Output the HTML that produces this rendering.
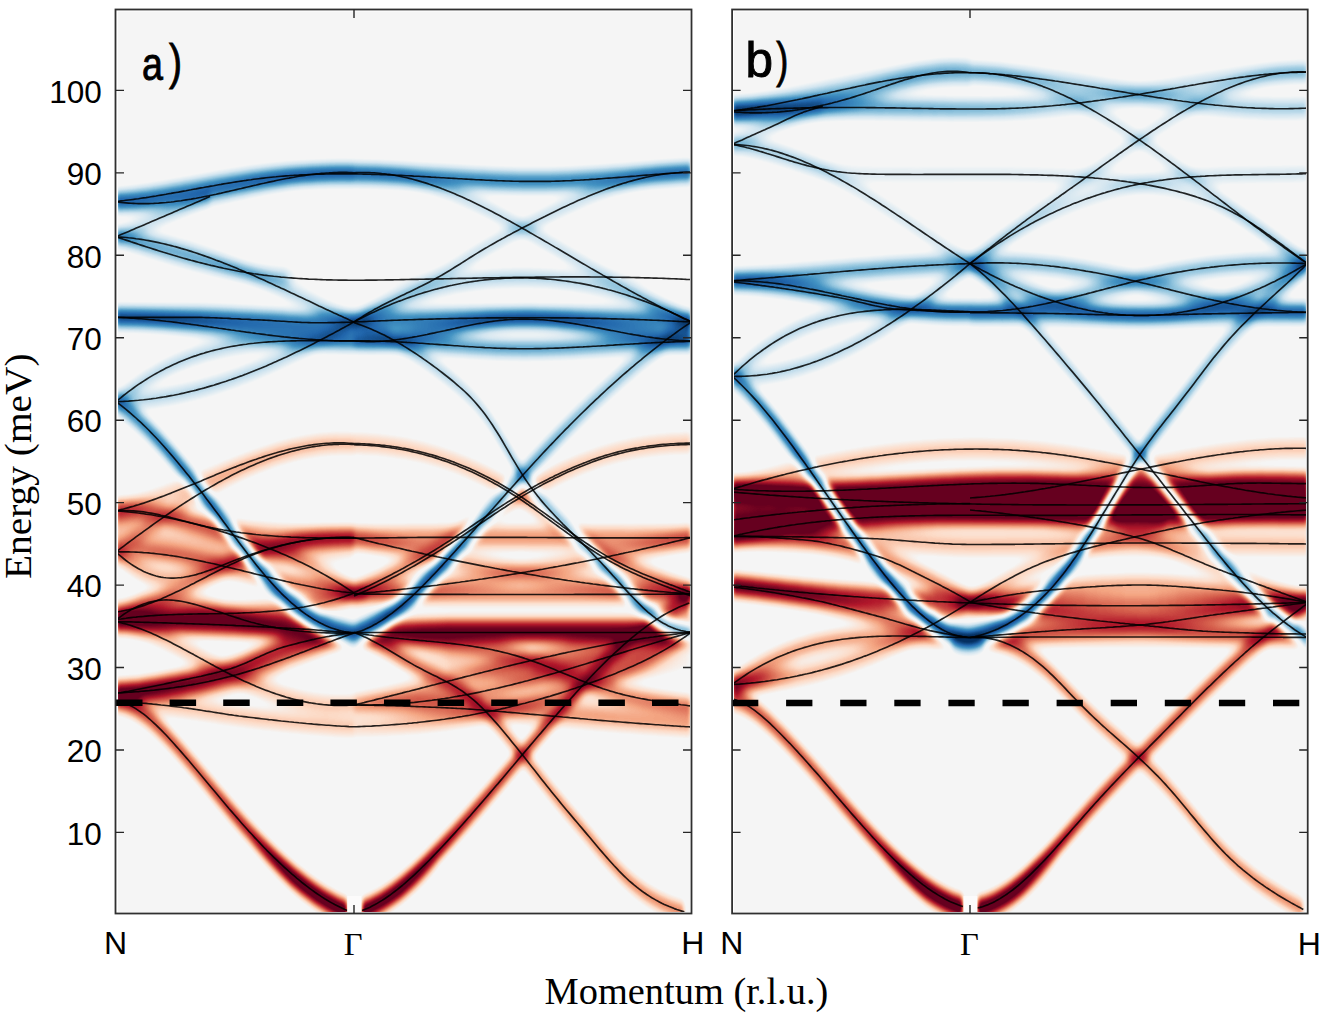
<!DOCTYPE html><html><head><meta charset="utf-8"><style>
html,body{margin:0;padding:0;background:#fff;}
svg{display:block}
</style></head><body>
<svg width="1321" height="1014" viewBox="0 0 1321 1014">
<defs>
<clipPath id="clipa"><rect x="118" y="11.5" width="572" height="900.5"/></clipPath>
<filter id="cma" x="86" y="-20" width="636" height="960" filterUnits="userSpaceOnUse" color-interpolation-filters="sRGB">
<feGaussianBlur stdDeviation="2.2 5.5"/>
<feComponentTransfer><feFuncR type="table" tableValues="0.0196 0.0196 0.1294 0.2627 0.5725 0.8196 0.9608 0.9608 0.9922 0.9569 0.8392 0.6980 0.4039 0.4039"/><feFuncG type="table" tableValues="0.1882 0.1882 0.4000 0.5765 0.7725 0.8980 0.9647 0.9647 0.8588 0.6471 0.3765 0.0941 0.0000 0.0000"/><feFuncB type="table" tableValues="0.3804 0.3804 0.6745 0.7647 0.8706 0.9412 0.9647 0.9647 0.7804 0.5098 0.3020 0.1686 0.1216 0.1216"/></feComponentTransfer>
</filter>
<clipPath id="clipb"><rect x="734" y="11.5" width="572" height="900.5"/></clipPath>
<filter id="cmb" x="702" y="-20" width="636" height="960" filterUnits="userSpaceOnUse" color-interpolation-filters="sRGB">
<feGaussianBlur stdDeviation="2.2 5.5"/>
<feComponentTransfer><feFuncR type="table" tableValues="0.0196 0.0196 0.1294 0.2627 0.5725 0.8196 0.9608 0.9608 0.9922 0.9569 0.8392 0.6980 0.4039 0.4039"/><feFuncG type="table" tableValues="0.1882 0.1882 0.4000 0.5765 0.7725 0.8980 0.9647 0.9647 0.8588 0.6471 0.3765 0.0941 0.0000 0.0000"/><feFuncB type="table" tableValues="0.3804 0.3804 0.6745 0.7647 0.8706 0.9412 0.9647 0.9647 0.7804 0.5098 0.3020 0.1686 0.1216 0.1216"/></feComponentTransfer>
</filter>
<linearGradient id="ga18" gradientUnits="userSpaceOnUse" x1="116.0" y1="0" x2="354.0" y2="0"><stop offset="0.000" stop-color="#fff" stop-opacity="0.3"/><stop offset="0.773" stop-color="#fff" stop-opacity="0.2"/><stop offset="1.000" stop-color="#fff" stop-opacity="0.18"/></linearGradient>
<linearGradient id="ga19" gradientUnits="userSpaceOnUse" x1="116.0" y1="0" x2="354.0" y2="0"><stop offset="0.000" stop-color="#fff" stop-opacity="0.3"/><stop offset="0.773" stop-color="#fff" stop-opacity="0.2"/><stop offset="1.000" stop-color="#fff" stop-opacity="0.18"/></linearGradient>
<linearGradient id="ga20" gradientUnits="userSpaceOnUse" x1="354.0" y1="0" x2="691.0" y2="0"><stop offset="0.000" stop-color="#fff" stop-opacity="0.3"/><stop offset="0.285" stop-color="#fff" stop-opacity="0.28"/><stop offset="1.000" stop-color="#fff" stop-opacity="0.5"/></linearGradient>
<linearGradient id="ga21" gradientUnits="userSpaceOnUse" x1="354.0" y1="0" x2="691.0" y2="0"><stop offset="0.000" stop-color="#fff" stop-opacity="0.5"/><stop offset="0.730" stop-color="#fff" stop-opacity="0.28"/><stop offset="1.000" stop-color="#fff" stop-opacity="0.3"/></linearGradient>
<linearGradient id="ga24" gradientUnits="userSpaceOnUse" x1="116.0" y1="0" x2="691.0" y2="0"><stop offset="0.000" stop-color="#fff" stop-opacity="0.35"/><stop offset="0.285" stop-color="#fff" stop-opacity="0.38"/><stop offset="0.414" stop-color="#fff" stop-opacity="0.42"/><stop offset="1.000" stop-color="#fff" stop-opacity="0.42"/></linearGradient>
<linearGradient id="ga27" gradientUnits="userSpaceOnUse" x1="116.0" y1="0" x2="354.0" y2="0"><stop offset="0.000" stop-color="#fff" stop-opacity="0.4"/><stop offset="0.563" stop-color="#fff" stop-opacity="0.4"/><stop offset="1.000" stop-color="#fff" stop-opacity="0.6"/></linearGradient>
<linearGradient id="ga28" gradientUnits="userSpaceOnUse" x1="116.0" y1="0" x2="354.0" y2="0"><stop offset="0.000" stop-color="#fff" stop-opacity="0.3"/><stop offset="0.773" stop-color="#fff" stop-opacity="0.3"/><stop offset="1.000" stop-color="#fff" stop-opacity="0.1"/></linearGradient>
<linearGradient id="ga35" gradientUnits="userSpaceOnUse" x1="116.0" y1="0" x2="691.0" y2="0"><stop offset="0.000" stop-color="#fff" stop-opacity="0.75"/><stop offset="0.285" stop-color="#fff" stop-opacity="0.7"/><stop offset="0.414" stop-color="#fff" stop-opacity="0.6"/><stop offset="0.529" stop-color="#fff" stop-opacity="0.8"/><stop offset="1.000" stop-color="#fff" stop-opacity="0.8"/></linearGradient>
<linearGradient id="ga36" gradientUnits="userSpaceOnUse" x1="116.0" y1="0" x2="691.0" y2="0"><stop offset="0.000" stop-color="#fff" stop-opacity="0.45"/><stop offset="0.233" stop-color="#fff" stop-opacity="0.4"/><stop offset="0.390" stop-color="#fff" stop-opacity="0.1"/><stop offset="0.442" stop-color="#fff" stop-opacity="0.1"/><stop offset="0.581" stop-color="#fff" stop-opacity="0.45"/><stop offset="1.000" stop-color="#fff" stop-opacity="0.45"/></linearGradient>
<linearGradient id="ga40" gradientUnits="userSpaceOnUse" x1="116.0" y1="0" x2="310.0" y2="0"><stop offset="0.000" stop-color="#fff" stop-opacity="0.65"/><stop offset="0.433" stop-color="#fff" stop-opacity="0.5"/><stop offset="0.897" stop-color="#fff" stop-opacity="0.0"/></linearGradient>
<linearGradient id="ga43" gradientUnits="userSpaceOnUse" x1="354.0" y1="0" x2="691.0" y2="0"><stop offset="0.000" stop-color="#fff" stop-opacity="0.22"/><stop offset="0.226" stop-color="#fff" stop-opacity="0.35"/><stop offset="0.493" stop-color="#fff" stop-opacity="0.45"/><stop offset="1.000" stop-color="#fff" stop-opacity="0.45"/></linearGradient>
<linearGradient id="ga44" gradientUnits="userSpaceOnUse" x1="354.0" y1="0" x2="691.0" y2="0"><stop offset="0.000" stop-color="#fff" stop-opacity="0.2"/><stop offset="0.226" stop-color="#fff" stop-opacity="0.35"/><stop offset="0.493" stop-color="#fff" stop-opacity="0.45"/><stop offset="1.000" stop-color="#fff" stop-opacity="0.45"/></linearGradient>
<linearGradient id="ga45" gradientUnits="userSpaceOnUse" x1="354.0" y1="0" x2="691.0" y2="0"><stop offset="0.000" stop-color="#fff" stop-opacity="0.2"/><stop offset="0.226" stop-color="#fff" stop-opacity="0.35"/><stop offset="0.493" stop-color="#fff" stop-opacity="0.45"/><stop offset="1.000" stop-color="#fff" stop-opacity="0.45"/></linearGradient>
<linearGradient id="ga46" gradientUnits="userSpaceOnUse" x1="354.0" y1="0" x2="691.0" y2="0"><stop offset="0.000" stop-color="#fff" stop-opacity="0.0"/><stop offset="0.196" stop-color="#fff" stop-opacity="0.2"/><stop offset="0.730" stop-color="#fff" stop-opacity="0.25"/><stop offset="1.000" stop-color="#fff" stop-opacity="0.25"/></linearGradient>
<linearGradient id="ga47" gradientUnits="userSpaceOnUse" x1="400.0" y1="0" x2="691.0" y2="0"><stop offset="0.000" stop-color="#fff" stop-opacity="0.0"/><stop offset="0.172" stop-color="#fff" stop-opacity="0.25"/><stop offset="0.825" stop-color="#fff" stop-opacity="0.25"/><stop offset="1.000" stop-color="#fff" stop-opacity="0.1"/></linearGradient>
<linearGradient id="ga48" gradientUnits="userSpaceOnUse" x1="354.0" y1="0" x2="691.0" y2="0"><stop offset="0.000" stop-color="#fff" stop-opacity="0.1"/><stop offset="0.285" stop-color="#fff" stop-opacity="0.25"/><stop offset="1.000" stop-color="#fff" stop-opacity="0.3"/></linearGradient>
<linearGradient id="ga49" gradientUnits="userSpaceOnUse" x1="116.0" y1="0" x2="347.3" y2="0"><stop offset="0.000" stop-color="#fff" stop-opacity="0.6"/><stop offset="0.363" stop-color="#fff" stop-opacity="0.62"/><stop offset="0.623" stop-color="#fff" stop-opacity="0.8"/><stop offset="0.796" stop-color="#fff" stop-opacity="0.95"/><stop offset="0.999" stop-color="#fff" stop-opacity="1.0"/></linearGradient>
<linearGradient id="ga50" gradientUnits="userSpaceOnUse" x1="250.0" y1="0" x2="347.3" y2="0"><stop offset="0.000" stop-color="#fff" stop-opacity="0.0"/><stop offset="0.411" stop-color="#fff" stop-opacity="0.85"/><stop offset="0.997" stop-color="#fff" stop-opacity="0.95"/></linearGradient>
<linearGradient id="ga51" gradientUnits="userSpaceOnUse" x1="362.0" y1="0" x2="689.3" y2="0"><stop offset="0.000" stop-color="#fff" stop-opacity="1.0"/><stop offset="0.177" stop-color="#fff" stop-opacity="0.95"/><stop offset="0.330" stop-color="#fff" stop-opacity="0.75"/><stop offset="0.483" stop-color="#fff" stop-opacity="0.65"/><stop offset="0.727" stop-color="#fff" stop-opacity="0.6"/><stop offset="1.005" stop-color="#fff" stop-opacity="0.7"/></linearGradient>
<linearGradient id="ga52" gradientUnits="userSpaceOnUse" x1="362.0" y1="0" x2="440.0" y2="0"><stop offset="0.000" stop-color="#fff" stop-opacity="0.9"/><stop offset="0.487" stop-color="#fff" stop-opacity="0.8"/><stop offset="1.000" stop-color="#fff" stop-opacity="0.0"/></linearGradient>
<linearGradient id="ga53" gradientUnits="userSpaceOnUse" x1="354.0" y1="0" x2="684.3" y2="0"><stop offset="0.000" stop-color="#fff" stop-opacity="0.6"/><stop offset="0.442" stop-color="#fff" stop-opacity="0.5"/><stop offset="0.745" stop-color="#fff" stop-opacity="0.5"/><stop offset="0.999" stop-color="#fff" stop-opacity="0.5"/></linearGradient>
<linearGradient id="ga3" gradientUnits="userSpaceOnUse" x1="116.0" y1="0" x2="691.3" y2="0"><stop offset="0.000" stop-color="#000" stop-opacity="0.4"/><stop offset="0.292" stop-color="#000" stop-opacity="0.4"/><stop offset="0.313" stop-color="#000" stop-opacity="0.08"/><stop offset="1.001" stop-color="#000" stop-opacity="0.08"/></linearGradient>
<linearGradient id="ga12" gradientUnits="userSpaceOnUse" x1="116.0" y1="0" x2="354.0" y2="0"><stop offset="0.000" stop-color="#000" stop-opacity="0.55"/><stop offset="0.353" stop-color="#000" stop-opacity="0.75"/><stop offset="1.000" stop-color="#000" stop-opacity="0.92"/></linearGradient>
<linearGradient id="ga16" gradientUnits="userSpaceOnUse" x1="354.0" y1="0" x2="691.0" y2="0"><stop offset="0.000" stop-color="#000" stop-opacity="0.4"/><stop offset="0.374" stop-color="#000" stop-opacity="0.35"/><stop offset="0.499" stop-color="#000" stop-opacity="0.5"/><stop offset="0.730" stop-color="#000" stop-opacity="0.8"/><stop offset="1.000" stop-color="#000" stop-opacity="0.85"/></linearGradient>
<linearGradient id="ga17" gradientUnits="userSpaceOnUse" x1="354.0" y1="0" x2="691.3" y2="0"><stop offset="0.000" stop-color="#000" stop-opacity="0.92"/><stop offset="0.285" stop-color="#000" stop-opacity="0.85"/><stop offset="0.498" stop-color="#000" stop-opacity="0.55"/><stop offset="0.729" stop-color="#000" stop-opacity="0.4"/><stop offset="0.999" stop-color="#000" stop-opacity="0.4"/></linearGradient>
<linearGradient id="gb30" gradientUnits="userSpaceOnUse" x1="732.0" y1="0" x2="1308.0" y2="0"><stop offset="0.000" stop-color="#fff" stop-opacity="0.8"/><stop offset="0.257" stop-color="#fff" stop-opacity="0.7"/><stop offset="0.413" stop-color="#fff" stop-opacity="0.6"/><stop offset="0.708" stop-color="#fff" stop-opacity="0.5"/><stop offset="1.000" stop-color="#fff" stop-opacity="0.65"/></linearGradient>
<linearGradient id="gb40" gradientUnits="userSpaceOnUse" x1="732.0" y1="0" x2="963.0" y2="0"><stop offset="0.000" stop-color="#fff" stop-opacity="0.6"/><stop offset="0.381" stop-color="#fff" stop-opacity="0.62"/><stop offset="0.641" stop-color="#fff" stop-opacity="0.8"/><stop offset="0.814" stop-color="#fff" stop-opacity="0.95"/><stop offset="1.000" stop-color="#fff" stop-opacity="1.0"/></linearGradient>
<linearGradient id="gb41" gradientUnits="userSpaceOnUse" x1="880.0" y1="0" x2="963.0" y2="0"><stop offset="0.000" stop-color="#fff" stop-opacity="0.0"/><stop offset="0.422" stop-color="#fff" stop-opacity="0.85"/><stop offset="1.000" stop-color="#fff" stop-opacity="0.95"/></linearGradient>
<linearGradient id="gb42" gradientUnits="userSpaceOnUse" x1="977.5" y1="0" x2="1308.0" y2="0"><stop offset="-0.002" stop-color="#fff" stop-opacity="1.0"/><stop offset="0.159" stop-color="#fff" stop-opacity="0.95"/><stop offset="0.310" stop-color="#fff" stop-opacity="0.75"/><stop offset="0.492" stop-color="#fff" stop-opacity="0.65"/><stop offset="0.825" stop-color="#fff" stop-opacity="0.6"/><stop offset="1.000" stop-color="#fff" stop-opacity="0.7"/></linearGradient>
<linearGradient id="gb43" gradientUnits="userSpaceOnUse" x1="977.5" y1="0" x2="1061.8" y2="0"><stop offset="-0.006" stop-color="#fff" stop-opacity="0.9"/><stop offset="0.504" stop-color="#fff" stop-opacity="0.8"/><stop offset="0.991" stop-color="#fff" stop-opacity="0.0"/></linearGradient>
<linearGradient id="gb44" gradientUnits="userSpaceOnUse" x1="970.0" y1="0" x2="1303.3" y2="0"><stop offset="0.000" stop-color="#fff" stop-opacity="0.6"/><stop offset="0.390" stop-color="#fff" stop-opacity="0.5"/><stop offset="0.990" stop-color="#fff" stop-opacity="0.5"/></linearGradient>
<linearGradient id="gb45" gradientUnits="userSpaceOnUse" x1="732.0" y1="0" x2="840.0" y2="0"><stop offset="0.000" stop-color="#fff" stop-opacity="0.7"/><stop offset="0.630" stop-color="#fff" stop-opacity="0.6"/><stop offset="1.000" stop-color="#fff" stop-opacity="0.0"/></linearGradient>
<linearGradient id="gb46" gradientUnits="userSpaceOnUse" x1="732.0" y1="0" x2="800.0" y2="0"><stop offset="0.000" stop-color="#fff" stop-opacity="0.7"/><stop offset="0.412" stop-color="#fff" stop-opacity="0.5"/><stop offset="1.000" stop-color="#fff" stop-opacity="0.0"/></linearGradient>
<linearGradient id="gb0" gradientUnits="userSpaceOnUse" x1="732.0" y1="0" x2="970.0" y2="0"><stop offset="0.000" stop-color="#000" stop-opacity="0.5"/><stop offset="0.496" stop-color="#000" stop-opacity="0.35"/><stop offset="1.000" stop-color="#000" stop-opacity="0.3"/></linearGradient>
<linearGradient id="gb1" gradientUnits="userSpaceOnUse" x1="732.0" y1="0" x2="970.0" y2="0"><stop offset="0.000" stop-color="#000" stop-opacity="0.5"/><stop offset="0.496" stop-color="#000" stop-opacity="0.3"/><stop offset="1.000" stop-color="#000" stop-opacity="0.25"/></linearGradient>
<linearGradient id="gb3" gradientUnits="userSpaceOnUse" x1="732.0" y1="0" x2="1307.6" y2="0"><stop offset="0.000" stop-color="#000" stop-opacity="0.55"/><stop offset="0.292" stop-color="#000" stop-opacity="0.5"/><stop offset="0.466" stop-color="#000" stop-opacity="0.45"/><stop offset="0.639" stop-color="#000" stop-opacity="0.3"/><stop offset="1.001" stop-color="#000" stop-opacity="0.3"/></linearGradient>
<linearGradient id="gb19" gradientUnits="userSpaceOnUse" x1="732.0" y1="0" x2="970.0" y2="0"><stop offset="0.000" stop-color="#000" stop-opacity="0.55"/><stop offset="0.286" stop-color="#000" stop-opacity="0.8"/><stop offset="1.000" stop-color="#000" stop-opacity="0.95"/></linearGradient>
<linearGradient id="gb20" gradientUnits="userSpaceOnUse" x1="970.0" y1="0" x2="1307.4" y2="0"><stop offset="0.000" stop-color="#000" stop-opacity="0.95"/><stop offset="0.326" stop-color="#000" stop-opacity="0.85"/><stop offset="0.504" stop-color="#000" stop-opacity="0.6"/><stop offset="0.741" stop-color="#000" stop-opacity="0.4"/><stop offset="0.999" stop-color="#000" stop-opacity="0.4"/></linearGradient>
<linearGradient id="gb21" gradientUnits="userSpaceOnUse" x1="970.0" y1="0" x2="1308.0" y2="0"><stop offset="0.000" stop-color="#000" stop-opacity="0.4"/><stop offset="0.385" stop-color="#000" stop-opacity="0.4"/><stop offset="0.503" stop-color="#000" stop-opacity="0.55"/><stop offset="0.740" stop-color="#000" stop-opacity="0.8"/><stop offset="1.000" stop-color="#000" stop-opacity="0.85"/></linearGradient>
</defs>
<rect width="1321" height="1014" fill="#fff"/>
<g clip-path="url(#clipa)"><g filter="url(#cma)">
<rect x="86" y="-20" width="636" height="960" fill="rgb(128,128,128)"/>
<path d="M116,502.3L120,501.3L124.1,500.3L128.1,499.2L132.1,498.1L136.2,496.9L140.2,495.6L144.2,494.3L148.3,493L152.3,491.6L156.3,490.1L160.4,488.7L164.4,487.2L168.4,485.6L172.5,484L176.5,482.4L180.5,480.8L184.6,479.2L188.6,477.5L192.6,475.9L196.7,474.2L200.7,472.5L204.7,470.9L208.8,469.2L212.8,467.5L216.8,465.9L220.9,464.2L224.9,462.6L228.9,460.9L233,459.3L237,457.8L241.1,456.2L245.1,454.7L249.1,453.2L253.2,451.8L257.2,450.4L261.2,449L265.3,447.7L269.3,446.4L273.3,445.1L277.4,444L281.4,442.8L285.4,441.8L289.5,440.8L293.5,439.8L297.5,439L301.6,438.1L305.6,437.4L309.6,436.7L313.7,436.2L317.7,435.6L321.7,435.2L325.8,434.9L329.8,434.6L333.8,434.4L337.9,434.4L341.9,434.4L345.9,434.5L350,434.7L354,435L354,452L350,451.7L345.9,451.5L341.9,451.4L337.9,451.4L333.8,451.4L329.8,451.6L325.8,451.9L321.7,452.2L317.7,452.6L313.7,453.2L309.6,453.7L305.6,454.4L301.6,455.1L297.5,456L293.5,456.8L289.5,457.8L285.4,458.8L281.4,459.8L277.4,461L273.3,462.1L269.3,463.4L265.3,464.7L261.2,466L257.2,467.4L253.2,468.8L249.1,470.2L245.1,471.7L241.1,473.2L237,474.8L233,476.3L228.9,477.9L224.9,479.6L220.9,481.2L216.8,482.9L212.8,484.5L208.8,486.2L204.7,487.9L200.7,489.5L196.7,491.2L192.6,492.9L188.6,494.5L184.6,496.2L180.5,497.8L176.5,499.4L172.5,501L168.4,502.6L164.4,504.2L160.4,505.7L156.3,507.1L152.3,508.6L148.3,510L144.2,511.3L140.2,512.6L136.2,513.9L132.1,515.1L128.1,516.2L124.1,517.3L120,518.3L116,519.3Z" fill="url(#ga18)"/>
<path d="M116,543.5L120,540.4L124.1,537.4L128.1,534.4L132.1,531.3L136.2,528.3L140.2,525.4L144.2,522.4L148.3,519.5L152.3,516.6L156.3,513.7L160.4,510.9L164.4,508.1L168.4,505.3L172.5,502.5L176.5,499.8L180.5,497.1L184.6,494.5L188.6,491.9L192.6,489.3L196.7,486.8L200.7,484.3L204.7,481.9L208.8,479.5L212.8,477.2L216.8,474.9L220.9,472.6L224.9,470.4L228.9,468.3L233,466.2L237,464.2L241.1,462.2L245.1,460.3L249.1,458.5L253.2,456.7L257.2,454.9L261.2,453.3L265.3,451.7L269.3,450.2L273.3,448.7L277.4,447.3L281.4,446L285.4,444.7L289.5,443.6L293.5,442.5L297.5,441.4L301.6,440.5L305.6,439.6L309.6,438.9L313.7,438.2L317.7,437.5L321.7,437L325.8,436.6L329.8,436.2L333.8,436L337.9,435.8L341.9,435.7L345.9,435.7L350,435.8L354,436L354,453L350,452.8L345.9,452.7L341.9,452.7L337.9,452.8L333.8,453L329.8,453.2L325.8,453.6L321.7,454L317.7,454.5L313.7,455.2L309.6,455.9L305.6,456.6L301.6,457.5L297.5,458.4L293.5,459.5L289.5,460.6L285.4,461.7L281.4,463L277.4,464.3L273.3,465.7L269.3,467.2L265.3,468.7L261.2,470.3L257.2,471.9L253.2,473.7L249.1,475.5L245.1,477.3L241.1,479.2L237,481.2L233,483.2L228.9,485.3L224.9,487.4L220.9,489.6L216.8,491.9L212.8,494.2L208.8,496.5L204.7,498.9L200.7,501.3L196.7,503.8L192.6,506.3L188.6,508.9L184.6,511.5L180.5,514.1L176.5,516.8L172.5,519.5L168.4,522.3L164.4,525.1L160.4,527.9L156.3,530.7L152.3,533.6L148.3,536.5L144.2,539.4L140.2,542.4L136.2,545.3L132.1,548.3L128.1,551.4L124.1,554.4L120,557.4L116,560.5Z" fill="url(#ga19)"/>
<path d="M354,435L358,435.1L362,435.2L366,435.4L370,435.7L374.1,436L378.1,436.3L382.1,436.7L386.1,437.2L390.1,437.7L394.1,438.2L398.1,438.9L402.1,439.5L406.2,440.3L410.2,441.1L414.2,441.9L418.2,442.8L422.2,443.8L426.2,444.8L430.2,445.9L434.2,447.1L438.2,448.3L442.3,449.6L446.3,450.9L450.3,452.3L454.3,453.8L458.3,455.3L462.3,456.9L466.3,458.6L470.3,460.4L474.4,462.2L478.4,464L482.4,466L486.4,468L490.4,470.1L494.4,472.2L498.4,474.4L502.4,476.7L506.5,479.1L510.5,481.5L514.5,484.1L518.5,486.6L522.5,489.3L526.5,492L530.5,494.8L534.5,497.6L538.5,500.5L542.6,503.3L546.6,506.3L550.6,509.2L554.6,512.1L558.6,515.1L562.6,518L566.6,520.9L570.6,523.8L574.7,526.7L578.7,529.5L582.7,532.3L586.7,535L590.7,537.7L594.7,540.3L598.7,542.8L602.7,545.3L606.8,547.6L610.8,549.9L614.8,552.1L618.8,554.2L622.8,556.2L626.8,558.1L630.8,560L634.8,561.8L638.8,563.6L642.9,565.3L646.9,567L650.9,568.6L654.9,570.2L658.9,571.8L662.9,573.3L666.9,574.9L670.9,576.4L675,577.9L679,579.4L683,580.9L687,582.5L691,584L691,601L687,599.5L683,597.9L679,596.4L675,594.9L670.9,593.4L666.9,591.9L662.9,590.3L658.9,588.8L654.9,587.2L650.9,585.6L646.9,584L642.9,582.3L638.8,580.6L634.8,578.8L630.8,577L626.8,575.1L622.8,573.2L618.8,571.2L614.8,569.1L610.8,566.9L606.8,564.6L602.7,562.3L598.7,559.8L594.7,557.3L590.7,554.7L586.7,552L582.7,549.3L578.7,546.5L574.7,543.7L570.6,540.8L566.6,537.9L562.6,535L558.6,532.1L554.6,529.1L550.6,526.2L546.6,523.3L542.6,520.3L538.5,517.5L534.5,514.6L530.5,511.8L526.5,509L522.5,506.3L518.5,503.6L514.5,501.1L510.5,498.5L506.5,496.1L502.4,493.7L498.4,491.4L494.4,489.2L490.4,487.1L486.4,485L482.4,483L478.4,481L474.4,479.2L470.3,477.4L466.3,475.6L462.3,473.9L458.3,472.3L454.3,470.8L450.3,469.3L446.3,467.9L442.3,466.6L438.2,465.3L434.2,464.1L430.2,462.9L426.2,461.8L422.2,460.8L418.2,459.8L414.2,458.9L410.2,458.1L406.2,457.3L402.1,456.5L398.1,455.9L394.1,455.2L390.1,454.7L386.1,454.2L382.1,453.7L378.1,453.3L374.1,453L370,452.7L366,452.4L362,452.2L358,452.1L354,452Z" fill="url(#ga20)"/>
<path d="M354,584L358,582.2L362,580.4L366,578.6L370,576.7L374.1,574.8L378.1,572.9L382.1,570.9L386.1,568.8L390.1,566.8L394.1,564.7L398.1,562.6L402.1,560.4L406.2,558.2L410.2,555.9L414.2,553.7L418.2,551.4L422.2,549L426.2,546.7L430.2,544.2L434.2,541.8L438.2,539.3L442.3,536.8L446.3,534.3L450.3,531.7L454.3,529.1L458.3,526.5L462.3,523.8L466.3,521.2L470.3,518.4L474.4,515.7L478.4,513L482.4,510.3L486.4,507.6L490.4,504.9L494.4,502.2L498.4,499.6L502.4,497L506.5,494.4L510.5,491.9L514.5,489.4L518.5,487L522.5,484.6L526.5,482.3L530.5,480L534.5,477.8L538.5,475.6L542.6,473.5L546.6,471.4L550.6,469.4L554.6,467.4L558.6,465.5L562.6,463.6L566.6,461.8L570.6,460L574.7,458.3L578.7,456.6L582.7,455L586.7,453.5L590.7,451.9L594.7,450.5L598.7,449.1L602.7,447.8L606.8,446.6L610.8,445.4L614.8,444.3L618.8,443.3L622.8,442.3L626.8,441.4L630.8,440.5L634.8,439.8L638.8,439.1L642.9,438.4L646.9,437.8L650.9,437.3L654.9,436.8L658.9,436.3L662.9,435.9L666.9,435.6L670.9,435.3L675,435.1L679,434.9L683,434.7L687,434.6L691,434.5L691,451.5L687,451.6L683,451.7L679,451.9L675,452.1L670.9,452.3L666.9,452.6L662.9,452.9L658.9,453.3L654.9,453.8L650.9,454.3L646.9,454.8L642.9,455.4L638.8,456.1L634.8,456.8L630.8,457.5L626.8,458.4L622.8,459.3L618.8,460.3L614.8,461.3L610.8,462.4L606.8,463.6L602.7,464.8L598.7,466.1L594.7,467.5L590.7,468.9L586.7,470.5L582.7,472L578.7,473.6L574.7,475.3L570.6,477L566.6,478.8L562.6,480.6L558.6,482.5L554.6,484.4L550.6,486.4L546.6,488.4L542.6,490.5L538.5,492.6L534.5,494.8L530.5,497L526.5,499.3L522.5,501.6L518.5,504L514.5,506.4L510.5,508.9L506.5,511.4L502.4,514L498.4,516.6L494.4,519.2L490.4,521.9L486.4,524.6L482.4,527.3L478.4,530L474.4,532.7L470.3,535.4L466.3,538.2L462.3,540.8L458.3,543.5L454.3,546.1L450.3,548.7L446.3,551.3L442.3,553.8L438.2,556.3L434.2,558.8L430.2,561.2L426.2,563.7L422.2,566L418.2,568.4L414.2,570.7L410.2,572.9L406.2,575.2L402.1,577.4L398.1,579.6L394.1,581.7L390.1,583.8L386.1,585.8L382.1,587.9L378.1,589.9L374.1,591.8L370,593.7L366,595.6L362,597.4L358,599.2L354,601Z" fill="url(#ga21)"/>
<path d="M116,500.6L120,500.4L124,500.3L128.1,500.4L132.1,500.6L136.1,500.9L140.1,501.3L144.1,501.8L148.2,502.4L152.2,503.1L156.2,503.9L160.2,504.8L164.3,505.7L168.3,506.7L172.3,507.7L176.3,508.8L180.3,509.8L184.4,510.9L188.4,512L192.4,513L196.4,514L200.4,515L204.5,516L208.5,516.8L212.5,517.7L216.5,518.5L220.5,519.2L224.6,520L228.6,520.6L232.6,521.3L236.6,521.9L240.7,522.4L244.7,523L248.7,523.4L252.7,523.9L256.7,524.3L260.8,524.7L264.8,525.1L268.8,525.4L272.8,525.8L276.8,526L280.9,526.3L284.9,526.5L288.9,526.8L292.9,527L296.9,527.1L301,527.3L305,527.4L309,527.6L313,527.7L317,527.7L321.1,527.8L325.1,527.9L329.1,527.9L333.1,527.9L337.2,528L341.2,528L345.2,528L349.2,528L353.2,527.9L357.3,527.9L361.3,527.9L365.3,527.8L369.3,527.8L373.3,527.8L377.4,527.7L381.4,527.7L385.4,527.6L389.4,527.6L393.4,527.5L397.5,527.5L401.5,527.4L405.5,527.4L409.5,527.3L413.6,527.3L417.6,527.3L421.6,527.2L425.6,527.2L429.6,527.2L433.7,527.2L437.7,527.1L441.7,527.1L445.7,527.1L449.7,527.1L453.8,527.1L457.8,527.1L461.8,527.1L465.8,527.1L469.8,527.1L473.9,527.1L477.9,527.1L481.9,527.1L485.9,527.1L490,527.1L494,527.1L498,527.1L502,527.1L506,527.2L510.1,527.2L514.1,527.2L518.1,527.2L522.1,527.2L526.1,527.2L530.2,527.3L534.2,527.3L538.2,527.3L542.2,527.3L546.2,527.3L550.3,527.4L554.3,527.4L558.3,527.4L562.3,527.4L566.3,527.5L570.4,527.5L574.4,527.5L578.4,527.5L582.4,527.5L586.5,527.5L590.5,527.6L594.5,527.6L598.5,527.6L602.5,527.6L606.6,527.6L610.6,527.6L614.6,527.6L618.6,527.6L622.6,527.6L626.7,527.7L630.7,527.7L634.7,527.7L638.7,527.6L642.7,527.6L646.8,527.6L650.8,527.6L654.8,527.6L658.8,527.6L662.9,527.6L666.9,527.6L670.9,527.5L674.9,527.5L678.9,527.5L683,527.5L687,527.4L691,527.4L691,547.8L687,547.8L683,547.9L678.9,547.9L674.9,547.9L670.9,547.9L666.9,548L662.9,548L658.8,548L654.8,548L650.8,548L646.8,548L642.7,548L638.7,548L634.7,548.1L630.7,548.1L626.7,548.1L622.6,548L618.6,548L614.6,548L610.6,548L606.6,548L602.5,548L598.5,548L594.5,548L590.5,548L586.5,547.9L582.4,547.9L578.4,547.9L574.4,547.9L570.4,547.9L566.3,547.9L562.3,547.8L558.3,547.8L554.3,547.8L550.3,547.8L546.2,547.7L542.2,547.7L538.2,547.7L534.2,547.7L530.2,547.7L526.1,547.6L522.1,547.6L518.1,547.6L514.1,547.6L510.1,547.6L506,547.6L502,547.5L498,547.5L494,547.5L490,547.5L485.9,547.5L481.9,547.5L477.9,547.5L473.9,547.5L469.8,547.5L465.8,547.5L461.8,547.5L457.8,547.5L453.8,547.5L449.7,547.5L445.7,547.5L441.7,547.5L437.7,547.5L433.7,547.6L429.6,547.6L425.6,547.6L421.6,547.6L417.6,547.7L413.6,547.7L409.5,547.7L405.5,547.8L401.5,547.8L397.5,547.9L393.4,547.9L389.4,548L385.4,548L381.4,548.1L377.4,548.1L373.3,548.2L369.3,548.2L365.3,548.2L361.3,548.3L357.3,548.3L353.2,548.3L349.2,548.4L345.2,548.4L341.2,548.4L337.2,548.4L333.1,548.3L329.1,548.3L325.1,548.3L321.1,548.2L317,548.1L313,548.1L309,548L305,547.8L301,547.7L296.9,547.5L292.9,547.4L288.9,547.2L284.9,546.9L280.9,546.7L276.8,546.4L272.8,546.2L268.8,545.8L264.8,545.5L260.8,545.1L256.7,544.7L252.7,544.3L248.7,543.8L244.7,543.4L240.7,542.8L236.6,542.3L232.6,541.7L228.6,541L224.6,540.4L220.5,539.6L216.5,538.9L212.5,538.1L208.5,537.2L204.5,536.4L200.4,535.4L196.4,534.4L192.4,533.4L188.4,532.4L184.4,531.3L180.3,530.2L176.3,529.2L172.3,528.1L168.3,527.1L164.3,526.1L160.2,525.2L156.2,524.3L152.2,523.5L148.2,522.8L144.1,522.2L140.1,521.7L136.1,521.3L132.1,521L128.1,520.8L124,520.7L120,520.8L116,521Z" fill="url(#ga24)"/>
<path d="M116,502.3L120,502.6L124.1,502.9L128.1,503.3L132.1,503.8L136.2,504.2L140.2,504.8L144.2,505.3L148.3,505.9L152.3,506.5L156.3,507.2L160.4,507.9L164.4,508.6L168.4,509.4L172.5,510.2L176.5,511.1L180.5,512L184.6,512.9L188.6,513.9L192.6,514.9L196.7,515.9L200.7,517L204.7,518.1L208.8,519.2L212.8,520.3L216.8,521.5L220.9,522.8L224.9,524L228.9,525.3L233,526.6L237,528L241.1,529.3L245.1,530.8L249.1,532.2L253.2,533.7L257.2,535.1L261.2,536.7L265.3,538.2L269.3,539.9L273.3,541.5L277.4,543.2L281.4,544.9L285.4,546.7L289.5,548.5L293.5,550.3L297.5,552.2L301.6,554.2L305.6,556.2L309.6,558.2L313.7,560.3L317.7,562.4L321.7,564.7L325.8,566.9L329.8,569.2L333.8,571.6L337.9,574.1L341.9,576.6L345.9,579.1L350,581.7L354,584.4L354,601.4L350,598.7L345.9,596.1L341.9,593.6L337.9,591.1L333.8,588.6L329.8,586.2L325.8,583.9L321.7,581.7L317.7,579.4L313.7,577.3L309.6,575.2L305.6,573.2L301.6,571.2L297.5,569.2L293.5,567.3L289.5,565.5L285.4,563.7L281.4,561.9L277.4,560.2L273.3,558.5L269.3,556.9L265.3,555.2L261.2,553.7L257.2,552.1L253.2,550.7L249.1,549.2L245.1,547.8L241.1,546.3L237,545L233,543.6L228.9,542.3L224.9,541L220.9,539.8L216.8,538.5L212.8,537.3L208.8,536.2L204.7,535.1L200.7,534L196.7,532.9L192.6,531.9L188.6,530.9L184.6,529.9L180.5,529L176.5,528.1L172.5,527.2L168.4,526.4L164.4,525.6L160.4,524.9L156.3,524.2L152.3,523.5L148.3,522.9L144.2,522.3L140.2,521.8L136.2,521.2L132.1,520.8L128.1,520.3L124.1,519.9L120,519.6L116,519.3Z" fill="#fff" fill-opacity="0.35"/>
<path d="M116,543.5L120,547.1L124.1,550.5L128.1,553.6L132.1,556.4L136.2,558.9L140.2,561.2L144.2,563.2L148.3,564.9L152.3,566.3L156.3,567.5L160.4,568.4L164.4,569.1L168.4,569.5L172.5,569.6L176.5,569.5L180.5,569.2L184.6,568.6L188.6,567.9L192.6,567L196.7,565.9L200.7,564.7L204.7,563.4L208.8,562L212.8,560.5L216.8,559L220.9,557.4L224.9,555.8L228.9,554.2L233,552.6L237,551L241.1,549.5L245.1,548.1L249.1,546.6L253.2,545.2L257.2,543.9L261.2,542.6L265.3,541.4L269.3,540.2L273.3,539L277.4,537.9L281.4,536.9L285.4,535.9L289.5,535L293.5,534.1L297.5,533.3L301.6,532.6L305.6,531.9L309.6,531.3L313.7,530.7L317.7,530.3L321.7,529.8L325.8,529.5L329.8,529.2L333.8,529L337.9,528.9L341.9,528.8L345.9,528.9L350,529L354,529.1L354,546.1L350,546L345.9,545.9L341.9,545.8L337.9,545.9L333.8,546L329.8,546.2L325.8,546.5L321.7,546.8L317.7,547.3L313.7,547.7L309.6,548.3L305.6,548.9L301.6,549.6L297.5,550.3L293.5,551.1L289.5,552L285.4,552.9L281.4,553.9L277.4,554.9L273.3,556L269.3,557.2L265.3,558.4L261.2,559.6L257.2,560.9L253.2,562.2L249.1,563.6L245.1,565.1L241.1,566.5L237,568L233,569.6L228.9,571.2L224.9,572.8L220.9,574.4L216.8,576L212.8,577.5L208.8,579L204.7,580.4L200.7,581.7L196.7,582.9L192.6,584L188.6,584.9L184.6,585.6L180.5,586.2L176.5,586.5L172.5,586.6L168.4,586.5L164.4,586.1L160.4,585.4L156.3,584.5L152.3,583.3L148.3,581.9L144.2,580.2L140.2,578.2L136.2,575.9L132.1,573.4L128.1,570.6L124.1,567.5L120,564.1L116,560.5Z" fill="#fff" fill-opacity="0.35"/>
<path d="M116,543.5L120,543.4L124.1,543.4L128.1,543.4L132.1,543.5L136.2,543.6L140.2,543.8L144.2,544.1L148.3,544.4L152.3,544.8L156.3,545.2L160.4,545.7L164.4,546.2L168.4,546.7L172.5,547.3L176.5,548L180.5,548.6L184.6,549.4L188.6,550.1L192.6,550.9L196.7,551.7L200.7,552.5L204.7,553.4L208.8,554.2L212.8,555.1L216.8,556.1L220.9,557L224.9,558L228.9,558.9L233,559.9L237,560.9L241.1,561.9L245.1,562.9L249.1,563.9L253.2,564.9L257.2,565.9L261.2,566.9L265.3,567.9L269.3,568.9L273.3,569.9L277.4,570.8L281.4,571.8L285.4,572.7L289.5,573.7L293.5,574.6L297.5,575.5L301.6,576.3L305.6,577.1L309.6,578L313.7,578.7L317.7,579.5L321.7,580.2L325.8,580.9L329.8,581.5L333.8,582.1L337.9,582.7L341.9,583.2L345.9,583.7L350,584.1L354,584.5L354,601.5L350,601.1L345.9,600.7L341.9,600.2L337.9,599.7L333.8,599.1L329.8,598.5L325.8,597.9L321.7,597.2L317.7,596.5L313.7,595.7L309.6,595L305.6,594.1L301.6,593.3L297.5,592.5L293.5,591.6L289.5,590.7L285.4,589.7L281.4,588.8L277.4,587.8L273.3,586.9L269.3,585.9L265.3,584.9L261.2,583.9L257.2,582.9L253.2,581.9L249.1,580.9L245.1,579.9L241.1,578.9L237,577.9L233,576.9L228.9,575.9L224.9,575L220.9,574L216.8,573.1L212.8,572.1L208.8,571.2L204.7,570.4L200.7,569.5L196.7,568.7L192.6,567.9L188.6,567.1L184.6,566.4L180.5,565.6L176.5,565L172.5,564.3L168.4,563.7L164.4,563.2L160.4,562.7L156.3,562.2L152.3,561.8L148.3,561.4L144.2,561.1L140.2,560.8L136.2,560.6L132.1,560.5L128.1,560.4L124.1,560.4L120,560.4L116,560.5Z" fill="url(#ga27)"/>
<path d="M116,516.4L120,517.8L124.1,519.2L128.1,520.6L132.1,521.9L136.2,523.1L140.2,524.4L144.2,525.5L148.3,526.6L152.3,527.7L156.3,528.7L160.4,529.6L164.4,530.4L168.4,531.1L172.5,531.8L176.5,532.5L180.5,533.2L184.6,533.8L188.6,534.5L192.6,535.1L196.7,535.7L200.7,536.2L204.7,536.7L208.8,537.2L212.8,537.6L216.8,537.9L220.9,538.2L224.9,538.3L228.9,538.4L233,538.4L237,538.4L241.1,538.3L245.1,538.3L249.1,538.2L253.2,538.1L257.2,538L261.2,537.9L265.3,537.8L269.3,537.6L273.3,537.5L277.4,537.3L281.4,537.2L285.4,537L289.5,536.8L293.5,536.7L297.5,536.5L301.6,536.3L305.6,536.1L309.6,535.9L313.7,535.7L317.7,535.4L321.7,535.1L325.8,534.8L329.8,534.5L333.8,534.2L337.9,533.9L341.9,533.5L345.9,533.1L350,532.8L354,532.4L354,559.6L350,560L345.9,560.3L341.9,560.7L337.9,561.1L333.8,561.4L329.8,561.7L325.8,562L321.7,562.3L317.7,562.6L313.7,562.9L309.6,563.1L305.6,563.3L301.6,563.5L297.5,563.7L293.5,563.9L289.5,564L285.4,564.2L281.4,564.4L277.4,564.5L273.3,564.7L269.3,564.8L265.3,565L261.2,565.1L257.2,565.2L253.2,565.3L249.1,565.4L245.1,565.5L241.1,565.5L237,565.6L233,565.6L228.9,565.6L224.9,565.5L220.9,565.4L216.8,565.1L212.8,564.8L208.8,564.4L204.7,563.9L200.7,563.4L196.7,562.9L192.6,562.3L188.6,561.7L184.6,561L180.5,560.4L176.5,559.7L172.5,559L168.4,558.3L164.4,557.6L160.4,556.8L156.3,555.9L152.3,554.9L148.3,553.8L144.2,552.7L140.2,551.6L136.2,550.3L132.1,549.1L128.1,547.8L124.1,546.4L120,545L116,543.6Z" fill="url(#ga28)"/>
<path d="M116,603.5L120,603L124.1,602.2L128.1,601.4L132.1,600.4L136.2,599.3L140.2,598.1L144.2,596.8L148.3,595.4L152.3,593.9L156.3,592.4L160.4,590.7L164.4,589L168.4,587.2L172.5,585.3L176.5,583.4L180.5,581.4L184.6,579.5L188.6,577.4L192.6,575.4L196.7,573.3L200.7,571.2L204.7,569.2L208.8,567.1L212.8,565L216.8,563L220.9,560.9L224.9,558.9L228.9,556.9L233,555L237,553.1L241.1,551.3L245.1,549.5L249.1,547.8L253.2,546.2L257.2,544.7L261.2,543.2L265.3,541.9L269.3,540.5L273.3,539.3L277.4,538.2L281.4,537.1L285.4,536.1L289.5,535.2L293.5,534.3L297.5,533.5L301.6,532.8L305.6,532.1L309.6,531.5L313.7,531L317.7,530.6L321.7,530.2L325.8,529.8L329.8,529.6L333.8,529.3L337.9,529.2L341.9,529.1L345.9,529.1L350,529.1L354,529.1L354,546.1L350,546.1L345.9,546.1L341.9,546.1L337.9,546.2L333.8,546.3L329.8,546.6L325.8,546.8L321.7,547.2L317.7,547.6L313.7,548L309.6,548.5L305.6,549.1L301.6,549.8L297.5,550.5L293.5,551.3L289.5,552.2L285.4,553.1L281.4,554.1L277.4,555.2L273.3,556.3L269.3,557.5L265.3,558.9L261.2,560.2L257.2,561.7L253.2,563.2L249.1,564.8L245.1,566.5L241.1,568.3L237,570.1L233,572L228.9,573.9L224.9,575.9L220.9,577.9L216.8,580L212.8,582L208.8,584.1L204.7,586.2L200.7,588.2L196.7,590.3L192.6,592.4L188.6,594.4L184.6,596.5L180.5,598.4L176.5,600.4L172.5,602.3L168.4,604.2L164.4,606L160.4,607.7L156.3,609.4L152.3,610.9L148.3,612.4L144.2,613.8L140.2,615.1L136.2,616.3L132.1,617.4L128.1,618.4L124.1,619.2L120,620L116,620.5Z" fill="#fff" fill-opacity="0.35"/>
<path d="M354,529.1L358,530.1L362,531L366,532L370,533L374.1,533.9L378.1,534.9L382.1,535.8L386.1,536.8L390.1,537.7L394.1,538.7L398.1,539.6L402.1,540.5L406.2,541.4L410.2,542.3L414.2,543.2L418.2,544.1L422.2,545L426.2,545.9L430.2,546.7L434.2,547.6L438.2,548.5L442.3,549.3L446.3,550.1L450.3,551L454.3,551.8L458.3,552.6L462.3,553.4L466.3,554.2L470.3,555L474.4,555.8L478.4,556.6L482.4,557.4L486.4,558.2L490.4,558.9L494.4,559.7L498.4,560.4L502.4,561.2L506.5,561.9L510.5,562.6L514.5,563.3L518.5,564L522.5,564.7L526.5,565.4L530.5,566.1L534.5,566.7L538.5,567.4L542.6,568.1L546.6,568.7L550.6,569.3L554.6,570L558.6,570.6L562.6,571.2L566.6,571.8L570.6,572.4L574.7,573L578.7,573.5L582.7,574.1L586.7,574.6L590.7,575.2L594.7,575.7L598.7,576.2L602.7,576.8L606.8,577.3L610.8,577.8L614.8,578.2L618.8,578.7L622.8,579.2L626.8,579.6L630.8,580.1L634.8,580.5L638.8,580.9L642.9,581.4L646.9,581.8L650.9,582.1L654.9,582.5L658.9,582.9L662.9,583.3L666.9,583.6L670.9,584L675,584.3L679,584.6L683,584.9L687,585.2L691,585.5L691,602.5L687,602.2L683,601.9L679,601.6L675,601.3L670.9,601L666.9,600.6L662.9,600.3L658.9,599.9L654.9,599.5L650.9,599.1L646.9,598.8L642.9,598.4L638.8,597.9L634.8,597.5L630.8,597.1L626.8,596.6L622.8,596.2L618.8,595.7L614.8,595.2L610.8,594.8L606.8,594.3L602.7,593.8L598.7,593.2L594.7,592.7L590.7,592.2L586.7,591.6L582.7,591.1L578.7,590.5L574.7,590L570.6,589.4L566.6,588.8L562.6,588.2L558.6,587.6L554.6,587L550.6,586.3L546.6,585.7L542.6,585.1L538.5,584.4L534.5,583.7L530.5,583.1L526.5,582.4L522.5,581.7L518.5,581L514.5,580.3L510.5,579.6L506.5,578.9L502.4,578.2L498.4,577.4L494.4,576.7L490.4,575.9L486.4,575.2L482.4,574.4L478.4,573.6L474.4,572.8L470.3,572L466.3,571.2L462.3,570.4L458.3,569.6L454.3,568.8L450.3,568L446.3,567.1L442.3,566.3L438.2,565.5L434.2,564.6L430.2,563.7L426.2,562.9L422.2,562L418.2,561.1L414.2,560.2L410.2,559.3L406.2,558.4L402.1,557.5L398.1,556.6L394.1,555.7L390.1,554.7L386.1,553.8L382.1,552.8L378.1,551.9L374.1,550.9L370,550L366,549L362,548L358,547.1L354,546.1Z" fill="#fff" fill-opacity="0.35"/>
<path d="M354,585.5L358,585.2L362,584.8L366,584.4L370,584.1L374.1,583.7L378.1,583.3L382.1,582.9L386.1,582.5L390.1,582.1L394.1,581.6L398.1,581.2L402.1,580.8L406.2,580.3L410.2,579.9L414.2,579.4L418.2,578.9L422.2,578.5L426.2,578L430.2,577.5L434.2,577L438.2,576.5L442.3,576L446.3,575.5L450.3,574.9L454.3,574.4L458.3,573.9L462.3,573.3L466.3,572.8L470.3,572.2L474.4,571.6L478.4,571L482.4,570.4L486.4,569.8L490.4,569.2L494.4,568.6L498.4,568L502.4,567.4L506.5,566.8L510.5,566.1L514.5,565.5L518.5,564.8L522.5,564.1L526.5,563.5L530.5,562.8L534.5,562.1L538.5,561.4L542.6,560.7L546.6,560L550.6,559.3L554.6,558.5L558.6,557.8L562.6,557L566.6,556.3L570.6,555.5L574.7,554.8L578.7,554L582.7,553.2L586.7,552.4L590.7,551.6L594.7,550.8L598.7,550L602.7,549.2L606.8,548.3L610.8,547.5L614.8,546.7L618.8,545.8L622.8,544.9L626.8,544.1L630.8,543.2L634.8,542.3L638.8,541.4L642.9,540.5L646.9,539.6L650.9,538.7L654.9,537.8L658.9,536.8L662.9,535.9L666.9,534.9L670.9,534L675,533L679,532.1L683,531.1L687,530.1L691,529.1L691,546.1L687,547.1L683,548.1L679,549.1L675,550L670.9,551L666.9,551.9L662.9,552.9L658.9,553.8L654.9,554.8L650.9,555.7L646.9,556.6L642.9,557.5L638.8,558.4L634.8,559.3L630.8,560.2L626.8,561.1L622.8,561.9L618.8,562.8L614.8,563.7L610.8,564.5L606.8,565.3L602.7,566.2L598.7,567L594.7,567.8L590.7,568.6L586.7,569.4L582.7,570.2L578.7,571L574.7,571.8L570.6,572.5L566.6,573.3L562.6,574L558.6,574.8L554.6,575.5L550.6,576.3L546.6,577L542.6,577.7L538.5,578.4L534.5,579.1L530.5,579.8L526.5,580.5L522.5,581.1L518.5,581.8L514.5,582.5L510.5,583.1L506.5,583.8L502.4,584.4L498.4,585L494.4,585.6L490.4,586.2L486.4,586.8L482.4,587.4L478.4,588L474.4,588.6L470.3,589.2L466.3,589.8L462.3,590.3L458.3,590.9L454.3,591.4L450.3,591.9L446.3,592.5L442.3,593L438.2,593.5L434.2,594L430.2,594.5L426.2,595L422.2,595.5L418.2,595.9L414.2,596.4L410.2,596.9L406.2,597.3L402.1,597.8L398.1,598.2L394.1,598.6L390.1,599.1L386.1,599.5L382.1,599.9L378.1,600.3L374.1,600.7L370,601.1L366,601.4L362,601.8L358,602.2L354,602.5Z" fill="#fff" fill-opacity="0.35"/>
<path d="M354,585.5L358,585.5L362,585.5L366,585.6L370,585.6L374.1,585.6L378.1,585.6L382.1,585.7L386.1,585.7L390.1,585.7L394.1,585.7L398.1,585.7L402.1,585.7L406.2,585.8L410.2,585.8L414.2,585.8L418.2,585.8L422.2,585.8L426.2,585.8L430.2,585.9L434.2,585.9L438.2,585.9L442.3,585.9L446.3,585.9L450.3,585.9L454.3,585.9L458.3,585.9L462.3,585.9L466.3,585.9L470.3,586L474.4,586L478.4,586L482.4,586L486.4,586L490.4,586L494.4,586L498.4,586L502.4,586L506.5,586L510.5,586L514.5,586L518.5,586L522.5,586L526.5,586L530.5,586L534.5,586L538.5,586L542.6,586L546.6,586L550.6,586L554.6,586L558.6,586L562.6,586L566.6,586L570.6,586L574.7,585.9L578.7,585.9L582.7,585.9L586.7,585.9L590.7,585.9L594.7,585.9L598.7,585.9L602.7,585.9L606.8,585.9L610.8,585.9L614.8,585.8L618.8,585.8L622.8,585.8L626.8,585.8L630.8,585.8L634.8,585.8L638.8,585.8L642.9,585.7L646.9,585.7L650.9,585.7L654.9,585.7L658.9,585.7L662.9,585.7L666.9,585.6L670.9,585.6L675,585.6L679,585.6L683,585.5L687,585.5L691,585.5L691,602.5L687,602.5L683,602.5L679,602.6L675,602.6L670.9,602.6L666.9,602.6L662.9,602.7L658.9,602.7L654.9,602.7L650.9,602.7L646.9,602.7L642.9,602.7L638.8,602.8L634.8,602.8L630.8,602.8L626.8,602.8L622.8,602.8L618.8,602.8L614.8,602.8L610.8,602.9L606.8,602.9L602.7,602.9L598.7,602.9L594.7,602.9L590.7,602.9L586.7,602.9L582.7,602.9L578.7,602.9L574.7,602.9L570.6,603L566.6,603L562.6,603L558.6,603L554.6,603L550.6,603L546.6,603L542.6,603L538.5,603L534.5,603L530.5,603L526.5,603L522.5,603L518.5,603L514.5,603L510.5,603L506.5,603L502.4,603L498.4,603L494.4,603L490.4,603L486.4,603L482.4,603L478.4,603L474.4,603L470.3,603L466.3,602.9L462.3,602.9L458.3,602.9L454.3,602.9L450.3,602.9L446.3,602.9L442.3,602.9L438.2,602.9L434.2,602.9L430.2,602.9L426.2,602.8L422.2,602.8L418.2,602.8L414.2,602.8L410.2,602.8L406.2,602.8L402.1,602.7L398.1,602.7L394.1,602.7L390.1,602.7L386.1,602.7L382.1,602.7L378.1,602.6L374.1,602.6L370,602.6L366,602.6L362,602.5L358,602.5L354,602.5Z" fill="#fff" fill-opacity="0.45"/>
<path d="M116,611.5L120,608.5L124.1,605.6L128.1,603.1L132.1,600.7L136.2,598.7L140.2,596.8L144.2,595.3L148.3,594L152.3,593L156.3,592.2L160.4,591.7L164.4,591.5L168.4,591.5L172.5,591.7L176.5,592.1L180.5,592.7L184.6,593.5L188.6,594.4L192.6,595.4L196.7,596.5L200.7,597.6L204.7,598.8L208.8,600.1L212.8,601.4L216.8,602.7L220.9,604L224.9,605.4L228.9,606.7L233,608.1L237,609.4L241.1,610.6L245.1,611.9L249.1,613L253.2,614.2L257.2,615.2L261.2,616.2L265.3,617.1L269.3,618L273.3,618.7L277.4,619.5L281.4,620.2L285.4,620.8L289.5,621.4L293.5,621.9L297.5,622.3L301.6,622.8L305.6,623.1L309.6,623.4L313.7,623.7L317.7,624L321.7,624.2L325.8,624.3L329.8,624.5L333.8,624.5L337.9,624.6L341.9,624.6L345.9,624.6L350,624.6L354,624.5L354,641.5L350,641.6L345.9,641.6L341.9,641.6L337.9,641.6L333.8,641.5L329.8,641.5L325.8,641.3L321.7,641.2L317.7,641L313.7,640.7L309.6,640.4L305.6,640.1L301.6,639.8L297.5,639.3L293.5,638.9L289.5,638.4L285.4,637.8L281.4,637.2L277.4,636.5L273.3,635.7L269.3,635L265.3,634.1L261.2,633.2L257.2,632.2L253.2,631.2L249.1,630L245.1,628.9L241.1,627.6L237,626.4L233,625.1L228.9,623.7L224.9,622.4L220.9,621L216.8,619.7L212.8,618.4L208.8,617.1L204.7,615.8L200.7,614.6L196.7,613.5L192.6,612.4L188.6,611.4L184.6,610.5L180.5,609.7L176.5,609.1L172.5,608.7L168.4,608.5L164.4,608.5L160.4,608.7L156.3,609.2L152.3,610L148.3,611L144.2,612.3L140.2,613.8L136.2,615.7L132.1,617.7L128.1,620.1L124.1,622.6L120,625.5L116,628.5Z" fill="#fff" fill-opacity="0.4"/>
<path d="M116,611.2L120,610.6L124.1,610L128.1,609.5L132.1,609L136.2,608.6L140.2,608.2L144.2,607.8L148.3,607.5L152.3,607.2L156.3,606.9L160.4,606.7L164.4,606.5L168.4,606.3L172.5,606.1L176.5,606L180.5,605.8L184.6,605.7L188.6,605.6L192.6,605.6L196.7,605.5L200.7,605.4L204.7,605.3L208.8,605.3L212.8,605.2L216.8,605.1L220.9,605.1L224.9,605L228.9,604.9L233,604.8L237,604.7L241.1,604.5L245.1,604.4L249.1,604.2L253.2,604L257.2,603.8L261.2,603.5L265.3,603.2L269.3,602.9L273.3,602.6L277.4,602.2L281.4,601.7L285.4,601.3L289.5,600.7L293.5,600.2L297.5,599.6L301.6,598.9L305.6,598.2L309.6,597.4L313.7,596.6L317.7,595.7L321.7,594.7L325.8,593.7L329.8,592.6L333.8,591.4L337.9,590.2L341.9,588.9L345.9,587.5L350,586.1L354,584.5L354,601.5L350,603.1L345.9,604.5L341.9,605.9L337.9,607.2L333.8,608.4L329.8,609.6L325.8,610.7L321.7,611.7L317.7,612.7L313.7,613.6L309.6,614.4L305.6,615.2L301.6,615.9L297.5,616.6L293.5,617.2L289.5,617.7L285.4,618.3L281.4,618.7L277.4,619.2L273.3,619.6L269.3,619.9L265.3,620.2L261.2,620.5L257.2,620.8L253.2,621L249.1,621.2L245.1,621.4L241.1,621.5L237,621.7L233,621.8L228.9,621.9L224.9,622L220.9,622.1L216.8,622.1L212.8,622.2L208.8,622.3L204.7,622.3L200.7,622.4L196.7,622.5L192.6,622.6L188.6,622.6L184.6,622.7L180.5,622.8L176.5,623L172.5,623.1L168.4,623.3L164.4,623.5L160.4,623.7L156.3,623.9L152.3,624.2L148.3,624.5L144.2,624.8L140.2,625.2L136.2,625.6L132.1,626L128.1,626.5L124.1,627L120,627.6L116,628.2Z" fill="#fff" fill-opacity="0.45"/>
<path d="M116,611.4L120,611.5L124,611.6L128.1,611.7L132.1,611.8L136.1,611.9L140.1,612L144.1,612.1L148.2,612.2L152.2,612.3L156.2,612.4L160.2,612.6L164.3,612.7L168.3,612.8L172.3,612.9L176.3,613.1L180.3,613.2L184.4,613.3L188.4,613.5L192.4,613.6L196.4,613.8L200.4,613.9L204.5,614.1L208.5,614.2L212.5,614.4L216.5,614.5L220.5,614.7L224.6,614.9L228.6,615L232.6,615.2L236.6,615.4L240.7,615.6L244.7,615.8L248.7,616L252.7,616.1L256.7,616.3L260.8,616.6L264.8,616.8L268.8,617L272.8,617.2L276.8,617.4L280.9,617.6L284.9,617.8L288.9,618.1L292.9,618.3L296.9,618.5L301,618.7L305,619L309,619.2L313,619.5L317,619.9L321.1,620.2L325.1,620.6L329.1,621L333.1,621.3L337.2,621.6L341.2,621.9L345.2,622.1L349.2,622.2L353.2,622.3L357.3,622.3L361.3,622.3L365.3,622.3L369.3,622.3L373.3,622.3L377.4,622.3L381.4,622.3L385.4,622.3L389.4,622.3L393.4,622.3L397.5,622.3L401.5,622.3L405.5,622.3L409.5,622.3L413.6,622.3L417.6,622.3L421.6,622.3L425.6,622.3L429.6,622.3L433.7,622.3L437.7,622.3L441.7,622.3L445.7,622.3L449.7,622.3L453.8,622.3L457.8,622.3L461.8,622.3L465.8,622.3L469.8,622.3L473.9,622.3L477.9,622.3L481.9,622.3L485.9,622.3L490,622.3L494,622.3L498,622.3L502,622.3L506,622.3L510.1,622.3L514.1,622.3L518.1,622.3L522.1,622.3L526.1,622.3L530.2,622.3L534.2,622.3L538.2,622.3L542.2,622.3L546.2,622.3L550.3,622.3L554.3,622.3L558.3,622.3L562.3,622.3L566.3,622.3L570.4,622.3L574.4,622.3L578.4,622.3L582.4,622.3L586.5,622.3L590.5,622.3L594.5,622.3L598.5,622.3L602.5,622.3L606.6,622.3L610.6,622.3L614.6,622.3L618.6,622.3L622.6,622.3L626.7,622.3L630.7,622.3L634.7,622.3L638.7,622.3L642.7,622.3L646.8,622.3L650.8,622.3L654.8,622.3L658.8,622.3L662.9,622.3L666.9,622.3L670.9,622.3L674.9,622.3L678.9,622.3L683,622.3L687,622.3L691,622.3L691,642.7L687,642.7L683,642.7L678.9,642.7L674.9,642.7L670.9,642.7L666.9,642.7L662.9,642.7L658.8,642.7L654.8,642.7L650.8,642.7L646.8,642.7L642.7,642.7L638.7,642.7L634.7,642.7L630.7,642.7L626.7,642.7L622.6,642.7L618.6,642.7L614.6,642.7L610.6,642.7L606.6,642.7L602.5,642.7L598.5,642.7L594.5,642.7L590.5,642.7L586.5,642.7L582.4,642.7L578.4,642.7L574.4,642.7L570.4,642.7L566.3,642.7L562.3,642.7L558.3,642.7L554.3,642.7L550.3,642.7L546.2,642.7L542.2,642.7L538.2,642.7L534.2,642.7L530.2,642.7L526.1,642.7L522.1,642.7L518.1,642.7L514.1,642.7L510.1,642.7L506,642.7L502,642.7L498,642.7L494,642.7L490,642.7L485.9,642.7L481.9,642.7L477.9,642.7L473.9,642.7L469.8,642.7L465.8,642.7L461.8,642.7L457.8,642.7L453.8,642.7L449.7,642.7L445.7,642.7L441.7,642.7L437.7,642.7L433.7,642.7L429.6,642.7L425.6,642.7L421.6,642.7L417.6,642.7L413.6,642.7L409.5,642.7L405.5,642.7L401.5,642.7L397.5,642.7L393.4,642.7L389.4,642.7L385.4,642.7L381.4,642.7L377.4,642.7L373.3,642.7L369.3,642.7L365.3,642.7L361.3,642.7L357.3,642.7L353.2,642.7L349.2,642.6L345.2,642.5L341.2,642.3L337.2,642L333.1,641.7L329.1,641.4L325.1,641L321.1,640.6L317,640.3L313,639.9L309,639.6L305,639.4L301,639.1L296.9,638.9L292.9,638.7L288.9,638.5L284.9,638.2L280.9,638L276.8,637.8L272.8,637.6L268.8,637.4L264.8,637.2L260.8,637L256.7,636.7L252.7,636.5L248.7,636.4L244.7,636.2L240.7,636L236.6,635.8L232.6,635.6L228.6,635.4L224.6,635.3L220.5,635.1L216.5,634.9L212.5,634.8L208.5,634.6L204.5,634.5L200.4,634.3L196.4,634.2L192.4,634L188.4,633.9L184.4,633.7L180.3,633.6L176.3,633.5L172.3,633.3L168.3,633.2L164.3,633.1L160.2,633L156.2,632.8L152.2,632.7L148.2,632.6L144.1,632.5L140.1,632.4L136.1,632.3L132.1,632.2L128.1,632.1L124,632L120,631.9L116,631.8Z" fill="url(#ga35)"/>
<path d="M116,605.8L120,606L124,606.1L128.1,606.3L132.1,606.4L136.1,606.6L140.1,606.7L144.1,606.9L148.2,607.1L152.2,607.2L156.2,607.4L160.2,607.6L164.3,607.8L168.3,607.9L172.3,608.1L176.3,608.3L180.3,608.5L184.4,608.6L188.4,608.8L192.4,609L196.4,609.2L200.4,609.4L204.5,609.6L208.5,609.8L212.5,610L216.5,610.1L220.5,610.3L224.6,610.5L228.6,610.7L232.6,610.9L236.6,611.1L240.7,611.3L244.7,611.5L248.7,611.7L252.7,611.9L256.7,612.2L260.8,612.4L264.8,612.7L268.8,613L272.8,613.2L276.8,613.5L280.9,613.8L284.9,614.2L288.9,614.5L292.9,614.8L296.9,615.1L301,615.4L305,615.7L309,616L313,616.2L317,616.5L321.1,616.7L325.1,617L329.1,617.2L333.1,617.3L337.2,617.5L341.2,617.6L345.2,617.7L349.2,617.8L353.2,617.8L357.3,617.8L361.3,617.8L365.3,617.8L369.3,617.8L373.3,617.8L377.4,617.8L381.4,617.8L385.4,617.8L389.4,617.8L393.4,617.8L397.5,617.8L401.5,617.8L405.5,617.8L409.5,617.8L413.6,617.8L417.6,617.8L421.6,617.8L425.6,617.8L429.6,617.8L433.7,617.8L437.7,617.8L441.7,617.8L445.7,617.8L449.7,617.8L453.8,617.8L457.8,617.8L461.8,617.8L465.8,617.8L469.8,617.8L473.9,617.8L477.9,617.8L481.9,617.8L485.9,617.8L490,617.8L494,617.8L498,617.8L502,617.8L506,617.8L510.1,617.8L514.1,617.8L518.1,617.8L522.1,617.8L526.1,617.8L530.2,617.8L534.2,617.8L538.2,617.8L542.2,617.8L546.2,617.8L550.3,617.8L554.3,617.8L558.3,617.8L562.3,617.8L566.3,617.8L570.4,617.8L574.4,617.8L578.4,617.8L582.4,617.8L586.5,617.8L590.5,617.8L594.5,617.8L598.5,617.8L602.5,617.8L606.6,617.8L610.6,617.8L614.6,617.8L618.6,617.8L622.6,617.8L626.7,617.8L630.7,617.8L634.7,617.8L638.7,617.8L642.7,617.8L646.8,617.8L650.8,617.8L654.8,617.8L658.8,617.8L662.9,617.8L666.9,617.8L670.9,617.8L674.9,617.8L678.9,617.8L683,617.8L687,617.8L691,617.8L691,638.2L687,638.2L683,638.2L678.9,638.2L674.9,638.2L670.9,638.2L666.9,638.2L662.9,638.2L658.8,638.2L654.8,638.2L650.8,638.2L646.8,638.2L642.7,638.2L638.7,638.2L634.7,638.2L630.7,638.2L626.7,638.2L622.6,638.2L618.6,638.2L614.6,638.2L610.6,638.2L606.6,638.2L602.5,638.2L598.5,638.2L594.5,638.2L590.5,638.2L586.5,638.2L582.4,638.2L578.4,638.2L574.4,638.2L570.4,638.2L566.3,638.2L562.3,638.2L558.3,638.2L554.3,638.2L550.3,638.2L546.2,638.2L542.2,638.2L538.2,638.2L534.2,638.2L530.2,638.2L526.1,638.2L522.1,638.2L518.1,638.2L514.1,638.2L510.1,638.2L506,638.2L502,638.2L498,638.2L494,638.2L490,638.2L485.9,638.2L481.9,638.2L477.9,638.2L473.9,638.2L469.8,638.2L465.8,638.2L461.8,638.2L457.8,638.2L453.8,638.2L449.7,638.2L445.7,638.2L441.7,638.2L437.7,638.2L433.7,638.2L429.6,638.2L425.6,638.2L421.6,638.2L417.6,638.2L413.6,638.2L409.5,638.2L405.5,638.2L401.5,638.2L397.5,638.2L393.4,638.2L389.4,638.2L385.4,638.2L381.4,638.2L377.4,638.2L373.3,638.2L369.3,638.2L365.3,638.2L361.3,638.2L357.3,638.2L353.2,638.2L349.2,638.2L345.2,638.1L341.2,638L337.2,637.9L333.1,637.7L329.1,637.6L325.1,637.4L321.1,637.1L317,636.9L313,636.6L309,636.4L305,636.1L301,635.8L296.9,635.5L292.9,635.2L288.9,634.9L284.9,634.6L280.9,634.2L276.8,633.9L272.8,633.6L268.8,633.4L264.8,633.1L260.8,632.8L256.7,632.6L252.7,632.3L248.7,632.1L244.7,631.9L240.7,631.7L236.6,631.5L232.6,631.3L228.6,631.1L224.6,630.9L220.5,630.7L216.5,630.5L212.5,630.4L208.5,630.2L204.5,630L200.4,629.8L196.4,629.6L192.4,629.4L188.4,629.2L184.4,629L180.3,628.9L176.3,628.7L172.3,628.5L168.3,628.3L164.3,628.2L160.2,628L156.2,627.8L152.2,627.6L148.2,627.5L144.1,627.3L140.1,627.1L136.1,627L132.1,626.8L128.1,626.7L124,626.5L120,626.4L116,626.2Z" fill="url(#ga36)"/>
<path d="M116,613.1L120,614L124.1,615L128.1,616.1L132.1,617.4L136.2,618.8L140.2,620.2L144.2,621.8L148.3,623.4L152.3,625.1L156.3,627L160.4,628.8L164.4,630.8L168.4,632.8L172.5,634.8L176.5,636.9L180.5,639L184.6,641.2L188.6,643.4L192.6,645.6L196.7,647.8L200.7,650L204.7,652.2L208.8,654.4L212.8,656.6L216.8,658.8L220.9,661L224.9,663.1L228.9,665.1L233,667.2L237,669.2L241.1,671.1L245.1,673L249.1,674.8L253.2,676.5L257.2,678.3L261.2,679.9L265.3,681.5L269.3,683L273.3,684.5L277.4,685.8L281.4,687.2L285.4,688.4L289.5,689.6L293.5,690.6L297.5,691.7L301.6,692.6L305.6,693.4L309.6,694.2L313.7,694.9L317.7,695.5L321.7,696L325.8,696.4L329.8,696.7L333.8,696.9L337.9,697L341.9,697L345.9,696.9L350,696.8L354,696.5L354,713.5L350,713.8L345.9,713.9L341.9,714L337.9,714L333.8,713.9L329.8,713.7L325.8,713.4L321.7,713L317.7,712.5L313.7,711.9L309.6,711.2L305.6,710.4L301.6,709.6L297.5,708.7L293.5,707.6L289.5,706.6L285.4,705.4L281.4,704.2L277.4,702.8L273.3,701.5L269.3,700L265.3,698.5L261.2,696.9L257.2,695.3L253.2,693.5L249.1,691.8L245.1,690L241.1,688.1L237,686.2L233,684.2L228.9,682.1L224.9,680.1L220.9,678L216.8,675.8L212.8,673.6L208.8,671.4L204.7,669.2L200.7,667L196.7,664.8L192.6,662.6L188.6,660.4L184.6,658.2L180.5,656L176.5,653.9L172.5,651.8L168.4,649.8L164.4,647.8L160.4,645.8L156.3,644L152.3,642.1L148.3,640.4L144.2,638.8L140.2,637.2L136.2,635.8L132.1,634.4L128.1,633.1L124.1,632L120,631L116,630.1Z" fill="#fff" fill-opacity="0.3"/>
<path d="M116,685L120,684.3L124.1,683.5L128.1,682.8L132.1,682L136.2,681.2L140.2,680.4L144.2,679.6L148.3,678.8L152.3,678L156.3,677.2L160.4,676.3L164.4,675.5L168.4,674.6L172.5,673.8L176.5,672.9L180.5,672.1L184.6,671.2L188.6,670.4L192.6,669.5L196.7,668.6L200.7,667.8L204.7,666.9L208.8,665.9L212.8,665L216.8,664L220.9,662.9L224.9,661.8L228.9,660.7L233,659.4L237,658L241.1,656.4L245.1,654.7L249.1,652.9L253.2,651.1L257.2,649.2L261.2,647.4L265.3,645.5L269.3,643.8L273.3,642.1L277.4,640.6L281.4,639.2L285.4,637.9L289.5,636.9L293.5,635.8L297.5,634.8L301.6,633.8L305.6,632.8L309.6,631.9L313.7,630.9L317.7,630.1L321.7,629.2L325.8,628.4L329.8,627.7L333.8,627L337.9,626.4L341.9,625.8L345.9,625.3L350,624.9L354,624.5L354,641.5L350,641.9L345.9,642.3L341.9,642.8L337.9,643.4L333.8,644L329.8,644.7L325.8,645.4L321.7,646.2L317.7,647.1L313.7,647.9L309.6,648.9L305.6,649.8L301.6,650.8L297.5,651.8L293.5,652.8L289.5,653.9L285.4,654.9L281.4,656.2L277.4,657.6L273.3,659.1L269.3,660.8L265.3,662.5L261.2,664.4L257.2,666.2L253.2,668.1L249.1,669.9L245.1,671.7L241.1,673.4L237,675L233,676.4L228.9,677.7L224.9,678.8L220.9,679.9L216.8,681L212.8,682L208.8,682.9L204.7,683.9L200.7,684.8L196.7,685.6L192.6,686.5L188.6,687.4L184.6,688.2L180.5,689.1L176.5,689.9L172.5,690.8L168.4,691.6L164.4,692.5L160.4,693.3L156.3,694.2L152.3,695L148.3,695.8L144.2,696.6L140.2,697.4L136.2,698.2L132.1,699L128.1,699.8L124.1,700.5L120,701.3L116,702Z" fill="#fff" fill-opacity="0.65"/>
<path d="M116,684.5L120,684.3L124.1,684.1L128.1,683.8L132.1,683.5L136.2,683.2L140.2,682.9L144.2,682.6L148.3,682.2L152.3,681.8L156.3,681.4L160.4,680.9L164.4,680.4L168.4,679.9L172.5,679.3L176.5,678.8L180.5,678.2L184.6,677.5L188.6,676.8L192.6,676.1L196.7,675.4L200.7,674.6L204.7,673.8L208.8,673L212.8,672.1L216.8,671.2L220.9,670.2L224.9,669.2L228.9,668.2L233,667.2L237,666.1L241.1,664.9L245.1,663.7L249.1,662.5L253.2,661.3L257.2,660L261.2,658.7L265.3,657.3L269.3,655.9L273.3,654.5L277.4,653.1L281.4,651.6L285.4,650.1L289.5,648.6L293.5,647.1L297.5,645.6L301.6,644.1L305.6,642.5L309.6,641L313.7,639.4L317.7,637.9L321.7,636.4L325.8,634.8L329.8,633.3L333.8,631.8L337.9,630.3L341.9,628.8L345.9,627.3L350,625.9L354,624.5L354,641.5L350,642.9L345.9,644.3L341.9,645.8L337.9,647.3L333.8,648.8L329.8,650.3L325.8,651.8L321.7,653.4L317.7,654.9L313.7,656.4L309.6,658L305.6,659.5L301.6,661.1L297.5,662.6L293.5,664.1L289.5,665.6L285.4,667.1L281.4,668.6L277.4,670.1L273.3,671.5L269.3,672.9L265.3,674.3L261.2,675.7L257.2,677L253.2,678.3L249.1,679.5L245.1,680.7L241.1,681.9L237,683.1L233,684.2L228.9,685.2L224.9,686.2L220.9,687.2L216.8,688.2L212.8,689.1L208.8,690L204.7,690.8L200.7,691.6L196.7,692.4L192.6,693.1L188.6,693.8L184.6,694.5L180.5,695.2L176.5,695.8L172.5,696.3L168.4,696.9L164.4,697.4L160.4,697.9L156.3,698.4L152.3,698.8L148.3,699.2L144.2,699.6L140.2,699.9L136.2,700.2L132.1,700.5L128.1,700.8L124.1,701.1L120,701.3L116,701.5Z" fill="#fff" fill-opacity="0.45"/>
<path d="M116,681.8L120,681.6L124.1,681.5L128.1,681.3L132.2,681.1L136.2,681L140.2,680.8L144.3,680.6L148.3,680.3L152.4,680.1L156.4,679.9L160.5,679.6L164.5,679.3L168.5,679L172.6,678.7L176.6,678.4L180.7,678L184.7,677.6L188.8,677.2L192.8,676.8L196.8,676.3L200.9,675.8L204.9,675.3L209,674.7L213,674.1L217,673.4L221.1,672.7L225.1,672L229.2,671.3L233.2,670.4L237.2,669.6L241.3,668.7L245.3,667.7L249.4,666.7L253.4,665.7L257.5,664.6L261.5,663.4L265.5,662.2L269.6,660.9L273.6,659.6L277.7,658.2L281.7,656.8L285.8,655.3L289.8,653.7L293.8,652.1L297.9,650.3L301.9,648.6L306,646.7L310,644.8L310,665.2L306,667.1L301.9,669L297.9,670.7L293.8,672.5L289.8,674.1L285.8,675.7L281.7,677.2L277.7,678.6L273.6,680L269.6,681.3L265.5,682.6L261.5,683.8L257.5,685L253.4,686.1L249.4,687.1L245.3,688.1L241.3,689.1L237.2,690L233.2,690.8L229.2,691.7L225.1,692.4L221.1,693.1L217,693.8L213,694.5L209,695.1L204.9,695.7L200.9,696.2L196.8,696.7L192.8,697.2L188.8,697.6L184.7,698L180.7,698.4L176.6,698.8L172.6,699.1L168.5,699.4L164.5,699.7L160.5,700L156.4,700.3L152.4,700.5L148.3,700.7L144.3,701L140.2,701.2L136.2,701.4L132.2,701.5L128.1,701.7L124.1,701.9L120,702L116,702.2Z" fill="url(#ga40)"/>
<path d="M116,692.4L120,692.7L124.1,693L128.1,693.3L132.1,693.7L136.2,694L140.2,694.4L144.2,694.8L148.3,695.2L152.3,695.6L156.3,696L160.4,696.4L164.4,696.8L168.4,697.3L172.5,697.7L176.5,698.2L180.5,698.7L184.6,699.3L188.6,699.9L192.6,700.5L196.7,701.1L200.7,701.7L204.7,702.3L208.8,703L212.8,703.6L216.8,704.2L220.9,704.9L224.9,705.5L228.9,706.1L233,706.7L237,707.2L241.1,707.8L245.1,708.3L249.1,708.8L253.2,709.2L257.2,709.7L261.2,710.2L265.3,710.7L269.3,711.1L273.3,711.6L277.4,712L281.4,712.5L285.4,712.9L289.5,713.3L293.5,713.7L297.5,714.1L301.6,714.5L305.6,714.9L309.6,715.3L313.7,715.6L317.7,716L321.7,716.3L325.8,716.6L329.8,716.9L333.8,717.2L337.9,717.4L341.9,717.7L345.9,717.9L350,718.1L354,718.3L354,735.3L350,735.1L345.9,734.9L341.9,734.7L337.9,734.4L333.8,734.2L329.8,733.9L325.8,733.6L321.7,733.3L317.7,733L313.7,732.6L309.6,732.3L305.6,731.9L301.6,731.5L297.5,731.1L293.5,730.7L289.5,730.3L285.4,729.9L281.4,729.5L277.4,729L273.3,728.6L269.3,728.1L265.3,727.7L261.2,727.2L257.2,726.7L253.2,726.2L249.1,725.8L245.1,725.3L241.1,724.8L237,724.2L233,723.7L228.9,723.1L224.9,722.5L220.9,721.9L216.8,721.2L212.8,720.6L208.8,720L204.7,719.3L200.7,718.7L196.7,718.1L192.6,717.5L188.6,716.9L184.6,716.3L180.5,715.7L176.5,715.2L172.5,714.7L168.4,714.3L164.4,713.8L160.4,713.4L156.3,713L152.3,712.6L148.3,712.2L144.2,711.8L140.2,711.4L136.2,711L132.1,710.7L128.1,710.3L124.1,710L120,709.7L116,709.4Z" fill="#fff" fill-opacity="0.3"/>
<path d="M354,624.1L358,624.8L362,625.4L366,626L370,626.6L374.1,627.2L378.1,627.7L382.1,628.2L386.1,628.6L390.1,629.1L394.1,629.5L398.1,629.9L402.1,630.3L406.2,630.7L410.2,631L414.2,631.4L418.2,631.8L422.2,632.1L426.2,632.5L430.2,632.9L434.2,633.2L438.2,633.6L442.3,634L446.3,634.5L450.3,634.9L454.3,635.4L458.3,635.9L462.3,636.4L466.3,636.9L470.3,637.5L474.4,638.1L478.4,638.8L482.4,639.4L486.4,640.2L490.4,640.9L494.4,641.8L498.4,642.7L502.4,643.6L506.5,644.6L510.5,645.6L514.5,646.7L518.5,647.9L522.5,649.1L526.5,650.5L530.5,651.8L534.5,653.3L538.5,654.8L542.6,656.3L546.6,657.9L550.6,659.5L554.6,661.1L558.6,662.7L562.6,664.4L566.6,666.1L570.6,667.7L574.7,669.4L578.7,671L582.7,672.6L586.7,674.2L590.7,675.7L594.7,677.2L598.7,678.7L602.7,680.1L606.8,681.4L610.8,682.7L614.8,683.8L618.8,685L622.8,686L626.8,687L630.8,687.9L634.8,688.8L638.8,689.6L642.9,690.4L646.9,691.1L650.9,691.8L654.9,692.5L658.9,693.1L662.9,693.7L666.9,694.3L670.9,694.8L675,695.4L679,695.9L683,696.4L687,697L691,697.5L691,714.5L687,714L683,713.4L679,712.9L675,712.4L670.9,711.8L666.9,711.3L662.9,710.7L658.9,710.1L654.9,709.5L650.9,708.8L646.9,708.1L642.9,707.4L638.8,706.6L634.8,705.8L630.8,704.9L626.8,704L622.8,703L618.8,702L614.8,700.8L610.8,699.7L606.8,698.4L602.7,697.1L598.7,695.7L594.7,694.2L590.7,692.7L586.7,691.2L582.7,689.6L578.7,688L574.7,686.4L570.6,684.7L566.6,683.1L562.6,681.4L558.6,679.7L554.6,678.1L550.6,676.5L546.6,674.9L542.6,673.3L538.5,671.8L534.5,670.3L530.5,668.8L526.5,667.5L522.5,666.1L518.5,664.9L514.5,663.7L510.5,662.6L506.5,661.6L502.4,660.6L498.4,659.7L494.4,658.8L490.4,657.9L486.4,657.2L482.4,656.4L478.4,655.8L474.4,655.1L470.3,654.5L466.3,653.9L462.3,653.4L458.3,652.9L454.3,652.4L450.3,651.9L446.3,651.5L442.3,651L438.2,650.6L434.2,650.2L430.2,649.9L426.2,649.5L422.2,649.1L418.2,648.8L414.2,648.4L410.2,648L406.2,647.7L402.1,647.3L398.1,646.9L394.1,646.5L390.1,646.1L386.1,645.6L382.1,645.2L378.1,644.7L374.1,644.2L370,643.6L366,643L362,642.4L358,641.8L354,641.1Z" fill="#fff" fill-opacity="0.45"/>
<path d="M354,718.3L358,718.2L362,718L366,717.8L370,717.7L374.1,717.4L378.1,717.2L382.1,717L386.1,716.7L390.1,716.4L394.1,716.1L398.1,715.8L402.1,715.5L406.2,715.1L410.2,714.7L414.2,714.3L418.2,713.9L422.2,713.5L426.2,713L430.2,712.5L434.2,712L438.2,711.5L442.3,711L446.3,710.4L450.3,709.8L454.3,709.2L458.3,708.6L462.3,707.9L466.3,707.2L470.3,706.5L474.4,705.8L478.4,705.1L482.4,704.3L486.4,703.5L490.4,702.7L494.4,701.9L498.4,701L502.4,700.1L506.5,699.2L510.5,698.3L514.5,697.3L518.5,696.3L522.5,695.3L526.5,694.3L530.5,693.2L534.5,692.1L538.5,691L542.6,689.9L546.6,688.7L550.6,687.5L554.6,686.3L558.6,685.1L562.6,683.8L566.6,682.5L570.6,681.2L574.7,679.9L578.7,678.5L582.7,677.1L586.7,675.7L590.7,674.3L594.7,672.8L598.7,671.4L602.7,669.9L606.8,668.3L610.8,666.8L614.8,665.2L618.8,663.6L622.8,661.9L626.8,660.2L630.8,658.4L634.8,656.6L638.8,654.8L642.9,652.9L646.9,650.9L650.9,648.9L654.9,646.7L658.9,644.6L662.9,642.3L666.9,640L670.9,637.5L675,635L679,632.4L683,629.7L687,626.9L691,624L691,641L687,643.9L683,646.7L679,649.4L675,652L670.9,654.5L666.9,657L662.9,659.3L658.9,661.6L654.9,663.7L650.9,665.9L646.9,667.9L642.9,669.9L638.8,671.8L634.8,673.6L630.8,675.4L626.8,677.2L622.8,678.9L618.8,680.6L614.8,682.2L610.8,683.8L606.8,685.3L602.7,686.9L598.7,688.4L594.7,689.8L590.7,691.3L586.7,692.7L582.7,694.1L578.7,695.5L574.7,696.9L570.6,698.2L566.6,699.5L562.6,700.8L558.6,702.1L554.6,703.3L550.6,704.5L546.6,705.7L542.6,706.9L538.5,708L534.5,709.1L530.5,710.2L526.5,711.3L522.5,712.3L518.5,713.3L514.5,714.3L510.5,715.3L506.5,716.2L502.4,717.1L498.4,718L494.4,718.9L490.4,719.7L486.4,720.5L482.4,721.3L478.4,722.1L474.4,722.8L470.3,723.5L466.3,724.2L462.3,724.9L458.3,725.6L454.3,726.2L450.3,726.8L446.3,727.4L442.3,728L438.2,728.5L434.2,729L430.2,729.5L426.2,730L422.2,730.5L418.2,730.9L414.2,731.3L410.2,731.7L406.2,732.1L402.1,732.5L398.1,732.8L394.1,733.1L390.1,733.4L386.1,733.7L382.1,734L378.1,734.2L374.1,734.4L370,734.7L366,734.8L362,735L358,735.2L354,735.3Z" fill="url(#ga43)"/>
<path d="M354,696.4L358,696.5L362,696.5L366,696.5L370,696.5L374.1,696.4L378.1,696.3L382.1,696.2L386.1,696L390.1,695.8L394.1,695.5L398.1,695.3L402.1,695L406.2,694.6L410.2,694.3L414.2,693.9L418.2,693.4L422.2,693L426.2,692.5L430.2,692L434.2,691.5L438.2,690.9L442.3,690.3L446.3,689.7L450.3,689L454.3,688.4L458.3,687.7L462.3,687L466.3,686.2L470.3,685.4L474.4,684.7L478.4,683.8L482.4,683L486.4,682.1L490.4,681.3L494.4,680.4L498.4,679.4L502.4,678.5L506.5,677.5L510.5,676.6L514.5,675.6L518.5,674.5L522.5,673.5L526.5,672.4L530.5,671.4L534.5,670.3L538.5,669.2L542.6,668.1L546.6,666.9L550.6,665.8L554.6,664.6L558.6,663.5L562.6,662.3L566.6,661.1L570.6,659.9L574.7,658.7L578.7,657.5L582.7,656.3L586.7,655.1L590.7,653.8L594.7,652.6L598.7,651.4L602.7,650.1L606.8,648.9L610.8,647.7L614.8,646.4L618.8,645.2L622.8,644L626.8,642.7L630.8,641.5L634.8,640.3L638.8,639L642.9,637.8L646.9,636.6L650.9,635.4L654.9,634.2L658.9,633L662.9,631.9L666.9,630.7L670.9,629.5L675,628.4L679,627.3L683,626.1L687,625L691,624L691,641L687,642L683,643.1L679,644.3L675,645.4L670.9,646.5L666.9,647.7L662.9,648.9L658.9,650L654.9,651.2L650.9,652.4L646.9,653.6L642.9,654.8L638.8,656L634.8,657.3L630.8,658.5L626.8,659.7L622.8,661L618.8,662.2L614.8,663.4L610.8,664.7L606.8,665.9L602.7,667.1L598.7,668.4L594.7,669.6L590.7,670.8L586.7,672.1L582.7,673.3L578.7,674.5L574.7,675.7L570.6,676.9L566.6,678.1L562.6,679.3L558.6,680.5L554.6,681.6L550.6,682.8L546.6,683.9L542.6,685.1L538.5,686.2L534.5,687.3L530.5,688.4L526.5,689.4L522.5,690.5L518.5,691.5L514.5,692.6L510.5,693.6L506.5,694.5L502.4,695.5L498.4,696.4L494.4,697.4L490.4,698.3L486.4,699.1L482.4,700L478.4,700.8L474.4,701.7L470.3,702.4L466.3,703.2L462.3,704L458.3,704.7L454.3,705.4L450.3,706L446.3,706.7L442.3,707.3L438.2,707.9L434.2,708.5L430.2,709L426.2,709.5L422.2,710L418.2,710.4L414.2,710.9L410.2,711.3L406.2,711.6L402.1,712L398.1,712.3L394.1,712.5L390.1,712.8L386.1,713L382.1,713.2L378.1,713.3L374.1,713.4L370,713.5L366,713.5L362,713.5L358,713.5L354,713.4Z" fill="url(#ga44)"/>
<path d="M354,696.5L358,695.5L362,694.6L366,693.6L370,692.6L374.1,691.6L378.1,690.6L382.1,689.6L386.1,688.6L390.1,687.6L394.1,686.5L398.1,685.5L402.1,684.5L406.2,683.5L410.2,682.4L414.2,681.4L418.2,680.4L422.2,679.4L426.2,678.3L430.2,677.3L434.2,676.3L438.2,675.2L442.3,674.2L446.3,673.2L450.3,672.1L454.3,671.1L458.3,670.1L462.3,669L466.3,668L470.3,667L474.4,666L478.4,665L482.4,663.9L486.4,662.9L490.4,661.9L494.4,660.9L498.4,659.9L502.4,658.9L506.5,658L510.5,657L514.5,656L518.5,655L522.5,654.1L526.5,653.1L530.5,652.2L534.5,651.2L538.5,650.3L542.6,649.4L546.6,648.5L550.6,647.6L554.6,646.7L558.6,645.8L562.6,644.9L566.6,644.1L570.6,643.2L574.7,642.4L578.7,641.5L582.7,640.7L586.7,639.9L590.7,639.1L594.7,638.3L598.7,637.5L602.7,636.8L606.8,636L610.8,635.3L614.8,634.6L618.8,633.9L622.8,633.2L626.8,632.5L630.8,631.8L634.8,631.2L638.8,630.6L642.9,630L646.9,629.4L650.9,628.8L654.9,628.2L658.9,627.7L662.9,627.2L666.9,626.6L670.9,626.2L675,625.7L679,625.2L683,624.8L687,624.4L691,624L691,641L687,641.4L683,641.8L679,642.2L675,642.7L670.9,643.2L666.9,643.6L662.9,644.2L658.9,644.7L654.9,645.2L650.9,645.8L646.9,646.4L642.9,647L638.8,647.6L634.8,648.2L630.8,648.8L626.8,649.5L622.8,650.2L618.8,650.9L614.8,651.6L610.8,652.3L606.8,653L602.7,653.8L598.7,654.5L594.7,655.3L590.7,656.1L586.7,656.9L582.7,657.7L578.7,658.5L574.7,659.4L570.6,660.2L566.6,661.1L562.6,661.9L558.6,662.8L554.6,663.7L550.6,664.6L546.6,665.5L542.6,666.4L538.5,667.3L534.5,668.2L530.5,669.2L526.5,670.1L522.5,671.1L518.5,672L514.5,673L510.5,674L506.5,675L502.4,675.9L498.4,676.9L494.4,677.9L490.4,678.9L486.4,679.9L482.4,680.9L478.4,682L474.4,683L470.3,684L466.3,685L462.3,686L458.3,687.1L454.3,688.1L450.3,689.1L446.3,690.2L442.3,691.2L438.2,692.2L434.2,693.3L430.2,694.3L426.2,695.3L422.2,696.4L418.2,697.4L414.2,698.4L410.2,699.4L406.2,700.5L402.1,701.5L398.1,702.5L394.1,703.5L390.1,704.6L386.1,705.6L382.1,706.6L378.1,707.6L374.1,708.6L370,709.6L366,710.6L362,711.6L358,712.5L354,713.5Z" fill="url(#ga45)"/>
<path d="M354,689.8L358,690L362,690.1L366,690.3L370,690.4L374.1,690.6L378.1,690.7L382.1,690.9L386.1,691.1L390.1,691.2L394.1,691.4L398.1,691.5L402.1,691.7L406.2,691.8L410.2,692L414.2,692.1L418.2,692.3L422.2,692.5L426.2,692.6L430.2,692.8L434.2,692.9L438.2,693.1L442.3,693.2L446.3,693.4L450.3,693.6L454.3,693.7L458.3,693.9L462.3,694L466.3,694.2L470.3,694.4L474.4,694.5L478.4,694.7L482.4,694.9L486.4,695L490.4,695.2L494.4,695.4L498.4,695.5L502.4,695.7L506.5,695.9L510.5,696.1L514.5,696.2L518.5,696.4L522.5,696.6L526.5,696.8L530.5,696.9L534.5,697.1L538.5,697.3L542.6,697.5L546.6,697.7L550.6,697.9L554.6,698.1L558.6,698.2L562.6,698.4L566.6,698.6L570.6,698.8L574.7,699L578.7,699.2L582.7,699.4L586.7,699.6L590.7,699.8L594.7,700.1L598.7,700.3L602.7,700.5L606.8,700.7L610.8,700.9L614.8,701.1L618.8,701.4L622.8,701.6L626.8,701.8L630.8,702L634.8,702.3L638.8,702.5L642.9,702.7L646.9,703L650.9,703.2L654.9,703.5L658.9,703.7L662.9,704L666.9,704.2L670.9,704.5L675,704.7L679,705L683,705.3L687,705.5L691,705.8L691,726.2L687,725.9L683,725.7L679,725.4L675,725.1L670.9,724.9L666.9,724.6L662.9,724.4L658.9,724.1L654.9,723.9L650.9,723.6L646.9,723.4L642.9,723.1L638.8,722.9L634.8,722.7L630.8,722.4L626.8,722.2L622.8,722L618.8,721.8L614.8,721.5L610.8,721.3L606.8,721.1L602.7,720.9L598.7,720.7L594.7,720.5L590.7,720.2L586.7,720L582.7,719.8L578.7,719.6L574.7,719.4L570.6,719.2L566.6,719L562.6,718.8L558.6,718.6L554.6,718.5L550.6,718.3L546.6,718.1L542.6,717.9L538.5,717.7L534.5,717.5L530.5,717.3L526.5,717.2L522.5,717L518.5,716.8L514.5,716.6L510.5,716.5L506.5,716.3L502.4,716.1L498.4,715.9L494.4,715.8L490.4,715.6L486.4,715.4L482.4,715.3L478.4,715.1L474.4,714.9L470.3,714.8L466.3,714.6L462.3,714.4L458.3,714.3L454.3,714.1L450.3,714L446.3,713.8L442.3,713.6L438.2,713.5L434.2,713.3L430.2,713.2L426.2,713L422.2,712.9L418.2,712.7L414.2,712.5L410.2,712.4L406.2,712.2L402.1,712.1L398.1,711.9L394.1,711.8L390.1,711.6L386.1,711.5L382.1,711.3L378.1,711.1L374.1,711L370,710.8L366,710.7L362,710.5L358,710.4L354,710.2Z" fill="url(#ga46)"/>
<path d="M400,636.4L404,636.9L408.1,637.5L412.1,638L416.2,638.5L420.2,639.1L424.2,639.6L428.3,640.2L432.3,640.8L436.4,641.4L440.4,641.9L444.5,642.5L448.5,643.1L452.5,643.7L456.6,644.3L460.6,645L464.7,645.6L468.7,646.2L472.8,646.8L476.8,647.6L480.8,648.4L484.9,649.2L488.9,650.1L493,651L497,652L501,652.9L505.1,653.8L509.1,654.6L513.2,655.5L517.2,656.2L521.2,656.9L525.3,657.4L529.3,657.9L533.4,658.2L537.4,658.4L541.5,658.4L545.5,658.4L549.5,658.3L553.6,658.2L557.6,658L561.7,657.9L565.7,657.7L569.8,657.5L573.8,657.2L577.8,656.9L581.9,656.7L585.9,656.4L590,656L594,655.7L598,655.4L602.1,655.1L606.1,654.7L610.2,654.4L614.2,654L618.2,653.6L622.3,653.2L626.3,652.7L630.4,652.2L634.4,651.7L638.5,651.1L642.5,650.5L646.5,649.9L650.6,649.2L654.6,648.5L658.7,647.8L662.7,647.1L666.8,646.3L670.8,645.6L674.8,644.8L678.9,644L682.9,643.1L687,642.3L691,641.4L691,668.6L687,669.5L682.9,670.3L678.9,671.2L674.8,672L670.8,672.8L666.8,673.5L662.7,674.3L658.7,675L654.6,675.7L650.6,676.4L646.5,677.1L642.5,677.7L638.5,678.3L634.4,678.9L630.4,679.4L626.3,679.9L622.3,680.4L618.2,680.8L614.2,681.2L610.2,681.6L606.1,681.9L602.1,682.3L598,682.6L594,682.9L590,683.2L585.9,683.6L581.9,683.9L577.8,684.1L573.8,684.4L569.8,684.7L565.7,684.9L561.7,685.1L557.6,685.2L553.6,685.4L549.5,685.5L545.5,685.6L541.5,685.6L537.4,685.6L533.4,685.4L529.3,685.1L525.3,684.6L521.2,684.1L517.2,683.4L513.2,682.7L509.1,681.8L505.1,681L501,680.1L497,679.2L493,678.2L488.9,677.3L484.9,676.4L480.8,675.6L476.8,674.8L472.8,674L468.7,673.4L464.7,672.8L460.6,672.2L456.6,671.5L452.5,670.9L448.5,670.3L444.5,669.7L440.4,669.1L436.4,668.6L432.3,668L428.3,667.4L424.2,666.8L420.2,666.3L416.2,665.7L412.1,665.2L408.1,664.7L404,664.1L400,663.6Z" fill="url(#ga47)"/>
<path d="M354,696.5L358,696.5L362,696.6L366,696.6L370,696.7L374.1,696.8L378.1,696.9L382.1,697L386.1,697.1L390.1,697.2L394.1,697.3L398.1,697.4L402.1,697.6L406.2,697.7L410.2,697.8L414.2,698L418.2,698.1L422.2,698.3L426.2,698.5L430.2,698.6L434.2,698.8L438.2,699L442.3,699.2L446.3,699.3L450.3,699.5L454.3,699.7L458.3,699.9L462.3,700.1L466.3,700.4L470.3,700.7L474.4,700.9L478.4,701.2L482.4,701.5L486.4,701.9L490.4,702.2L494.4,702.5L498.4,702.9L502.4,703.2L506.5,703.6L510.5,703.9L514.5,704.3L518.5,704.6L522.5,705L526.5,705.3L530.5,705.7L534.5,706L538.5,706.4L542.6,706.7L546.6,707.1L550.6,707.4L554.6,707.7L558.6,708.1L562.6,708.5L566.6,708.8L570.6,709.2L574.7,709.6L578.7,709.9L582.7,710.3L586.7,710.7L590.7,711L594.7,711.4L598.7,711.7L602.7,712.1L606.8,712.4L610.8,712.8L614.8,713.1L618.8,713.4L622.8,713.7L626.8,714L630.8,714.3L634.8,714.6L638.8,714.9L642.9,715.2L646.9,715.5L650.9,715.8L654.9,716.1L658.9,716.4L662.9,716.7L666.9,716.9L670.9,717.2L675,717.5L679,717.7L683,718L687,718.2L691,718.5L691,735.5L687,735.2L683,735L679,734.7L675,734.5L670.9,734.2L666.9,733.9L662.9,733.7L658.9,733.4L654.9,733.1L650.9,732.8L646.9,732.5L642.9,732.2L638.8,731.9L634.8,731.6L630.8,731.3L626.8,731L622.8,730.7L618.8,730.4L614.8,730.1L610.8,729.8L606.8,729.4L602.7,729.1L598.7,728.7L594.7,728.4L590.7,728L586.7,727.7L582.7,727.3L578.7,726.9L574.7,726.6L570.6,726.2L566.6,725.8L562.6,725.5L558.6,725.1L554.6,724.7L550.6,724.4L546.6,724.1L542.6,723.7L538.5,723.4L534.5,723L530.5,722.7L526.5,722.3L522.5,722L518.5,721.6L514.5,721.3L510.5,720.9L506.5,720.6L502.4,720.2L498.4,719.9L494.4,719.5L490.4,719.2L486.4,718.9L482.4,718.5L478.4,718.2L474.4,717.9L470.3,717.7L466.3,717.4L462.3,717.1L458.3,716.9L454.3,716.7L450.3,716.5L446.3,716.3L442.3,716.2L438.2,716L434.2,715.8L430.2,715.6L426.2,715.5L422.2,715.3L418.2,715.1L414.2,715L410.2,714.8L406.2,714.7L402.1,714.6L398.1,714.4L394.1,714.3L390.1,714.2L386.1,714.1L382.1,714L378.1,713.9L374.1,713.8L370,713.7L366,713.6L362,713.6L358,713.5L354,713.5Z" fill="url(#ga48)"/>
<path d="M116,691.9L120.1,692.7L124.1,694L128.2,695.6L132.2,697.7L136.3,700.1L140.3,702.8L144.4,705.9L148.5,709.2L152.5,712.8L156.6,716.6L160.6,720.6L164.7,724.7L168.8,729.1L172.8,733.5L176.9,738L180.9,742.6L185,747.3L189,752L193.1,756.8L197.2,761.6L201.2,766.4L205.3,771.3L209.3,776.2L213.4,781L217.4,785.9L221.5,790.7L225.6,795.5L229.6,800.3L233.7,805L237.7,809.7L241.8,814.3L245.9,818.9L249.9,823.4L254,827.8L258,832.2L262.1,836.4L266.1,840.6L270.2,844.7L274.3,848.7L278.3,852.7L282.4,856.5L286.4,860.2L290.5,863.8L294.5,867.4L298.6,870.8L302.7,874.1L306.7,877.2L310.8,880.3L314.8,883.2L318.9,886L323,888.7L327,891.2L331.1,893.6L335.1,895.8L339.2,897.9L343.2,899.8L347.3,901.6L347.3,919.5L343.2,917.7L339.2,915.7L335.1,913.6L331.1,911.4L327,909L323,906.5L318.9,903.8L314.8,901L310.8,898.1L306.7,895.1L302.7,891.9L298.6,888.6L294.5,885.2L290.5,881.7L286.4,878.1L282.4,874.3L278.3,870.5L274.3,866.6L270.2,862.6L266.1,858.5L262.1,854.3L258,850L254,845.7L249.9,841.2L245.9,836.8L241.8,832.2L237.7,827.6L233.7,822.9L229.6,818.2L225.6,813.4L221.5,808.6L217.4,803.7L213.4,798.9L209.3,794L205.3,789.1L201.2,784.3L197.2,779.5L193.1,774.6L189,769.9L185,765.2L180.9,760.5L176.9,755.9L172.8,751.3L168.8,746.9L164.7,742.6L160.6,738.4L156.6,734.4L152.5,730.6L148.5,727L144.4,723.7L140.3,720.7L136.3,717.9L132.2,715.5L128.2,713.5L124.1,711.8L120.1,710.6L116,709.8Z" fill="url(#ga49)"/>
<path d="M250,827.5L254.1,831.9L258.1,836.3L262.2,840.6L266.2,844.8L270.3,848.9L274.3,853L278.4,857L282.4,860.8L286.5,864.6L290.5,868.3L294.6,871.8L298.6,875.2L302.7,878.5L306.8,881.6L310.8,884.6L314.9,887.4L318.9,890.1L323,892.6L327,894.9L331.1,897L335.1,898.9L339.2,900.7L343.2,902.2L347.3,903.5L347.3,920.5L343.2,919.2L339.2,917.7L335.1,915.9L331.1,914L327,911.9L323,909.6L318.9,907.1L314.9,904.4L310.8,901.6L306.8,898.6L302.7,895.5L298.6,892.2L294.6,888.8L290.5,885.3L286.5,881.6L282.4,877.8L278.4,874L274.3,870L270.3,865.9L266.2,861.8L262.2,857.6L258.1,853.3L254.1,848.9L250,844.5Z" fill="url(#ga50)"/>
<path d="M362,901.6L366,900L370.1,898.2L374.1,896.1L378.2,893.9L382.2,891.4L386.2,888.8L390.3,885.9L394.3,882.9L398.4,879.8L402.4,876.4L406.4,873L410.5,869.4L414.5,865.7L418.6,861.9L422.6,857.9L426.7,853.9L430.7,849.8L434.7,845.6L438.8,841.4L442.8,837.1L446.9,832.8L450.9,828.4L454.9,823.9L459,819.5L463,814.9L467.1,810.4L471.1,805.8L475.1,801.2L479.2,796.5L483.2,791.9L487.3,787.2L491.3,782.5L495.3,777.7L499.4,773L503.4,768.2L507.5,763.5L511.5,758.7L515.5,753.9L519.6,749.1L523.6,744.3L527.7,739.6L531.7,734.8L535.8,730L539.8,725.3L543.8,720.6L547.9,715.9L551.9,711.2L556,706.5L560,701.9L564,697.3L568.1,692.7L572.1,688.2L576.2,683.7L580.2,679.3L584.2,674.9L588.3,670.6L592.3,666.3L596.4,662.2L600.4,658L604.4,654L608.5,650.1L612.5,646.2L616.6,642.4L620.6,638.7L624.6,635.1L628.7,631.6L632.7,628.2L636.8,624.9L640.8,621.8L644.9,618.7L648.9,615.8L652.9,613L657,610.3L661,607.8L665.1,605.4L669.1,603.1L673.1,601L677.2,599L681.2,597.2L685.3,595.6L689.3,594.1L689.3,611.9L685.3,613.4L681.2,615.1L677.2,616.9L673.1,618.8L669.1,620.9L665.1,623.2L661,625.6L657,628.1L652.9,630.8L648.9,633.6L644.9,636.6L640.8,639.6L636.8,642.8L632.7,646.1L628.7,649.5L624.6,653L620.6,656.5L616.6,660.2L612.5,664L608.5,667.9L604.4,671.9L600.4,675.9L596.4,680L592.3,684.2L588.3,688.4L584.2,692.8L580.2,697.1L576.2,701.6L572.1,706L568.1,710.6L564,715.1L560,719.7L556,724.4L551.9,729L547.9,733.7L543.8,738.4L539.8,743.1L535.8,747.9L531.7,752.6L527.7,757.4L523.6,762.2L519.6,767L515.5,771.7L511.5,776.5L507.5,781.3L503.4,786.1L499.4,790.8L495.3,795.6L491.3,800.3L487.3,805L483.2,809.7L479.2,814.4L475.1,819L471.1,823.7L467.1,828.2L463,832.8L459,837.3L454.9,841.8L450.9,846.2L446.9,850.6L442.8,855L438.8,859.3L434.7,863.5L430.7,867.7L426.7,871.8L422.6,875.8L418.6,879.7L414.5,883.5L410.5,887.2L406.4,890.8L402.4,894.3L398.4,897.6L394.3,900.8L390.3,903.8L386.2,906.6L382.2,909.3L378.2,911.7L374.1,914L370.1,916L366,917.9L362,919.5Z" fill="url(#ga51)"/>
<path d="M362,903.5L366.1,902L370.2,900.2L374.3,898.3L378.4,896.3L382.5,894.1L386.6,891.7L390.7,889.1L394.8,886.3L398.9,883.5L403.1,880.5L407.2,877.3L411.3,874.1L415.4,870.7L419.5,867.3L423.6,863.8L427.7,860.3L431.8,856.8L435.9,853.2L440,849.5L440,866.5L435.9,870.2L431.8,873.8L427.7,877.3L423.6,880.8L419.5,884.3L415.4,887.7L411.3,891.1L407.2,894.3L403.1,897.5L398.9,900.5L394.8,903.3L390.7,906.1L386.6,908.7L382.5,911.1L378.4,913.3L374.3,915.3L370.2,917.2L366.1,919L362,920.5Z" fill="url(#ga52)"/>
<path d="M354,624.9L358,626.4L362.1,628.1L366.1,630L370.1,632L374.1,634.1L378.2,636.3L382.2,638.6L386.2,640.9L390.3,643.3L394.3,645.7L398.3,648.1L402.3,650.6L406.4,653L410.4,655.3L414.4,657.6L418.4,659.8L422.5,662L426.5,664L430.5,666L434.6,668L438.6,670L442.6,672L446.6,674.1L450.7,676.3L454.7,678.7L458.7,681.2L462.8,683.9L466.8,686.8L470.8,690L474.8,693.4L478.9,697.1L482.9,701L486.9,705.1L491,709.4L495,713.9L499,718.5L503,723.3L507.1,728.1L511.1,733.1L515.1,738.1L519.1,743.1L523.2,748.2L527.2,753.3L531.2,758.5L535.3,763.6L539.3,768.7L543.3,773.8L547.3,778.9L551.4,783.9L555.4,788.9L559.4,793.8L563.5,798.6L567.5,803.5L571.5,808.3L575.5,813L579.6,817.8L583.6,822.5L587.6,827.3L591.7,832.1L595.7,836.9L599.7,841.6L603.7,846.3L607.8,850.9L611.8,855.4L615.8,859.8L619.9,864.1L623.9,868.1L627.9,871.9L631.9,875.5L636,878.9L640,882L644,885L648,887.7L652.1,890.2L656.1,892.5L660.1,894.7L664.2,896.6L668.2,898.5L672.2,900.1L676.2,901.6L680.3,903L684.3,904.2L684.3,919.5L680.3,918.3L676.2,916.9L672.2,915.4L668.2,913.8L664.2,911.9L660.1,910L656.1,907.8L652.1,905.5L648,903L644,900.3L640,897.3L636,894.2L631.9,890.8L627.9,887.2L623.9,883.4L619.9,879.4L615.8,875.1L611.8,870.7L607.8,866.2L603.7,861.6L599.7,856.9L595.7,852.2L591.7,847.4L587.6,842.6L583.6,837.8L579.6,833.1L575.5,828.3L571.5,823.6L567.5,818.8L563.5,813.9L559.4,809.1L555.4,804.2L551.4,799.2L547.3,794.2L543.3,789.1L539.3,784L535.3,778.9L531.2,773.8L527.2,768.6L523.2,763.5L519.1,758.4L515.1,753.4L511.1,748.4L507.1,743.4L503,738.6L499,733.8L495,729.2L491,724.7L486.9,720.4L482.9,716.3L478.9,712.4L474.8,708.7L470.8,705.3L466.8,702.1L462.8,699.2L458.7,696.5L454.7,694L450.7,691.6L446.6,689.4L442.6,687.3L438.6,685.3L434.6,683.3L430.5,681.3L426.5,679.3L422.5,677.3L418.4,675.1L414.4,672.9L410.4,670.6L406.4,668.3L402.3,665.9L398.3,663.4L394.3,661L390.3,658.6L386.2,656.2L382.2,653.9L378.2,651.6L374.1,649.4L370.1,647.3L366.1,645.3L362.1,643.4L358,641.7L354,640.2Z" fill="url(#ga53)"/>
<path d="M116,192.1L120,191.7L124,191.2L128.1,190.7L132.1,190.2L136.1,189.7L140.1,189.1L144.2,188.5L148.2,187.9L152.2,187.2L156.2,186.6L160.3,185.9L164.3,185.2L168.3,184.5L172.3,183.8L176.3,183.1L180.4,182.4L184.4,181.6L188.4,180.9L192.4,180.2L196.5,179.4L200.5,178.7L204.5,178L208.5,177.2L212.6,176.5L216.6,175.8L220.6,175.1L224.6,174.4L228.6,173.7L232.7,173.1L236.7,172.4L240.7,171.8L244.7,171.2L248.8,170.6L252.8,170.1L256.8,169.5L260.8,169L264.9,168.6L268.9,168.1L272.9,167.7L276.9,167.3L280.9,167L285,166.6L289,166.3L293,166.1L297,165.8L301.1,165.6L305.1,165.4L309.1,165.2L313.1,165L317.2,164.9L321.2,164.8L325.2,164.7L329.2,164.6L333.2,164.6L337.3,164.5L341.3,164.5L345.3,164.5L349.3,164.5L353.4,164.6L357.4,164.6L361.4,164.7L365.4,164.8L369.5,164.9L373.5,165L377.5,165.1L381.5,165.2L385.5,165.4L389.6,165.5L393.6,165.7L397.6,165.9L401.6,166.1L405.7,166.3L409.7,166.5L413.7,166.7L417.7,166.9L421.8,167.2L425.8,167.4L429.8,167.6L433.8,167.9L437.8,168.1L441.9,168.3L445.9,168.6L449.9,168.8L453.9,169.1L458,169.3L462,169.5L466,169.8L470,170L474.1,170.2L478.1,170.4L482.1,170.6L486.1,170.8L490.1,171L494.2,171.2L498.2,171.3L502.2,171.5L506.2,171.6L510.3,171.7L514.3,171.8L518.3,171.9L522.3,172L526.4,172L530.4,172.1L534.4,172.1L538.4,172.1L542.4,172.1L546.5,172L550.5,171.9L554.5,171.8L558.5,171.7L562.6,171.6L566.6,171.4L570.6,171.2L574.6,171L578.7,170.8L582.7,170.6L586.7,170.3L590.7,170.1L594.7,169.8L598.8,169.5L602.8,169.2L606.8,168.9L610.8,168.6L614.9,168.3L618.9,168L622.9,167.7L626.9,167.4L631,167L635,166.7L639,166.4L643,166.1L647,165.7L651.1,165.4L655.1,165.1L659.1,164.8L663.1,164.5L667.2,164.2L671.2,164L675.2,163.7L679.2,163.4L683.3,163.2L687.3,163L691.3,162.8L691.3,181.5L687.3,181.7L683.3,181.9L679.2,182.1L675.2,182.4L671.2,182.7L667.2,182.9L663.1,183.2L659.1,183.5L655.1,183.8L651.1,184.1L647,184.4L643,184.8L639,185.1L635,185.4L631,185.7L626.9,186.1L622.9,186.4L618.9,186.7L614.9,187L610.8,187.3L606.8,187.6L602.8,187.9L598.8,188.2L594.7,188.5L590.7,188.8L586.7,189L582.7,189.3L578.7,189.5L574.6,189.7L570.6,189.9L566.6,190.1L562.6,190.3L558.5,190.4L554.5,190.5L550.5,190.6L546.5,190.7L542.4,190.8L538.4,190.8L534.4,190.8L530.4,190.8L526.4,190.7L522.3,190.7L518.3,190.6L514.3,190.5L510.3,190.4L506.2,190.3L502.2,190.2L498.2,190L494.2,189.9L490.1,189.7L486.1,189.5L482.1,189.3L478.1,189.1L474.1,188.9L470,188.7L466,188.5L462,188.2L458,188L453.9,187.8L449.9,187.5L445.9,187.3L441.9,187L437.8,186.8L433.8,186.6L429.8,186.3L425.8,186.1L421.8,185.9L417.7,185.6L413.7,185.4L409.7,185.2L405.7,185L401.6,184.8L397.6,184.6L393.6,184.4L389.6,184.2L385.5,184.1L381.5,183.9L377.5,183.8L373.5,183.7L369.5,183.6L365.4,183.5L361.4,183.4L357.4,183.3L353.4,183.3L349.3,183.2L345.3,183.2L341.3,183.2L337.3,183.2L333.2,183.3L329.2,183.3L325.2,183.4L321.2,183.5L317.2,183.6L313.1,183.7L309.1,183.9L305.1,184.1L301.1,184.3L297,184.5L293,184.8L289,185L285,185.3L280.9,185.7L276.9,186L272.9,186.4L268.9,186.8L264.9,187.3L260.8,187.7L256.8,188.2L252.8,188.8L248.8,189.3L244.7,189.9L240.7,190.5L236.7,191.1L232.7,191.8L228.6,192.4L224.6,193.1L220.6,193.8L216.6,194.5L212.6,195.2L208.5,195.9L204.5,196.7L200.5,197.4L196.5,198.1L192.4,198.9L188.4,199.6L184.4,200.3L180.4,201.1L176.3,201.8L172.3,202.5L168.3,203.2L164.3,203.9L160.3,204.6L156.2,205.3L152.2,205.9L148.2,206.6L144.2,207.2L140.1,207.8L136.1,208.4L132.1,208.9L128.1,209.4L124,209.9L120,210.4L116,210.8Z" fill="#000" fill-opacity="0.6"/>
<path d="M116,194.1L120,194.6L124.1,195.1L128.1,195.4L132.1,195.7L136.2,195.9L140.2,196L144.2,196L148.3,195.9L152.3,195.8L156.3,195.6L160.4,195.3L164.4,195L168.4,194.6L172.5,194.1L176.5,193.6L180.5,193.1L184.6,192.5L188.6,191.9L192.6,191.2L196.7,190.5L200.7,189.7L204.7,188.9L208.8,188.1L212.8,187.2L216.8,186.4L220.9,185.5L224.9,184.6L228.9,183.7L233,182.7L237,181.8L241.1,180.9L245.1,179.9L249.1,179L253.2,178L257.2,177.1L261.2,176.2L265.3,175.3L269.3,174.4L273.3,173.5L277.4,172.7L281.4,171.9L285.4,171.1L289.5,170.3L293.5,169.6L297.5,168.9L301.6,168.3L305.6,167.7L309.6,167.1L313.7,166.6L317.7,166.2L321.7,165.8L325.8,165.4L329.8,165.2L333.8,165L337.9,164.8L341.9,164.8L345.9,164.8L350,164.9L354,165L354,180.3L350,180.2L345.9,180.1L341.9,180.1L337.9,180.1L333.8,180.3L329.8,180.5L325.8,180.7L321.7,181.1L317.7,181.5L313.7,181.9L309.6,182.4L305.6,183L301.6,183.6L297.5,184.2L293.5,184.9L289.5,185.6L285.4,186.4L281.4,187.2L277.4,188L273.3,188.8L269.3,189.7L265.3,190.6L261.2,191.5L257.2,192.4L253.2,193.3L249.1,194.3L245.1,195.2L241.1,196.2L237,197.1L233,198L228.9,199L224.9,199.9L220.9,200.8L216.8,201.7L212.8,202.5L208.8,203.4L204.7,204.2L200.7,205L196.7,205.8L192.6,206.5L188.6,207.2L184.6,207.8L180.5,208.4L176.5,208.9L172.5,209.4L168.4,209.9L164.4,210.3L160.4,210.6L156.3,210.9L152.3,211.1L148.3,211.2L144.2,211.3L140.2,211.3L136.2,211.2L132.1,211L128.1,210.7L124.1,210.4L120,209.9L116,209.4Z" fill="#000" fill-opacity="0.4"/>
<path d="M116,230L120.1,228.3L124.2,226.5L128.3,224.8L132.3,223L136.4,221.3L140.5,219.5L144.6,217.8L148.7,216L152.8,214.3L156.9,212.5L161,210.8L165,209L169.1,207.3L173.2,205.5L177.3,203.8L181.4,202L185.5,200.3L189.6,198.5L193.7,196.7L197.7,195L201.8,193.2L205.9,191.5L210,189.7L210,203.3L205.9,205.1L201.8,206.8L197.7,208.6L193.7,210.3L189.6,212.1L185.5,213.9L181.4,215.6L177.3,217.4L173.2,219.1L169.1,220.9L165,222.6L161,224.4L156.9,226.1L152.8,227.9L148.7,229.6L144.6,231.4L140.5,233.1L136.4,234.9L132.3,236.6L128.3,238.4L124.2,240.1L120.1,241.9L116,243.6Z" fill="#000" fill-opacity="0.3"/>
<path d="M116,229.9L120,231.3L124,232.6L128.1,234L132.1,235.3L136.1,236.7L140.1,238L144.2,239.3L148.2,240.6L152.2,241.9L156.2,243.2L160.3,244.5L164.3,245.7L168.3,246.9L172.3,248.1L176.3,249.3L180.4,250.5L184.4,251.6L188.4,252.7L192.4,253.8L196.5,254.9L200.5,256L204.5,257L208.5,258L212.6,258.9L216.6,259.8L220.6,260.7L224.6,261.6L228.6,262.4L232.7,263.2L236.7,264L240.7,264.7L244.7,265.4L248.8,266.1L252.8,266.8L256.8,267.4L260.8,267.9L264.9,268.4L268.9,268.9L272.9,269.4L276.9,269.8L280.9,270.2L285,270.6L289,271L293,271.3L297,271.6L301.1,271.8L305.1,272.1L309.1,272.3L313.1,272.5L317.2,272.7L321.2,272.8L325.2,272.9L329.2,273.1L333.2,273.2L337.3,273.2L341.3,273.3L345.3,273.3L349.3,273.4L353.4,273.4L357.4,273.4L361.4,273.4L365.4,273.4L369.5,273.3L373.5,273.3L377.5,273.2L381.5,273.2L385.5,273.1L389.6,273.1L393.6,273L397.6,272.9L401.6,272.8L405.7,272.8L409.7,272.7L413.7,272.6L417.7,272.5L421.8,272.4L425.8,272.3L429.8,272.3L433.8,272.2L437.8,272.1L441.9,272L445.9,271.9L449.9,271.8L453.9,271.7L458,271.7L462,271.6L466,271.5L470,271.4L474.1,271.3L478.1,271.2L482.1,271.2L486.1,271.1L490.1,271L494.2,270.9L498.2,270.9L502.2,270.8L506.2,270.7L510.3,270.7L514.3,270.6L518.3,270.6L522.3,270.5L526.4,270.4L530.4,270.4L534.4,270.3L538.4,270.3L542.4,270.3L546.5,270.2L550.5,270.2L554.5,270.2L558.5,270.2L562.6,270.1L566.6,270.1L570.6,270.1L574.6,270.1L578.7,270.1L582.7,270.1L586.7,270.1L590.7,270.1L594.7,270.2L598.8,270.2L602.8,270.2L606.8,270.3L610.8,270.3L614.9,270.4L618.9,270.4L622.9,270.5L626.9,270.6L631,270.7L635,270.7L639,270.8L643,270.9L647,271.1L651.1,271.2L655.1,271.3L659.1,271.4L663.1,271.6L667.2,271.7L671.2,271.9L675.2,272.1L679.2,272.2L683.3,272.4L687.3,272.6L691.3,272.8L691.3,286.4L687.3,286.2L683.3,286L679.2,285.8L675.2,285.7L671.2,285.5L667.2,285.3L663.1,285.2L659.1,285L655.1,284.9L651.1,284.8L647,284.7L643,284.5L639,284.4L635,284.3L631,284.3L626.9,284.2L622.9,284.1L618.9,284L614.9,284L610.8,283.9L606.8,283.9L602.8,283.8L598.8,283.8L594.7,283.8L590.7,283.7L586.7,283.7L582.7,283.7L578.7,283.7L574.6,283.7L570.6,283.7L566.6,283.7L562.6,283.7L558.5,283.8L554.5,283.8L550.5,283.8L546.5,283.8L542.4,283.9L538.4,283.9L534.4,283.9L530.4,284L526.4,284L522.3,284.1L518.3,284.2L514.3,284.2L510.3,284.3L506.2,284.3L502.2,284.4L498.2,284.5L494.2,284.5L490.1,284.6L486.1,284.7L482.1,284.8L478.1,284.8L474.1,284.9L470,285L466,285.1L462,285.2L458,285.3L453.9,285.3L449.9,285.4L445.9,285.5L441.9,285.6L437.8,285.7L433.8,285.8L429.8,285.9L425.8,285.9L421.8,286L417.7,286.1L413.7,286.2L409.7,286.3L405.7,286.4L401.6,286.4L397.6,286.5L393.6,286.6L389.6,286.7L385.5,286.7L381.5,286.8L377.5,286.8L373.5,286.9L369.5,286.9L365.4,287L361.4,287L357.4,287L353.4,287L349.3,287L345.3,286.9L341.3,286.9L337.3,286.8L333.2,286.8L329.2,286.7L325.2,286.5L321.2,286.4L317.2,286.3L313.1,286.1L309.1,285.9L305.1,285.7L301.1,285.4L297,285.2L293,284.9L289,284.6L285,284.2L280.9,283.8L276.9,283.4L272.9,283L268.9,282.5L264.9,282L260.8,281.5L256.8,281L252.8,280.4L248.8,279.7L244.7,279L240.7,278.3L236.7,277.6L232.7,276.8L228.6,276L224.6,275.2L220.6,274.3L216.6,273.4L212.6,272.5L208.5,271.6L204.5,270.6L200.5,269.6L196.5,268.5L192.4,267.4L188.4,266.3L184.4,265.2L180.4,264.1L176.3,262.9L172.3,261.7L168.3,260.5L164.3,259.3L160.3,258.1L156.2,256.8L152.2,255.5L148.2,254.2L144.2,252.9L140.1,251.6L136.1,250.3L132.1,248.9L128.1,247.6L124,246.2L120,244.9L116,243.5Z" fill="url(#ga3)"/>
<path d="M116,230L120,230.3L124.1,230.6L128.1,230.9L132.1,231.4L136.2,231.9L140.2,232.4L144.2,233.1L148.3,233.8L152.3,234.5L156.3,235.3L160.4,236.2L164.4,237.1L168.4,238.1L172.5,239.2L176.5,240.3L180.5,241.4L184.6,242.6L188.6,243.8L192.6,245.1L196.7,246.4L200.7,247.8L204.7,249.2L208.8,250.6L212.8,252.1L216.8,253.6L220.9,255.1L224.9,256.7L228.9,258.3L233,260L237,261.6L241.1,263.3L245.1,265.1L249.1,266.8L253.2,268.6L257.2,270.4L261.2,272.2L265.3,274L269.3,275.8L273.3,277.7L277.4,279.5L281.4,281.4L285.4,283.3L289.5,285.2L293.5,287.1L297.5,289L301.6,290.9L305.6,292.8L309.6,294.7L313.7,296.6L317.7,298.5L321.7,300.4L325.8,302.3L329.8,304.2L333.8,306L337.9,307.9L341.9,309.7L345.9,311.6L350,313.4L354,315.2L354,328.8L350,327L345.9,325.2L341.9,323.3L337.9,321.5L333.8,319.6L329.8,317.8L325.8,315.9L321.7,314L317.7,312.1L313.7,310.2L309.6,308.3L305.6,306.4L301.6,304.5L297.5,302.6L293.5,300.7L289.5,298.8L285.4,296.9L281.4,295L277.4,293.1L273.3,291.3L269.3,289.4L265.3,287.6L261.2,285.8L257.2,284L253.2,282.2L249.1,280.4L245.1,278.7L241.1,276.9L237,275.2L233,273.6L228.9,271.9L224.9,270.3L220.9,268.7L216.8,267.2L212.8,265.7L208.8,264.2L204.7,262.8L200.7,261.4L196.7,260L192.6,258.7L188.6,257.4L184.6,256.2L180.5,255L176.5,253.9L172.5,252.8L168.4,251.7L164.4,250.7L160.4,249.8L156.3,248.9L152.3,248.1L148.3,247.4L144.2,246.7L140.2,246L136.2,245.5L132.1,245L128.1,244.5L124.1,244.2L120,243.9L116,243.6Z" fill="#000" fill-opacity="0.35"/>
<path d="M354,165.9L358,165.7L362,165.7L366,165.7L370.1,165.8L374.1,166L378.1,166.3L382.1,166.7L386.1,167.2L390.1,167.8L394.2,168.4L398.2,169.1L402.2,170L406.2,170.9L410.2,171.8L414.2,172.9L418.2,174L422.3,175.2L426.3,176.4L430.3,177.7L434.3,179.1L438.3,180.6L442.3,182.1L446.4,183.6L450.4,185.2L454.4,186.9L458.4,188.6L462.4,190.4L466.4,192.2L470.4,194.1L474.5,196L478.5,198L482.5,200L486.5,202L490.5,204L494.5,206.1L498.6,208.3L502.6,210.4L506.6,212.6L510.6,214.8L514.6,217L518.6,219.3L522.6,221.6L526.7,223.9L530.7,226.2L534.7,228.5L538.7,230.8L542.7,233.2L546.7,235.5L550.8,237.9L554.8,240.2L558.8,242.6L562.8,244.9L566.8,247.3L570.8,249.7L574.9,252L578.9,254.4L582.9,256.7L586.9,259.1L590.9,261.5L594.9,263.8L598.9,266.1L603,268.5L607,270.8L611,273.1L615,275.4L619,277.7L623,279.9L627.1,282.2L631.1,284.4L635.1,286.6L639.1,288.8L643.1,291L647.1,293.1L651.1,295.3L655.2,297.4L659.2,299.5L663.2,301.5L667.2,303.6L671.2,305.6L675.2,307.5L679.3,309.5L683.3,311.4L687.3,313.3L691.3,315.1L691.3,328.7L687.3,326.9L683.3,325L679.3,323.1L675.2,321.1L671.2,319.2L667.2,317.2L663.2,315.1L659.2,313.1L655.2,311L651.1,308.9L647.1,306.7L643.1,304.6L639.1,302.4L635.1,300.2L631.1,298L627.1,295.8L623,293.5L619,291.3L615,289L611,286.7L607,284.4L603,282.1L598.9,279.7L594.9,277.4L590.9,275.1L586.9,272.7L582.9,270.3L578.9,268L574.9,265.6L570.8,263.3L566.8,260.9L562.8,258.5L558.8,256.2L554.8,253.8L550.8,251.5L546.7,249.1L542.7,246.8L538.7,244.4L534.7,242.1L530.7,239.8L526.7,237.5L522.6,235.2L518.6,232.9L514.6,230.6L510.6,228.4L506.6,226.2L502.6,224L498.6,221.9L494.5,219.7L490.5,217.6L486.5,215.6L482.5,213.6L478.5,211.6L474.5,209.6L470.4,207.7L466.4,205.8L462.4,204L458.4,202.2L454.4,200.5L450.4,198.8L446.4,197.2L442.3,195.7L438.3,194.2L434.3,192.7L430.3,191.3L426.3,190L422.3,188.8L418.2,187.6L414.2,186.5L410.2,185.4L406.2,184.5L402.2,183.6L398.2,182.7L394.2,182L390.1,181.4L386.1,180.8L382.1,180.3L378.1,179.9L374.1,179.6L370.1,179.4L366,179.3L362,179.3L358,179.3L354,179.5Z" fill="#000" fill-opacity="0.3"/>
<path d="M354,315.2L358,312.5L362,310L366,307.5L370.1,305.1L374.1,302.9L378.1,300.7L382.1,298.6L386.1,296.5L390.1,294.5L394.2,292.5L398.2,290.5L402.2,288.6L406.2,286.7L410.2,284.7L414.2,282.8L418.2,280.8L422.3,278.8L426.3,276.8L430.3,274.7L434.3,272.5L438.3,270.3L442.3,268L446.4,265.7L450.4,263.2L454.4,260.7L458.4,258.2L462.4,255.6L466.4,253.1L470.4,250.6L474.5,248L478.5,245.6L482.5,243.2L486.5,240.8L490.5,238.5L494.5,236.2L498.6,233.9L502.6,231.7L506.6,229.5L510.6,227.4L514.6,225.2L518.6,223.1L522.6,221L526.7,218.9L530.7,216.8L534.7,214.8L538.7,212.7L542.7,210.7L546.7,208.7L550.8,206.7L554.8,204.7L558.8,202.7L562.8,200.8L566.8,198.9L570.8,197.1L574.9,195.3L578.9,193.5L582.9,191.7L586.9,190L590.9,188.3L594.9,186.7L598.9,185.1L603,183.6L607,182.1L611,180.6L615,179.2L619,177.9L623,176.6L627.1,175.4L631.1,174.2L635.1,173.1L639.1,172.1L643.1,171.1L647.1,170.2L651.1,169.4L655.2,168.7L659.2,168L663.2,167.4L667.2,166.8L671.2,166.4L675.2,166L679.3,165.7L683.3,165.5L687.3,165.4L691.3,165.4L691.3,179L687.3,179L683.3,179.1L679.3,179.3L675.2,179.6L671.2,180L667.2,180.4L663.2,181L659.2,181.6L655.2,182.3L651.1,183L647.1,183.8L643.1,184.7L639.1,185.7L635.1,186.7L631.1,187.8L627.1,189L623,190.2L619,191.5L615,192.8L611,194.2L607,195.7L603,197.2L598.9,198.7L594.9,200.3L590.9,201.9L586.9,203.6L582.9,205.3L578.9,207.1L574.9,208.9L570.8,210.7L566.8,212.5L562.8,214.4L558.8,216.3L554.8,218.3L550.8,220.3L546.7,222.3L542.7,224.3L538.7,226.3L534.7,228.4L530.7,230.4L526.7,232.5L522.6,234.6L518.6,236.7L514.6,238.8L510.6,241L506.6,243.1L502.6,245.3L498.6,247.5L494.5,249.8L490.5,252.1L486.5,254.4L482.5,256.8L478.5,259.2L474.5,261.6L470.4,264.2L466.4,266.7L462.4,269.2L458.4,271.8L454.4,274.3L450.4,276.8L446.4,279.3L442.3,281.6L438.3,283.9L434.3,286.1L430.3,288.3L426.3,290.4L422.3,292.4L418.2,294.4L414.2,296.4L410.2,298.3L406.2,300.3L402.2,302.2L398.2,304.1L394.2,306.1L390.1,308.1L386.1,310.1L382.1,312.2L378.1,314.3L374.1,316.5L370.1,318.7L366,321.1L362,323.6L358,326.1L354,328.8Z" fill="#000" fill-opacity="0.3"/>
<path d="M354,315.2L358,313L362,311L366,309L370.1,307L374.1,305.1L378.1,303.2L382.1,301.4L386.1,299.7L390.1,298L394.2,296.4L398.2,294.8L402.2,293.2L406.2,291.7L410.2,290.3L414.2,288.9L418.2,287.6L422.3,286.3L426.3,285.1L430.3,283.9L434.3,282.8L438.3,281.7L442.3,280.7L446.4,279.8L450.4,278.9L454.4,278L458.4,277.2L462.4,276.4L466.4,275.7L470.4,275.1L474.5,274.5L478.5,273.9L482.5,273.4L486.5,272.9L490.5,272.5L494.5,272.2L498.6,271.9L502.6,271.6L506.6,271.4L510.6,271.3L514.6,271.2L518.6,271.1L522.6,271.1L526.7,271.2L530.7,271.3L534.7,271.4L538.7,271.6L542.7,271.9L546.7,272.2L550.8,272.5L554.8,272.9L558.8,273.4L562.8,273.9L566.8,274.4L570.8,275L574.9,275.7L578.9,276.3L582.9,277.1L586.9,277.9L590.9,278.7L594.9,279.6L598.9,280.5L603,281.5L607,282.5L611,283.6L615,284.7L619,285.9L623,287.1L627.1,288.4L631.1,289.7L635.1,291.1L639.1,292.5L643.1,294L647.1,295.5L651.1,297L655.2,298.6L659.2,300.3L663.2,301.9L667.2,303.7L671.2,305.5L675.2,307.3L679.3,309.2L683.3,311.1L687.3,313.1L691.3,315.1L691.3,328.7L687.3,326.7L683.3,324.7L679.3,322.8L675.2,320.9L671.2,319.1L667.2,317.3L663.2,315.5L659.2,313.9L655.2,312.2L651.1,310.6L647.1,309.1L643.1,307.6L639.1,306.1L635.1,304.7L631.1,303.3L627.1,302L623,300.7L619,299.5L615,298.3L611,297.2L607,296.1L603,295.1L598.9,294.1L594.9,293.2L590.9,292.3L586.9,291.5L582.9,290.7L578.9,289.9L574.9,289.3L570.8,288.6L566.8,288L562.8,287.5L558.8,287L554.8,286.5L550.8,286.1L546.7,285.8L542.7,285.5L538.7,285.2L534.7,285L530.7,284.9L526.7,284.8L522.6,284.7L518.6,284.7L514.6,284.8L510.6,284.9L506.6,285L502.6,285.2L498.6,285.5L494.5,285.8L490.5,286.1L486.5,286.5L482.5,287L478.5,287.5L474.5,288.1L470.4,288.7L466.4,289.3L462.4,290L458.4,290.8L454.4,291.6L450.4,292.5L446.4,293.4L442.3,294.3L438.3,295.3L434.3,296.4L430.3,297.5L426.3,298.7L422.3,299.9L418.2,301.2L414.2,302.5L410.2,303.9L406.2,305.3L402.2,306.8L398.2,308.4L394.2,310L390.1,311.6L386.1,313.3L382.1,315L378.1,316.8L374.1,318.7L370.1,320.6L366,322.6L362,324.6L358,326.6L354,328.8Z" fill="#000" fill-opacity="0.3"/>
<path d="M116,307.9L120,307.9L124.1,307.9L128.1,307.9L132.1,307.9L136.2,307.9L140.2,307.9L144.2,307.9L148.3,307.9L152.3,307.9L156.3,307.9L160.4,307.9L164.4,307.9L168.4,307.9L172.5,307.9L176.5,307.9L180.5,307.9L184.6,307.9L188.6,307.9L192.6,308L196.7,308L200.7,308.1L204.7,308.2L208.8,308.3L212.8,308.4L216.8,308.6L220.9,308.7L224.9,308.9L228.9,309.1L233,309.3L237,309.5L241.1,309.7L245.1,309.9L249.1,310.1L253.2,310.3L257.2,310.5L261.2,310.7L265.3,310.9L269.3,311.1L273.3,311.3L277.4,311.6L281.4,311.8L285.4,312.1L289.5,312.4L293.5,312.6L297.5,312.8L301.6,313L305.6,313.2L309.6,313.3L313.7,313.3L317.7,313.3L321.7,313.3L325.8,313.3L329.8,313.3L333.8,313.2L337.9,313.2L341.9,313.1L345.9,313L350,312.8L354,312.6L354,331.4L350,331.5L345.9,331.7L341.9,331.8L337.9,331.9L333.8,331.9L329.8,332L325.8,332L321.7,332L317.7,332L313.7,332L309.6,332L305.6,331.9L301.6,331.7L297.5,331.5L293.5,331.3L289.5,331.1L285.4,330.8L281.4,330.5L277.4,330.3L273.3,330L269.3,329.8L265.3,329.6L261.2,329.4L257.2,329.2L253.2,329L249.1,328.8L245.1,328.6L241.1,328.4L237,328.2L233,328L228.9,327.8L224.9,327.6L220.9,327.4L216.8,327.3L212.8,327.1L208.8,327L204.7,326.9L200.7,326.8L196.7,326.7L192.6,326.7L188.6,326.7L184.6,326.7L180.5,326.7L176.5,326.7L172.5,326.7L168.4,326.7L164.4,326.7L160.4,326.7L156.3,326.7L152.3,326.7L148.3,326.7L144.2,326.7L140.2,326.7L136.2,326.7L132.1,326.7L128.1,326.7L124.1,326.7L120,326.7L116,326.7Z" fill="#000" fill-opacity="0.65"/>
<path d="M116,308.8L120,309L124.1,309.2L128.1,309.4L132.1,309.7L136.2,309.9L140.2,310.2L144.2,310.6L148.3,310.9L152.3,311.3L156.3,311.7L160.4,312.1L164.4,312.6L168.4,313L172.5,313.5L176.5,314L180.5,314.5L184.6,315L188.6,315.5L192.6,316.1L196.7,316.6L200.7,317.2L204.7,317.7L208.8,318.3L212.8,318.8L216.8,319.4L220.9,320L224.9,320.6L228.9,321.2L233,321.7L237,322.3L241.1,322.9L245.1,323.4L249.1,324L253.2,324.5L257.2,325.1L261.2,325.6L265.3,326.1L269.3,326.6L273.3,327.1L277.4,327.6L281.4,328.1L285.4,328.5L289.5,329L293.5,329.4L297.5,329.8L301.6,330.1L305.6,330.5L309.6,330.8L313.7,331.1L317.7,331.4L321.7,331.6L325.8,331.8L329.8,332L333.8,332.1L337.9,332.3L341.9,332.4L345.9,332.4L350,332.4L354,332.4L354,349.4L350,349.4L345.9,349.4L341.9,349.4L337.9,349.3L333.8,349.1L329.8,349L325.8,348.8L321.7,348.6L317.7,348.4L313.7,348.1L309.6,347.8L305.6,347.5L301.6,347.1L297.5,346.8L293.5,346.4L289.5,346L285.4,345.5L281.4,345.1L277.4,344.6L273.3,344.1L269.3,343.6L265.3,343.1L261.2,342.6L257.2,342.1L253.2,341.5L249.1,341L245.1,340.4L241.1,339.9L237,339.3L233,338.7L228.9,338.2L224.9,337.6L220.9,337L216.8,336.4L212.8,335.8L208.8,335.3L204.7,334.7L200.7,334.2L196.7,333.6L192.6,333.1L188.6,332.5L184.6,332L180.5,331.5L176.5,331L172.5,330.5L168.4,330L164.4,329.6L160.4,329.1L156.3,328.7L152.3,328.3L148.3,327.9L144.2,327.6L140.2,327.2L136.2,326.9L132.1,326.7L128.1,326.4L124.1,326.2L120,326L116,325.8Z" fill="#000" fill-opacity="0.5"/>
<path d="M116,394.9L120,391.6L124.1,388.3L128.1,385.2L132.1,382.2L136.2,379.3L140.2,376.5L144.2,373.8L148.3,371.3L152.3,368.9L156.3,366.5L160.4,364.3L164.4,362.2L168.4,360.2L172.5,358.2L176.5,356.4L180.5,354.7L184.6,353L188.6,351.5L192.6,350L196.7,348.6L200.7,347.3L204.7,346.1L208.8,344.9L212.8,343.8L216.8,342.8L220.9,341.9L224.9,341L228.9,340.2L233,339.4L237,338.7L241.1,338.1L245.1,337.5L249.1,337L253.2,336.5L257.2,336.1L261.2,335.7L265.3,335.4L269.3,335.1L273.3,334.8L277.4,334.6L281.4,334.4L285.4,334.3L289.5,334.1L293.5,334L297.5,334L301.6,333.9L305.6,333.9L309.6,333.9L313.7,333.8L317.7,333.9L321.7,333.9L325.8,333.9L329.8,333.9L333.8,334L337.9,334L341.9,334L345.9,334.1L350,334.1L354,334.1L354,347.7L350,347.7L345.9,347.7L341.9,347.6L337.9,347.6L333.8,347.6L329.8,347.5L325.8,347.5L321.7,347.5L317.7,347.5L313.7,347.4L309.6,347.5L305.6,347.5L301.6,347.5L297.5,347.6L293.5,347.6L289.5,347.7L285.4,347.9L281.4,348L277.4,348.2L273.3,348.4L269.3,348.7L265.3,349L261.2,349.3L257.2,349.7L253.2,350.1L249.1,350.6L245.1,351.1L241.1,351.7L237,352.3L233,353L228.9,353.8L224.9,354.6L220.9,355.5L216.8,356.4L212.8,357.4L208.8,358.5L204.7,359.7L200.7,360.9L196.7,362.2L192.6,363.6L188.6,365.1L184.6,366.6L180.5,368.3L176.5,370L172.5,371.8L168.4,373.8L164.4,375.8L160.4,377.9L156.3,380.1L152.3,382.5L148.3,384.9L144.2,387.4L140.2,390.1L136.2,392.9L132.1,395.8L128.1,398.8L124.1,401.9L120,405.2L116,408.5Z" fill="#000" fill-opacity="0.35"/>
<path d="M116,394.9L120,394.7L124.1,394.5L128.1,394.3L132.1,394L136.2,393.7L140.2,393.3L144.2,392.9L148.3,392.4L152.3,391.9L156.3,391.3L160.4,390.7L164.4,390L168.4,389.3L172.5,388.6L176.5,387.8L180.5,386.9L184.6,386.1L188.6,385.1L192.6,384.2L196.7,383.1L200.7,382.1L204.7,381L208.8,379.8L212.8,378.6L216.8,377.4L220.9,376.1L224.9,374.8L228.9,373.5L233,372.1L237,370.6L241.1,369.2L245.1,367.6L249.1,366.1L253.2,364.5L257.2,362.9L261.2,361.2L265.3,359.5L269.3,357.8L273.3,356L277.4,354.2L281.4,352.4L285.4,350.5L289.5,348.6L293.5,346.7L297.5,344.8L301.6,342.8L305.6,340.8L309.6,338.8L313.7,336.7L317.7,334.7L321.7,332.6L325.8,330.4L329.8,328.3L333.8,326.2L337.9,324L341.9,321.8L345.9,319.6L350,317.4L354,315.1L354,328.7L350,331L345.9,333.2L341.9,335.4L337.9,337.6L333.8,339.8L329.8,341.9L325.8,344L321.7,346.2L317.7,348.3L313.7,350.3L309.6,352.4L305.6,354.4L301.6,356.4L297.5,358.4L293.5,360.3L289.5,362.2L285.4,364.1L281.4,366L277.4,367.8L273.3,369.6L269.3,371.4L265.3,373.1L261.2,374.8L257.2,376.5L253.2,378.1L249.1,379.7L245.1,381.2L241.1,382.8L237,384.2L233,385.7L228.9,387.1L224.9,388.4L220.9,389.7L216.8,391L212.8,392.2L208.8,393.4L204.7,394.6L200.7,395.7L196.7,396.7L192.6,397.8L188.6,398.7L184.6,399.7L180.5,400.5L176.5,401.4L172.5,402.2L168.4,402.9L164.4,403.6L160.4,404.3L156.3,404.9L152.3,405.5L148.3,406L144.2,406.5L140.2,406.9L136.2,407.3L132.1,407.6L128.1,407.9L124.1,408.1L120,408.3L116,408.5Z" fill="#000" fill-opacity="0.35"/>
<path d="M116,392.4L120,395.3L124.1,398.5L128.1,401.8L132.1,405.2L136.2,408.8L140.2,412.5L144.2,416.4L148.3,420.4L152.3,424.5L156.3,428.8L160.4,433.1L164.4,437.6L168.4,442.2L172.5,446.8L176.5,451.6L180.5,456.5L184.6,461.4L188.6,466.4L192.6,471.5L196.7,476.7L200.7,481.9L204.7,487.2L208.8,492.5L212.8,497.8L216.8,503.3L220.9,508.7L224.9,514.2L228.9,519.6L233,525.1L237,530.5L241.1,535.9L245.1,541.2L249.1,546.4L253.2,551.6L257.2,556.6L261.2,561.6L265.3,566.4L269.3,571L273.3,575.5L277.4,579.8L281.4,584L285.4,587.9L289.5,591.7L293.5,595.3L297.5,598.6L301.6,601.8L305.6,604.7L309.6,607.4L313.7,610L317.7,612.3L321.7,614.4L325.8,616.3L329.8,618L333.8,619.5L337.9,620.7L341.9,621.8L345.9,622.6L350,623.2L354,623.6L354,642.3L350,641.9L345.9,641.3L341.9,640.5L337.9,639.4L333.8,638.2L329.8,636.7L325.8,635L321.7,633.1L317.7,631L313.7,628.7L309.6,626.1L305.6,623.4L301.6,620.5L297.5,617.3L293.5,614L289.5,610.4L285.4,606.6L281.4,602.7L277.4,598.5L273.3,594.2L269.3,589.7L265.3,585.1L261.2,580.3L257.2,575.3L253.2,570.3L249.1,565.1L245.1,559.9L241.1,554.6L237,549.2L233,543.8L228.9,538.3L224.9,532.9L220.9,527.4L216.8,522L212.8,516.5L208.8,511.2L204.7,505.9L200.7,500.6L196.7,495.4L192.6,490.2L188.6,485.1L184.6,480.1L180.5,475.2L176.5,470.3L172.5,465.5L168.4,460.9L164.4,456.3L160.4,451.8L156.3,447.5L152.3,443.2L148.3,439.1L144.2,435.1L140.2,431.2L136.2,427.5L132.1,423.9L128.1,420.5L124.1,417.2L120,414L116,411.1Z" fill="url(#ga12)"/>
<path d="M354,312.7L358,312.5L362,312.3L366,312.1L370.1,311.9L374.1,311.8L378.1,311.6L382.1,311.4L386.1,311.3L390.1,311.1L394.2,311L398.2,310.8L402.2,310.7L406.2,310.5L410.2,310.4L414.2,310.3L418.2,310.1L422.3,310L426.3,309.9L430.3,309.8L434.3,309.7L438.3,309.5L442.3,309.4L446.4,309.3L450.4,309.3L454.4,309.2L458.4,309.1L462.4,309L466.4,308.9L470.4,308.8L474.5,308.8L478.5,308.7L482.5,308.7L486.5,308.6L490.5,308.6L494.5,308.5L498.6,308.5L502.6,308.4L506.6,308.4L510.6,308.4L514.6,308.4L518.6,308.4L522.6,308.3L526.7,308.3L530.7,308.3L534.7,308.3L538.7,308.4L542.7,308.4L546.7,308.4L550.8,308.4L554.8,308.4L558.8,308.5L562.8,308.5L566.8,308.6L570.8,308.6L574.9,308.7L578.9,308.7L582.9,308.8L586.9,308.9L590.9,308.9L594.9,309L598.9,309.1L603,309.2L607,309.3L611,309.4L615,309.5L619,309.6L623,309.8L627.1,309.9L631.1,310L635.1,310.2L639.1,310.3L643.1,310.4L647.1,310.6L651.1,310.8L655.2,310.9L659.2,311.1L663.2,311.3L667.2,311.5L671.2,311.6L675.2,311.8L679.3,312L683.3,312.2L687.3,312.5L691.3,312.7L691.3,331.4L687.3,331.2L683.3,330.9L679.3,330.7L675.2,330.5L671.2,330.3L667.2,330.2L663.2,330L659.2,329.8L655.2,329.6L651.1,329.5L647.1,329.3L643.1,329.1L639.1,329L635.1,328.9L631.1,328.7L627.1,328.6L623,328.5L619,328.3L615,328.2L611,328.1L607,328L603,327.9L598.9,327.8L594.9,327.7L590.9,327.6L586.9,327.6L582.9,327.5L578.9,327.4L574.9,327.4L570.8,327.3L566.8,327.3L562.8,327.2L558.8,327.2L554.8,327.1L550.8,327.1L546.7,327.1L542.7,327.1L538.7,327.1L534.7,327L530.7,327L526.7,327L522.6,327L518.6,327.1L514.6,327.1L510.6,327.1L506.6,327.1L502.6,327.1L498.6,327.2L494.5,327.2L490.5,327.3L486.5,327.3L482.5,327.4L478.5,327.4L474.5,327.5L470.4,327.5L466.4,327.6L462.4,327.7L458.4,327.8L454.4,327.9L450.4,328L446.4,328L442.3,328.1L438.3,328.2L434.3,328.4L430.3,328.5L426.3,328.6L422.3,328.7L418.2,328.8L414.2,329L410.2,329.1L406.2,329.2L402.2,329.4L398.2,329.5L394.2,329.7L390.1,329.8L386.1,330L382.1,330.1L378.1,330.3L374.1,330.5L370.1,330.6L366,330.8L362,331L358,331.2L354,331.4Z" fill="#000" fill-opacity="0.62"/>
<path d="M354,333.2L358,333.6L362,333.8L366,333.9L370.1,334L374.1,333.9L378.1,333.8L382.1,333.5L386.1,333.2L390.1,332.8L394.2,332.4L398.2,331.9L402.2,331.3L406.2,330.7L410.2,330L414.2,329.3L418.2,328.6L422.3,327.8L426.3,327L430.3,326.1L434.3,325.3L438.3,324.4L442.3,323.5L446.4,322.6L450.4,321.8L454.4,320.9L458.4,320L462.4,319.2L466.4,318.3L470.4,317.5L474.5,316.7L478.5,316L482.5,315.3L486.5,314.6L490.5,314L494.5,313.5L498.6,313L502.6,312.5L506.6,312.1L510.6,311.9L514.6,311.6L518.6,311.5L522.6,311.4L526.7,311.5L530.7,311.5L534.7,311.7L538.7,311.9L542.7,312.2L546.7,312.5L550.8,312.9L554.8,313.3L558.8,313.8L562.8,314.4L566.8,314.9L570.8,315.5L574.9,316.2L578.9,316.8L582.9,317.5L586.9,318.2L590.9,318.9L594.9,319.7L598.9,320.4L603,321.2L607,322L611,322.8L615,323.5L619,324.3L623,325L627.1,325.8L631.1,326.5L635.1,327.2L639.1,327.9L643.1,328.6L647.1,329.2L651.1,329.8L655.2,330.3L659.2,330.9L663.2,331.3L667.2,331.8L671.2,332.1L675.2,332.5L679.3,332.7L683.3,332.9L687.3,333.1L691.3,333.2L691.3,348.5L687.3,348.4L683.3,348.2L679.3,348L675.2,347.8L671.2,347.4L667.2,347.1L663.2,346.6L659.2,346.2L655.2,345.6L651.1,345.1L647.1,344.5L643.1,343.9L639.1,343.2L635.1,342.5L631.1,341.8L627.1,341.1L623,340.3L619,339.6L615,338.8L611,338.1L607,337.3L603,336.5L598.9,335.7L594.9,335L590.9,334.2L586.9,333.5L582.9,332.8L578.9,332.1L574.9,331.5L570.8,330.8L566.8,330.2L562.8,329.7L558.8,329.1L554.8,328.6L550.8,328.2L546.7,327.8L542.7,327.5L538.7,327.2L534.7,327L530.7,326.8L526.7,326.8L522.6,326.7L518.6,326.8L514.6,326.9L510.6,327.2L506.6,327.4L502.6,327.8L498.6,328.3L494.5,328.8L490.5,329.3L486.5,329.9L482.5,330.6L478.5,331.3L474.5,332L470.4,332.8L466.4,333.6L462.4,334.5L458.4,335.3L454.4,336.2L450.4,337.1L446.4,337.9L442.3,338.8L438.3,339.7L434.3,340.6L430.3,341.4L426.3,342.3L422.3,343.1L418.2,343.9L414.2,344.6L410.2,345.3L406.2,346L402.2,346.6L398.2,347.2L394.2,347.7L390.1,348.1L386.1,348.5L382.1,348.8L378.1,349.1L374.1,349.2L370.1,349.3L366,349.2L362,349.1L358,348.9L354,348.5Z" fill="#000" fill-opacity="0.55"/>
<path d="M354,333.3L358,333.3L362,333.2L366,333.3L370.1,333.3L374.1,333.4L378.1,333.5L382.1,333.6L386.1,333.7L390.1,333.9L394.2,334.1L398.2,334.2L402.2,334.5L406.2,334.7L410.2,334.9L414.2,335.2L418.2,335.4L422.3,335.7L426.3,336L430.3,336.3L434.3,336.5L438.3,336.8L442.3,337.1L446.4,337.4L450.4,337.7L454.4,338L458.4,338.3L462.4,338.5L466.4,338.8L470.4,339.1L474.5,339.3L478.5,339.6L482.5,339.8L486.5,340L490.5,340.2L494.5,340.4L498.6,340.6L502.6,340.7L506.6,340.8L510.6,340.9L514.6,341L518.6,341L522.6,341.1L526.7,341.1L530.7,341L534.7,341L538.7,340.9L542.7,340.9L546.7,340.8L550.8,340.7L554.8,340.5L558.8,340.4L562.8,340.2L566.8,340L570.8,339.9L574.9,339.7L578.9,339.5L582.9,339.2L586.9,339L590.9,338.8L594.9,338.6L598.9,338.3L603,338.1L607,337.8L611,337.6L615,337.3L619,337.1L623,336.8L627.1,336.6L631.1,336.3L635.1,336.1L639.1,335.9L643.1,335.6L647.1,335.4L651.1,335.2L655.2,335L659.2,334.8L663.2,334.6L667.2,334.5L671.2,334.3L675.2,334.2L679.3,334.1L683.3,334L687.3,333.9L691.3,333.8L691.3,349.1L687.3,349.2L683.3,349.3L679.3,349.4L675.2,349.5L671.2,349.6L667.2,349.8L663.2,349.9L659.2,350.1L655.2,350.3L651.1,350.5L647.1,350.7L643.1,350.9L639.1,351.2L635.1,351.4L631.1,351.6L627.1,351.9L623,352.1L619,352.4L615,352.6L611,352.9L607,353.1L603,353.4L598.9,353.6L594.9,353.9L590.9,354.1L586.9,354.3L582.9,354.5L578.9,354.8L574.9,355L570.8,355.2L566.8,355.3L562.8,355.5L558.8,355.7L554.8,355.8L550.8,356L546.7,356.1L542.7,356.2L538.7,356.2L534.7,356.3L530.7,356.3L526.7,356.4L522.6,356.4L518.6,356.3L514.6,356.3L510.6,356.2L506.6,356.1L502.6,356L498.6,355.9L494.5,355.7L490.5,355.5L486.5,355.3L482.5,355.1L478.5,354.9L474.5,354.6L470.4,354.4L466.4,354.1L462.4,353.8L458.4,353.6L454.4,353.3L450.4,353L446.4,352.7L442.3,352.4L438.3,352.1L434.3,351.8L430.3,351.6L426.3,351.3L422.3,351L418.2,350.7L414.2,350.5L410.2,350.2L406.2,350L402.2,349.8L398.2,349.5L394.2,349.4L390.1,349.2L386.1,349L382.1,348.9L378.1,348.8L374.1,348.7L370.1,348.6L366,348.6L362,348.5L358,348.6L354,348.6Z" fill="#000" fill-opacity="0.55"/>
<path d="M354,315.9L358,317.2L362,318.7L366,320.2L370,321.8L374.1,323.6L378.1,325.4L382.1,327.3L386.1,329.3L390.1,331.4L394.1,333.6L398.1,335.9L402.1,338.3L406.2,340.7L410.2,343.2L414.2,345.8L418.2,348.5L422.2,351.2L426.2,354L430.2,356.9L434.2,359.9L438.2,362.9L442.3,365.9L446.3,369.1L450.3,372.3L454.3,375.6L458.3,379L462.3,382.6L466.3,386.3L470.3,390.3L474.4,394.5L478.4,399.1L482.4,404.1L486.4,409.4L490.4,415.1L494.4,421.2L498.4,427.6L502.4,434.4L506.5,441.2L510.5,448.1L514.5,455L518.5,461.7L522.5,468.1L526.5,474.2L530.5,479.9L534.5,485.2L538.5,490.3L542.6,495.2L546.6,499.8L550.6,504.3L554.6,508.6L558.6,512.7L562.6,516.8L566.6,520.9L570.6,524.9L574.7,528.9L578.7,532.9L582.7,536.9L586.7,541L590.7,545.1L594.7,549.2L598.7,553.4L602.7,557.6L606.8,562L610.8,566.4L614.8,570.8L618.8,575.3L622.8,579.7L626.8,584.1L630.8,588.5L634.8,592.7L638.8,596.8L642.9,600.6L646.9,604.3L650.9,607.7L654.9,610.9L658.9,613.7L662.9,616.2L666.9,618.4L670.9,620.3L675,621.9L679,623.2L683,624.1L687,624.8L691,625.2L691,638.8L687,638.4L683,637.7L679,636.8L675,635.5L670.9,633.9L666.9,632L662.9,629.8L658.9,627.3L654.9,624.5L650.9,621.3L646.9,617.9L642.9,614.2L638.8,610.4L634.8,606.3L630.8,602.1L626.8,597.7L622.8,593.3L618.8,588.9L614.8,584.4L610.8,580L606.8,575.6L602.7,571.2L598.7,567L594.7,562.8L590.7,558.7L586.7,554.6L582.7,550.5L578.7,546.5L574.7,542.5L570.6,538.5L566.6,534.5L562.6,530.4L558.6,526.3L554.6,522.2L550.6,517.9L546.6,513.4L542.6,508.8L538.5,503.9L534.5,498.8L530.5,493.5L526.5,487.8L522.5,481.7L518.5,475.3L514.5,468.6L510.5,461.7L506.5,454.8L502.4,448L498.4,441.2L494.4,434.8L490.4,428.7L486.4,423L482.4,417.7L478.4,412.7L474.4,408.1L470.3,403.9L466.3,399.9L462.3,396.2L458.3,392.6L454.3,389.2L450.3,385.9L446.3,382.7L442.3,379.5L438.2,376.5L434.2,373.5L430.2,370.5L426.2,367.6L422.2,364.8L418.2,362.1L414.2,359.4L410.2,356.8L406.2,354.3L402.1,351.9L398.1,349.5L394.1,347.2L390.1,345L386.1,342.9L382.1,340.9L378.1,339L374.1,337.2L370,335.4L366,333.8L362,332.3L358,330.8L354,329.5Z" fill="url(#ga16)"/>
<path d="M354,623.7L358,622.5L362,621.1L366,619.5L370.1,617.6L374.1,615.5L378.1,613.2L382.1,610.7L386.1,608.1L390.1,605.2L394.2,602.2L398.2,599L402.2,595.6L406.2,592.2L410.2,588.5L414.2,584.8L418.2,580.9L422.3,577L426.3,572.9L430.3,568.8L434.3,564.6L438.3,560.3L442.3,556L446.4,551.6L450.4,547.1L454.4,542.7L458.4,538.2L462.4,533.7L466.4,529.2L470.4,524.7L474.5,520.2L478.5,515.6L482.5,511.1L486.5,506.5L490.5,502L494.5,497.4L498.6,492.9L502.6,488.4L506.6,483.9L510.6,479.4L514.6,474.9L518.6,470.4L522.6,465.9L526.7,461.5L530.7,457.1L534.7,452.7L538.7,448.4L542.7,444.1L546.7,439.8L550.8,435.5L554.8,431.3L558.8,427.1L562.8,423L566.8,418.9L570.8,414.8L574.9,410.8L578.9,406.8L582.9,402.9L586.9,399L590.9,395.1L594.9,391.3L598.9,387.5L603,383.7L607,380L611,376.4L615,372.7L619,369.2L623,365.6L627.1,362.1L631.1,358.7L635.1,355.3L639.1,351.9L643.1,348.6L647.1,345.4L651.1,342.2L655.2,339L659.2,335.9L663.2,332.8L667.2,329.8L671.2,326.8L675.2,323.8L679.3,321L683.3,318.1L687.3,315.3L691.3,312.6L691.3,331.3L687.3,334L683.3,336.8L679.3,339.7L675.2,342.5L671.2,345.5L667.2,348.5L663.2,351.5L659.2,354.6L655.2,357.7L651.1,360.9L647.1,364.1L643.1,367.3L639.1,370.6L635.1,374L631.1,377.4L627.1,380.8L623,384.3L619,387.9L615,391.4L611,395.1L607,398.7L603,402.4L598.9,406.2L594.9,410L590.9,413.8L586.9,417.7L582.9,421.6L578.9,425.5L574.9,429.5L570.8,433.5L566.8,437.6L562.8,441.7L558.8,445.8L554.8,450L550.8,454.2L546.7,458.5L542.7,462.8L538.7,467.1L534.7,471.4L530.7,475.8L526.7,480.2L522.6,484.6L518.6,489.1L514.6,493.6L510.6,498.1L506.6,502.6L502.6,507.1L498.6,511.6L494.5,516.1L490.5,520.7L486.5,525.2L482.5,529.8L478.5,534.3L474.5,538.9L470.4,543.4L466.4,547.9L462.4,552.4L458.4,556.9L454.4,561.4L450.4,565.8L446.4,570.3L442.3,574.7L438.3,579L434.3,583.3L430.3,587.5L426.3,591.6L422.3,595.7L418.2,599.6L414.2,603.5L410.2,607.2L406.2,610.9L402.2,614.3L398.2,617.7L394.2,620.9L390.1,623.9L386.1,626.8L382.1,629.4L378.1,631.9L374.1,634.2L370.1,636.3L366,638.2L362,639.8L358,641.2L354,642.4Z" fill="url(#ga17)"/>
<ellipse cx="354" cy="594" rx="14" ry="7" fill="#fff" fill-opacity="0.6"/>
<ellipse cx="691" cy="594" rx="14" ry="7" fill="#fff" fill-opacity="0.6"/>
</g>
<g fill="none" stroke="#000" stroke-opacity="0.85" stroke-width="1.65" stroke-linejoin="round">
<path d="M116,201.5L118.5,201.2L121,200.9L123.5,200.7L126,200.3L128.5,200L131,199.7L133.5,199.4L136,199L138.5,198.7L141,198.3L143.5,197.9L146,197.6L148.5,197.2L151,196.8L153.5,196.4L156,196L158.5,195.5L161,195.1L163.5,194.7L166,194.3L168.5,193.8L171,193.4L173.5,192.9L176,192.5L178.5,192.1L181,191.6L183.5,191.1L186,190.7L188.5,190.2L191,189.8L193.5,189.3L196,188.9L198.5,188.4L201,187.9L203.5,187.5L206,187L208.5,186.6L211,186.1L213.6,185.7L216.1,185.2L218.6,184.8L221.1,184.4L223.6,183.9L226.1,183.5L228.6,183.1L231.1,182.7L233.6,182.3L236.1,181.9L238.6,181.5L241.1,181.1L243.6,180.7L246.1,180.4L248.6,180L251.1,179.7L253.6,179.3L256.1,179L258.6,178.7L261.1,178.4L263.6,178.1L266.1,177.8L268.6,177.5L271.1,177.2L273.6,177L276.1,176.8L278.6,176.5L281.1,176.3L283.6,176.1L286.1,175.9L288.6,175.7L291.1,175.5L293.6,175.4L296.1,175.2L298.6,175.1L301.1,174.9L303.6,174.8L306.1,174.7L308.6,174.6L311.1,174.5L313.6,174.4L316.1,174.3L318.6,174.2L321.1,174.1L323.6,174.1L326.1,174L328.6,174L331.1,173.9L333.6,173.9L336.1,173.9L338.6,173.9L341.1,173.9L343.6,173.9L346.1,173.9L348.6,173.9L351.1,173.9L353.6,173.9L356.1,173.9L358.6,174L361.1,174L363.6,174.1L366.1,174.1L368.6,174.2L371.1,174.3L373.6,174.3L376.1,174.4L378.6,174.5L381.1,174.6L383.6,174.7L386.1,174.8L388.6,174.9L391.1,175L393.6,175.1L396.1,175.2L398.6,175.3L401.1,175.4L403.6,175.5L406.2,175.7L408.7,175.8L411.2,175.9L413.7,176.1L416.2,176.2L418.7,176.3L421.2,176.5L423.7,176.6L426.2,176.8L428.7,176.9L431.2,177.1L433.7,177.2L436.2,177.4L438.7,177.5L441.2,177.7L443.7,177.8L446.2,178L448.7,178.1L451.2,178.3L453.7,178.4L456.2,178.5L458.7,178.7L461.2,178.8L463.7,179L466.2,179.1L468.7,179.3L471.2,179.4L473.7,179.5L476.2,179.7L478.7,179.8L481.2,179.9L483.7,180L486.2,180.2L488.7,180.3L491.2,180.4L493.7,180.5L496.2,180.6L498.7,180.7L501.2,180.8L503.7,180.9L506.2,181L508.7,181L511.2,181.1L513.7,181.2L516.2,181.2L518.7,181.3L521.2,181.3L523.7,181.4L526.2,181.4L528.7,181.4L531.2,181.4L533.7,181.4L536.2,181.4L538.7,181.4L541.2,181.4L543.7,181.4L546.2,181.4L548.7,181.3L551.2,181.3L553.7,181.2L556.2,181.1L558.7,181.1L561.2,181L563.7,180.9L566.2,180.8L568.7,180.7L571.2,180.6L573.7,180.4L576.2,180.3L578.7,180.2L581.2,180L583.7,179.9L586.2,179.7L588.7,179.6L591.2,179.4L593.7,179.2L596.3,179.1L598.8,178.9L601.3,178.7L603.8,178.5L606.3,178.3L608.8,178.1L611.3,178L613.8,177.8L616.3,177.6L618.8,177.4L621.3,177.2L623.8,177L626.3,176.8L628.8,176.6L631.3,176.4L633.8,176.2L636.3,176L638.8,175.7L641.3,175.5L643.8,175.3L646.3,175.1L648.8,175L651.3,174.8L653.8,174.6L656.3,174.4L658.8,174.2L661.3,174L663.8,173.8L666.3,173.6L668.8,173.5L671.3,173.3L673.8,173.1L676.3,173L678.8,172.8L681.3,172.7L683.8,172.5L686.3,172.4L688.8,172.3L691.3,172.1"/>
<path d="M116,201.8L118.5,202.1L121,202.4L123.5,202.7L126,202.9L128.5,203.1L131,203.3L133.5,203.4L136,203.5L138.5,203.6L141.1,203.6L143.6,203.6L146.1,203.6L148.6,203.6L151.1,203.5L153.6,203.4L156.1,203.2L158.6,203.1L161.1,202.9L163.6,202.7L166.1,202.5L168.6,202.2L171.1,202L173.6,201.7L176.1,201.3L178.6,201L181.1,200.7L183.6,200.3L186.1,199.9L188.7,199.5L191.2,199.1L193.7,198.6L196.2,198.2L198.7,197.7L201.2,197.3L203.7,196.8L206.2,196.3L208.7,195.8L211.2,195.2L213.7,194.7L216.2,194.2L218.7,193.6L221.2,193.1L223.7,192.5L226.2,191.9L228.7,191.4L231.2,190.8L233.7,190.2L236.3,189.6L238.8,189L241.3,188.5L243.8,187.9L246.3,187.3L248.8,186.7L251.3,186.1L253.8,185.5L256.3,185L258.8,184.4L261.3,183.8L263.8,183.3L266.3,182.7L268.8,182.1L271.3,181.6L273.8,181.1L276.3,180.5L278.8,180L281.3,179.5L283.9,179L286.4,178.5L288.9,178.1L291.4,177.6L293.9,177.2L296.4,176.7L298.9,176.3L301.4,175.9L303.9,175.6L306.4,175.2L308.9,174.8L311.4,174.5L313.9,174.2L316.4,173.9L318.9,173.7L321.4,173.4L323.9,173.2L326.4,173L328.9,172.9L331.5,172.7L334,172.6L336.5,172.5L339,172.4L341.5,172.4L344,172.4L346.5,172.4L349,172.5L351.5,172.6L354,172.7"/>
<path d="M116,236.8L118.5,235.7L121.1,234.6L123.6,233.6L126.2,232.5L128.7,231.4L131.2,230.3L133.8,229.2L136.3,228.1L138.9,227L141.4,226L143.9,224.9L146.5,223.8L149,222.7L151.6,221.6L154.1,220.5L156.6,219.4L159.2,218.3L161.7,217.3L164.3,216.2L166.8,215.1L169.4,214L171.9,212.9L174.4,211.8L177,210.7L179.5,209.6L182.1,208.5L184.6,207.4L187.1,206.3L189.7,205.3L192.2,204.2L194.8,203.1L197.3,202L199.8,200.9L202.4,199.8L204.9,198.7L207.5,197.6L210,196.5"/>
<path d="M116,236.7L118.5,237.6L121,238.4L123.5,239.3L126,240.1L128.5,240.9L131,241.8L133.5,242.6L136,243.4L138.5,244.3L141,245.1L143.5,245.9L146,246.7L148.5,247.5L151,248.3L153.5,249.1L156,249.9L158.5,250.7L161,251.5L163.5,252.3L166,253L168.5,253.8L171,254.5L173.5,255.3L176,256L178.5,256.8L181,257.5L183.5,258.2L186,258.9L188.5,259.6L191,260.3L193.5,260.9L196,261.6L198.5,262.3L201,262.9L203.5,263.5L206,264.1L208.5,264.8L211,265.4L213.6,265.9L216.1,266.5L218.6,267.1L221.1,267.6L223.6,268.2L226.1,268.7L228.6,269.2L231.1,269.7L233.6,270.2L236.1,270.7L238.6,271.2L241.1,271.6L243.6,272L246.1,272.5L248.6,272.9L251.1,273.3L253.6,273.7L256.1,274L258.6,274.4L261.1,274.7L263.6,275.1L266.1,275.4L268.6,275.7L271.1,276L273.6,276.3L276.1,276.5L278.6,276.8L281.1,277.1L283.6,277.3L286.1,277.5L288.6,277.7L291.1,277.9L293.6,278.1L296.1,278.3L298.6,278.5L301.1,278.6L303.6,278.8L306.1,278.9L308.6,279.1L311.1,279.2L313.6,279.3L316.1,279.4L318.6,279.5L321.1,279.6L323.6,279.7L326.1,279.8L328.6,279.8L331.1,279.9L333.6,280L336.1,280L338.6,280.1L341.1,280.1L343.6,280.1L346.1,280.1L348.6,280.2L351.1,280.2L353.6,280.2L356.1,280.2L358.6,280.2L361.1,280.2L363.6,280.2L366.1,280.1L368.6,280.1L371.1,280.1L373.6,280.1L376.1,280.1L378.6,280L381.1,280L383.6,280L386.1,279.9L388.6,279.9L391.1,279.8L393.6,279.8L396.1,279.7L398.6,279.7L401.1,279.6L403.6,279.6L406.2,279.5L408.7,279.5L411.2,279.4L413.7,279.4L416.2,279.3L418.7,279.3L421.2,279.2L423.7,279.2L426.2,279.1L428.7,279.1L431.2,279L433.7,279L436.2,278.9L438.7,278.9L441.2,278.8L443.7,278.8L446.2,278.7L448.7,278.7L451.2,278.6L453.7,278.5L456.2,278.5L458.7,278.4L461.2,278.4L463.7,278.3L466.2,278.3L468.7,278.2L471.2,278.2L473.7,278.1L476.2,278.1L478.7,278L481.2,278L483.7,277.9L486.2,277.9L488.7,277.8L491.2,277.8L493.7,277.8L496.2,277.7L498.7,277.7L501.2,277.6L503.7,277.6L506.2,277.5L508.7,277.5L511.2,277.5L513.7,277.4L516.2,277.4L518.7,277.3L521.2,277.3L523.7,277.3L526.2,277.2L528.7,277.2L531.2,277.2L533.7,277.2L536.2,277.1L538.7,277.1L541.2,277.1L543.7,277.1L546.2,277L548.7,277L551.2,277L553.7,277L556.2,277L558.7,277L561.2,276.9L563.7,276.9L566.2,276.9L568.7,276.9L571.2,276.9L573.7,276.9L576.2,276.9L578.7,276.9L581.2,276.9L583.7,276.9L586.2,276.9L588.7,276.9L591.2,277L593.7,277L596.3,277L598.8,277L601.3,277L603.8,277L606.3,277.1L608.8,277.1L611.3,277.1L613.8,277.2L616.3,277.2L618.8,277.2L621.3,277.3L623.8,277.3L626.3,277.4L628.8,277.4L631.3,277.5L633.8,277.5L636.3,277.6L638.8,277.6L641.3,277.7L643.8,277.8L646.3,277.8L648.8,277.9L651.3,278L653.8,278.1L656.3,278.1L658.8,278.2L661.3,278.3L663.8,278.4L666.3,278.5L668.8,278.6L671.3,278.7L673.8,278.8L676.3,278.9L678.8,279L681.3,279.1L683.8,279.2L686.3,279.4L688.8,279.5L691.3,279.6"/>
<path d="M116,236.8L118.5,237L121,237.1L123.5,237.3L126,237.5L128.5,237.8L131,238L133.5,238.3L136,238.7L138.5,239L141.1,239.4L143.6,239.8L146.1,240.2L148.6,240.6L151.1,241.1L153.6,241.6L156.1,242.1L158.6,242.6L161.1,243.2L163.6,243.8L166.1,244.4L168.6,245L171.1,245.6L173.6,246.3L176.1,246.9L178.6,247.6L181.1,248.4L183.6,249.1L186.1,249.8L188.7,250.6L191.2,251.4L193.7,252.2L196.2,253L198.7,253.9L201.2,254.7L203.7,255.6L206.2,256.5L208.7,257.4L211.2,258.3L213.7,259.2L216.2,260.2L218.7,261.1L221.2,262.1L223.7,263.1L226.2,264L228.7,265L231.2,266.1L233.7,267.1L236.3,268.1L238.8,269.2L241.3,270.2L243.8,271.3L246.3,272.4L248.8,273.5L251.3,274.5L253.8,275.6L256.3,276.8L258.8,277.9L261.3,279L263.8,280.1L266.3,281.3L268.8,282.4L271.3,283.5L273.8,284.7L276.3,285.9L278.8,287L281.3,288.2L283.9,289.3L286.4,290.5L288.9,291.7L291.4,292.9L293.9,294L296.4,295.2L298.9,296.4L301.4,297.6L303.9,298.8L306.4,300L308.9,301.1L311.4,302.3L313.9,303.5L316.4,304.7L318.9,305.9L321.4,307L323.9,308.2L326.4,309.4L328.9,310.6L331.5,311.7L334,312.9L336.5,314L339,315.2L341.5,316.3L344,317.5L346.5,318.6L349,319.8L351.5,320.9L354,322"/>
<path d="M354,172.7L356.5,172.6L359,172.5L361.6,172.5L364.1,172.5L366.6,172.5L369.1,172.6L371.6,172.7L374.1,172.8L376.7,173L379.2,173.2L381.7,173.5L384.2,173.7L386.7,174.1L389.2,174.4L391.8,174.8L394.3,175.2L396.8,175.7L399.3,176.2L401.8,176.7L404.3,177.2L406.9,177.8L409.4,178.4L411.9,179L414.4,179.7L416.9,180.4L419.4,181.1L422,181.9L424.5,182.6L427,183.4L429.5,184.3L432,185.1L434.5,186L437.1,186.9L439.6,187.8L442.1,188.8L444.6,189.7L447.1,190.7L449.7,191.8L452.2,192.8L454.7,193.8L457.2,194.9L459.7,196L462.2,197.1L464.8,198.3L467.3,199.4L469.8,200.6L472.3,201.8L474.8,203L477.3,204.2L479.9,205.4L482.4,206.7L484.9,208L487.4,209.2L489.9,210.5L492.4,211.8L495,213.2L497.5,214.5L500,215.8L502.5,217.2L505,218.6L507.5,219.9L510.1,221.3L512.6,222.7L515.1,224.1L517.6,225.5L520.1,226.9L522.6,228.4L525.2,229.8L527.7,231.2L530.2,232.7L532.7,234.1L535.2,235.6L537.8,237.1L540.3,238.5L542.8,240L545.3,241.5L547.8,242.9L550.3,244.4L552.9,245.9L555.4,247.4L557.9,248.8L560.4,250.3L562.9,251.8L565.4,253.3L568,254.8L570.5,256.2L573,257.7L575.5,259.2L578,260.7L580.5,262.2L583.1,263.7L585.6,265.1L588.1,266.6L590.6,268.1L593.1,269.5L595.6,271L598.2,272.5L600.7,273.9L603.2,275.4L605.7,276.8L608.2,278.3L610.8,279.7L613.3,281.2L615.8,282.6L618.3,284L620.8,285.5L623.3,286.9L625.9,288.3L628.4,289.7L630.9,291.1L633.4,292.5L635.9,293.9L638.4,295.3L641,296.6L643.5,298L646,299.3L648.5,300.7L651,302L653.5,303.3L656.1,304.7L658.6,306L661.1,307.3L663.6,308.5L666.1,309.8L668.6,311.1L671.2,312.3L673.7,313.6L676.2,314.8L678.7,316L681.2,317.2L683.7,318.4L686.3,319.6L688.8,320.8L691.3,321.9"/>
<path d="M354,322L356.5,320.3L359,318.7L361.6,317.1L364.1,315.5L366.6,314L369.1,312.5L371.6,311.1L374.1,309.6L376.7,308.3L379.2,306.9L381.7,305.6L384.2,304.3L386.7,303L389.2,301.7L391.8,300.5L394.3,299.2L396.8,298L399.3,296.8L401.8,295.6L404.3,294.4L406.9,293.1L409.4,291.9L411.9,290.7L414.4,289.5L416.9,288.3L419.4,287L422,285.8L424.5,284.5L427,283.2L429.5,281.9L432,280.6L434.5,279.2L437.1,277.8L439.6,276.4L442.1,275L444.6,273.5L447.1,272L449.7,270.5L452.2,268.9L454.7,267.3L457.2,265.7L459.7,264.2L462.2,262.6L464.8,261L467.3,259.4L469.8,257.8L472.3,256.2L474.8,254.6L477.3,253.1L479.9,251.5L482.4,250L484.9,248.5L487.4,247.1L489.9,245.6L492.4,244.2L495,242.7L497.5,241.3L500,239.9L502.5,238.6L505,237.2L507.5,235.8L510.1,234.5L512.6,233.1L515.1,231.8L517.6,230.5L520.1,229.1L522.6,227.8L525.2,226.5L527.7,225.2L530.2,223.9L532.7,222.6L535.2,221.3L537.8,220L540.3,218.7L542.8,217.4L545.3,216.2L547.8,214.9L550.3,213.7L552.9,212.4L555.4,211.2L557.9,210L560.4,208.8L562.9,207.6L565.4,206.4L568,205.2L570.5,204L573,202.9L575.5,201.8L578,200.6L580.5,199.5L583.1,198.4L585.6,197.4L588.1,196.3L590.6,195.2L593.1,194.2L595.6,193.2L598.2,192.2L600.7,191.2L603.2,190.3L605.7,189.3L608.2,188.4L610.8,187.5L613.3,186.6L615.8,185.8L618.3,184.9L620.8,184.1L623.3,183.3L625.9,182.6L628.4,181.8L630.9,181.1L633.4,180.4L635.9,179.7L638.4,179.1L641,178.5L643.5,177.9L646,177.3L648.5,176.8L651,176.2L653.5,175.8L656.1,175.3L658.6,174.9L661.1,174.5L663.6,174.1L666.1,173.8L668.6,173.5L671.2,173.2L673.7,173L676.2,172.7L678.7,172.6L681.2,172.4L683.7,172.3L686.3,172.2L688.8,172.2L691.3,172.2"/>
<path d="M354,322L356.5,320.6L359,319.3L361.6,318L364.1,316.7L366.6,315.5L369.1,314.3L371.6,313.1L374.1,311.9L376.7,310.7L379.2,309.5L381.7,308.4L384.2,307.3L386.7,306.2L389.2,305.2L391.8,304.1L394.3,303.1L396.8,302.1L399.3,301.1L401.8,300.2L404.3,299.2L406.9,298.3L409.4,297.4L411.9,296.5L414.4,295.7L416.9,294.8L419.4,294L422,293.2L424.5,292.4L427,291.7L429.5,291L432,290.2L434.5,289.5L437.1,288.9L439.6,288.2L442.1,287.6L444.6,287L447.1,286.4L449.7,285.8L452.2,285.3L454.7,284.7L457.2,284.2L459.7,283.7L462.2,283.3L464.8,282.8L467.3,282.4L469.8,282L472.3,281.6L474.8,281.2L477.3,280.9L479.9,280.5L482.4,280.2L484.9,279.9L487.4,279.7L489.9,279.4L492.4,279.2L495,279L497.5,278.8L500,278.6L502.5,278.4L505,278.3L507.5,278.2L510.1,278.1L512.6,278L515.1,278L517.6,278L520.1,277.9L522.6,277.9L525.2,278L527.7,278L530.2,278.1L532.7,278.2L535.2,278.3L537.8,278.4L540.3,278.5L542.8,278.7L545.3,278.9L547.8,279.1L550.3,279.3L552.9,279.5L555.4,279.8L557.9,280.1L560.4,280.4L562.9,280.7L565.4,281L568,281.4L570.5,281.8L573,282.2L575.5,282.6L578,283L580.5,283.4L583.1,283.9L585.6,284.4L588.1,284.9L590.6,285.4L593.1,286L595.6,286.6L598.2,287.1L600.7,287.7L603.2,288.4L605.7,289L608.2,289.7L610.8,290.3L613.3,291L615.8,291.8L618.3,292.5L620.8,293.3L623.3,294L625.9,294.8L628.4,295.6L630.9,296.5L633.4,297.3L635.9,298.2L638.4,299.1L641,300L643.5,300.9L646,301.8L648.5,302.8L651,303.8L653.5,304.8L656.1,305.8L658.6,306.8L661.1,307.9L663.6,308.9L666.1,310L668.6,311.1L671.2,312.3L673.7,313.4L676.2,314.6L678.7,315.7L681.2,316.9L683.7,318.2L686.3,319.4L688.8,320.6L691.3,321.9"/>
<path d="M116,317.3L118.5,317.3L121,317.3L123.5,317.3L126,317.3L128.5,317.3L131,317.3L133.5,317.3L136,317.3L138.5,317.3L141.1,317.3L143.6,317.3L146.1,317.3L148.6,317.3L151.1,317.3L153.6,317.3L156.1,317.3L158.6,317.3L161.1,317.3L163.6,317.3L166.1,317.3L168.6,317.3L171.1,317.3L173.6,317.3L176.1,317.3L178.6,317.3L181.1,317.3L183.6,317.3L186.1,317.3L188.7,317.3L191.2,317.3L193.7,317.3L196.2,317.3L198.7,317.4L201.2,317.4L203.7,317.5L206.2,317.6L208.7,317.6L211.2,317.7L213.7,317.8L216.2,317.9L218.7,318L221.2,318.1L223.7,318.2L226.2,318.3L228.7,318.4L231.2,318.6L233.7,318.7L236.3,318.8L238.8,318.9L241.3,319.1L243.8,319.2L246.3,319.3L248.8,319.4L251.3,319.6L253.8,319.7L256.3,319.8L258.8,319.9L261.3,320L263.8,320.1L266.3,320.3L268.8,320.4L271.3,320.5L273.8,320.7L276.3,320.9L278.8,321L281.3,321.2L283.9,321.3L286.4,321.5L288.9,321.7L291.4,321.8L293.9,322L296.4,322.1L298.9,322.2L301.4,322.4L303.9,322.5L306.4,322.5L308.9,322.6L311.4,322.7L313.9,322.7L316.4,322.7L318.9,322.7L321.4,322.7L323.9,322.7L326.4,322.7L328.9,322.6L331.5,322.6L334,322.6L336.5,322.5L339,322.5L341.5,322.4L344,322.4L346.5,322.3L349,322.2L351.5,322.1L354,322"/>
<path d="M116,317.3L118.5,317.4L121,317.5L123.5,317.6L126,317.8L128.5,317.9L131,318.1L133.5,318.3L136,318.4L138.5,318.6L141.1,318.8L143.6,319L146.1,319.2L148.6,319.5L151.1,319.7L153.6,319.9L156.1,320.2L158.6,320.4L161.1,320.7L163.6,321L166.1,321.3L168.6,321.5L171.1,321.8L173.6,322.1L176.1,322.4L178.6,322.7L181.1,323.1L183.6,323.4L186.1,323.7L188.7,324L191.2,324.4L193.7,324.7L196.2,325L198.7,325.4L201.2,325.7L203.7,326.1L206.2,326.4L208.7,326.8L211.2,327.1L213.7,327.5L216.2,327.8L218.7,328.2L221.2,328.5L223.7,328.9L226.2,329.3L228.7,329.6L231.2,330L233.7,330.3L236.3,330.7L238.8,331L241.3,331.4L243.8,331.7L246.3,332.1L248.8,332.4L251.3,332.8L253.8,333.1L256.3,333.5L258.8,333.8L261.3,334.1L263.8,334.4L266.3,334.8L268.8,335.1L271.3,335.4L273.8,335.7L276.3,336L278.8,336.3L281.3,336.6L283.9,336.9L286.4,337.1L288.9,337.4L291.4,337.7L293.9,337.9L296.4,338.1L298.9,338.4L301.4,338.6L303.9,338.8L306.4,339L308.9,339.2L311.4,339.4L313.9,339.6L316.4,339.8L318.9,339.9L321.4,340.1L323.9,340.2L326.4,340.3L328.9,340.5L331.5,340.6L334,340.7L336.5,340.7L339,340.8L341.5,340.8L344,340.9L346.5,340.9L349,340.9L351.5,340.9L354,340.9"/>
<path d="M116,401.7L118.5,399.6L121,397.6L123.5,395.5L126,393.6L128.5,391.7L131,389.8L133.5,388L136,386.2L138.5,384.4L141.1,382.7L143.6,381.1L146.1,379.5L148.6,377.9L151.1,376.4L153.6,374.9L156.1,373.5L158.6,372.1L161.1,370.7L163.6,369.4L166.1,368.1L168.6,366.9L171.1,365.7L173.6,364.5L176.1,363.4L178.6,362.3L181.1,361.2L183.6,360.2L186.1,359.2L188.7,358.2L191.2,357.3L193.7,356.4L196.2,355.6L198.7,354.7L201.2,353.9L203.7,353.2L206.2,352.4L208.7,351.7L211.2,351L213.7,350.4L216.2,349.8L218.7,349.2L221.2,348.6L223.7,348L226.2,347.5L228.7,347L231.2,346.5L233.7,346.1L236.3,345.7L238.8,345.3L241.3,344.9L243.8,344.5L246.3,344.2L248.8,343.8L251.3,343.5L253.8,343.3L256.3,343L258.8,342.7L261.3,342.5L263.8,342.3L266.3,342.1L268.8,341.9L271.3,341.8L273.8,341.6L276.3,341.5L278.8,341.3L281.3,341.2L283.9,341.1L286.4,341L288.9,341L291.4,340.9L293.9,340.8L296.4,340.8L298.9,340.7L301.4,340.7L303.9,340.7L306.4,340.7L308.9,340.7L311.4,340.6L313.9,340.6L316.4,340.7L318.9,340.7L321.4,340.7L323.9,340.7L326.4,340.7L328.9,340.7L331.5,340.7L334,340.8L336.5,340.8L339,340.8L341.5,340.8L344,340.9L346.5,340.9L349,340.9L351.5,340.9L354,340.9"/>
<path d="M116,401.7L118.5,401.6L121,401.5L123.5,401.4L126,401.2L128.5,401.1L131,400.9L133.5,400.7L136,400.5L138.5,400.3L141.1,400L143.6,399.8L146.1,399.5L148.6,399.2L151.1,398.9L153.6,398.5L156.1,398.2L158.6,397.8L161.1,397.4L163.6,397L166.1,396.6L168.6,396.1L171.1,395.6L173.6,395.2L176.1,394.7L178.6,394.2L181.1,393.6L183.6,393.1L186.1,392.5L188.7,391.9L191.2,391.3L193.7,390.7L196.2,390.1L198.7,389.4L201.2,388.7L203.7,388.1L206.2,387.4L208.7,386.6L211.2,385.9L213.7,385.2L216.2,384.4L218.7,383.6L221.2,382.8L223.7,382L226.2,381.2L228.7,380.3L231.2,379.5L233.7,378.6L236.3,377.7L238.8,376.8L241.3,375.9L243.8,374.9L246.3,374L248.8,373L251.3,372L253.8,371L256.3,370L258.8,369L261.3,368L263.8,366.9L266.3,365.9L268.8,364.8L271.3,363.7L273.8,362.6L276.3,361.5L278.8,360.3L281.3,359.2L283.9,358L286.4,356.9L288.9,355.7L291.4,354.5L293.9,353.3L296.4,352.1L298.9,350.9L301.4,349.7L303.9,348.4L306.4,347.2L308.9,345.9L311.4,344.7L313.9,343.4L316.4,342.1L318.9,340.8L321.4,339.5L323.9,338.2L326.4,336.9L328.9,335.6L331.5,334.2L334,332.9L336.5,331.5L339,330.2L341.5,328.8L344,327.5L346.5,326.1L349,324.7L351.5,323.3L354,321.9"/>
<path d="M116,401.7L118.5,403.5L121,405.4L123.5,407.4L126,409.4L128.5,411.5L131,413.6L133.5,415.8L136,418L138.5,420.3L141.1,422.7L143.6,425.1L146.1,427.5L148.6,430L151.1,432.6L153.6,435.2L156.1,437.8L158.6,440.5L161.1,443.3L163.6,446L166.1,448.9L168.6,451.7L171.1,454.6L173.6,457.5L176.1,460.5L178.6,463.5L181.1,466.5L183.6,469.6L186.1,472.7L188.7,475.8L191.2,479L193.7,482.2L196.2,485.4L198.7,488.6L201.2,491.8L203.7,495.1L206.2,498.4L208.7,501.7L211.2,505L213.7,508.4L216.2,511.8L218.7,515.1L221.2,518.5L223.7,521.9L226.2,525.3L228.7,528.7L231.2,532.1L233.7,535.5L236.3,538.8L238.8,542.2L241.3,545.5L243.8,548.8L246.3,552.1L248.8,555.4L251.3,558.6L253.8,561.7L256.3,564.9L258.8,568L261.3,571L263.8,574L266.3,577L268.8,579.8L271.3,582.6L273.8,585.4L276.3,588.1L278.8,590.7L281.3,593.3L283.9,595.8L286.4,598.2L288.9,600.5L291.4,602.8L293.9,604.9L296.4,607L298.9,609L301.4,611L303.9,612.8L306.4,614.6L308.9,616.3L311.4,617.9L313.9,619.5L316.4,620.9L318.9,622.3L321.4,623.6L323.9,624.8L326.4,625.9L328.9,627L331.5,628L334,628.8L336.5,629.6L339,630.4L341.5,631L344,631.6L346.5,632L349,632.4L351.5,632.7L354,633"/>
<path d="M354,322L356.5,321.9L359,321.8L361.6,321.7L364.1,321.6L366.6,321.5L369.1,321.3L371.6,321.2L374.1,321.1L376.7,321L379.2,320.9L381.7,320.8L384.2,320.7L386.7,320.6L389.2,320.5L391.8,320.4L394.3,320.3L396.8,320.2L399.3,320.1L401.8,320L404.3,319.9L406.9,319.9L409.4,319.8L411.9,319.7L414.4,319.6L416.9,319.5L419.4,319.4L422,319.4L424.5,319.3L427,319.2L429.5,319.1L432,319.1L434.5,319L437.1,318.9L439.6,318.9L442.1,318.8L444.6,318.7L447.1,318.7L449.7,318.6L452.2,318.6L454.7,318.5L457.2,318.5L459.7,318.4L462.2,318.4L464.8,318.3L467.3,318.3L469.8,318.2L472.3,318.2L474.8,318.1L477.3,318.1L479.9,318L482.4,318L484.9,318L487.4,317.9L489.9,317.9L492.4,317.9L495,317.9L497.5,317.8L500,317.8L502.5,317.8L505,317.8L507.5,317.8L510.1,317.7L512.6,317.7L515.1,317.7L517.6,317.7L520.1,317.7L522.6,317.7L525.2,317.7L527.7,317.7L530.2,317.7L532.7,317.7L535.2,317.7L537.8,317.7L540.3,317.7L542.8,317.7L545.3,317.7L547.8,317.7L550.3,317.8L552.9,317.8L555.4,317.8L557.9,317.8L560.4,317.8L562.9,317.9L565.4,317.9L568,317.9L570.5,318L573,318L575.5,318L578,318.1L580.5,318.1L583.1,318.1L585.6,318.2L588.1,318.2L590.6,318.3L593.1,318.3L595.6,318.4L598.2,318.4L600.7,318.5L603.2,318.6L605.7,318.6L608.2,318.7L610.8,318.8L613.3,318.8L615.8,318.9L618.3,319L620.8,319L623.3,319.1L625.9,319.2L628.4,319.3L630.9,319.4L633.4,319.4L635.9,319.5L638.4,319.6L641,319.7L643.5,319.8L646,319.9L648.5,320L651,320.1L653.5,320.2L656.1,320.3L658.6,320.4L661.1,320.5L663.6,320.6L666.1,320.8L668.6,320.9L671.2,321L673.7,321.1L676.2,321.2L678.7,321.4L681.2,321.5L683.7,321.6L686.3,321.8L688.8,321.9L691.3,322"/>
<path d="M354,340.9L356.5,341.1L359,341.3L361.6,341.4L364.1,341.5L366.6,341.6L369.1,341.6L371.6,341.6L374.1,341.6L376.7,341.5L379.2,341.4L381.7,341.2L384.2,341L386.7,340.8L389.2,340.6L391.8,340.3L394.3,340L396.8,339.7L399.3,339.4L401.8,339L404.3,338.6L406.9,338.2L409.4,337.8L411.9,337.4L414.4,336.9L416.9,336.5L419.4,336L422,335.5L424.5,335L427,334.5L429.5,333.9L432,333.4L434.5,332.9L437.1,332.3L439.6,331.8L442.1,331.2L444.6,330.7L447.1,330.1L449.7,329.6L452.2,329L454.7,328.5L457.2,327.9L459.7,327.4L462.2,326.8L464.8,326.3L467.3,325.8L469.8,325.3L472.3,324.8L474.8,324.3L477.3,323.8L479.9,323.4L482.4,323L484.9,322.5L487.4,322.1L489.9,321.7L492.4,321.4L495,321L497.5,320.7L500,320.4L502.5,320.2L505,319.9L507.5,319.7L510.1,319.5L512.6,319.4L515.1,319.3L517.6,319.2L520.1,319.1L522.6,319.1L525.2,319.1L527.7,319.1L530.2,319.2L532.7,319.3L535.2,319.4L537.8,319.5L540.3,319.7L542.8,319.8L545.3,320L547.8,320.3L550.3,320.5L552.9,320.8L555.4,321.1L557.9,321.4L560.4,321.7L562.9,322L565.4,322.4L568,322.7L570.5,323.1L573,323.5L575.5,323.9L578,324.3L580.5,324.8L583.1,325.2L585.6,325.6L588.1,326.1L590.6,326.5L593.1,327L595.6,327.5L598.2,327.9L600.7,328.4L603.2,328.9L605.7,329.4L608.2,329.9L610.8,330.4L613.3,330.8L615.8,331.3L618.3,331.8L620.8,332.3L623.3,332.7L625.9,333.2L628.4,333.7L630.9,334.1L633.4,334.6L635.9,335L638.4,335.4L641,335.9L643.5,336.3L646,336.7L648.5,337L651,337.4L653.5,337.8L656.1,338.1L658.6,338.4L661.1,338.7L663.6,339L666.1,339.3L668.6,339.6L671.2,339.8L673.7,340L676.2,340.2L678.7,340.4L681.2,340.5L683.7,340.6L686.3,340.7L688.8,340.8L691.3,340.8"/>
<path d="M354,340.9L356.5,340.9L359,340.9L361.6,340.9L364.1,340.9L366.6,340.9L369.1,340.9L371.6,341L374.1,341L376.7,341.1L379.2,341.1L381.7,341.2L384.2,341.3L386.7,341.4L389.2,341.5L391.8,341.6L394.3,341.7L396.8,341.8L399.3,342L401.8,342.1L404.3,342.2L406.9,342.4L409.4,342.5L411.9,342.7L414.4,342.8L416.9,343L419.4,343.2L422,343.3L424.5,343.5L427,343.7L429.5,343.9L432,344L434.5,344.2L437.1,344.4L439.6,344.6L442.1,344.8L444.6,344.9L447.1,345.1L449.7,345.3L452.2,345.5L454.7,345.7L457.2,345.8L459.7,346L462.2,346.2L464.8,346.4L467.3,346.5L469.8,346.7L472.3,346.8L474.8,347L477.3,347.2L479.9,347.3L482.4,347.4L484.9,347.6L487.4,347.7L489.9,347.8L492.4,348L495,348.1L497.5,348.2L500,348.3L502.5,348.3L505,348.4L507.5,348.5L510.1,348.6L512.6,348.6L515.1,348.6L517.6,348.7L520.1,348.7L522.6,348.7L525.2,348.7L527.7,348.7L530.2,348.7L532.7,348.7L535.2,348.6L537.8,348.6L540.3,348.6L542.8,348.5L545.3,348.5L547.8,348.4L550.3,348.3L552.9,348.2L555.4,348.1L557.9,348.1L560.4,348L562.9,347.9L565.4,347.8L568,347.6L570.5,347.5L573,347.4L575.5,347.3L578,347.1L580.5,347L583.1,346.9L585.6,346.7L588.1,346.6L590.6,346.5L593.1,346.3L595.6,346.2L598.2,346L600.7,345.9L603.2,345.7L605.7,345.6L608.2,345.4L610.8,345.2L613.3,345.1L615.8,344.9L618.3,344.8L620.8,344.6L623.3,344.5L625.9,344.3L628.4,344.2L630.9,344L633.4,343.9L635.9,343.7L638.4,343.6L641,343.4L643.5,343.3L646,343.1L648.5,343L651,342.9L653.5,342.7L656.1,342.6L658.6,342.5L661.1,342.4L663.6,342.3L666.1,342.2L668.6,342.1L671.2,342L673.7,341.9L676.2,341.8L678.7,341.7L681.2,341.7L683.7,341.6L686.3,341.5L688.8,341.5L691.3,341.4"/>
<path d="M354,322.7L356.5,323.5L359,324.4L361.5,325.3L364.1,326.2L366.6,327.2L369.1,328.2L371.6,329.3L374.1,330.4L376.6,331.5L379.1,332.7L381.7,333.9L384.2,335.1L386.7,336.4L389.2,337.7L391.7,339.1L394.2,340.5L396.8,341.9L399.3,343.4L401.8,344.8L404.3,346.4L406.8,347.9L409.3,349.5L411.8,351.1L414.4,352.7L416.9,354.4L419.4,356.1L421.9,357.8L424.4,359.6L426.9,361.3L429.4,363.1L432,365L434.5,366.8L437,368.7L439.5,370.6L442,372.5L444.5,374.5L447.1,376.5L449.6,378.5L452.1,380.5L454.6,382.6L457.1,384.8L459.6,387L462.1,389.2L464.7,391.5L467.2,393.9L469.7,396.4L472.2,399L474.7,401.7L477.2,404.6L479.7,407.6L482.3,410.7L484.8,414L487.3,417.5L489.8,421.1L492.3,424.8L494.8,428.7L497.4,432.7L499.9,436.8L502.4,441L504.9,445.3L507.4,449.7L509.9,454L512.4,458.3L515,462.6L517.5,466.8L520,470.9L522.5,474.9L525,478.7L527.5,482.4L530,486L532.6,489.4L535.1,492.7L537.6,495.9L540.1,499.1L542.6,502.1L545.1,505L547.6,507.8L550.2,510.6L552.7,513.3L555.2,516L557.7,518.6L560.2,521.2L562.7,523.8L565.3,526.3L567.8,528.8L570.3,531.3L572.8,533.8L575.3,536.3L577.8,538.8L580.3,541.4L582.9,543.9L585.4,546.4L587.9,549L590.4,551.5L592.9,554.1L595.4,556.7L597.9,559.4L600.5,562L603,564.7L605.5,567.4L608,570.1L610.5,572.9L613,575.7L615.6,578.5L618.1,581.3L620.6,584.1L623.1,586.9L625.6,589.6L628.1,592.4L630.6,595.1L633.2,597.8L635.7,600.4L638.2,602.9L640.7,605.4L643.2,607.8L645.7,610.1L648.2,612.3L650.8,614.4L653.3,616.4L655.8,618.3L658.3,620.1L660.8,621.7L663.3,623.2L665.9,624.6L668.4,625.9L670.9,627.1L673.4,628.1L675.9,629L678.4,629.8L680.9,630.5L683.5,631L686,631.5L688.5,631.8L691,632"/>
<path d="M354,633L356.5,632.3L359,631.5L361.6,630.7L364.1,629.7L366.6,628.6L369.1,627.4L371.6,626.2L374.1,624.8L376.7,623.4L379.2,621.9L381.7,620.4L384.2,618.7L386.7,617L389.2,615.2L391.8,613.4L394.3,611.4L396.8,609.4L399.3,607.4L401.8,605.3L404.3,603.1L406.9,600.9L409.4,598.7L411.9,596.3L414.4,594L416.9,591.6L419.4,589.1L422,586.6L424.5,584.1L427,581.5L429.5,579L432,576.3L434.5,573.7L437.1,571L439.6,568.3L442.1,565.6L444.6,562.8L447.1,560.1L449.7,557.3L452.2,554.5L454.7,551.7L457.2,548.9L459.7,546.1L462.2,543.3L464.8,540.4L467.3,537.6L469.8,534.8L472.3,531.9L474.8,529.1L477.3,526.3L479.9,523.4L482.4,520.6L484.9,517.7L487.4,514.9L489.9,512L492.4,509.2L495,506.3L497.5,503.5L500,500.6L502.5,497.8L505,495L507.5,492.1L510.1,489.3L512.6,486.5L515.1,483.7L517.6,480.9L520.1,478.1L522.6,475.3L525.2,472.5L527.7,469.7L530.2,467L532.7,464.2L535.2,461.5L537.8,458.8L540.3,456L542.8,453.3L545.3,450.6L547.8,448L550.3,445.3L552.9,442.7L555.4,440L557.9,437.4L560.4,434.8L562.9,432.2L565.4,429.6L568,427.1L570.5,424.5L573,422L575.5,419.5L578,417L580.5,414.5L583.1,412L585.6,409.6L588.1,407.1L590.6,404.7L593.1,402.3L595.6,399.9L598.2,397.6L600.7,395.2L603.2,392.9L605.7,390.5L608.2,388.2L610.8,385.9L613.3,383.7L615.8,381.4L618.3,379.2L620.8,376.9L623.3,374.7L625.9,372.5L628.4,370.4L630.9,368.2L633.4,366.1L635.9,363.9L638.4,361.8L641,359.8L643.5,357.7L646,355.6L648.5,353.6L651,351.6L653.5,349.6L656.1,347.6L658.6,345.7L661.1,343.7L663.6,341.8L666.1,339.9L668.6,338L671.2,336.2L673.7,334.3L676.2,332.5L678.7,330.7L681.2,328.9L683.7,327.1L686.3,325.4L688.8,323.7L691.3,322"/>
<path d="M116,510.8L118.5,510.2L121,509.6L123.5,509L126,508.3L128.5,507.6L131,506.9L133.5,506.2L136,505.4L138.5,504.7L141.1,503.9L143.6,503.1L146.1,502.2L148.6,501.4L151.1,500.5L153.6,499.6L156.1,498.7L158.6,497.8L161.1,496.9L163.6,496L166.1,495L168.6,494L171.1,493.1L173.6,492.1L176.1,491.1L178.6,490.1L181.1,489.1L183.6,488.1L186.1,487.1L188.7,486L191.2,485L193.7,484L196.2,482.9L198.7,481.9L201.2,480.9L203.7,479.8L206.2,478.8L208.7,477.7L211.2,476.7L213.7,475.7L216.2,474.6L218.7,473.6L221.2,472.6L223.7,471.5L226.2,470.5L228.7,469.5L231.2,468.5L233.7,467.5L236.3,466.6L238.8,465.6L241.3,464.6L243.8,463.7L246.3,462.8L248.8,461.8L251.3,460.9L253.8,460L256.3,459.2L258.8,458.3L261.3,457.5L263.8,456.6L266.3,455.8L268.8,455L271.3,454.2L273.8,453.5L276.3,452.8L278.8,452L281.3,451.4L283.9,450.7L286.4,450L288.9,449.4L291.4,448.8L293.9,448.2L296.4,447.7L298.9,447.2L301.4,446.7L303.9,446.2L306.4,445.8L308.9,445.4L311.4,445L313.9,444.6L316.4,444.3L318.9,444L321.4,443.7L323.9,443.5L326.4,443.3L328.9,443.2L331.5,443L334,442.9L336.5,442.9L339,442.9L341.5,442.9L344,442.9L346.5,443L349,443.2L351.5,443.3L354,443.5"/>
<path d="M116,552L118.5,550.1L121,548.2L123.5,546.3L126,544.4L128.5,542.5L131,540.7L133.5,538.8L136,536.9L138.5,535.1L141.1,533.3L143.6,531.4L146.1,529.6L148.6,527.8L151.1,526L153.6,524.2L156.1,522.4L158.6,520.6L161.1,518.9L163.6,517.1L166.1,515.4L168.6,513.7L171.1,512L173.6,510.3L176.1,508.6L178.6,506.9L181.1,505.3L183.6,503.6L186.1,502L188.7,500.4L191.2,498.8L193.7,497.2L196.2,495.6L198.7,494.1L201.2,492.6L203.7,491L206.2,489.5L208.7,488.1L211.2,486.6L213.7,485.2L216.2,483.7L218.7,482.3L221.2,481L223.7,479.6L226.2,478.2L228.7,476.9L231.2,475.6L233.7,474.3L236.3,473.1L238.8,471.8L241.3,470.6L243.8,469.4L246.3,468.3L248.8,467.1L251.3,466L253.8,464.9L256.3,463.8L258.8,462.8L261.3,461.7L263.8,460.7L266.3,459.8L268.8,458.8L271.3,457.9L273.8,457L276.3,456.1L278.8,455.3L281.3,454.5L283.9,453.7L286.4,453L288.9,452.2L291.4,451.5L293.9,450.9L296.4,450.2L298.9,449.6L301.4,449L303.9,448.5L306.4,448L308.9,447.5L311.4,447L313.9,446.6L316.4,446.2L318.9,445.9L321.4,445.5L323.9,445.3L326.4,445L328.9,444.8L331.5,444.6L334,444.4L336.5,444.3L339,444.3L341.5,444.2L344,444.2L346.5,444.2L349,444.3L351.5,444.4L354,444.5"/>
<path d="M354,443.5L356.5,443.6L359,443.6L361.5,443.7L364.1,443.8L366.6,444L369.1,444.1L371.6,444.3L374.1,444.5L376.6,444.7L379.1,444.9L381.7,445.2L384.2,445.4L386.7,445.7L389.2,446L391.7,446.4L394.2,446.7L396.8,447.1L399.3,447.5L401.8,448L404.3,448.4L406.8,448.9L409.3,449.4L411.8,449.9L414.4,450.5L416.9,451L419.4,451.6L421.9,452.2L424.4,452.9L426.9,453.5L429.4,454.2L432,454.9L434.5,455.6L437,456.4L439.5,457.2L442,458L444.5,458.8L447.1,459.7L449.6,460.6L452.1,461.5L454.6,462.4L457.1,463.4L459.6,464.4L462.1,465.4L464.7,466.4L467.2,467.5L469.7,468.6L472.2,469.7L474.7,470.8L477.2,472L479.7,473.2L482.3,474.4L484.8,475.7L487.3,476.9L489.8,478.2L492.3,479.6L494.8,480.9L497.4,482.3L499.9,483.8L502.4,485.2L504.9,486.7L507.4,488.2L509.9,489.7L512.4,491.3L515,492.9L517.5,494.5L520,496.1L522.5,497.8L525,499.5L527.5,501.2L530,503L532.6,504.7L535.1,506.5L537.6,508.3L540.1,510.1L542.6,511.9L545.1,513.7L547.6,515.5L550.2,517.4L552.7,519.2L555.2,521.1L557.7,522.9L560.2,524.7L562.7,526.6L565.3,528.4L567.8,530.2L570.3,532L572.8,533.8L575.3,535.6L577.8,537.4L580.3,539.2L582.9,540.9L585.4,542.6L587.9,544.3L590.4,546L592.9,547.6L595.4,549.2L597.9,550.8L600.5,552.4L603,553.9L605.5,555.4L608,556.9L610.5,558.3L613,559.6L615.6,561L618.1,562.3L620.6,563.6L623.1,564.8L625.6,566.1L628.1,567.3L630.6,568.4L633.2,569.6L635.7,570.7L638.2,571.8L640.7,572.9L643.2,574L645.7,575L648.2,576L650.8,577.1L653.3,578.1L655.8,579.1L658.3,580.1L660.8,581L663.3,582L665.9,583L668.4,583.9L670.9,584.9L673.4,585.8L675.9,586.8L678.4,587.7L680.9,588.7L683.5,589.6L686,590.6L688.5,591.5L691,592.5"/>
<path d="M354,592.5L356.5,591.4L359,590.3L361.5,589.1L364.1,588L366.6,586.8L369.1,585.7L371.6,584.5L374.1,583.3L376.6,582.1L379.1,580.8L381.7,579.6L384.2,578.3L386.7,577L389.2,575.7L391.7,574.4L394.2,573.1L396.8,571.8L399.3,570.4L401.8,569.1L404.3,567.7L406.8,566.3L409.3,564.9L411.8,563.5L414.4,562.1L416.9,560.6L419.4,559.2L421.9,557.7L424.4,556.2L426.9,554.7L429.4,553.2L432,551.7L434.5,550.2L437,548.6L439.5,547.1L442,545.5L444.5,543.9L447.1,542.3L449.6,540.7L452.1,539.1L454.6,537.4L457.1,535.8L459.6,534.1L462.1,532.5L464.7,530.8L467.2,529.1L469.7,527.4L472.2,525.7L474.7,524L477.2,522.3L479.7,520.6L482.3,518.9L484.8,517.2L487.3,515.5L489.8,513.8L492.3,512.1L494.8,510.4L497.4,508.8L499.9,507.1L502.4,505.5L504.9,503.9L507.4,502.3L509.9,500.7L512.4,499.2L515,497.6L517.5,496.1L520,494.6L522.5,493.1L525,491.7L527.5,490.2L530,488.8L532.6,487.4L535.1,486L537.6,484.6L540.1,483.3L542.6,482L545.1,480.7L547.6,479.4L550.2,478.1L552.7,476.9L555.2,475.6L557.7,474.4L560.2,473.2L562.7,472.1L565.3,470.9L567.8,469.8L570.3,468.7L572.8,467.6L575.3,466.5L577.8,465.5L580.3,464.5L582.9,463.4L585.4,462.5L587.9,461.5L590.4,460.6L592.9,459.6L595.4,458.7L597.9,457.9L600.5,457L603,456.2L605.5,455.4L608,454.7L610.5,454L613,453.3L615.6,452.6L618.1,451.9L620.6,451.3L623.1,450.7L625.6,450.1L628.1,449.6L630.6,449.1L633.2,448.6L635.7,448.1L638.2,447.7L640.7,447.2L643.2,446.8L645.7,446.5L648.2,446.1L650.8,445.8L653.3,445.5L655.8,445.2L658.3,444.9L660.8,444.6L663.3,444.4L665.9,444.2L668.4,444L670.9,443.8L673.4,443.7L675.9,443.5L678.4,443.4L680.9,443.3L683.5,443.2L686,443.1L688.5,443.1L691,443"/>
<path d="M354,444.8L356.5,444.9L359,444.9L361.5,445L364.1,445.1L366.6,445.3L369.1,445.4L371.6,445.6L374.1,445.8L376.6,446L379.1,446.3L381.7,446.6L384.2,446.9L386.7,447.2L389.2,447.5L391.7,447.9L394.2,448.2L396.8,448.7L399.3,449.1L401.8,449.5L404.3,450L406.8,450.5L409.3,451L411.8,451.6L414.4,452.2L416.9,452.8L419.4,453.4L421.9,454L424.4,454.7L426.9,455.4L429.4,456.1L432,456.8L434.5,457.6L437,458.4L439.5,459.2L442,460.1L444.5,460.9L447.1,461.8L449.6,462.7L452.1,463.7L454.6,464.6L457.1,465.6L459.6,466.7L462.1,467.7L464.7,468.8L467.2,469.9L469.7,471L472.2,472.1L474.7,473.3L477.2,474.5L479.7,475.7L482.3,477L484.8,478.3L487.3,479.6L489.8,480.9L492.3,482.3L494.8,483.7L497.4,485.1L499.9,486.5L502.4,488L504.9,489.5L507.4,491L509.9,492.6L512.4,494.2L515,495.8L517.5,497.4L520,499.1L522.5,500.8L525,502.5L527.5,504.2L530,506L532.6,507.7L535.1,509.5L537.6,511.3L540.1,513.1L542.6,515L545.1,516.8L547.6,518.6L550.2,520.5L552.7,522.3L555.2,524.2L557.7,526L560.2,527.9L562.7,529.7L565.3,531.5L567.8,533.4L570.3,535.2L572.8,537L575.3,538.8L577.8,540.6L580.3,542.3L582.9,544.1L585.4,545.8L587.9,547.5L590.4,549.2L592.9,550.8L595.4,552.4L597.9,554L600.5,555.6L603,557.1L605.5,558.6L608,560.1L610.5,561.5L613,562.9L615.6,564.3L618.1,565.6L620.6,566.9L623.1,568.2L625.6,569.4L628.1,570.6L630.6,571.8L633.2,573L635.7,574.1L638.2,575.2L640.7,576.3L643.2,577.4L645.7,578.4L648.2,579.5L650.8,580.5L653.3,581.5L655.8,582.5L658.3,583.5L660.8,584.5L663.3,585.5L665.9,586.5L668.4,587.4L670.9,588.4L673.4,589.3L675.9,590.3L678.4,591.2L680.9,592.2L683.5,593.1L686,594.1L688.5,595L691,596"/>
<path d="M354,596L356.5,594.9L359,593.8L361.5,592.7L364.1,591.6L366.6,590.4L369.1,589.3L371.6,588.1L374.1,586.9L376.6,585.7L379.1,584.5L381.7,583.2L384.2,582L386.7,580.7L389.2,579.4L391.7,578.1L394.2,576.8L396.8,575.4L399.3,574.1L401.8,572.7L404.3,571.3L406.8,569.9L409.3,568.5L411.8,567.1L414.4,565.7L416.9,564.2L419.4,562.8L421.9,561.3L424.4,559.8L426.9,558.3L429.4,556.8L432,555.2L434.5,553.7L437,552.1L439.5,550.6L442,549L444.5,547.4L447.1,545.8L449.6,544.2L452.1,542.5L454.6,540.9L457.1,539.2L459.6,537.6L462.1,535.9L464.7,534.2L467.2,532.5L469.7,530.8L472.2,529.1L474.7,527.4L477.2,525.7L479.7,524L482.3,522.3L484.8,520.6L487.3,518.9L489.8,517.2L492.3,515.5L494.8,513.8L497.4,512.1L499.9,510.4L502.4,508.8L504.9,507.2L507.4,505.5L509.9,503.9L512.4,502.3L515,500.8L517.5,499.2L520,497.7L522.5,496.1L525,494.6L527.5,493.1L530,491.7L532.6,490.2L535.1,488.8L537.6,487.4L540.1,486L542.6,484.6L545.1,483.3L547.6,482L550.2,480.7L552.7,479.4L555.2,478.1L557.7,476.9L560.2,475.7L562.7,474.5L565.3,473.3L567.8,472.1L570.3,471L572.8,469.9L575.3,468.8L577.8,467.7L580.3,466.7L582.9,465.7L585.4,464.7L587.9,463.7L590.4,462.7L592.9,461.8L595.4,460.9L597.9,460L600.5,459.1L603,458.3L605.5,457.5L608,456.7L610.5,456L613,455.3L615.6,454.6L618.1,453.9L620.6,453.3L623.1,452.6L625.6,452L628.1,451.5L630.6,450.9L633.2,450.4L635.7,449.9L638.2,449.4L640.7,449L643.2,448.6L645.7,448.2L648.2,447.8L650.8,447.4L653.3,447.1L655.8,446.8L658.3,446.5L660.8,446.2L663.3,446L665.9,445.7L668.4,445.5L670.9,445.3L673.4,445.2L675.9,445L678.4,444.9L680.9,444.8L683.5,444.7L686,444.6L688.5,444.5L691,444.5"/>
<path d="M116,510.8L118.5,510.7L121,510.6L123.5,510.5L126,510.5L128.5,510.6L131,510.7L133.5,510.9L136,511.1L138.5,511.3L141,511.6L143.5,511.9L146,512.3L148.5,512.7L151,513.1L153.5,513.6L156,514.1L158.5,514.6L161,515.2L163.5,515.7L166,516.3L168.5,516.9L171,517.6L173.5,518.2L176,518.9L178.5,519.5L181,520.2L183.5,520.9L186,521.5L188.5,522.2L191,522.9L193.5,523.5L196,524.1L198.5,524.8L201,525.4L203.5,525.9L206,526.5L208.5,527L211,527.6L213.5,528.1L216,528.6L218.5,529.1L221,529.5L223.5,530L226,530.4L228.5,530.8L231,531.2L233.5,531.6L236,532L238.5,532.3L241,532.7L243.5,533L246,533.3L248.5,533.6L251,533.9L253.5,534.2L256,534.5L258.5,534.7L261,535L263.5,535.2L266,535.4L268.5,535.6L271,535.8L273.5,536L276,536.2L278.5,536.4L281,536.5L283.5,536.7L286,536.8L288.5,536.9L291,537.1L293.5,537.2L296,537.3L298.5,537.4L301,537.5L303.5,537.6L306,537.7L308.5,537.7L311,537.8L313.5,537.9L316,537.9L318.5,538L321,538L323.5,538.1L326,538.1L328.5,538.1L331,538.1L333.5,538.1L336,538.2L338.5,538.2L341,538.2L343.5,538.2L346,538.2L348.5,538.2L351,538.2L353.5,538.1L356,538.1L358.5,538.1L361,538.1L363.5,538.1L366,538L368.5,538L371,538L373.5,538L376,537.9L378.5,537.9L381,537.9L383.5,537.8L386,537.8L388.5,537.8L391,537.7L393.5,537.7L396,537.7L398.5,537.6L401,537.6L403.5,537.6L406,537.6L408.5,537.5L411,537.5L413.5,537.5L416,537.5L418.5,537.4L421,537.4L423.5,537.4L426,537.4L428.5,537.4L431,537.4L433.5,537.4L436,537.3L438.5,537.3L441,537.3L443.5,537.3L446,537.3L448.5,537.3L451,537.3L453.5,537.3L456,537.3L458.5,537.3L461,537.3L463.5,537.3L466,537.3L468.5,537.3L471,537.3L473.5,537.3L476,537.3L478.5,537.3L481,537.3L483.5,537.3L486,537.3L488.5,537.3L491,537.3L493.5,537.3L496,537.3L498.5,537.3L501,537.3L503.5,537.4L506,537.4L508.5,537.4L511,537.4L513.5,537.4L516,537.4L518.5,537.4L521,537.4L523.5,537.4L526,537.4L528.5,537.5L531,537.5L533.5,537.5L536,537.5L538.5,537.5L541,537.5L543.5,537.5L546,537.5L548.5,537.6L551,537.6L553.5,537.6L556,537.6L558.5,537.6L561,537.6L563.5,537.6L566,537.7L568.5,537.7L571,537.7L573.5,537.7L576,537.7L578.5,537.7L581,537.7L583.5,537.7L586,537.7L588.5,537.8L591,537.8L593.5,537.8L596,537.8L598.5,537.8L601,537.8L603.5,537.8L606,537.8L608.5,537.8L611,537.8L613.5,537.8L616,537.8L618.5,537.8L621,537.8L623.5,537.8L626,537.8L628.5,537.9L631,537.9L633.5,537.9L636,537.9L638.5,537.8L641,537.8L643.5,537.8L646,537.8L648.5,537.8L651,537.8L653.5,537.8L656,537.8L658.5,537.8L661,537.8L663.5,537.8L666,537.8L668.5,537.8L671,537.7L673.5,537.7L676,537.7L678.5,537.7L681,537.7L683.5,537.7L686,537.6L688.5,537.6L691,537.6"/>
<path d="M116,510.8L118.5,511L121,511.2L123.5,511.4L126,511.6L128.5,511.9L131,512.1L133.5,512.4L136,512.7L138.5,513L141.1,513.4L143.6,513.7L146.1,514.1L148.6,514.4L151.1,514.8L153.6,515.2L156.1,515.7L158.6,516.1L161.1,516.5L163.6,517L166.1,517.5L168.6,518L171.1,518.5L173.6,519L176.1,519.5L178.6,520.1L181.1,520.6L183.6,521.2L186.1,521.8L188.7,522.4L191.2,523L193.7,523.6L196.2,524.3L198.7,524.9L201.2,525.6L203.7,526.3L206.2,527L208.7,527.7L211.2,528.4L213.7,529.1L216.2,529.8L218.7,530.6L221.2,531.4L223.7,532.1L226.2,532.9L228.7,533.7L231.2,534.6L233.7,535.4L236.3,536.2L238.8,537.1L241.3,537.9L243.8,538.8L246.3,539.7L248.8,540.6L251.3,541.5L253.8,542.4L256.3,543.3L258.8,544.3L261.3,545.2L263.8,546.2L266.3,547.2L268.8,548.2L271.3,549.2L273.8,550.2L276.3,551.2L278.8,552.3L281.3,553.4L283.9,554.5L286.4,555.6L288.9,556.7L291.4,557.8L293.9,559L296.4,560.2L298.9,561.4L301.4,562.6L303.9,563.8L306.4,565.1L308.9,566.3L311.4,567.6L313.9,568.9L316.4,570.3L318.9,571.6L321.4,573L323.9,574.4L326.4,575.8L328.9,577.2L331.5,578.7L334,580.2L336.5,581.7L339,583.2L341.5,584.8L344,586.4L346.5,588L349,589.6L351.5,591.3L354,592.9"/>
<path d="M116,552L118.5,554.3L121,556.4L123.5,558.5L126,560.5L128.5,562.4L131,564.1L133.5,565.8L136,567.3L138.5,568.8L141.1,570.1L143.6,571.4L146.1,572.5L148.6,573.5L151.1,574.4L153.6,575.2L156.1,576L158.6,576.6L161.1,577.1L163.6,577.5L166.1,577.8L168.6,578L171.1,578.1L173.6,578.1L176.1,578L178.6,577.8L181.1,577.6L183.6,577.3L186.1,576.8L188.7,576.4L191.2,575.8L193.7,575.2L196.2,574.6L198.7,573.8L201.2,573.1L203.7,572.3L206.2,571.4L208.7,570.5L211.2,569.6L213.7,568.7L216.2,567.7L218.7,566.8L221.2,565.8L223.7,564.8L226.2,563.8L228.7,562.8L231.2,561.8L233.7,560.8L236.3,559.8L238.8,558.9L241.3,558L243.8,557L246.3,556.1L248.8,555.2L251.3,554.4L253.8,553.5L256.3,552.7L258.8,551.9L261.3,551.1L263.8,550.3L266.3,549.5L268.8,548.8L271.3,548.1L273.8,547.4L276.3,546.7L278.8,546.1L281.3,545.4L283.9,544.8L286.4,544.2L288.9,543.6L291.4,543.1L293.9,542.6L296.4,542.1L298.9,541.6L301.4,541.1L303.9,540.7L306.4,540.3L308.9,539.9L311.4,539.5L313.9,539.2L316.4,538.9L318.9,538.6L321.4,538.4L323.9,538.2L326.4,538L328.9,537.8L331.5,537.6L334,537.5L336.5,537.4L339,537.4L341.5,537.3L344,537.3L346.5,537.4L349,537.4L351.5,537.5L354,537.6"/>
<path d="M116,552L118.5,551.9L121,551.9L123.5,551.9L126,551.9L128.5,551.9L131,552L133.5,552L136,552.1L138.5,552.3L141.1,552.4L143.6,552.6L146.1,552.7L148.6,552.9L151.1,553.2L153.6,553.4L156.1,553.7L158.6,554L161.1,554.3L163.6,554.6L166.1,554.9L168.6,555.3L171.1,555.6L173.6,556L176.1,556.4L178.6,556.8L181.1,557.2L183.6,557.7L186.1,558.1L188.7,558.6L191.2,559.1L193.7,559.6L196.2,560.1L198.7,560.6L201.2,561.1L203.7,561.6L206.2,562.2L208.7,562.7L211.2,563.3L213.7,563.8L216.2,564.4L218.7,565L221.2,565.6L223.7,566.2L226.2,566.8L228.7,567.4L231.2,568L233.7,568.6L236.3,569.2L238.8,569.8L241.3,570.4L243.8,571.1L246.3,571.7L248.8,572.3L251.3,572.9L253.8,573.6L256.3,574.2L258.8,574.8L261.3,575.4L263.8,576L266.3,576.7L268.8,577.3L271.3,577.9L273.8,578.5L276.3,579.1L278.8,579.7L281.3,580.3L283.9,580.9L286.4,581.5L288.9,582L291.4,582.6L293.9,583.2L296.4,583.7L298.9,584.2L301.4,584.8L303.9,585.3L306.4,585.8L308.9,586.3L311.4,586.8L313.9,587.3L316.4,587.8L318.9,588.2L321.4,588.7L323.9,589.1L326.4,589.5L328.9,589.9L331.5,590.3L334,590.7L336.5,591L339,591.3L341.5,591.7L344,592L346.5,592.3L349,592.5L351.5,592.8L354,593"/>
<path d="M116,612L118.5,611.7L121,611.3L123.5,610.8L126,610.3L128.5,609.8L131,609.2L133.5,608.6L136,607.9L138.5,607.1L141.1,606.4L143.6,605.6L146.1,604.7L148.6,603.8L151.1,602.9L153.6,601.9L156.1,601L158.6,599.9L161.1,598.9L163.6,597.8L166.1,596.7L168.6,595.6L171.1,594.4L173.6,593.3L176.1,592.1L178.6,590.9L181.1,589.7L183.6,588.4L186.1,587.2L188.7,585.9L191.2,584.6L193.7,583.4L196.2,582.1L198.7,580.8L201.2,579.5L203.7,578.2L206.2,576.9L208.7,575.6L211.2,574.3L213.7,573.1L216.2,571.8L218.7,570.5L221.2,569.2L223.7,568L226.2,566.8L228.7,565.5L231.2,564.3L233.7,563.2L236.3,562L238.8,560.8L241.3,559.7L243.8,558.6L246.3,557.5L248.8,556.5L251.3,555.5L253.8,554.5L256.3,553.5L258.8,552.6L261.3,551.7L263.8,550.8L266.3,550L268.8,549.2L271.3,548.4L273.8,547.7L276.3,547L278.8,546.3L281.3,545.6L283.9,545L286.4,544.4L288.9,543.8L291.4,543.2L293.9,542.7L296.4,542.2L298.9,541.8L301.4,541.3L303.9,540.9L306.4,540.5L308.9,540.1L311.4,539.8L313.9,539.5L316.4,539.2L318.9,538.9L321.4,538.7L323.9,538.5L326.4,538.3L328.9,538.1L331.5,538L334,537.8L336.5,537.7L339,537.7L341.5,537.6L344,537.6L346.5,537.6L349,537.6L351.5,537.6L354,537.6"/>
<path d="M354,537.6L356.5,538.2L359,538.8L361.5,539.4L364.1,540L366.6,540.6L369.1,541.3L371.6,541.9L374.1,542.5L376.6,543.1L379.1,543.7L381.7,544.2L384.2,544.8L386.7,545.4L389.2,546L391.7,546.6L394.2,547.2L396.8,547.8L399.3,548.3L401.8,548.9L404.3,549.5L406.8,550.1L409.3,550.6L411.8,551.2L414.4,551.7L416.9,552.3L419.4,552.9L421.9,553.4L424.4,554L426.9,554.5L429.4,555.1L432,555.6L434.5,556.1L437,556.7L439.5,557.2L442,557.8L444.5,558.3L447.1,558.8L449.6,559.3L452.1,559.9L454.6,560.4L457.1,560.9L459.6,561.4L462.1,561.9L464.7,562.4L467.2,562.9L469.7,563.4L472.2,563.9L474.7,564.4L477.2,564.9L479.7,565.4L482.3,565.9L484.8,566.4L487.3,566.8L489.8,567.3L492.3,567.8L494.8,568.3L497.4,568.7L499.9,569.2L502.4,569.6L504.9,570.1L507.4,570.6L509.9,571L512.4,571.5L515,571.9L517.5,572.3L520,572.8L522.5,573.2L525,573.6L527.5,574.1L530,574.5L532.6,574.9L535.1,575.3L537.6,575.7L540.1,576.2L542.6,576.6L545.1,577L547.6,577.4L550.2,577.8L552.7,578.2L555.2,578.6L557.7,578.9L560.2,579.3L562.7,579.7L565.3,580.1L567.8,580.5L570.3,580.8L572.8,581.2L575.3,581.5L577.8,581.9L580.3,582.3L582.9,582.6L585.4,583L587.9,583.3L590.4,583.6L592.9,584L595.4,584.3L597.9,584.6L600.5,585L603,585.3L605.5,585.6L608,585.9L610.5,586.2L613,586.5L615.6,586.8L618.1,587.1L620.6,587.4L623.1,587.7L625.6,588L628.1,588.3L630.6,588.6L633.2,588.8L635.7,589.1L638.2,589.4L640.7,589.6L643.2,589.9L645.7,590.1L648.2,590.4L650.8,590.6L653.3,590.9L655.8,591.1L658.3,591.4L660.8,591.6L663.3,591.8L665.9,592L668.4,592.2L670.9,592.5L673.4,592.7L675.9,592.9L678.4,593.1L680.9,593.3L683.5,593.5L686,593.6L688.5,593.8L691,594"/>
<path d="M354,594L356.5,593.8L359,593.6L361.5,593.3L364.1,593.1L366.6,592.9L369.1,592.6L371.6,592.4L374.1,592.2L376.6,591.9L379.1,591.7L381.7,591.4L384.2,591.2L386.7,590.9L389.2,590.7L391.7,590.4L394.2,590.1L396.8,589.9L399.3,589.6L401.8,589.3L404.3,589L406.8,588.8L409.3,588.5L411.8,588.2L414.4,587.9L416.9,587.6L419.4,587.3L421.9,587L424.4,586.7L426.9,586.4L429.4,586.1L432,585.8L434.5,585.5L437,585.2L439.5,584.8L442,584.5L444.5,584.2L447.1,583.9L449.6,583.5L452.1,583.2L454.6,582.9L457.1,582.5L459.6,582.2L462.1,581.8L464.7,581.5L467.2,581.1L469.7,580.8L472.2,580.4L474.7,580.1L477.2,579.7L479.7,579.3L482.3,579L484.8,578.6L487.3,578.2L489.8,577.8L492.3,577.5L494.8,577.1L497.4,576.7L499.9,576.3L502.4,575.9L504.9,575.5L507.4,575.1L509.9,574.7L512.4,574.3L515,573.9L517.5,573.5L520,573.1L522.5,572.6L525,572.2L527.5,571.8L530,571.4L532.6,570.9L535.1,570.5L537.6,570.1L540.1,569.6L542.6,569.2L545.1,568.7L547.6,568.3L550.2,567.8L552.7,567.4L555.2,566.9L557.7,566.5L560.2,566L562.7,565.5L565.3,565.1L567.8,564.6L570.3,564.1L572.8,563.6L575.3,563.1L577.8,562.7L580.3,562.2L582.9,561.7L585.4,561.2L587.9,560.7L590.4,560.2L592.9,559.7L595.4,559.2L597.9,558.7L600.5,558.1L603,557.6L605.5,557.1L608,556.6L610.5,556.1L613,555.5L615.6,555L618.1,554.5L620.6,553.9L623.1,553.4L625.6,552.8L628.1,552.3L630.6,551.7L633.2,551.2L635.7,550.6L638.2,550.1L640.7,549.5L643.2,548.9L645.7,548.4L648.2,547.8L650.8,547.2L653.3,546.6L655.8,546.1L658.3,545.5L660.8,544.9L663.3,544.3L665.9,543.7L668.4,543.1L670.9,542.5L673.4,541.9L675.9,541.3L678.4,540.7L680.9,540.1L683.5,539.5L686,538.8L688.5,538.2L691,537.6"/>
<path d="M354,594L356.5,594L359,594L361.5,594L364.1,594.1L366.6,594.1L369.1,594.1L371.6,594.1L374.1,594.1L376.6,594.1L379.1,594.1L381.7,594.2L384.2,594.2L386.7,594.2L389.2,594.2L391.7,594.2L394.2,594.2L396.8,594.2L399.3,594.2L401.8,594.2L404.3,594.3L406.8,594.3L409.3,594.3L411.8,594.3L414.4,594.3L416.9,594.3L419.4,594.3L421.9,594.3L424.4,594.3L426.9,594.3L429.4,594.3L432,594.4L434.5,594.4L437,594.4L439.5,594.4L442,594.4L444.5,594.4L447.1,594.4L449.6,594.4L452.1,594.4L454.6,594.4L457.1,594.4L459.6,594.4L462.1,594.4L464.7,594.4L467.2,594.4L469.7,594.5L472.2,594.5L474.7,594.5L477.2,594.5L479.7,594.5L482.3,594.5L484.8,594.5L487.3,594.5L489.8,594.5L492.3,594.5L494.8,594.5L497.4,594.5L499.9,594.5L502.4,594.5L504.9,594.5L507.4,594.5L509.9,594.5L512.4,594.5L515,594.5L517.5,594.5L520,594.5L522.5,594.5L525,594.5L527.5,594.5L530,594.5L532.6,594.5L535.1,594.5L537.6,594.5L540.1,594.5L542.6,594.5L545.1,594.5L547.6,594.5L550.2,594.5L552.7,594.5L555.2,594.5L557.7,594.5L560.2,594.5L562.7,594.5L565.3,594.5L567.8,594.5L570.3,594.5L572.8,594.5L575.3,594.4L577.8,594.4L580.3,594.4L582.9,594.4L585.4,594.4L587.9,594.4L590.4,594.4L592.9,594.4L595.4,594.4L597.9,594.4L600.5,594.4L603,594.4L605.5,594.4L608,594.4L610.5,594.4L613,594.4L615.6,594.3L618.1,594.3L620.6,594.3L623.1,594.3L625.6,594.3L628.1,594.3L630.6,594.3L633.2,594.3L635.7,594.3L638.2,594.3L640.7,594.3L643.2,594.2L645.7,594.2L648.2,594.2L650.8,594.2L653.3,594.2L655.8,594.2L658.3,594.2L660.8,594.2L663.3,594.2L665.9,594.1L668.4,594.1L670.9,594.1L673.4,594.1L675.9,594.1L678.4,594.1L680.9,594.1L683.5,594L686,594L688.5,594L691,594"/>
<path d="M116,620L118.5,618.1L121,616.3L123.5,614.5L126,612.9L128.5,611.3L131,609.8L133.5,608.5L136,607.2L138.5,606.1L141.1,605L143.6,604L146.1,603.2L148.6,602.4L151.1,601.8L153.6,601.2L156.1,600.8L158.6,600.4L161.1,600.1L163.6,600L166.1,599.9L168.6,600L171.1,600.1L173.6,600.3L176.1,600.6L178.6,600.9L181.1,601.3L183.6,601.8L186.1,602.3L188.7,602.9L191.2,603.5L193.7,604.1L196.2,604.8L198.7,605.5L201.2,606.2L203.7,607L206.2,607.8L208.7,608.5L211.2,609.3L213.7,610.1L216.2,611L218.7,611.8L221.2,612.6L223.7,613.5L226.2,614.3L228.7,615.2L231.2,616L233.7,616.8L236.3,617.6L238.8,618.4L241.3,619.2L243.8,620L246.3,620.7L248.8,621.5L251.3,622.2L253.8,622.8L256.3,623.5L258.8,624.1L261.3,624.7L263.8,625.3L266.3,625.8L268.8,626.4L271.3,626.9L273.8,627.3L276.3,627.8L278.8,628.2L281.3,628.7L283.9,629L286.4,629.4L288.9,629.8L291.4,630.1L293.9,630.4L296.4,630.7L298.9,631L301.4,631.2L303.9,631.5L306.4,631.7L308.9,631.9L311.4,632.1L313.9,632.2L316.4,632.4L318.9,632.5L321.4,632.7L323.9,632.8L326.4,632.9L328.9,632.9L331.5,633L334,633L336.5,633.1L339,633.1L341.5,633.1L344,633.1L346.5,633.1L349,633.1L351.5,633L354,633"/>
<path d="M116,619.7L118.5,619.3L121,619L123.5,618.6L126,618.3L128.5,617.9L131,617.6L133.5,617.3L136,617.1L138.5,616.8L141.1,616.6L143.6,616.4L146.1,616.1L148.6,615.9L151.1,615.8L153.6,615.6L156.1,615.4L158.6,615.3L161.1,615.1L163.6,615L166.1,614.9L168.6,614.8L171.1,614.7L173.6,614.6L176.1,614.5L178.6,614.4L181.1,614.3L183.6,614.3L186.1,614.2L188.7,614.1L191.2,614.1L193.7,614L196.2,614L198.7,613.9L201.2,613.9L203.7,613.9L206.2,613.8L208.7,613.8L211.2,613.7L213.7,613.7L216.2,613.7L218.7,613.6L221.2,613.6L223.7,613.5L226.2,613.5L228.7,613.4L231.2,613.3L233.7,613.3L236.3,613.2L238.8,613.1L241.3,613L243.8,612.9L246.3,612.8L248.8,612.7L251.3,612.6L253.8,612.5L256.3,612.3L258.8,612.2L261.3,612L263.8,611.8L266.3,611.6L268.8,611.4L271.3,611.2L273.8,611L276.3,610.8L278.8,610.5L281.3,610.2L283.9,609.9L286.4,609.6L288.9,609.3L291.4,609L293.9,608.6L296.4,608.2L298.9,607.8L301.4,607.4L303.9,607L306.4,606.5L308.9,606L311.4,605.5L313.9,605L316.4,604.5L318.9,603.9L321.4,603.3L323.9,602.7L326.4,602L328.9,601.3L331.5,600.6L334,599.9L336.5,599.1L339,598.4L341.5,597.5L344,596.7L346.5,595.8L349,594.9L351.5,594L354,593"/>
<path d="M116,621.6L118.5,621.7L121,621.7L123.5,621.8L126,621.8L128.5,621.9L131,621.9L133.5,622L136,622.1L138.5,622.1L141,622.2L143.5,622.3L146,622.3L148.5,622.4L151,622.5L153.5,622.6L156,622.6L158.5,622.7L161,622.8L163.5,622.9L166,622.9L168.5,623L171,623.1L173.5,623.2L176,623.3L178.5,623.3L181,623.4L183.5,623.5L186,623.6L188.5,623.7L191,623.8L193.5,623.9L196,624L198.5,624L201,624.1L203.5,624.2L206,624.3L208.5,624.4L211,624.5L213.5,624.6L216,624.7L218.5,624.8L221,624.9L223.5,625L226,625.1L228.5,625.2L231,625.3L233.5,625.4L236,625.6L238.5,625.7L241,625.8L243.5,625.9L246,626L248.5,626.1L251,626.3L253.5,626.4L256,626.5L258.5,626.6L261,626.8L263.5,626.9L266,627L268.5,627.2L271,627.3L273.5,627.4L276,627.6L278.5,627.7L281,627.8L283.5,628L286,628.1L288.5,628.2L291,628.4L293.5,628.5L296,628.7L298.5,628.8L301,629L303.5,629.1L306,629.2L308.5,629.4L311,629.6L313.5,629.8L316,630L318.5,630.2L321,630.4L323.5,630.7L326,630.9L328.5,631.1L331,631.3L333.5,631.5L336,631.7L338.5,631.9L341,632.1L343.5,632.2L346,632.3L348.5,632.4L351,632.5L353.5,632.5L356,632.5L358.5,632.5L361,632.5L363.5,632.5L366,632.5L368.5,632.5L371,632.5L373.5,632.5L376,632.5L378.5,632.5L381,632.5L383.5,632.5L386,632.5L388.5,632.5L391,632.5L393.5,632.5L396,632.5L398.5,632.5L401,632.5L403.5,632.5L406,632.5L408.5,632.5L411,632.5L413.5,632.5L416,632.5L418.5,632.5L421,632.5L423.5,632.5L426,632.5L428.5,632.5L431,632.5L433.5,632.5L436,632.5L438.5,632.5L441,632.5L443.5,632.5L446,632.5L448.5,632.5L451,632.5L453.5,632.5L456,632.5L458.5,632.5L461,632.5L463.5,632.5L466,632.5L468.5,632.5L471,632.5L473.5,632.5L476,632.5L478.5,632.5L481,632.5L483.5,632.5L486,632.5L488.5,632.5L491,632.5L493.5,632.5L496,632.5L498.5,632.5L501,632.5L503.5,632.5L506,632.5L508.5,632.5L511,632.5L513.5,632.5L516,632.5L518.5,632.5L521,632.5L523.5,632.5L526,632.5L528.5,632.5L531,632.5L533.5,632.5L536,632.5L538.5,632.5L541,632.5L543.5,632.5L546,632.5L548.5,632.5L551,632.5L553.5,632.5L556,632.5L558.5,632.5L561,632.5L563.5,632.5L566,632.5L568.5,632.5L571,632.5L573.5,632.5L576,632.5L578.5,632.5L581,632.5L583.5,632.5L586,632.5L588.5,632.5L591,632.5L593.5,632.5L596,632.5L598.5,632.5L601,632.5L603.5,632.5L606,632.5L608.5,632.5L611,632.5L613.5,632.5L616,632.5L618.5,632.5L621,632.5L623.5,632.5L626,632.5L628.5,632.5L631,632.5L633.5,632.5L636,632.5L638.5,632.5L641,632.5L643.5,632.5L646,632.5L648.5,632.5L651,632.5L653.5,632.5L656,632.5L658.5,632.5L661,632.5L663.5,632.5L666,632.5L668.5,632.5L671,632.5L673.5,632.5L676,632.5L678.5,632.5L681,632.5L683.5,632.5L686,632.5L688.5,632.5L691,632.5"/>
<path d="M116,621.6L118.5,622.1L121,622.7L123.5,623.4L126,624L128.5,624.8L131,625.5L133.5,626.4L136,627.2L138.5,628.1L141.1,629L143.6,630L146.1,631L148.6,632L151.1,633.1L153.6,634.2L156.1,635.3L158.6,636.5L161.1,637.7L163.6,638.9L166.1,640.1L168.6,641.3L171.1,642.6L173.6,643.9L176.1,645.2L178.6,646.5L181.1,647.8L183.6,649.2L186.1,650.5L188.7,651.9L191.2,653.3L193.7,654.6L196.2,656L198.7,657.4L201.2,658.8L203.7,660.1L206.2,661.5L208.7,662.9L211.2,664.3L213.7,665.6L216.2,667L218.7,668.3L221.2,669.6L223.7,670.9L226.2,672.2L228.7,673.5L231.2,674.8L233.7,676.1L236.3,677.3L238.8,678.5L241.3,679.7L243.8,680.9L246.3,682L248.8,683.1L251.3,684.2L253.8,685.3L256.3,686.4L258.8,687.4L261.3,688.4L263.8,689.4L266.3,690.4L268.8,691.3L271.3,692.2L273.8,693.1L276.3,694L278.8,694.8L281.3,695.6L283.9,696.4L286.4,697.2L288.9,697.9L291.4,698.6L293.9,699.2L296.4,699.9L298.9,700.5L301.4,701.1L303.9,701.6L306.4,702.1L308.9,702.6L311.4,703L313.9,703.4L316.4,703.8L318.9,704.1L321.4,704.4L323.9,704.7L326.4,704.9L328.9,705.1L331.5,705.3L334,705.4L336.5,705.5L339,705.5L341.5,705.5L344,705.5L346.5,705.4L349,705.3L351.5,705.2L354,705"/>
<path d="M116,693.5L118.5,693L121,692.6L123.5,692.1L126,691.6L128.5,691.2L131,690.7L133.5,690.2L136,689.7L138.5,689.2L141.1,688.7L143.6,688.2L146.1,687.7L148.6,687.2L151.1,686.7L153.6,686.2L156.1,685.7L158.6,685.2L161.1,684.7L163.6,684.2L166.1,683.6L168.6,683.1L171.1,682.6L173.6,682L176.1,681.5L178.6,681L181.1,680.4L183.6,679.9L186.1,679.4L188.7,678.9L191.2,678.3L193.7,677.8L196.2,677.3L198.7,676.7L201.2,676.2L203.7,675.6L206.2,675L208.7,674.4L211.2,673.9L213.7,673.2L216.2,672.6L218.7,672L221.2,671.3L223.7,670.6L226.2,669.9L228.7,669.2L231.2,668.5L233.7,667.6L236.3,666.8L238.8,665.8L241.3,664.8L243.8,663.8L246.3,662.7L248.8,661.6L251.3,660.4L253.8,659.3L256.3,658.1L258.8,657L261.3,655.8L263.8,654.7L266.3,653.6L268.8,652.5L271.3,651.4L273.8,650.4L276.3,649.4L278.8,648.5L281.3,647.7L283.9,646.9L286.4,646.2L288.9,645.5L291.4,644.9L293.9,644.2L296.4,643.6L298.9,642.9L301.4,642.3L303.9,641.7L306.4,641.1L308.9,640.5L311.4,639.9L313.9,639.4L316.4,638.8L318.9,638.3L321.4,637.8L323.9,637.3L326.4,636.8L328.9,636.4L331.5,635.9L334,635.5L336.5,635.1L339,634.7L341.5,634.4L344,634L346.5,633.7L349,633.5L351.5,633.2L354,633"/>
<path d="M116,693L118.5,692.8L121,692.7L123.5,692.6L126,692.4L128.5,692.3L131,692.1L133.5,691.9L136,691.8L138.5,691.6L141.1,691.3L143.6,691.1L146.1,690.9L148.6,690.7L151.1,690.4L153.6,690.2L156.1,689.9L158.6,689.6L161.1,689.3L163.6,689L166.1,688.7L168.6,688.4L171.1,688L173.6,687.7L176.1,687.3L178.6,686.9L181.1,686.6L183.6,686.2L186.1,685.8L188.7,685.3L191.2,684.9L193.7,684.4L196.2,684L198.7,683.5L201.2,683L203.7,682.5L206.2,682L208.7,681.5L211.2,680.9L213.7,680.4L216.2,679.8L218.7,679.2L221.2,678.6L223.7,678L226.2,677.4L228.7,676.8L231.2,676.1L233.7,675.4L236.3,674.8L238.8,674.1L241.3,673.4L243.8,672.6L246.3,671.9L248.8,671.1L251.3,670.4L253.8,669.6L256.3,668.8L258.8,668L261.3,667.1L263.8,666.3L266.3,665.4L268.8,664.6L271.3,663.7L273.8,662.8L276.3,661.9L278.8,661L281.3,660.1L283.9,659.2L286.4,658.3L288.9,657.4L291.4,656.4L293.9,655.5L296.4,654.5L298.9,653.6L301.4,652.6L303.9,651.7L306.4,650.7L308.9,649.8L311.4,648.8L313.9,647.8L316.4,646.9L318.9,645.9L321.4,645L323.9,644L326.4,643.1L328.9,642.1L331.5,641.2L334,640.2L336.5,639.3L339,638.4L341.5,637.5L344,636.5L346.5,635.6L349,634.7L351.5,633.9L354,633"/>
<path d="M116,700.9L118.5,701.1L121,701.3L123.5,701.5L126,701.7L128.5,701.9L131,702.1L133.5,702.3L136,702.5L138.5,702.7L141.1,703L143.6,703.2L146.1,703.4L148.6,703.7L151.1,703.9L153.6,704.2L156.1,704.4L158.6,704.7L161.1,705L163.6,705.2L166.1,705.5L168.6,705.8L171.1,706.1L173.6,706.4L176.1,706.7L178.6,707L181.1,707.3L183.6,707.7L186.1,708L188.7,708.4L191.2,708.7L193.7,709.1L196.2,709.5L198.7,709.9L201.2,710.3L203.7,710.7L206.2,711.1L208.7,711.4L211.2,711.8L213.7,712.2L216.2,712.6L218.7,713L221.2,713.4L223.7,713.8L226.2,714.2L228.7,714.6L231.2,714.9L233.7,715.3L236.3,715.6L238.8,716L241.3,716.3L243.8,716.6L246.3,716.9L248.8,717.2L251.3,717.5L253.8,717.8L256.3,718.1L258.8,718.4L261.3,718.7L263.8,719L266.3,719.3L268.8,719.6L271.3,719.8L273.8,720.1L276.3,720.4L278.8,720.7L281.3,721L283.9,721.2L286.4,721.5L288.9,721.8L291.4,722L293.9,722.3L296.4,722.5L298.9,722.8L301.4,723L303.9,723.2L306.4,723.5L308.9,723.7L311.4,723.9L313.9,724.2L316.4,724.4L318.9,724.6L321.4,724.8L323.9,725L326.4,725.2L328.9,725.3L331.5,725.5L334,725.7L336.5,725.9L339,726L341.5,726.2L344,726.3L346.5,726.4L349,726.6L351.5,726.7L354,726.8"/>
<path d="M354,632.6L356.5,633L359,633.4L361.5,633.8L364.1,634.2L366.6,634.6L369.1,635L371.6,635.3L374.1,635.7L376.6,636L379.1,636.3L381.7,636.6L384.2,636.9L386.7,637.2L389.2,637.5L391.7,637.7L394.2,638L396.8,638.2L399.3,638.5L401.8,638.7L404.3,639L406.8,639.2L409.3,639.5L411.8,639.7L414.4,639.9L416.9,640.1L419.4,640.4L421.9,640.6L424.4,640.8L426.9,641.1L429.4,641.3L432,641.5L434.5,641.8L437,642L439.5,642.3L442,642.5L444.5,642.8L447.1,643.1L449.6,643.3L452.1,643.6L454.6,643.9L457.1,644.2L459.6,644.5L462.1,644.8L464.7,645.2L467.2,645.5L469.7,645.9L472.2,646.3L474.7,646.7L477.2,647.1L479.7,647.5L482.3,647.9L484.8,648.4L487.3,648.8L489.8,649.3L492.3,649.8L494.8,650.4L497.4,650.9L499.9,651.5L502.4,652.1L504.9,652.7L507.4,653.3L509.9,654L512.4,654.7L515,655.4L517.5,656.1L520,656.9L522.5,657.6L525,658.5L527.5,659.3L530,660.2L532.6,661.1L535.1,662L537.6,662.9L540.1,663.8L542.6,664.8L545.1,665.8L547.6,666.8L550.2,667.8L552.7,668.8L555.2,669.8L557.7,670.9L560.2,671.9L562.7,672.9L565.3,674L567.8,675L570.3,676.1L572.8,677.1L575.3,678.1L577.8,679.2L580.3,680.2L582.9,681.2L585.4,682.2L587.9,683.2L590.4,684.1L592.9,685.1L595.4,686L597.9,686.9L600.5,687.8L603,688.7L605.5,689.5L608,690.3L610.5,691.1L613,691.8L615.6,692.6L618.1,693.3L620.6,693.9L623.1,694.6L625.6,695.2L628.1,695.8L630.6,696.4L633.2,696.9L635.7,697.5L638.2,698L640.7,698.5L643.2,698.9L645.7,699.4L648.2,699.9L650.8,700.3L653.3,700.7L655.8,701.1L658.3,701.5L660.8,701.9L663.3,702.3L665.9,702.6L668.4,703L670.9,703.3L673.4,703.7L675.9,704L678.4,704.3L680.9,704.7L683.5,705L686,705.3L688.5,705.7L691,706"/>
<path d="M354,726.8L356.5,726.7L359,726.6L361.5,726.5L364.1,726.4L366.6,726.3L369.1,726.2L371.6,726.1L374.1,725.9L376.6,725.8L379.1,725.7L381.7,725.5L384.2,725.3L386.7,725.2L389.2,725L391.7,724.8L394.2,724.6L396.8,724.4L399.3,724.2L401.8,724L404.3,723.8L406.8,723.6L409.3,723.3L411.8,723.1L414.4,722.8L416.9,722.6L419.4,722.3L421.9,722L424.4,721.7L426.9,721.4L429.4,721.1L432,720.8L434.5,720.5L437,720.2L439.5,719.9L442,719.5L444.5,719.2L447.1,718.8L449.6,718.4L452.1,718.1L454.6,717.7L457.1,717.3L459.6,716.9L462.1,716.5L464.7,716L467.2,715.6L469.7,715.2L472.2,714.7L474.7,714.3L477.2,713.8L479.7,713.3L482.3,712.8L484.8,712.3L487.3,711.8L489.8,711.3L492.3,710.8L494.8,710.3L497.4,709.7L499.9,709.2L502.4,708.6L504.9,708.1L507.4,707.5L509.9,706.9L512.4,706.3L515,705.7L517.5,705.1L520,704.4L522.5,703.8L525,703.2L527.5,702.5L530,701.8L532.6,701.2L535.1,700.5L537.6,699.8L540.1,699.1L542.6,698.4L545.1,697.6L547.6,696.9L550.2,696.2L552.7,695.4L555.2,694.6L557.7,693.9L560.2,693.1L562.7,692.3L565.3,691.5L567.8,690.7L570.3,689.8L572.8,689L575.3,688.2L577.8,687.3L580.3,686.5L582.9,685.6L585.4,684.7L587.9,683.8L590.4,682.9L592.9,682L595.4,681.1L597.9,680.2L600.5,679.2L603,678.3L605.5,677.3L608,676.3L610.5,675.4L613,674.4L615.6,673.4L618.1,672.3L620.6,671.3L623.1,670.3L625.6,669.2L628.1,668.1L630.6,667L633.2,665.9L635.7,664.8L638.2,663.6L640.7,662.4L643.2,661.2L645.7,660L648.2,658.7L650.8,657.4L653.3,656.1L655.8,654.8L658.3,653.4L660.8,652L663.3,650.6L665.9,649.1L668.4,647.6L670.9,646.1L673.4,644.5L675.9,642.9L678.4,641.3L680.9,639.6L683.5,637.9L686,636.2L688.5,634.4L691,632.5"/>
<path d="M354,704.9L356.5,705L359,705L361.5,705L364.1,705L366.6,705L369.1,705L371.6,705L374.1,704.9L376.6,704.8L379.1,704.8L381.7,704.7L384.2,704.6L386.7,704.5L389.2,704.3L391.7,704.2L394.2,704L396.8,703.9L399.3,703.7L401.8,703.5L404.3,703.3L406.8,703.1L409.3,702.8L411.8,702.6L414.4,702.4L416.9,702.1L419.4,701.8L421.9,701.5L424.4,701.2L426.9,700.9L429.4,700.6L432,700.3L434.5,699.9L437,699.6L439.5,699.2L442,698.8L444.5,698.5L447.1,698.1L449.6,697.7L452.1,697.2L454.6,696.8L457.1,696.4L459.6,695.9L462.1,695.5L464.7,695L467.2,694.6L469.7,694.1L472.2,693.6L474.7,693.1L477.2,692.6L479.7,692.1L482.3,691.5L484.8,691L487.3,690.4L489.8,689.9L492.3,689.3L494.8,688.8L497.4,688.2L499.9,687.6L502.4,687L504.9,686.4L507.4,685.8L509.9,685.2L512.4,684.6L515,683.9L517.5,683.3L520,682.6L522.5,682L525,681.3L527.5,680.7L530,680L532.6,679.3L535.1,678.6L537.6,677.9L540.1,677.2L542.6,676.5L545.1,675.8L547.6,675.1L550.2,674.4L552.7,673.7L555.2,673L557.7,672.2L560.2,671.5L562.7,670.8L565.3,670L567.8,669.3L570.3,668.5L572.8,667.8L575.3,667L577.8,666.3L580.3,665.5L582.9,664.7L585.4,664L587.9,663.2L590.4,662.4L592.9,661.7L595.4,660.9L597.9,660.1L600.5,659.3L603,658.6L605.5,657.8L608,657L610.5,656.2L613,655.5L615.6,654.7L618.1,653.9L620.6,653.1L623.1,652.4L625.6,651.6L628.1,650.8L630.6,650L633.2,649.3L635.7,648.5L638.2,647.7L640.7,647L643.2,646.2L645.7,645.5L648.2,644.7L650.8,644L653.3,643.2L655.8,642.5L658.3,641.7L660.8,641L663.3,640.2L665.9,639.5L668.4,638.8L670.9,638.1L673.4,637.3L675.9,636.6L678.4,635.9L680.9,635.2L683.5,634.5L686,633.8L688.5,633.1L691,632.5"/>
<path d="M354,705L356.5,704.4L359,703.8L361.5,703.2L364.1,702.6L366.6,701.9L369.1,701.3L371.6,700.7L374.1,700.1L376.6,699.4L379.1,698.8L381.7,698.2L384.2,697.5L386.7,696.9L389.2,696.3L391.7,695.6L394.2,695L396.8,694.4L399.3,693.7L401.8,693.1L404.3,692.4L406.8,691.8L409.3,691.2L411.8,690.5L414.4,689.9L416.9,689.2L419.4,688.6L421.9,687.9L424.4,687.3L426.9,686.6L429.4,686L432,685.3L434.5,684.7L437,684L439.5,683.4L442,682.8L444.5,682.1L447.1,681.5L449.6,680.8L452.1,680.2L454.6,679.5L457.1,678.9L459.6,678.2L462.1,677.6L464.7,676.9L467.2,676.3L469.7,675.7L472.2,675L474.7,674.4L477.2,673.7L479.7,673.1L482.3,672.5L484.8,671.8L487.3,671.2L489.8,670.6L492.3,670L494.8,669.3L497.4,668.7L499.9,668.1L502.4,667.5L504.9,666.8L507.4,666.2L509.9,665.6L512.4,665L515,664.4L517.5,663.8L520,663.2L522.5,662.6L525,662L527.5,661.4L530,660.8L532.6,660.2L535.1,659.6L537.6,659L540.1,658.5L542.6,657.9L545.1,657.3L547.6,656.7L550.2,656.2L552.7,655.6L555.2,655.1L557.7,654.5L560.2,653.9L562.7,653.4L565.3,652.9L567.8,652.3L570.3,651.8L572.8,651.2L575.3,650.7L577.8,650.2L580.3,649.7L582.9,649.2L585.4,648.7L587.9,648.2L590.4,647.7L592.9,647.2L595.4,646.7L597.9,646.2L600.5,645.7L603,645.2L605.5,644.8L608,644.3L610.5,643.8L613,643.4L615.6,642.9L618.1,642.5L620.6,642.1L623.1,641.6L625.6,641.2L628.1,640.8L630.6,640.4L633.2,640L635.7,639.6L638.2,639.2L640.7,638.8L643.2,638.4L645.7,638L648.2,637.7L650.8,637.3L653.3,637L655.8,636.6L658.3,636.3L660.8,635.9L663.3,635.6L665.9,635.3L668.4,635L670.9,634.7L673.4,634.4L675.9,634.1L678.4,633.8L680.9,633.5L683.5,633.3L686,633L688.5,632.7L691,632.5"/>
<path d="M354,705L356.5,705L359,705L361.5,705.1L364.1,705.1L366.6,705.1L369.1,705.2L371.6,705.2L374.1,705.3L376.6,705.3L379.1,705.4L381.7,705.5L384.2,705.5L386.7,705.6L389.2,705.7L391.7,705.7L394.2,705.8L396.8,705.9L399.3,706L401.8,706L404.3,706.1L406.8,706.2L409.3,706.3L411.8,706.4L414.4,706.5L416.9,706.6L419.4,706.7L421.9,706.8L424.4,706.9L426.9,707L429.4,707.1L432,707.2L434.5,707.3L437,707.4L439.5,707.5L442,707.6L444.5,707.8L447.1,707.9L449.6,708L452.1,708.1L454.6,708.2L457.1,708.4L459.6,708.5L462.1,708.6L464.7,708.8L467.2,709L469.7,709.1L472.2,709.3L474.7,709.5L477.2,709.7L479.7,709.8L482.3,710L484.8,710.2L487.3,710.4L489.8,710.6L492.3,710.9L494.8,711.1L497.4,711.3L499.9,711.5L502.4,711.7L504.9,711.9L507.4,712.2L509.9,712.4L512.4,712.6L515,712.8L517.5,713L520,713.3L522.5,713.5L525,713.7L527.5,713.9L530,714.2L532.6,714.4L535.1,714.6L537.6,714.8L540.1,715L542.6,715.2L545.1,715.4L547.6,715.6L550.2,715.9L552.7,716.1L555.2,716.3L557.7,716.5L560.2,716.7L562.7,717L565.3,717.2L567.8,717.4L570.3,717.7L572.8,717.9L575.3,718.1L577.8,718.3L580.3,718.6L582.9,718.8L585.4,719L587.9,719.3L590.4,719.5L592.9,719.7L595.4,719.9L597.9,720.2L600.5,720.4L603,720.6L605.5,720.8L608,721L610.5,721.2L613,721.4L615.6,721.6L618.1,721.8L620.6,722L623.1,722.2L625.6,722.4L628.1,722.6L630.6,722.8L633.2,723L635.7,723.2L638.2,723.4L640.7,723.6L643.2,723.8L645.7,723.9L648.2,724.1L650.8,724.3L653.3,724.5L655.8,724.7L658.3,724.8L660.8,725L663.3,725.2L665.9,725.4L668.4,725.5L670.9,725.7L673.4,725.9L675.9,726L678.4,726.2L680.9,726.4L683.5,726.5L686,726.7L688.5,726.8L691,727"/>
<path d="M116,700.9L118.5,701.3L121,701.9L123.5,702.7L126.1,703.7L128.6,704.8L131.1,706L133.6,707.4L136.1,708.9L138.6,710.6L141.1,712.3L143.7,714.2L146.2,716.2L148.7,718.3L151.2,720.5L153.7,722.8L156.2,725.2L158.7,727.6L161.3,730.1L163.8,732.7L166.3,735.3L168.8,738L171.3,740.8L173.8,743.5L176.3,746.4L178.9,749.2L181.4,752.1L183.9,755L186.4,757.9L188.9,760.8L191.4,763.7L193.9,766.7L196.5,769.7L199,772.7L201.5,775.7L204,778.7L206.5,781.7L209,784.7L211.5,787.7L214.1,790.7L216.6,793.8L219.1,796.8L221.6,799.8L224.1,802.7L226.6,805.7L229.1,808.7L231.7,811.6L234.2,814.5L236.7,817.4L239.2,820.3L241.7,823.2L244.2,826L246.7,828.8L249.2,831.6L251.8,834.3L254.3,837.1L256.8,839.8L259.3,842.4L261.8,845.1L264.3,847.7L266.8,850.3L269.4,852.8L271.9,855.3L274.4,857.8L276.9,860.2L279.4,862.6L281.9,865L284.4,867.3L287,869.6L289.5,871.9L292,874.1L294.5,876.2L297,878.4L299.5,880.4L302,882.5L304.6,884.5L307.1,886.4L309.6,888.3L312.1,890.2L314.6,892L317.1,893.7L319.6,895.4L322.2,897.1L324.7,898.7L327.2,900.2L329.7,901.7L332.2,903.1L334.7,904.5L337.2,905.8L339.8,907.1L342.3,908.3L344.8,909.5L347.3,910.5"/>
<path d="M362,910.5L364.5,909.6L367,908.5L369.6,907.4L372.1,906.1L374.6,904.8L377.1,903.4L379.6,901.9L382.1,900.4L384.7,898.7L387.2,897L389.7,895.3L392.2,893.4L394.7,891.5L397.2,889.6L399.8,887.5L402.3,885.5L404.8,883.3L407.3,881.1L409.8,878.9L412.4,876.6L414.9,874.3L417.4,871.9L419.9,869.5L422.4,867L424.9,864.6L427.5,862L430,859.5L432.5,856.9L435,854.3L437.5,851.6L440,849L442.6,846.3L445.1,843.6L447.6,840.9L450.1,838.1L452.6,835.4L455.2,832.6L457.7,829.8L460.2,827L462.7,824.2L465.2,821.4L467.7,818.5L470.3,815.7L472.8,812.8L475.3,809.9L477.8,807L480.3,804.1L482.8,801.2L485.4,798.3L487.9,795.4L490.4,792.4L492.9,789.5L495.4,786.5L498,783.6L500.5,780.6L503,777.7L505.5,774.7L508,771.7L510.5,768.7L513.1,765.8L515.6,762.8L518.1,759.8L520.6,756.8L523.1,753.9L525.6,750.9L528.2,747.9L530.7,744.9L533.2,742L535.7,739L538.2,736L540.8,733.1L543.3,730.1L545.8,727.2L548.3,724.3L550.8,721.4L553.3,718.4L555.9,715.5L558.4,712.6L560.9,709.8L563.4,706.9L565.9,704L568.5,701.2L571,698.4L573.5,695.6L576,692.8L578.5,690L581,687.3L583.6,684.6L586.1,681.9L588.6,679.2L591.1,676.5L593.6,673.9L596.1,671.3L598.7,668.7L601.2,666.2L603.7,663.7L606.2,661.2L608.7,658.7L611.3,656.3L613.8,653.9L616.3,651.6L618.8,649.3L621.3,647L623.8,644.7L626.4,642.5L628.9,640.4L631.4,638.2L633.9,636.2L636.4,634.1L638.9,632.1L641.5,630.2L644,628.3L646.5,626.4L649,624.6L651.5,622.9L654.1,621.1L656.6,619.5L659.1,617.9L661.6,616.3L664.1,614.8L666.6,613.4L669.2,612L671.7,610.7L674.2,609.4L676.7,608.2L679.2,607L681.7,605.9L684.3,604.9L686.8,603.9L689.3,603"/>
<path d="M354,632.5L356.5,633.4L359,634.5L361.5,635.5L364,636.7L366.5,637.8L369,639.1L371.5,640.4L374,641.7L376.5,643L379,644.4L381.5,645.8L384,647.3L386.5,648.7L389,650.2L391.5,651.7L394,653.2L396.5,654.7L399,656.2L401.5,657.7L404,659.2L406.5,660.7L409.1,662.2L411.6,663.6L414.1,665.1L416.6,666.5L419.1,667.8L421.6,669.1L424.1,670.4L426.6,671.7L429.1,672.9L431.6,674.2L434.1,675.4L436.6,676.6L439.1,677.9L441.6,679.2L444.1,680.4L446.6,681.8L449.1,683.1L451.6,684.5L454.1,686L456.6,687.5L459.1,689.1L461.6,690.7L464.1,692.5L466.6,694.3L469.1,696.3L471.6,698.3L474.1,700.4L476.6,702.7L479.1,705L481.6,707.4L484.1,709.9L486.6,712.5L489.1,715.1L491.6,717.8L494.1,720.6L496.6,723.4L499.1,726.3L501.6,729.2L504.1,732.2L506.6,735.2L509.1,738.3L511.6,741.4L514.1,744.5L516.6,747.6L519.1,750.8L521.7,754L524.2,757.1L526.7,760.3L529.2,763.5L531.7,766.7L534.2,769.8L536.7,773L539.2,776.2L541.7,779.4L544.2,782.5L546.7,785.7L549.2,788.8L551.7,791.9L554.2,795L556.7,798.1L559.2,801.1L561.7,804.2L564.2,807.2L566.7,810.2L569.2,813.1L571.7,816.1L574.2,819.1L576.7,822L579.2,825L581.7,827.9L584.2,830.9L586.7,833.9L589.2,836.8L591.7,839.8L594.2,842.8L596.7,845.7L599.2,848.7L601.7,851.6L604.2,854.5L606.7,857.4L609.2,860.2L611.7,863L614.2,865.8L616.7,868.4L619.2,871.1L621.7,873.6L624.2,876.1L626.7,878.5L629.2,880.8L631.8,883L634.3,885.2L636.8,887.2L639.3,889.1L641.8,891L644.3,892.8L646.8,894.5L649.3,896.1L651.8,897.7L654.3,899.1L656.8,900.6L659.3,901.9L661.8,903.2L664.3,904.4L666.8,905.5L669.3,906.6L671.8,907.6L674.3,908.6L676.8,909.5L679.3,910.3L681.8,911.1L684.3,911.9"/>
</g></g>
<g clip-path="url(#clipb)"><g filter="url(#cmb)">
<rect x="702" y="-20" width="636" height="960" fill="rgb(128,128,128)"/>
<path d="M732,480.7L736,479.5L740,478.3L744,477.1L748,475.9L752,474.7L756,473.6L760,472.5L764,471.4L768,470.3L772,469.2L776,468.2L780,467.1L784,466.1L788,465.1L792,464.1L796,463.2L800,462.2L804,461.3L808,460.4L812,459.5L816,458.6L820,457.8L824,456.9L828,456.1L832,455.3L836,454.5L840,453.8L844,453L848,452.3L852,451.6L856,450.9L860,450.3L864,449.6L868,449L872,448.4L876,447.8L880,447.3L884,446.7L888,446.2L892,445.7L896,445.3L900,444.8L904,444.4L908,444L912,443.6L916,443.2L920,442.9L924,442.6L928,442.3L932,442L936,441.7L940,441.5L944,441.3L948,441.1L952,441L956,440.8L960,440.7L964,440.7L968,440.6L972,440.6L976,440.5L980,440.6L984,440.6L988,440.7L992,440.7L996,440.9L1000,441L1004,441.2L1008,441.3L1012,441.6L1016,441.8L1020,442.1L1024,442.4L1028,442.7L1032,443L1036,443.4L1040,443.8L1044,444.2L1048,444.7L1052,445.2L1056,445.7L1060,446.2L1064,446.7L1068,447.3L1072,447.9L1076,448.5L1080,449.2L1084,449.8L1088,450.5L1092,451.2L1096,451.9L1100,452.6L1104,453.3L1108,454.1L1112,454.9L1116,455.6L1120,456.4L1124,457.2L1128,458L1132,458.8L1136,459.7L1140,460.5L1144,461.3L1148,462.2L1152,463L1156,463.8L1160,464.7L1164,465.5L1168,466.4L1172,467.2L1176,468.1L1180,468.9L1184,469.8L1188,470.6L1192,471.4L1196,472.3L1200,473.1L1204,473.9L1208,474.7L1212,475.5L1216,476.3L1220,477.1L1224,477.8L1228,478.6L1232,479.3L1236,480L1240,480.7L1244,481.4L1248,482.1L1252,482.7L1256,483.4L1260,484L1264,484.6L1268,485.2L1272,485.7L1276,486.2L1280,486.7L1284,487.2L1288,487.7L1292,488.1L1296,488.5L1300,488.9L1304,489.2L1308,489.5L1308,506.5L1304,506.2L1300,505.9L1296,505.5L1292,505.1L1288,504.7L1284,504.2L1280,503.7L1276,503.2L1272,502.7L1268,502.2L1264,501.6L1260,501L1256,500.4L1252,499.7L1248,499.1L1244,498.4L1240,497.7L1236,497L1232,496.3L1228,495.6L1224,494.8L1220,494.1L1216,493.3L1212,492.5L1208,491.7L1204,490.9L1200,490.1L1196,489.3L1192,488.4L1188,487.6L1184,486.8L1180,485.9L1176,485.1L1172,484.2L1168,483.4L1164,482.5L1160,481.7L1156,480.8L1152,480L1148,479.2L1144,478.3L1140,477.5L1136,476.7L1132,475.8L1128,475L1124,474.2L1120,473.4L1116,472.6L1112,471.9L1108,471.1L1104,470.3L1100,469.6L1096,468.9L1092,468.2L1088,467.5L1084,466.8L1080,466.2L1076,465.5L1072,464.9L1068,464.3L1064,463.7L1060,463.2L1056,462.7L1052,462.2L1048,461.7L1044,461.2L1040,460.8L1036,460.4L1032,460L1028,459.7L1024,459.4L1020,459.1L1016,458.8L1012,458.6L1008,458.3L1004,458.2L1000,458L996,457.9L992,457.7L988,457.7L984,457.6L980,457.6L976,457.5L972,457.6L968,457.6L964,457.7L960,457.7L956,457.8L952,458L948,458.1L944,458.3L940,458.5L936,458.7L932,459L928,459.3L924,459.6L920,459.9L916,460.2L912,460.6L908,461L904,461.4L900,461.8L896,462.3L892,462.7L888,463.2L884,463.7L880,464.3L876,464.8L872,465.4L868,466L864,466.6L860,467.3L856,467.9L852,468.6L848,469.3L844,470L840,470.8L836,471.5L832,472.3L828,473.1L824,473.9L820,474.8L816,475.6L812,476.5L808,477.4L804,478.3L800,479.2L796,480.2L792,481.1L788,482.1L784,483.1L780,484.1L776,485.2L772,486.2L768,487.3L764,488.4L760,489.5L756,490.6L752,491.7L748,492.9L744,494.1L740,495.3L736,496.5L732,497.7Z" fill="#fff" fill-opacity="0.3"/>
<path d="M970,489.5L974,489.2L978,488.9L982.1,488.5L986.1,488.2L990.1,487.8L994.1,487.3L998.2,486.9L1002.2,486.4L1006.2,485.9L1010.2,485.4L1014.3,484.8L1018.3,484.3L1022.3,483.7L1026.3,483.1L1030.4,482.4L1034.4,481.8L1038.4,481.1L1042.4,480.4L1046.5,479.7L1050.5,479L1054.5,478.3L1058.5,477.5L1062.5,476.8L1066.6,476L1070.6,475.2L1074.6,474.4L1078.6,473.6L1082.7,472.8L1086.7,472L1090.7,471.1L1094.7,470.3L1098.8,469.5L1102.8,468.6L1106.8,467.8L1110.8,466.9L1114.9,466.1L1118.9,465.2L1122.9,464.4L1126.9,463.5L1131,462.7L1135,461.8L1139,461L1143,460.1L1147,459.3L1151.1,458.5L1155.1,457.7L1159.1,456.8L1163.1,456L1167.2,455.2L1171.2,454.4L1175.2,453.7L1179.2,452.9L1183.3,452.1L1187.3,451.4L1191.3,450.7L1195.3,450L1199.4,449.3L1203.4,448.6L1207.4,447.9L1211.4,447.3L1215.5,446.7L1219.5,446.1L1223.5,445.5L1227.5,445L1231.5,444.4L1235.6,443.9L1239.6,443.4L1243.6,443L1247.6,442.5L1251.7,442.1L1255.7,441.8L1259.7,441.4L1263.7,441.1L1267.8,440.8L1271.8,440.5L1275.8,440.3L1279.8,440.1L1283.9,440L1287.9,439.9L1291.9,439.8L1295.9,439.7L1300,439.7L1304,439.7L1308,439.8L1308,456.8L1304,456.7L1300,456.7L1295.9,456.7L1291.9,456.8L1287.9,456.9L1283.9,457L1279.8,457.1L1275.8,457.3L1271.8,457.5L1267.8,457.8L1263.7,458.1L1259.7,458.4L1255.7,458.8L1251.7,459.1L1247.6,459.5L1243.6,460L1239.6,460.4L1235.6,460.9L1231.5,461.4L1227.5,462L1223.5,462.5L1219.5,463.1L1215.5,463.7L1211.4,464.3L1207.4,464.9L1203.4,465.6L1199.4,466.3L1195.3,467L1191.3,467.7L1187.3,468.4L1183.3,469.1L1179.2,469.9L1175.2,470.7L1171.2,471.4L1167.2,472.2L1163.1,473L1159.1,473.8L1155.1,474.7L1151.1,475.5L1147,476.3L1143,477.1L1139,478L1135,478.8L1131,479.7L1126.9,480.5L1122.9,481.4L1118.9,482.2L1114.9,483.1L1110.8,483.9L1106.8,484.8L1102.8,485.6L1098.8,486.5L1094.7,487.3L1090.7,488.1L1086.7,489L1082.7,489.8L1078.6,490.6L1074.6,491.4L1070.6,492.2L1066.6,493L1062.5,493.8L1058.5,494.5L1054.5,495.3L1050.5,496L1046.5,496.7L1042.4,497.4L1038.4,498.1L1034.4,498.8L1030.4,499.4L1026.3,500.1L1022.3,500.7L1018.3,501.3L1014.3,501.8L1010.2,502.4L1006.2,502.9L1002.2,503.4L998.2,503.9L994.1,504.3L990.1,504.8L986.1,505.2L982.1,505.5L978,505.9L974,506.2L970,506.5Z" fill="#fff" fill-opacity="0.3"/>
<path d="M732,478.9L736,479.2L740,479.5L744,479.7L748,480L752,480.1L756,480.3L760,480.5L764,480.6L768,480.7L772,480.8L776,480.9L780,481L784,481L788,481L792,481L796,481L800,481L804,481L808,480.9L812,480.8L816,480.8L820,480.7L824,480.6L828,480.5L832,480.3L836,480.2L840,480.1L844,479.9L848,479.7L852,479.6L856,479.4L860,479.2L864,479L868,478.8L872,478.6L876,478.4L880,478.2L884,478L888,477.8L892,477.6L896,477.4L900,477.1L904,476.9L908,476.7L912,476.5L916,476.3L920,476.1L924,475.9L928,475.6L932,475.4L936,475.2L940,475L944,474.8L948,474.7L952,474.5L956,474.3L960,474.1L964,474L968,473.8L972,473.7L976,473.6L980,473.5L984,473.3L988,473.3L992,473.2L996,473.1L1000,473L1004,473L1008,473L1012,472.9L1016,472.9L1020,473L1024,473L1028,473L1032,473.1L1036,473.2L1040,473.3L1044,473.4L1048,473.5L1052,473.7L1056,473.8L1060,474L1064,474.2L1068,474.3L1072,474.5L1076,474.7L1080,474.9L1084,475.1L1088,475.3L1092,475.5L1096,475.7L1100,475.8L1104,476L1108,476.2L1112,476.4L1116,476.5L1120,476.7L1124,476.8L1128,476.9L1132,477L1136,477.1L1140,477.2L1144,477.3L1148,477.3L1152,477.3L1156,477.3L1160,477.3L1164,477.3L1168,477.2L1172,477.1L1176,476.9L1180,476.8L1184,476.6L1188,476.4L1192,476.1L1196,475.9L1200,475.6L1204,475.3L1208,475L1212,474.8L1216,474.5L1220,474.2L1224,474L1228,473.7L1232,473.5L1236,473.3L1240,473.2L1244,473L1248,472.9L1252,472.9L1256,472.9L1260,472.8L1264,472.9L1268,472.9L1272,472.9L1276,473L1280,473.1L1284,473.1L1288,473.2L1292,473.3L1296,473.3L1300,473.4L1304,473.4L1308,473.4L1308,493.8L1304,493.8L1300,493.8L1296,493.7L1292,493.7L1288,493.6L1284,493.5L1280,493.5L1276,493.4L1272,493.3L1268,493.3L1264,493.3L1260,493.2L1256,493.3L1252,493.3L1248,493.3L1244,493.4L1240,493.6L1236,493.7L1232,493.9L1228,494.1L1224,494.4L1220,494.6L1216,494.9L1212,495.2L1208,495.4L1204,495.7L1200,496L1196,496.3L1192,496.5L1188,496.8L1184,497L1180,497.2L1176,497.3L1172,497.5L1168,497.6L1164,497.7L1160,497.7L1156,497.7L1152,497.7L1148,497.7L1144,497.7L1140,497.6L1136,497.5L1132,497.4L1128,497.3L1124,497.2L1120,497.1L1116,496.9L1112,496.8L1108,496.6L1104,496.4L1100,496.2L1096,496.1L1092,495.9L1088,495.7L1084,495.5L1080,495.3L1076,495.1L1072,494.9L1068,494.7L1064,494.6L1060,494.4L1056,494.2L1052,494.1L1048,493.9L1044,493.8L1040,493.7L1036,493.6L1032,493.5L1028,493.4L1024,493.4L1020,493.4L1016,493.3L1012,493.3L1008,493.4L1004,493.4L1000,493.4L996,493.5L992,493.6L988,493.7L984,493.7L980,493.9L976,494L972,494.1L968,494.2L964,494.4L960,494.5L956,494.7L952,494.9L948,495.1L944,495.2L940,495.4L936,495.6L932,495.8L928,496L924,496.3L920,496.5L916,496.7L912,496.9L908,497.1L904,497.3L900,497.5L896,497.8L892,498L888,498.2L884,498.4L880,498.6L876,498.8L872,499L868,499.2L864,499.4L860,499.6L856,499.8L852,500L848,500.1L844,500.3L840,500.5L836,500.6L832,500.7L828,500.9L824,501L820,501.1L816,501.2L812,501.2L808,501.3L804,501.4L800,501.4L796,501.4L792,501.4L788,501.4L784,501.4L780,501.4L776,501.3L772,501.2L768,501.1L764,501L760,500.9L756,500.7L752,500.5L748,500.4L744,500.1L740,499.9L736,499.6L732,499.3Z" fill="#fff" fill-opacity="0.85"/>
<path d="M732,481.8L736,482.2L740,482.5L744,482.8L748,483.2L752,483.5L756,483.8L760,484.1L764,484.4L768,484.7L772,485L776,485.3L780,485.6L784,485.9L788,486.2L792,486.4L796,486.7L800,487L804,487.2L808,487.5L812,487.7L816,487.9L820,488.2L824,488.4L828,488.6L832,488.8L836,489.1L840,489.3L844,489.5L848,489.7L852,489.9L856,490.1L860,490.2L864,490.4L868,490.6L872,490.8L876,490.9L880,491.1L884,491.3L888,491.4L892,491.6L896,491.7L900,491.9L904,492L908,492.1L912,492.3L916,492.4L920,492.5L924,492.6L928,492.7L932,492.9L936,493L940,493.1L944,493.2L948,493.3L952,493.4L956,493.4L960,493.5L964,493.6L968,493.7L972,493.8L976,493.8L980,493.9L984,494L988,494L992,494.1L996,494.2L1000,494.2L1004,494.3L1008,494.3L1012,494.4L1016,494.4L1020,494.5L1024,494.5L1028,494.5L1032,494.6L1036,494.6L1040,494.6L1044,494.6L1048,494.7L1052,494.7L1056,494.7L1060,494.7L1064,494.7L1068,494.8L1072,494.8L1076,494.8L1080,494.8L1084,494.8L1088,494.8L1092,494.8L1096,494.8L1100,494.8L1104,494.8L1108,494.8L1112,494.8L1116,494.8L1120,494.7L1124,494.7L1128,494.7L1132,494.7L1136,494.7L1140,494.7L1144,494.7L1148,494.6L1152,494.6L1156,494.6L1160,494.6L1164,494.5L1168,494.5L1172,494.5L1176,494.5L1180,494.4L1184,494.4L1188,494.4L1192,494.3L1196,494.3L1200,494.3L1204,494.3L1208,494.2L1212,494.2L1216,494.2L1220,494.1L1224,494.1L1228,494.1L1232,494L1236,494L1240,494L1244,493.9L1248,493.9L1252,493.9L1256,493.8L1260,493.8L1264,493.7L1268,493.7L1272,493.7L1276,493.6L1280,493.6L1284,493.6L1288,493.6L1292,493.5L1296,493.5L1300,493.5L1304,493.4L1308,493.4L1308,513.8L1304,513.8L1300,513.9L1296,513.9L1292,513.9L1288,514L1284,514L1280,514L1276,514L1272,514.1L1268,514.1L1264,514.1L1260,514.2L1256,514.2L1252,514.3L1248,514.3L1244,514.3L1240,514.4L1236,514.4L1232,514.4L1228,514.5L1224,514.5L1220,514.5L1216,514.6L1212,514.6L1208,514.6L1204,514.7L1200,514.7L1196,514.7L1192,514.7L1188,514.8L1184,514.8L1180,514.8L1176,514.9L1172,514.9L1168,514.9L1164,514.9L1160,515L1156,515L1152,515L1148,515L1144,515.1L1140,515.1L1136,515.1L1132,515.1L1128,515.1L1124,515.1L1120,515.1L1116,515.2L1112,515.2L1108,515.2L1104,515.2L1100,515.2L1096,515.2L1092,515.2L1088,515.2L1084,515.2L1080,515.2L1076,515.2L1072,515.2L1068,515.2L1064,515.1L1060,515.1L1056,515.1L1052,515.1L1048,515.1L1044,515L1040,515L1036,515L1032,515L1028,514.9L1024,514.9L1020,514.9L1016,514.8L1012,514.8L1008,514.7L1004,514.7L1000,514.6L996,514.6L992,514.5L988,514.4L984,514.4L980,514.3L976,514.2L972,514.2L968,514.1L964,514L960,513.9L956,513.8L952,513.8L948,513.7L944,513.6L940,513.5L936,513.4L932,513.3L928,513.1L924,513L920,512.9L916,512.8L912,512.7L908,512.5L904,512.4L900,512.3L896,512.1L892,512L888,511.8L884,511.7L880,511.5L876,511.3L872,511.2L868,511L864,510.8L860,510.6L856,510.5L852,510.3L848,510.1L844,509.9L840,509.7L836,509.5L832,509.2L828,509L824,508.8L820,508.6L816,508.3L812,508.1L808,507.9L804,507.6L800,507.4L796,507.1L792,506.8L788,506.6L784,506.3L780,506L776,505.7L772,505.4L768,505.1L764,504.8L760,504.5L756,504.2L752,503.9L748,503.6L744,503.2L740,502.9L736,502.6L732,502.2Z" fill="#fff" fill-opacity="0.9"/>
<path d="M732,526.2L736,525.2L740,524.3L744,523.4L748,522.6L752,521.8L756,521L760,520.2L764,519.4L768,518.7L772,518L776,517.3L780,516.7L784,516.1L788,515.4L792,514.9L796,514.3L800,513.8L804,513.2L808,512.7L812,512.3L816,511.8L820,511.4L824,510.9L828,510.5L832,510.1L836,509.8L840,509.4L844,509.1L848,508.8L852,508.5L856,508.2L860,507.9L864,507.7L868,507.4L872,507.2L876,507L880,506.8L884,506.6L888,506.4L892,506.3L896,506.1L900,506L904,505.9L908,505.8L912,505.7L916,505.6L920,505.5L924,505.4L928,505.3L932,505.3L936,505.2L940,505.2L944,505.1L948,505.1L952,505.1L956,505L960,505L964,505L968,505L972,505L976,505L980,505L984,505L988,505L992,505L996,505L1000,505L1004,505.1L1008,505.1L1012,505.1L1016,505.1L1020,505.1L1024,505.1L1028,505.1L1032,505.1L1036,505.1L1040,505.1L1044,505.1L1048,505.1L1052,505.1L1056,505.1L1060,505.1L1064,505.1L1068,505.1L1072,505.1L1076,505.1L1080,505L1084,505L1088,505L1092,505L1096,505L1100,504.9L1104,504.9L1108,504.9L1112,504.9L1116,504.9L1120,504.8L1124,504.8L1128,504.8L1132,504.8L1136,504.7L1140,504.7L1144,504.7L1148,504.7L1152,504.6L1156,504.6L1160,504.6L1164,504.6L1168,504.5L1172,504.5L1176,504.5L1180,504.5L1184,504.4L1188,504.4L1192,504.4L1196,504.4L1200,504.4L1204,504.4L1208,504.3L1212,504.3L1216,504.3L1220,504.3L1224,504.3L1228,504.3L1232,504.3L1236,504.3L1240,504.3L1244,504.3L1248,504.3L1252,504.3L1256,504.3L1260,504.4L1264,504.4L1268,504.4L1272,504.4L1276,504.4L1280,504.5L1284,504.5L1288,504.5L1292,504.6L1296,504.6L1300,504.7L1304,504.7L1308,504.8L1308,525.2L1304,525.1L1300,525.1L1296,525L1292,525L1288,524.9L1284,524.9L1280,524.9L1276,524.8L1272,524.8L1268,524.8L1264,524.8L1260,524.8L1256,524.7L1252,524.7L1248,524.7L1244,524.7L1240,524.7L1236,524.7L1232,524.7L1228,524.7L1224,524.7L1220,524.7L1216,524.7L1212,524.7L1208,524.7L1204,524.8L1200,524.8L1196,524.8L1192,524.8L1188,524.8L1184,524.8L1180,524.9L1176,524.9L1172,524.9L1168,524.9L1164,525L1160,525L1156,525L1152,525L1148,525.1L1144,525.1L1140,525.1L1136,525.1L1132,525.2L1128,525.2L1124,525.2L1120,525.2L1116,525.3L1112,525.3L1108,525.3L1104,525.3L1100,525.3L1096,525.4L1092,525.4L1088,525.4L1084,525.4L1080,525.4L1076,525.5L1072,525.5L1068,525.5L1064,525.5L1060,525.5L1056,525.5L1052,525.5L1048,525.5L1044,525.5L1040,525.5L1036,525.5L1032,525.5L1028,525.5L1024,525.5L1020,525.5L1016,525.5L1012,525.5L1008,525.5L1004,525.5L1000,525.4L996,525.4L992,525.4L988,525.4L984,525.4L980,525.4L976,525.4L972,525.4L968,525.4L964,525.4L960,525.4L956,525.4L952,525.5L948,525.5L944,525.5L940,525.6L936,525.6L932,525.7L928,525.7L924,525.8L920,525.9L916,526L912,526.1L908,526.2L904,526.3L900,526.4L896,526.5L892,526.7L888,526.8L884,527L880,527.2L876,527.4L872,527.6L868,527.8L864,528.1L860,528.3L856,528.6L852,528.9L848,529.2L844,529.5L840,529.8L836,530.2L832,530.5L828,530.9L824,531.3L820,531.8L816,532.2L812,532.7L808,533.1L804,533.6L800,534.2L796,534.7L792,535.3L788,535.8L784,536.5L780,537.1L776,537.7L772,538.4L768,539.1L764,539.8L760,540.6L756,541.4L752,542.2L748,543L744,543.8L740,544.7L736,545.6L732,546.6Z" fill="#fff" fill-opacity="0.85"/>
<path d="M732,511.5L736,510.9L740.1,510.4L744.1,509.9L748.1,509.3L752.2,508.8L756.2,508.3L760.2,507.8L764.3,507.3L768.3,506.8L772.3,506.4L776.4,505.9L780.4,505.5L784.4,505L788.5,504.6L792.5,504.2L796.5,503.8L800.6,503.4L804.6,503.1L808.6,502.7L812.7,502.3L816.7,502L820.7,501.6L824.8,501.3L828.8,500.9L832.8,500.6L836.9,500.2L840.9,499.9L844.9,499.6L849,499.3L853,499L857.1,498.7L861.1,498.5L865.1,498.2L869.2,498L873.2,497.8L877.2,497.6L881.3,497.5L885.3,497.3L889.3,497.1L893.4,497L897.4,496.8L901.4,496.7L905.5,496.5L909.5,496.4L913.5,496.2L917.6,496.1L921.6,496L925.6,495.8L929.7,495.7L933.7,495.6L937.7,495.5L941.8,495.4L945.8,495.4L949.8,495.3L953.9,495.2L957.9,495.2L961.9,495.1L966,495.1L970,495.1L970,512.1L966,512.1L961.9,512.1L957.9,512.2L953.9,512.2L949.8,512.3L945.8,512.4L941.8,512.4L937.7,512.5L933.7,512.6L929.7,512.7L925.6,512.8L921.6,513L917.6,513.1L913.5,513.2L909.5,513.4L905.5,513.5L901.4,513.7L897.4,513.8L893.4,514L889.3,514.1L885.3,514.3L881.3,514.5L877.2,514.6L873.2,514.8L869.2,515L865.1,515.2L861.1,515.5L857.1,515.7L853,516L849,516.3L844.9,516.6L840.9,516.9L836.9,517.2L832.8,517.6L828.8,517.9L824.8,518.3L820.7,518.6L816.7,519L812.7,519.3L808.6,519.7L804.6,520.1L800.6,520.4L796.5,520.8L792.5,521.2L788.5,521.6L784.4,522L780.4,522.5L776.4,522.9L772.3,523.4L768.3,523.8L764.3,524.3L760.2,524.8L756.2,525.3L752.2,525.8L748.1,526.3L744.1,526.9L740.1,527.4L736,527.9L732,528.5Z" fill="#fff" fill-opacity="0.6"/>
<path d="M732,526.1L736,526.1L740,526.1L744,526.1L748,526.1L752,526.2L756,526.2L760,526.2L764,526.2L768,526.3L772,526.3L776,526.4L780,526.4L784,526.5L788,526.5L792,526.6L796,526.6L800,526.7L804,526.8L808,526.8L812,526.9L816,527L820,527.1L824,527.1L828,527.2L832,527.3L836,527.4L840,527.5L844,527.6L848,527.6L852,527.7L856,527.8L860,527.9L864,528L868,528.2L872,528.4L876,528.6L880,528.8L884,529L888,529.3L892,529.6L896,529.9L900,530.2L904,530.5L908,530.8L912,531.1L916,531.5L920,531.8L924,532.1L928,532.4L932,532.7L936,532.9L940,533.2L944,533.4L948,533.6L952,533.8L956,534L960,534.1L964,534.2L968,534.3L972,534.3L976,534.3L980,534.3L984,534.3L988,534.3L992,534.2L996,534.2L1000,534.2L1004,534.2L1008,534.1L1012,534.1L1016,534L1020,534L1024,534L1028,533.9L1032,533.9L1036,533.8L1040,533.8L1044,533.7L1048,533.7L1052,533.6L1056,533.5L1060,533.5L1064,533.4L1068,533.4L1072,533.3L1076,533.3L1080,533.2L1084,533.2L1088,533.1L1092,533.1L1096,533.1L1100,533L1104,533L1108,532.9L1112,532.9L1116,532.9L1120,532.9L1124,532.8L1128,532.8L1132,532.8L1136,532.8L1140,532.8L1144,532.8L1148,532.8L1152,532.8L1156,532.8L1160,532.8L1164,532.8L1168,532.8L1172,532.8L1176,532.8L1180,532.8L1184,532.9L1188,532.9L1192,532.9L1196,532.9L1200,532.9L1204,532.9L1208,532.9L1212,533L1216,533L1220,533L1224,533L1228,533L1232,533.1L1236,533.1L1240,533.1L1244,533.1L1248,533.2L1252,533.2L1256,533.2L1260,533.3L1264,533.3L1268,533.3L1272,533.4L1276,533.4L1280,533.5L1284,533.5L1288,533.6L1292,533.6L1296,533.6L1300,533.7L1304,533.7L1308,533.8L1308,554.2L1304,554.1L1300,554.1L1296,554L1292,554L1288,554L1284,553.9L1280,553.9L1276,553.8L1272,553.8L1268,553.7L1264,553.7L1260,553.7L1256,553.6L1252,553.6L1248,553.6L1244,553.5L1240,553.5L1236,553.5L1232,553.5L1228,553.4L1224,553.4L1220,553.4L1216,553.4L1212,553.4L1208,553.3L1204,553.3L1200,553.3L1196,553.3L1192,553.3L1188,553.3L1184,553.3L1180,553.2L1176,553.2L1172,553.2L1168,553.2L1164,553.2L1160,553.2L1156,553.2L1152,553.2L1148,553.2L1144,553.2L1140,553.2L1136,553.2L1132,553.2L1128,553.2L1124,553.2L1120,553.3L1116,553.3L1112,553.3L1108,553.3L1104,553.4L1100,553.4L1096,553.5L1092,553.5L1088,553.5L1084,553.6L1080,553.6L1076,553.7L1072,553.7L1068,553.8L1064,553.8L1060,553.9L1056,553.9L1052,554L1048,554.1L1044,554.1L1040,554.2L1036,554.2L1032,554.3L1028,554.3L1024,554.4L1020,554.4L1016,554.4L1012,554.5L1008,554.5L1004,554.6L1000,554.6L996,554.6L992,554.6L988,554.7L984,554.7L980,554.7L976,554.7L972,554.7L968,554.7L964,554.6L960,554.5L956,554.4L952,554.2L948,554L944,553.8L940,553.6L936,553.3L932,553.1L928,552.8L924,552.5L920,552.2L916,551.9L912,551.5L908,551.2L904,550.9L900,550.6L896,550.3L892,550L888,549.7L884,549.4L880,549.2L876,549L872,548.8L868,548.6L864,548.4L860,548.3L856,548.2L852,548.1L848,548L844,548L840,547.9L836,547.8L832,547.7L828,547.6L824,547.5L820,547.5L816,547.4L812,547.3L808,547.2L804,547.2L800,547.1L796,547L792,547L788,546.9L784,546.9L780,546.8L776,546.8L772,546.7L768,546.7L764,546.6L760,546.6L756,546.6L752,546.6L748,546.5L744,546.5L740,546.5L736,546.5L732,546.5Z" fill="#fff" fill-opacity="0.3"/>
<path d="M732,527.8L736,527.8L740.1,527.9L744.1,527.9L748.1,528L752.2,528.2L756.2,528.3L760.2,528.5L764.3,528.7L768.3,528.9L772.3,529.1L776.4,529.4L780.4,529.6L784.4,529.9L788.5,530.2L792.5,530.5L796.5,530.8L800.6,531.2L804.6,531.5L808.6,531.9L812.7,532.3L816.7,532.9L820.7,533.5L824.8,534.2L828.8,535L832.8,535.8L836.9,536.7L840.9,537.6L844.9,538.6L849,539.6L853,540.7L857.1,541.8L861.1,543L865.1,544.1L869.2,545.3L873.2,546.6L877.2,547.8L881.3,549.1L885.3,550.5L889.3,552.1L893.4,553.7L897.4,555.5L901.4,557.4L905.5,559.3L909.5,561.2L913.5,563.2L917.6,565.3L921.6,567.3L925.6,569.3L929.7,571.3L933.7,573.3L937.7,575.4L941.8,577.5L945.8,579.6L949.8,581.8L953.9,584L957.9,586.3L961.9,588.6L966,590.9L970,593.2L970,610.2L966,607.9L961.9,605.6L957.9,603.3L953.9,601L949.8,598.8L945.8,596.6L941.8,594.5L937.7,592.4L933.7,590.3L929.7,588.3L925.6,586.3L921.6,584.3L917.6,582.3L913.5,580.2L909.5,578.2L905.5,576.3L901.4,574.4L897.4,572.5L893.4,570.7L889.3,569.1L885.3,567.5L881.3,566.1L877.2,564.8L873.2,563.6L869.2,562.3L865.1,561.1L861.1,560L857.1,558.8L853,557.7L849,556.6L844.9,555.6L840.9,554.6L836.9,553.7L832.8,552.8L828.8,552L824.8,551.2L820.7,550.5L816.7,549.9L812.7,549.3L808.6,548.9L804.6,548.5L800.6,548.2L796.5,547.8L792.5,547.5L788.5,547.2L784.4,546.9L780.4,546.6L776.4,546.4L772.3,546.1L768.3,545.9L764.3,545.7L760.2,545.5L756.2,545.3L752.2,545.2L748.1,545L744.1,544.9L740.1,544.9L736,544.8L732,544.8Z" fill="#fff" fill-opacity="0.45"/>
<path d="M732,575L736,575.5L740,575.9L744,576.4L748,576.8L752,577.2L756,577.7L760,578.1L764,578.5L768,578.9L772,579.3L776,579.7L780,580.1L784,580.5L788,580.9L792,581.3L796,581.6L800,582L804,582.4L808,582.7L812,583.1L816,583.4L820,583.7L824,584.1L828,584.4L832,584.7L836,585L840,585.4L844,585.7L848,586L852,586.3L856,586.5L860,586.8L864,587.1L868,587.4L872,587.7L876,587.9L880,588.2L884,588.4L888,588.7L892,588.9L896,589.2L900,589.4L904,589.6L908,589.9L912,590.1L916,590.3L920,590.5L924,590.7L928,590.9L932,591.1L936,591.3L940,591.5L944,591.7L948,591.9L952,592L956,592.2L960,592.4L964,592.5L968,592.7L972,592.8L976,593L980,593.1L984,593.2L988,593.4L992,593.5L996,593.6L1000,593.8L1004,593.9L1008,594L1012,594.1L1016,594.2L1020,594.3L1024,594.4L1028,594.5L1032,594.6L1036,594.6L1040,594.7L1044,594.8L1048,594.9L1052,594.9L1056,595L1060,595.1L1064,595.1L1068,595.2L1072,595.2L1076,595.3L1080,595.3L1084,595.3L1088,595.4L1092,595.4L1096,595.4L1100,595.4L1104,595.5L1108,595.5L1112,595.5L1116,595.5L1120,595.5L1124,595.5L1128,595.5L1132,595.5L1136,595.5L1140,595.5L1144,595.4L1148,595.4L1152,595.4L1156,595.4L1160,595.3L1164,595.3L1168,595.3L1172,595.2L1176,595.2L1180,595.1L1184,595.1L1188,595L1192,595L1196,594.9L1200,594.9L1204,594.8L1208,594.7L1212,594.7L1216,594.6L1220,594.5L1224,594.4L1228,594.3L1232,594.3L1236,594.2L1240,594.1L1244,594L1248,593.9L1252,593.8L1256,593.7L1260,593.6L1264,593.5L1268,593.4L1272,593.3L1276,593.1L1280,593L1284,592.9L1288,592.8L1292,592.7L1296,592.5L1300,592.4L1304,592.3L1308,592.1L1308,612.5L1304,612.7L1300,612.8L1296,612.9L1292,613.1L1288,613.2L1284,613.3L1280,613.4L1276,613.5L1272,613.7L1268,613.8L1264,613.9L1260,614L1256,614.1L1252,614.2L1248,614.3L1244,614.4L1240,614.5L1236,614.6L1232,614.7L1228,614.7L1224,614.8L1220,614.9L1216,615L1212,615.1L1208,615.1L1204,615.2L1200,615.3L1196,615.3L1192,615.4L1188,615.4L1184,615.5L1180,615.5L1176,615.6L1172,615.6L1168,615.7L1164,615.7L1160,615.7L1156,615.8L1152,615.8L1148,615.8L1144,615.8L1140,615.9L1136,615.9L1132,615.9L1128,615.9L1124,615.9L1120,615.9L1116,615.9L1112,615.9L1108,615.9L1104,615.9L1100,615.8L1096,615.8L1092,615.8L1088,615.8L1084,615.7L1080,615.7L1076,615.7L1072,615.6L1068,615.6L1064,615.5L1060,615.5L1056,615.4L1052,615.3L1048,615.3L1044,615.2L1040,615.1L1036,615L1032,615L1028,614.9L1024,614.8L1020,614.7L1016,614.6L1012,614.5L1008,614.4L1004,614.3L1000,614.2L996,614L992,613.9L988,613.8L984,613.6L980,613.5L976,613.4L972,613.2L968,613.1L964,612.9L960,612.8L956,612.6L952,612.4L948,612.3L944,612.1L940,611.9L936,611.7L932,611.5L928,611.3L924,611.1L920,610.9L916,610.7L912,610.5L908,610.3L904,610L900,609.8L896,609.6L892,609.3L888,609.1L884,608.8L880,608.6L876,608.3L872,608.1L868,607.8L864,607.5L860,607.2L856,606.9L852,606.7L848,606.4L844,606.1L840,605.8L836,605.4L832,605.1L828,604.8L824,604.5L820,604.1L816,603.8L812,603.5L808,603.1L804,602.8L800,602.4L796,602L792,601.7L788,601.3L784,600.9L780,600.5L776,600.1L772,599.7L768,599.3L764,598.9L760,598.5L756,598.1L752,597.6L748,597.2L744,596.8L740,596.3L736,595.9L732,595.4Z" fill="url(#gb30)"/>
<path d="M732,578.5L736,578.9L740.1,579.4L744.1,579.9L748.1,580.4L752.2,580.9L756.2,581.5L760.2,582.1L764.3,582.7L768.3,583.3L772.3,583.9L776.4,584.6L780.4,585.3L784.4,586L788.5,586.7L792.5,587.4L796.5,588.1L800.6,588.9L804.6,589.6L808.6,590.4L812.7,591.2L816.7,592.1L820.7,593L824.8,594L828.8,594.9L832.8,595.9L836.9,596.9L840.9,598L844.9,599L849,600.1L853,601.1L857.1,602.2L861.1,603.3L865.1,604.4L869.2,605.4L873.2,606.5L877.2,607.6L881.3,608.6L885.3,609.8L889.3,610.9L893.4,612.1L897.4,613.3L901.4,614.5L905.5,615.7L909.5,616.8L913.5,618L917.6,619.1L921.6,620.1L925.6,621.1L929.7,622L933.7,622.9L937.7,623.7L941.8,624.5L945.8,625.2L949.8,625.9L953.9,626.6L957.9,627.3L961.9,627.9L966,628.5L970,629L970,646L966,645.5L961.9,644.9L957.9,644.3L953.9,643.6L949.8,642.9L945.8,642.2L941.8,641.5L937.7,640.7L933.7,639.9L929.7,639L925.6,638.1L921.6,637.1L917.6,636.1L913.5,635L909.5,633.8L905.5,632.7L901.4,631.5L897.4,630.3L893.4,629.1L889.3,627.9L885.3,626.8L881.3,625.6L877.2,624.6L873.2,623.5L869.2,622.4L865.1,621.4L861.1,620.3L857.1,619.2L853,618.1L849,617.1L844.9,616L840.9,615L836.9,613.9L832.8,612.9L828.8,611.9L824.8,611L820.7,610L816.7,609.1L812.7,608.2L808.6,607.4L804.6,606.6L800.6,605.9L796.5,605.1L792.5,604.4L788.5,603.7L784.4,603L780.4,602.3L776.4,601.6L772.3,600.9L768.3,600.3L764.3,599.7L760.2,599.1L756.2,598.5L752.2,597.9L748.1,597.4L744.1,596.9L740.1,596.4L736,595.9L732,595.5Z" fill="#fff" fill-opacity="0.5"/>
<path d="M970,593.9L974,594.6L978,595.3L982.1,596L986.1,596.7L990.1,597.4L994.1,598.1L998.2,598.8L1002.2,599.4L1006.2,600.1L1010.2,600.7L1014.3,601.4L1018.3,602L1022.3,602.6L1026.3,603.2L1030.4,603.8L1034.4,604.4L1038.4,604.9L1042.4,605.5L1046.5,606L1050.5,606.6L1054.5,607.1L1058.5,607.6L1062.5,608.1L1066.6,608.6L1070.6,609.1L1074.6,609.6L1078.6,610L1082.7,610.5L1086.7,611L1090.7,611.4L1094.7,611.9L1098.8,612.3L1102.8,612.7L1106.8,613.2L1110.8,613.6L1114.9,614L1118.9,614.4L1122.9,614.8L1126.9,615.2L1131,615.6L1135,616L1139,616.4L1143,616.8L1147,617.2L1151.1,617.6L1155.1,618.1L1159.1,618.5L1163.1,618.9L1167.2,619.3L1171.2,619.7L1175.2,620.2L1179.2,620.6L1183.3,620.9L1187.3,621.3L1191.3,621.7L1195.3,622L1199.4,622.3L1203.4,622.6L1207.4,622.9L1211.4,623.1L1215.5,623.3L1219.5,623.5L1223.5,623.6L1227.5,623.8L1231.5,623.9L1235.6,624L1239.6,624.2L1243.6,624.3L1247.6,624.4L1251.7,624.6L1255.7,624.7L1259.7,624.8L1263.7,624.9L1267.8,625L1271.8,625.1L1275.8,625.2L1279.8,625.2L1283.9,625.3L1287.9,625.4L1291.9,625.4L1295.9,625.4L1300,625.5L1304,625.5L1308,625.5L1308,642.5L1304,642.5L1300,642.5L1295.9,642.4L1291.9,642.4L1287.9,642.4L1283.9,642.3L1279.8,642.2L1275.8,642.2L1271.8,642.1L1267.8,642L1263.7,641.9L1259.7,641.8L1255.7,641.7L1251.7,641.6L1247.6,641.4L1243.6,641.3L1239.6,641.2L1235.6,641L1231.5,640.9L1227.5,640.8L1223.5,640.6L1219.5,640.5L1215.5,640.3L1211.4,640.1L1207.4,639.9L1203.4,639.6L1199.4,639.3L1195.3,639L1191.3,638.7L1187.3,638.3L1183.3,637.9L1179.2,637.6L1175.2,637.2L1171.2,636.7L1167.2,636.3L1163.1,635.9L1159.1,635.5L1155.1,635.1L1151.1,634.6L1147,634.2L1143,633.8L1139,633.4L1135,633L1131,632.6L1126.9,632.2L1122.9,631.8L1118.9,631.4L1114.9,631L1110.8,630.6L1106.8,630.2L1102.8,629.7L1098.8,629.3L1094.7,628.9L1090.7,628.4L1086.7,628L1082.7,627.5L1078.6,627L1074.6,626.6L1070.6,626.1L1066.6,625.6L1062.5,625.1L1058.5,624.6L1054.5,624.1L1050.5,623.6L1046.5,623L1042.4,622.5L1038.4,621.9L1034.4,621.4L1030.4,620.8L1026.3,620.2L1022.3,619.6L1018.3,619L1014.3,618.4L1010.2,617.7L1006.2,617.1L1002.2,616.4L998.2,615.8L994.1,615.1L990.1,614.4L986.1,613.7L982.1,613L978,612.3L974,611.6L970,610.9Z" fill="#fff" fill-opacity="0.48"/>
<path d="M970,629L974,628.6L978,628.3L982.1,627.9L986.1,627.6L990.1,627.3L994.1,626.9L998.2,626.6L1002.2,626.2L1006.2,625.9L1010.2,625.6L1014.3,625.3L1018.3,624.9L1022.3,624.6L1026.3,624.3L1030.4,624L1034.4,623.7L1038.4,623.4L1042.4,623.1L1046.5,622.8L1050.5,622.5L1054.5,622.2L1058.5,621.9L1062.5,621.6L1066.6,621.4L1070.6,621.1L1074.6,620.9L1078.6,620.6L1082.7,620.4L1086.7,620.2L1090.7,619.9L1094.7,619.7L1098.8,619.5L1102.8,619.2L1106.8,619L1110.8,618.7L1114.9,618.4L1118.9,618.2L1122.9,617.9L1126.9,617.6L1131,617.2L1135,616.9L1139,616.6L1143,616.2L1147,615.8L1151.1,615.3L1155.1,614.9L1159.1,614.3L1163.1,613.8L1167.2,613.3L1171.2,612.7L1175.2,612.1L1179.2,611.5L1183.3,610.9L1187.3,610.3L1191.3,609.7L1195.3,609.1L1199.4,608.5L1203.4,607.9L1207.4,607.3L1211.4,606.7L1215.5,606.1L1219.5,605.6L1223.5,605L1227.5,604.5L1231.5,604L1235.6,603.4L1239.6,602.9L1243.6,602.3L1247.6,601.8L1251.7,601.3L1255.7,600.7L1259.7,600.2L1263.7,599.7L1267.8,599.1L1271.8,598.6L1275.8,598.1L1279.8,597.6L1283.9,597L1287.9,596.5L1291.9,596L1295.9,595.5L1300,594.9L1304,594.4L1308,593.9L1308,610.9L1304,611.4L1300,611.9L1295.9,612.5L1291.9,613L1287.9,613.5L1283.9,614L1279.8,614.6L1275.8,615.1L1271.8,615.6L1267.8,616.1L1263.7,616.7L1259.7,617.2L1255.7,617.7L1251.7,618.3L1247.6,618.8L1243.6,619.3L1239.6,619.9L1235.6,620.4L1231.5,621L1227.5,621.5L1223.5,622L1219.5,622.6L1215.5,623.1L1211.4,623.7L1207.4,624.3L1203.4,624.9L1199.4,625.5L1195.3,626.1L1191.3,626.7L1187.3,627.3L1183.3,627.9L1179.2,628.5L1175.2,629.1L1171.2,629.7L1167.2,630.3L1163.1,630.8L1159.1,631.3L1155.1,631.9L1151.1,632.3L1147,632.8L1143,633.2L1139,633.6L1135,633.9L1131,634.2L1126.9,634.6L1122.9,634.9L1118.9,635.2L1114.9,635.4L1110.8,635.7L1106.8,636L1102.8,636.2L1098.8,636.5L1094.7,636.7L1090.7,636.9L1086.7,637.2L1082.7,637.4L1078.6,637.6L1074.6,637.9L1070.6,638.1L1066.6,638.4L1062.5,638.6L1058.5,638.9L1054.5,639.2L1050.5,639.5L1046.5,639.8L1042.4,640.1L1038.4,640.4L1034.4,640.7L1030.4,641L1026.3,641.3L1022.3,641.6L1018.3,641.9L1014.3,642.3L1010.2,642.6L1006.2,642.9L1002.2,643.2L998.2,643.6L994.1,643.9L990.1,644.3L986.1,644.6L982.1,644.9L978,645.3L974,645.6L970,646Z" fill="#fff" fill-opacity="0.48"/>
<path d="M970,593.9L974,593.1L978,592.3L982.1,591.5L986.1,590.7L990.1,590L994.1,589.2L998.2,588.5L1002.2,587.8L1006.2,587.1L1010.2,586.5L1014.3,585.8L1018.3,585.2L1022.3,584.6L1026.3,584.1L1030.4,583.6L1034.4,583.1L1038.4,582.6L1042.4,582.2L1046.5,581.8L1050.5,581.5L1054.5,581.1L1058.5,580.8L1062.5,580.5L1066.6,580.1L1070.6,579.8L1074.6,579.5L1078.6,579.2L1082.7,578.9L1086.7,578.6L1090.7,578.3L1094.7,578.1L1098.8,577.8L1102.8,577.6L1106.8,577.4L1110.8,577.2L1114.9,577L1118.9,576.9L1122.9,576.7L1126.9,576.6L1131,576.6L1135,576.5L1139,576.5L1143,576.5L1147,576.6L1151.1,576.7L1155.1,576.8L1159.1,576.9L1163.1,577.1L1167.2,577.3L1171.2,577.6L1175.2,577.8L1179.2,578.1L1183.3,578.4L1187.3,578.7L1191.3,579L1195.3,579.4L1199.4,579.7L1203.4,580L1207.4,580.4L1211.4,580.8L1215.5,581.1L1219.5,581.5L1223.5,581.8L1227.5,582.2L1231.5,582.6L1235.6,583L1239.6,583.5L1243.6,583.9L1247.6,584.4L1251.7,584.9L1255.7,585.5L1259.7,586L1263.7,586.6L1267.8,587.2L1271.8,587.8L1275.8,588.4L1279.8,589.1L1283.9,589.7L1287.9,590.4L1291.9,591.1L1295.9,591.8L1300,592.5L1304,593.2L1308,593.9L1308,610.9L1304,610.2L1300,609.5L1295.9,608.8L1291.9,608.1L1287.9,607.4L1283.9,606.7L1279.8,606.1L1275.8,605.4L1271.8,604.8L1267.8,604.2L1263.7,603.6L1259.7,603L1255.7,602.5L1251.7,601.9L1247.6,601.4L1243.6,600.9L1239.6,600.5L1235.6,600L1231.5,599.6L1227.5,599.2L1223.5,598.8L1219.5,598.5L1215.5,598.1L1211.4,597.8L1207.4,597.4L1203.4,597L1199.4,596.7L1195.3,596.4L1191.3,596L1187.3,595.7L1183.3,595.4L1179.2,595.1L1175.2,594.8L1171.2,594.6L1167.2,594.3L1163.1,594.1L1159.1,593.9L1155.1,593.8L1151.1,593.7L1147,593.6L1143,593.5L1139,593.5L1135,593.5L1131,593.6L1126.9,593.6L1122.9,593.7L1118.9,593.9L1114.9,594L1110.8,594.2L1106.8,594.4L1102.8,594.6L1098.8,594.8L1094.7,595.1L1090.7,595.3L1086.7,595.6L1082.7,595.9L1078.6,596.2L1074.6,596.5L1070.6,596.8L1066.6,597.1L1062.5,597.5L1058.5,597.8L1054.5,598.1L1050.5,598.5L1046.5,598.8L1042.4,599.2L1038.4,599.6L1034.4,600.1L1030.4,600.6L1026.3,601.1L1022.3,601.6L1018.3,602.2L1014.3,602.8L1010.2,603.5L1006.2,604.1L1002.2,604.8L998.2,605.5L994.1,606.2L990.1,607L986.1,607.7L982.1,608.5L978,609.3L974,610.1L970,610.9Z" fill="#fff" fill-opacity="0.38"/>
<path d="M970,595.6L974,593L978,590.4L982.1,587.8L986.1,585.3L990.1,582.9L994.1,580.5L998.2,578.1L1002.2,575.8L1006.2,573.5L1010.2,571.3L1014.3,569.2L1018.3,567.1L1022.3,565.1L1026.3,563.1L1030.4,561.3L1034.4,559.4L1038.4,557.7L1042.4,556.1L1046.5,554.5L1050.5,553L1054.5,551.6L1058.5,550.2L1062.5,548.9L1066.6,547.6L1070.6,546.4L1074.6,545.2L1078.6,544.1L1082.7,542.9L1086.7,541.8L1090.7,540.8L1094.7,539.7L1098.8,538.7L1102.8,537.7L1106.8,536.7L1110.8,535.8L1114.9,534.8L1118.9,533.9L1122.9,532.9L1126.9,532L1131,531.1L1135,530.2L1139,529.2L1143,528.3L1147,527.4L1151.1,526.5L1155.1,525.6L1159.1,524.7L1163.1,523.8L1167.2,522.9L1171.2,522.1L1175.2,521.2L1179.2,520.4L1183.3,519.6L1187.3,518.8L1191.3,518L1195.3,517.3L1199.4,516.6L1203.4,515.8L1207.4,515.2L1211.4,514.5L1215.5,513.9L1219.5,513.3L1223.5,512.7L1227.5,512.1L1231.5,511.6L1235.6,511L1239.6,510.5L1243.6,509.9L1247.6,509.4L1251.7,508.9L1255.7,508.4L1259.7,507.9L1263.7,507.4L1267.8,506.9L1271.8,506.5L1275.8,506.1L1279.8,505.6L1283.9,505.2L1287.9,504.9L1291.9,504.5L1295.9,504.1L1300,503.8L1304,503.5L1308,503.2L1308,516.8L1304,517.1L1300,517.4L1295.9,517.7L1291.9,518.1L1287.9,518.5L1283.9,518.8L1279.8,519.2L1275.8,519.7L1271.8,520.1L1267.8,520.5L1263.7,521L1259.7,521.5L1255.7,522L1251.7,522.5L1247.6,523L1243.6,523.5L1239.6,524.1L1235.6,524.6L1231.5,525.2L1227.5,525.7L1223.5,526.3L1219.5,526.9L1215.5,527.5L1211.4,528.1L1207.4,528.8L1203.4,529.4L1199.4,530.2L1195.3,530.9L1191.3,531.6L1187.3,532.4L1183.3,533.2L1179.2,534L1175.2,534.8L1171.2,535.7L1167.2,536.5L1163.1,537.4L1159.1,538.3L1155.1,539.2L1151.1,540.1L1147,541L1143,541.9L1139,542.8L1135,543.8L1131,544.7L1126.9,545.6L1122.9,546.5L1118.9,547.5L1114.9,548.4L1110.8,549.4L1106.8,550.3L1102.8,551.3L1098.8,552.3L1094.7,553.3L1090.7,554.4L1086.7,555.4L1082.7,556.5L1078.6,557.7L1074.6,558.8L1070.6,560L1066.6,561.2L1062.5,562.5L1058.5,563.8L1054.5,565.2L1050.5,566.6L1046.5,568.1L1042.4,569.7L1038.4,571.3L1034.4,573L1030.4,574.9L1026.3,576.7L1022.3,578.7L1018.3,580.7L1014.3,582.8L1010.2,584.9L1006.2,587.1L1002.2,589.4L998.2,591.7L994.1,594.1L990.1,596.5L986.1,598.9L982.1,601.4L978,604L974,606.6L970,609.2Z" fill="#fff" fill-opacity="0.3"/>
<path d="M970,503.2L974,503.6L978,503.9L982.1,504.3L986.1,504.8L990.1,505.2L994.1,505.6L998.2,506.1L1002.2,506.6L1006.2,507.1L1010.2,507.6L1014.3,508.1L1018.3,508.6L1022.3,509.2L1026.3,509.7L1030.4,510.3L1034.4,510.9L1038.4,511.5L1042.4,512.1L1046.5,512.7L1050.5,513.3L1054.5,513.9L1058.5,514.5L1062.5,515.2L1066.6,515.9L1070.6,516.5L1074.6,517.2L1078.6,517.9L1082.7,518.7L1086.7,519.4L1090.7,520.2L1094.7,521L1098.8,521.8L1102.8,522.6L1106.8,523.5L1110.8,524.4L1114.9,525.3L1118.9,526.2L1122.9,527.2L1126.9,528.2L1131,529.2L1135,530.2L1139,531.4L1143,532.6L1147,533.9L1151.1,535.2L1155.1,536.6L1159.1,538.1L1163.1,539.7L1167.2,541.3L1171.2,542.9L1175.2,544.6L1179.2,546.3L1183.3,548L1187.3,549.7L1191.3,551.4L1195.3,553.1L1199.4,554.9L1203.4,556.5L1207.4,558.2L1211.4,559.9L1215.5,561.5L1219.5,563L1223.5,564.5L1227.5,566L1231.5,567.5L1235.6,569.1L1239.6,570.6L1243.6,572.1L1247.6,573.6L1251.7,575.1L1255.7,576.5L1259.7,578L1263.7,579.5L1267.8,581L1271.8,582.5L1275.8,583.9L1279.8,585.4L1283.9,586.9L1287.9,588.3L1291.9,589.8L1295.9,591.3L1300,592.7L1304,594.2L1308,595.6L1308,609.2L1304,607.8L1300,606.3L1295.9,604.9L1291.9,603.4L1287.9,601.9L1283.9,600.5L1279.8,599L1275.8,597.5L1271.8,596.1L1267.8,594.6L1263.7,593.1L1259.7,591.6L1255.7,590.1L1251.7,588.7L1247.6,587.2L1243.6,585.7L1239.6,584.2L1235.6,582.7L1231.5,581.1L1227.5,579.6L1223.5,578.1L1219.5,576.6L1215.5,575.1L1211.4,573.5L1207.4,571.8L1203.4,570.1L1199.4,568.5L1195.3,566.7L1191.3,565L1187.3,563.3L1183.3,561.6L1179.2,559.9L1175.2,558.2L1171.2,556.5L1167.2,554.9L1163.1,553.3L1159.1,551.7L1155.1,550.2L1151.1,548.8L1147,547.5L1143,546.2L1139,545L1135,543.8L1131,542.8L1126.9,541.8L1122.9,540.8L1118.9,539.8L1114.9,538.9L1110.8,538L1106.8,537.1L1102.8,536.2L1098.8,535.4L1094.7,534.6L1090.7,533.8L1086.7,533L1082.7,532.3L1078.6,531.5L1074.6,530.8L1070.6,530.1L1066.6,529.5L1062.5,528.8L1058.5,528.1L1054.5,527.5L1050.5,526.9L1046.5,526.3L1042.4,525.7L1038.4,525.1L1034.4,524.5L1030.4,523.9L1026.3,523.3L1022.3,522.8L1018.3,522.2L1014.3,521.7L1010.2,521.2L1006.2,520.7L1002.2,520.2L998.2,519.7L994.1,519.2L990.1,518.8L986.1,518.4L982.1,517.9L978,517.5L974,517.2L970,516.8Z" fill="#fff" fill-opacity="0.3"/>
<path d="M732,676.1L736,673.1L740.1,670.2L744.1,667.5L748.1,664.8L752.2,662.3L756.2,659.9L760.2,657.6L764.3,655.4L768.3,653.3L772.3,651.4L776.4,649.5L780.4,647.7L784.4,646L788.5,644.4L792.5,642.9L796.5,641.5L800.6,640.2L804.6,638.9L808.6,637.7L812.7,636.6L816.7,635.6L820.7,634.7L824.8,633.8L828.8,633L832.8,632.3L836.9,631.6L840.9,631L844.9,630.5L849,630L853,629.5L857.1,629.1L861.1,628.8L865.1,628.5L869.2,628.3L873.2,628.1L877.2,627.9L881.3,627.7L885.3,627.6L889.3,627.6L893.4,627.5L897.4,627.5L901.4,627.5L905.5,627.6L909.5,627.6L913.5,627.7L917.6,627.8L921.6,627.9L925.6,628L929.7,628.1L933.7,628.2L937.7,628.3L941.8,628.4L945.8,628.5L949.8,628.6L953.9,628.7L957.9,628.8L961.9,628.9L966,629L970,629L970,646L966,646L961.9,645.9L957.9,645.8L953.9,645.7L949.8,645.6L945.8,645.5L941.8,645.4L937.7,645.3L933.7,645.2L929.7,645.1L925.6,645L921.6,644.9L917.6,644.8L913.5,644.7L909.5,644.6L905.5,644.6L901.4,644.5L897.4,644.5L893.4,644.5L889.3,644.6L885.3,644.6L881.3,644.7L877.2,644.9L873.2,645.1L869.2,645.3L865.1,645.5L861.1,645.8L857.1,646.1L853,646.5L849,647L844.9,647.5L840.9,648L836.9,648.6L832.8,649.3L828.8,650L824.8,650.8L820.7,651.7L816.7,652.6L812.7,653.6L808.6,654.7L804.6,655.9L800.6,657.2L796.5,658.5L792.5,659.9L788.5,661.4L784.4,663L780.4,664.7L776.4,666.5L772.3,668.4L768.3,670.3L764.3,672.4L760.2,674.6L756.2,676.9L752.2,679.3L748.1,681.8L744.1,684.5L740.1,687.2L736,690.1L732,693.1Z" fill="#fff" fill-opacity="0.4"/>
<path d="M970,629.9L974,629.8L978,629.8L982.1,629.7L986.1,629.7L990.1,629.7L994.1,629.6L998.2,629.6L1002.2,629.6L1006.2,629.5L1010.2,629.5L1014.3,629.5L1018.3,629.5L1022.3,629.4L1026.3,629.4L1030.4,629.4L1034.4,629.4L1038.4,629.4L1042.4,629.4L1046.5,629.4L1050.5,629.4L1054.5,629.4L1058.5,629.4L1062.5,629.4L1066.6,629.4L1070.6,629.4L1074.6,629.4L1078.6,629.4L1082.7,629.4L1086.7,629.4L1090.7,629.4L1094.7,629.4L1098.8,629.4L1102.8,629.4L1106.8,629.4L1110.8,629.4L1114.9,629.4L1118.9,629.4L1122.9,629.4L1126.9,629.4L1131,629.4L1135,629.4L1139,629.4L1143,629.4L1147,629.4L1151.1,629.4L1155.1,629.4L1159.1,629.4L1163.1,629.4L1167.2,629.4L1171.2,629.4L1175.2,629.4L1179.2,629.4L1183.3,629.4L1187.3,629.4L1191.3,629.4L1195.3,629.4L1199.4,629.4L1203.4,629.4L1207.4,629.4L1211.4,629.4L1215.5,629.4L1219.5,629.4L1223.5,629.4L1227.5,629.4L1231.5,629.4L1235.6,629.4L1239.6,629.4L1243.6,629.4L1247.6,629.4L1251.7,629.4L1255.7,629.4L1259.7,629.4L1263.7,629.5L1267.8,629.5L1271.8,629.5L1275.8,629.6L1279.8,629.6L1283.9,629.6L1287.9,629.7L1291.9,629.7L1295.9,629.7L1300,629.8L1304,629.8L1308,629.9L1308,645.1L1304,645.1L1300,645.1L1295.9,645L1291.9,645L1287.9,645L1283.9,644.9L1279.8,644.9L1275.8,644.9L1271.8,644.8L1267.8,644.8L1263.7,644.8L1259.7,644.7L1255.7,644.7L1251.7,644.7L1247.6,644.7L1243.6,644.7L1239.6,644.7L1235.6,644.7L1231.5,644.7L1227.5,644.6L1223.5,644.6L1219.5,644.6L1215.5,644.6L1211.4,644.6L1207.4,644.6L1203.4,644.6L1199.4,644.6L1195.3,644.6L1191.3,644.6L1187.3,644.6L1183.3,644.6L1179.2,644.6L1175.2,644.6L1171.2,644.6L1167.2,644.6L1163.1,644.6L1159.1,644.6L1155.1,644.6L1151.1,644.6L1147,644.6L1143,644.6L1139,644.6L1135,644.6L1131,644.6L1126.9,644.6L1122.9,644.6L1118.9,644.6L1114.9,644.6L1110.8,644.6L1106.8,644.6L1102.8,644.6L1098.8,644.6L1094.7,644.6L1090.7,644.6L1086.7,644.6L1082.7,644.6L1078.6,644.6L1074.6,644.6L1070.6,644.6L1066.6,644.6L1062.5,644.6L1058.5,644.6L1054.5,644.6L1050.5,644.6L1046.5,644.7L1042.4,644.7L1038.4,644.7L1034.4,644.7L1030.4,644.7L1026.3,644.7L1022.3,644.7L1018.3,644.8L1014.3,644.8L1010.2,644.8L1006.2,644.8L1002.2,644.9L998.2,644.9L994.1,644.9L990.1,645L986.1,645L982.1,645L978,645.1L974,645.1L970,645.1Z" fill="#fff" fill-opacity="0.3"/>
<path d="M732,676.1L736,675.8L740.1,675.5L744.1,675.2L748.1,674.8L752.2,674.4L756.2,674L760.2,673.5L764.3,673L768.3,672.5L772.3,671.9L776.4,671.3L780.4,670.6L784.4,669.9L788.5,669.2L792.5,668.4L796.5,667.6L800.6,666.7L804.6,665.8L808.6,664.9L812.7,663.9L816.7,662.9L820.7,661.9L824.8,660.8L828.8,659.6L832.8,658.5L836.9,657.2L840.9,656L844.9,654.7L849,653.3L853,651.9L857.1,650.5L861.1,649L865.1,647.5L869.2,646L873.2,644.4L877.2,642.7L881.3,641L885.3,639.3L889.3,637.5L893.4,635.7L897.4,633.9L901.4,632L905.5,630L909.5,628L913.5,626L917.6,624L921.6,621.9L925.6,619.7L929.7,617.5L933.7,615.3L937.7,613L941.8,610.7L945.8,608.4L949.8,606L953.9,603.6L957.9,601.1L961.9,598.6L966,596.1L970,593.5L970,610.5L966,613.1L961.9,615.6L957.9,618.1L953.9,620.6L949.8,623L945.8,625.4L941.8,627.7L937.7,630L933.7,632.3L929.7,634.5L925.6,636.7L921.6,638.9L917.6,641L913.5,643L909.5,645L905.5,647L901.4,649L897.4,650.9L893.4,652.7L889.3,654.5L885.3,656.3L881.3,658L877.2,659.7L873.2,661.4L869.2,663L865.1,664.5L861.1,666L857.1,667.5L853,668.9L849,670.3L844.9,671.7L840.9,673L836.9,674.2L832.8,675.5L828.8,676.6L824.8,677.8L820.7,678.9L816.7,679.9L812.7,680.9L808.6,681.9L804.6,682.8L800.6,683.7L796.5,684.6L792.5,685.4L788.5,686.2L784.4,686.9L780.4,687.6L776.4,688.3L772.3,688.9L768.3,689.5L764.3,690L760.2,690.5L756.2,691L752.2,691.4L748.1,691.8L744.1,692.2L740.1,692.5L736,692.8L732,693.1Z" fill="#fff" fill-opacity="0.35"/>
<path d="M732,690L736.1,691.2L740.1,692.7L744.2,694.7L748.2,697.1L752.3,699.8L756.3,702.8L760.4,706L764.4,709.5L768.5,713.1L772.5,717L776.6,720.9L780.6,725L784.7,729.1L788.7,733.3L792.8,737.7L796.8,742L800.9,746.5L804.9,751L809,755.5L813.1,760.1L817.1,764.7L821.2,769.4L825.2,774L829.3,778.7L833.3,783.4L837.4,788.1L841.4,792.8L845.5,797.5L849.5,802.2L853.6,806.8L857.6,811.5L861.7,816L865.7,820.6L869.8,825.1L873.8,829.5L877.9,833.8L881.9,838.1L886,842.3L890.1,846.4L894.1,850.5L898.2,854.4L902.2,858.2L906.3,861.9L910.3,865.5L914.4,868.9L918.4,872.2L922.5,875.4L926.5,878.4L930.6,881.2L934.6,883.9L938.7,886.5L942.7,888.8L946.8,891L950.8,892.9L954.9,894.7L958.9,896.2L963,897.6L963,915.4L958.9,914.1L954.9,912.5L950.8,910.8L946.8,908.8L942.7,906.6L938.7,904.3L934.6,901.8L930.6,899.1L926.5,896.2L922.5,893.2L918.4,890.1L914.4,886.7L910.3,883.3L906.3,879.7L902.2,876L898.2,872.2L894.1,868.3L890.1,864.3L886,860.2L881.9,856L877.9,851.7L873.8,847.3L869.8,842.9L865.7,838.4L861.7,833.9L857.6,829.3L853.6,824.7L849.5,820L845.5,815.4L841.4,810.7L837.4,806L833.3,801.3L829.3,796.6L825.2,791.9L821.2,787.2L817.1,782.6L813.1,777.9L809,773.3L804.9,768.8L800.9,764.3L796.8,759.9L792.8,755.5L788.7,751.2L784.7,747L780.6,742.8L776.6,738.8L772.5,734.8L768.5,731L764.4,727.3L760.4,723.9L756.3,720.6L752.3,717.6L748.2,714.9L744.2,712.6L740.1,710.6L736.1,709L732,707.9Z" fill="url(#gb40)"/>
<path d="M880,841.5L884.1,845.7L888.3,849.8L892.5,853.9L896.6,857.8L900.8,861.7L904.9,865.4L909,869.1L913.2,872.8L917.4,876.4L921.5,880L925.6,883.4L929.8,886.3L934,888.9L938.1,891.3L942.2,893.4L946.4,895.4L950.5,897.2L954.7,898.8L958.9,900.3L963,901.5L963,918.5L958.9,917.3L954.7,915.8L950.5,914.2L946.4,912.4L942.2,910.4L938.1,908.3L934,905.9L929.8,903.3L925.6,900.4L921.5,897L917.4,893.4L913.2,889.8L909,886.1L904.9,882.4L900.8,878.7L896.6,874.8L892.5,870.9L888.3,866.8L884.1,862.7L880,858.5Z" fill="url(#gb41)"/>
<path d="M977.5,899.1L981.5,898L985.6,896.7L989.6,895.1L993.6,893.2L997.7,891L1001.7,888.6L1005.7,886L1009.7,883.2L1013.8,880.1L1017.8,876.8L1021.8,873.4L1025.9,869.8L1029.9,866L1033.9,862.1L1038,858.1L1042,854L1046,849.7L1050,845.4L1054.1,840.9L1058.1,836.4L1062.1,831.9L1066.2,827.3L1070.2,822.7L1074.2,818.1L1078.3,813.5L1082.3,808.9L1086.3,804.3L1090.4,799.8L1094.4,795.3L1098.4,790.8L1102.4,786.4L1106.5,782.1L1110.5,777.8L1114.5,773.5L1118.6,769.3L1122.6,765.1L1126.6,760.9L1130.7,756.7L1134.7,752.6L1138.7,748.5L1142.8,744.4L1146.8,740.3L1150.8,736.2L1154.8,732.1L1158.9,728.1L1162.9,724L1166.9,719.9L1171,715.8L1175,711.7L1179,707.6L1183.1,703.6L1187.1,699.5L1191.1,695.4L1195.1,691.4L1199.2,687.4L1203.2,683.4L1207.2,679.4L1211.3,675.5L1215.3,671.5L1219.3,667.7L1223.4,663.8L1227.4,660L1231.4,656.3L1235.5,652.6L1239.5,648.9L1243.5,645.3L1247.5,641.7L1251.6,638.3L1255.6,634.8L1259.6,631.5L1263.7,628.2L1267.7,624.9L1271.7,621.7L1275.8,618.5L1279.8,615.4L1283.8,612.2L1287.8,609.2L1291.9,606.1L1295.9,603.1L1299.9,600.1L1304,597.1L1308,594.1L1308,611.9L1304,614.9L1299.9,617.9L1295.9,620.9L1291.9,624L1287.8,627L1283.8,630.1L1279.8,633.2L1275.8,636.3L1271.7,639.5L1267.7,642.7L1263.7,646L1259.6,649.3L1255.6,652.7L1251.6,656.1L1247.5,659.6L1243.5,663.1L1239.5,666.7L1235.5,670.4L1231.4,674.1L1227.4,677.9L1223.4,681.7L1219.3,685.5L1215.3,689.4L1211.3,693.3L1207.2,697.3L1203.2,701.2L1199.2,705.2L1195.1,709.3L1191.1,713.3L1187.1,717.3L1183.1,721.4L1179,725.5L1175,729.6L1171,733.7L1166.9,737.8L1162.9,741.8L1158.9,745.9L1154.8,750L1150.8,754.1L1146.8,758.1L1142.8,762.2L1138.7,766.3L1134.7,770.5L1130.7,774.6L1126.6,778.7L1122.6,782.9L1118.6,787.1L1114.5,791.4L1110.5,795.6L1106.5,799.9L1102.4,804.3L1098.4,808.7L1094.4,813.1L1090.4,817.6L1086.3,822.1L1082.3,826.7L1078.3,831.3L1074.2,836L1070.2,840.6L1066.2,845.2L1062.1,849.8L1058.1,854.3L1054.1,858.8L1050,863.2L1046,867.5L1042,871.8L1038,876L1033.9,880L1029.9,883.9L1025.9,887.7L1021.8,891.3L1017.8,894.7L1013.8,897.9L1009.7,901L1005.7,903.9L1001.7,906.5L997.7,908.9L993.6,911L989.6,912.9L985.6,914.6L981.5,915.9L977.5,916.9Z" fill="url(#gb42)"/>
<path d="M977.5,902.5L981.5,901.5L985.5,900.3L989.5,898.9L993.6,897.2L997.6,895.4L1001.6,893.5L1005.6,891.4L1009.6,889L1013.6,886.3L1017.6,883.3L1021.7,880L1025.7,876.7L1029.7,873.2L1033.7,869.6L1037.7,865.9L1041.7,862L1045.7,857.8L1049.8,853.5L1053.8,849L1057.8,844.3L1061.8,839.5L1061.8,856.5L1057.8,861.3L1053.8,866L1049.8,870.5L1045.7,874.8L1041.7,879L1037.7,882.9L1033.7,886.6L1029.7,890.2L1025.7,893.7L1021.7,897L1017.6,900.3L1013.6,903.3L1009.6,906L1005.6,908.4L1001.6,910.5L997.6,912.4L993.6,914.2L989.5,915.9L985.5,917.3L981.5,918.5L977.5,919.5Z" fill="url(#gb43)"/>
<path d="M970,629.9L974,629.6L978,629.6L982,629.8L986.1,630.3L990.1,630.9L994.1,631.8L998.1,632.9L1002.1,634.2L1006.1,635.7L1010.2,637.4L1014.2,639.3L1018.2,641.4L1022.2,643.7L1026.2,646.3L1030.2,649L1034.3,652L1038.3,655.1L1042.3,658.4L1046.3,662L1050.3,665.7L1054.3,669.6L1058.3,673.7L1062.4,677.8L1066.4,682L1070.4,686.2L1074.4,690.5L1078.4,694.6L1082.4,698.7L1086.5,702.7L1090.5,706.6L1094.5,710.4L1098.5,714.2L1102.5,717.8L1106.5,721.5L1110.5,725L1114.6,728.6L1118.6,732.1L1122.6,735.6L1126.6,739.2L1130.6,742.7L1134.6,746.3L1138.7,750L1142.7,753.7L1146.7,757.5L1150.7,761.4L1154.7,765.4L1158.7,769.5L1162.8,773.8L1166.8,778.2L1170.8,782.7L1174.8,787.4L1178.8,792.1L1182.8,796.9L1186.8,801.7L1190.9,806.6L1194.9,811.5L1198.9,816.3L1202.9,821.1L1206.9,825.9L1210.9,830.5L1215,835L1219,839.4L1223,843.6L1227,847.7L1231,851.6L1235,855.3L1239,858.9L1243.1,862.3L1247.1,865.6L1251.1,868.8L1255.1,871.9L1259.1,874.8L1263.1,877.7L1267.2,880.4L1271.2,883L1275.2,885.6L1279.2,888.1L1283.2,890.5L1287.2,892.9L1291.3,895.2L1295.3,897.4L1299.3,899.7L1303.3,901.9L1303.3,917.2L1299.3,915L1295.3,912.7L1291.3,910.5L1287.2,908.2L1283.2,905.8L1279.2,903.4L1275.2,900.9L1271.2,898.3L1267.2,895.7L1263.1,893L1259.1,890.1L1255.1,887.2L1251.1,884.1L1247.1,880.9L1243.1,877.6L1239,874.2L1235,870.6L1231,866.9L1227,863L1223,858.9L1219,854.7L1215,850.3L1210.9,845.8L1206.9,841.2L1202.9,836.4L1198.9,831.6L1194.9,826.8L1190.9,821.9L1186.8,817L1182.8,812.2L1178.8,807.4L1174.8,802.7L1170.8,798L1166.8,793.5L1162.8,789.1L1158.7,784.8L1154.7,780.7L1150.7,776.7L1146.7,772.8L1142.7,769L1138.7,765.3L1134.6,761.6L1130.6,758L1126.6,754.5L1122.6,750.9L1118.6,747.4L1114.6,743.9L1110.5,740.3L1106.5,736.8L1102.5,733.1L1098.5,729.5L1094.5,725.7L1090.5,721.9L1086.5,718L1082.4,714L1078.4,709.9L1074.4,705.8L1070.4,701.5L1066.4,697.3L1062.4,693.1L1058.3,689L1054.3,684.9L1050.3,681L1046.3,677.3L1042.3,673.7L1038.3,670.4L1034.3,667.3L1030.2,664.3L1026.2,661.6L1022.2,659L1018.2,656.7L1014.2,654.6L1010.2,652.7L1006.1,651L1002.1,649.5L998.1,648.2L994.1,647.1L990.1,646.2L986.1,645.6L982,645.1L978,644.9L974,644.9L970,645.2Z" fill="url(#gb44)"/>
<path d="M732,500.1L736,500.6L740,501.1L744,501.7L748,502.3L752,503L756,503.6L760,504.3L764,505L768,505.8L772,506.5L776,507.3L780,508.1L784,508.9L788,509.8L792,510.7L796,511.7L800,512.7L804,513.8L808,514.8L812,515.9L816,517L820,518.1L824,519.2L828,520.4L832,521.6L836,522.8L840,524.1L840,547.9L836,546.6L832,545.4L828,544.2L824,543L820,541.9L816,540.8L812,539.7L808,538.6L804,537.6L800,536.5L796,535.5L792,534.5L788,533.6L784,532.7L780,531.9L776,531.1L772,530.3L768,529.6L764,528.8L760,528.1L756,527.4L752,526.8L748,526.1L744,525.5L740,524.9L736,524.4L732,523.9Z" fill="url(#gb45)"/>
<path d="M732,677.5L736,676.7L740,675.8L744,674.9L748,674L752,673L756,671.9L760,670.8L764,669.7L768,668.5L772,667.4L776,666.2L780,665.1L784,664L788,662.9L792,661.7L796,660.6L800,659.5L800,676.5L796,677.6L792,678.7L788,679.9L784,681L780,682.1L776,683.2L772,684.4L768,685.5L764,686.7L760,687.8L756,688.9L752,690L748,691L744,691.9L740,692.8L736,693.7L732,694.5Z" fill="url(#gb46)"/>
<path d="M732,100.6L736,100.1L740.1,99.6L744.1,99.1L748.1,98.5L752.2,97.9L756.2,97.3L760.2,96.6L764.3,95.9L768.3,95.2L772.3,94.5L776.4,93.7L780.4,93L784.4,92.2L788.5,91.4L792.5,90.5L796.5,89.7L800.6,88.8L804.6,88L808.6,87.1L812.7,86.2L816.7,85.3L820.7,84.4L824.8,83.5L828.8,82.6L832.8,81.7L836.9,80.8L840.9,79.9L844.9,79L849,78.1L853,77.2L857.1,76.4L861.1,75.5L865.1,74.7L869.2,73.9L873.2,73L877.2,72.2L881.3,71.5L885.3,70.7L889.3,70L893.4,69.3L897.4,68.6L901.4,67.9L905.5,67.3L909.5,66.7L913.5,66.1L917.6,65.6L921.6,65.1L925.6,64.7L929.7,64.2L933.7,63.9L937.7,63.5L941.8,63.2L945.8,63L949.8,62.8L953.9,62.6L957.9,62.5L961.9,62.4L966,62.4L970,62.5L970,82.9L966,82.8L961.9,82.8L957.9,82.9L953.9,83L949.8,83.2L945.8,83.4L941.8,83.6L937.7,83.9L933.7,84.3L929.7,84.6L925.6,85.1L921.6,85.5L917.6,86L913.5,86.5L909.5,87.1L905.5,87.7L901.4,88.3L897.4,89L893.4,89.7L889.3,90.4L885.3,91.1L881.3,91.9L877.2,92.6L873.2,93.4L869.2,94.3L865.1,95.1L861.1,95.9L857.1,96.8L853,97.6L849,98.5L844.9,99.4L840.9,100.3L836.9,101.2L832.8,102.1L828.8,103L824.8,103.9L820.7,104.8L816.7,105.7L812.7,106.6L808.6,107.5L804.6,108.4L800.6,109.2L796.5,110.1L792.5,110.9L788.5,111.8L784.4,112.6L780.4,113.4L776.4,114.1L772.3,114.9L768.3,115.6L764.3,116.3L760.2,117L756.2,117.7L752.2,118.3L748.1,118.9L744.1,119.5L740.1,120L736,120.5L732,121Z" fill="url(#gb0)"/>
<path d="M732,101.6L736,101.9L740.1,102.2L744.1,102.4L748.1,102.5L752.2,102.6L756.2,102.7L760.2,102.6L764.3,102.5L768.3,102.4L772.3,102.2L776.4,101.9L780.4,101.6L784.4,101.2L788.5,100.8L792.5,100.3L796.5,99.8L800.6,99.2L804.6,98.5L808.6,97.8L812.7,97.1L816.7,96.3L820.7,95.4L824.8,94.5L828.8,93.6L832.8,92.6L836.9,91.6L840.9,90.5L844.9,89.4L849,88.2L853,87L857.1,85.7L861.1,84.4L865.1,83.1L869.2,81.7L873.2,80.3L877.2,78.9L881.3,77.5L885.3,76.1L889.3,74.7L893.4,73.4L897.4,72L901.4,70.7L905.5,69.5L909.5,68.3L913.5,67.1L917.6,66.1L921.6,65.1L925.6,64.2L929.7,63.4L933.7,62.7L937.7,62.1L941.8,61.6L945.8,61.3L949.8,61.1L953.9,61.1L957.9,61.2L961.9,61.5L966,61.9L970,62.5L970,82.9L966,82.3L961.9,81.9L957.9,81.6L953.9,81.5L949.8,81.5L945.8,81.7L941.8,82L937.7,82.5L933.7,83.1L929.7,83.8L925.6,84.6L921.6,85.5L917.6,86.5L913.5,87.5L909.5,88.7L905.5,89.9L901.4,91.1L897.4,92.4L893.4,93.8L889.3,95.1L885.3,96.5L881.3,97.9L877.2,99.3L873.2,100.7L869.2,102.1L865.1,103.5L861.1,104.8L857.1,106.1L853,107.4L849,108.6L844.9,109.8L840.9,110.9L836.9,112L832.8,113L828.8,114L824.8,114.9L820.7,115.8L816.7,116.7L812.7,117.5L808.6,118.2L804.6,118.9L800.6,119.6L796.5,120.2L792.5,120.7L788.5,121.2L784.4,121.6L780.4,122L776.4,122.3L772.3,122.6L768.3,122.8L764.3,122.9L760.2,123L756.2,123.1L752.2,123L748.1,122.9L744.1,122.8L740.1,122.6L736,122.3L732,122Z" fill="url(#gb1)"/>
<path d="M732,137.6L736.1,135.7L740.3,133.9L744.4,132L748.5,130.2L752.6,128.3L756.8,126.5L760.9,124.6L765,122.8L769.1,120.9L773.3,119L777.4,117.1L781.5,115.1L785.7,113.1L789.8,111.2L793.9,109.3L798,107.6L802.2,105.9L806.3,104.4L810.4,103.1L814.5,101.8L818.7,100.6L822.8,99.5L822.8,113.1L818.7,114.2L814.5,115.4L810.4,116.7L806.3,118L802.2,119.5L798,121.2L793.9,122.9L789.8,124.8L785.7,126.7L781.5,128.7L777.4,130.7L773.3,132.6L769.1,134.5L765,136.4L760.9,138.2L756.8,140.1L752.6,141.9L748.5,143.8L744.4,145.6L740.3,147.5L736.1,149.3L732,151.2Z" fill="#000" fill-opacity="0.25"/>
<path d="M732,102.3L736,102.1L740.1,101.8L744.1,101.6L748.1,101.4L752.1,101.2L756.2,101L760.2,100.8L764.2,100.6L768.2,100.5L772.3,100.3L776.3,100.2L780.3,100L784.3,99.9L788.4,99.8L792.4,99.7L796.4,99.6L800.4,99.5L804.5,99.4L808.5,99.3L812.5,99.2L816.5,99.2L820.6,99.1L824.6,99.1L828.6,99L832.6,99L836.7,99L840.7,99L844.7,99L848.7,99L852.8,99L856.8,99L860.8,99L864.8,99L868.9,99.1L872.9,99.1L876.9,99.2L880.9,99.2L885,99.3L889,99.3L893,99.4L897,99.5L901.1,99.5L905.1,99.6L909.1,99.7L913.1,99.8L917.2,99.9L921.2,99.9L925.2,100L929.2,100.1L933.3,100.2L937.3,100.2L941.3,100.3L945.3,100.3L949.4,100.4L953.4,100.4L957.4,100.5L961.4,100.5L965.5,100.5L969.5,100.5L973.5,100.5L977.5,100.5L981.6,100.5L985.6,100.5L989.6,100.4L993.6,100.3L997.7,100.3L1001.7,100.2L1005.7,100L1009.7,99.9L1013.8,99.8L1017.8,99.6L1021.8,99.4L1025.8,99.2L1029.9,99L1033.9,98.7L1037.9,98.4L1041.9,98.1L1046,97.8L1050,97.5L1054,97.1L1058,96.7L1062.1,96.3L1066.1,95.9L1070.1,95.5L1074.1,95L1078.2,94.6L1082.2,94.1L1086.2,93.6L1090.2,93.1L1094.3,92.5L1098.3,92L1102.3,91.4L1106.3,90.9L1110.4,90.3L1114.4,89.7L1118.4,89.1L1122.4,88.4L1126.5,87.8L1130.5,87.2L1134.5,86.5L1138.5,85.9L1142.6,85.2L1146.6,84.6L1150.6,83.9L1154.6,83.2L1158.7,82.5L1162.7,81.8L1166.7,81.1L1170.7,80.4L1174.8,79.7L1178.8,79L1182.8,78.3L1186.8,77.6L1190.9,76.9L1194.9,76.2L1198.9,75.5L1202.9,74.8L1207,74.1L1211,73.4L1215,72.8L1219,72.1L1223.1,71.5L1227.1,70.8L1231.1,70.2L1235.1,69.6L1239.2,69.1L1243.2,68.5L1247.2,68L1251.2,67.5L1255.3,67L1259.3,66.5L1263.3,66.1L1267.3,65.7L1271.4,65.3L1275.4,65L1279.4,64.7L1283.4,64.4L1287.5,64.2L1291.5,64L1295.5,63.8L1299.5,63.7L1303.6,63.6L1307.6,63.6L1307.6,80.6L1303.6,80.6L1299.5,80.7L1295.5,80.8L1291.5,81L1287.5,81.2L1283.4,81.4L1279.4,81.7L1275.4,82L1271.4,82.3L1267.3,82.7L1263.3,83.1L1259.3,83.5L1255.3,84L1251.2,84.5L1247.2,85L1243.2,85.5L1239.2,86.1L1235.1,86.6L1231.1,87.2L1227.1,87.8L1223.1,88.5L1219,89.1L1215,89.8L1211,90.4L1207,91.1L1202.9,91.8L1198.9,92.5L1194.9,93.2L1190.9,93.9L1186.8,94.6L1182.8,95.3L1178.8,96L1174.8,96.7L1170.7,97.4L1166.7,98.1L1162.7,98.8L1158.7,99.5L1154.6,100.2L1150.6,100.9L1146.6,101.6L1142.6,102.2L1138.5,102.9L1134.5,103.5L1130.5,104.2L1126.5,104.8L1122.4,105.4L1118.4,106.1L1114.4,106.7L1110.4,107.3L1106.3,107.9L1102.3,108.4L1098.3,109L1094.3,109.5L1090.2,110.1L1086.2,110.6L1082.2,111.1L1078.2,111.6L1074.1,112L1070.1,112.5L1066.1,112.9L1062.1,113.3L1058,113.7L1054,114.1L1050,114.5L1046,114.8L1041.9,115.1L1037.9,115.4L1033.9,115.7L1029.9,116L1025.8,116.2L1021.8,116.4L1017.8,116.6L1013.8,116.8L1009.7,116.9L1005.7,117L1001.7,117.2L997.7,117.3L993.6,117.3L989.6,117.4L985.6,117.5L981.6,117.5L977.5,117.5L973.5,117.5L969.5,117.5L965.5,117.5L961.4,117.5L957.4,117.5L953.4,117.4L949.4,117.4L945.3,117.3L941.3,117.3L937.3,117.2L933.3,117.2L929.2,117.1L925.2,117L921.2,116.9L917.2,116.9L913.1,116.8L909.1,116.7L905.1,116.6L901.1,116.5L897,116.5L893,116.4L889,116.3L885,116.3L880.9,116.2L876.9,116.2L872.9,116.1L868.9,116.1L864.8,116L860.8,116L856.8,116L852.8,116L848.7,116L844.7,116L840.7,116L836.7,116L832.6,116L828.6,116L824.6,116.1L820.6,116.1L816.5,116.2L812.5,116.2L808.5,116.3L804.5,116.4L800.4,116.5L796.4,116.6L792.4,116.7L788.4,116.8L784.3,116.9L780.3,117L776.3,117.2L772.3,117.3L768.2,117.5L764.2,117.6L760.2,117.8L756.2,118L752.1,118.2L748.1,118.4L744.1,118.6L740.1,118.8L736,119.1L732,119.3Z" fill="url(#gb3)"/>
<path d="M732,137.6L736,138.4L740,139.2L744.1,140.1L748.1,141.2L752.1,142.2L756.1,143.4L760.2,144.6L764.2,145.8L768.2,147L772.2,148.3L776.3,149.6L780.3,150.9L784.3,152.1L788.3,153.4L792.4,154.6L796.4,155.8L800.4,157L804.4,158.1L808.5,159.2L812.5,160.1L816.5,161.1L820.5,161.9L824.5,162.7L828.6,163.5L832.6,164.1L836.6,164.7L840.6,165.3L844.7,165.7L848.7,166.1L852.7,166.4L856.7,166.7L860.8,166.9L864.8,167.1L868.8,167.2L872.8,167.3L876.9,167.4L880.9,167.4L884.9,167.5L888.9,167.5L893,167.6L897,167.6L901,167.6L905,167.6L909,167.6L913.1,167.7L917.1,167.7L921.1,167.7L925.1,167.6L929.2,167.6L933.2,167.6L937.2,167.6L941.2,167.6L945.3,167.6L949.3,167.6L953.3,167.6L957.3,167.5L961.4,167.5L965.4,167.5L969.4,167.5L973.4,167.5L977.5,167.5L981.5,167.5L985.5,167.5L989.5,167.5L993.5,167.5L997.6,167.5L1001.6,167.6L1005.6,167.6L1009.6,167.6L1013.7,167.7L1017.7,167.7L1021.7,167.8L1025.7,167.9L1029.8,168L1033.8,168.1L1037.8,168.2L1041.8,168.3L1045.9,168.4L1049.9,168.5L1053.9,168.7L1057.9,168.9L1061.9,169.1L1066,169.3L1070,169.5L1074,169.7L1078,170L1082.1,170.3L1086.1,170.6L1090.1,170.9L1094.1,171.2L1098.2,171.6L1102.2,172L1106.2,172.4L1110.2,172.8L1114.3,173.3L1118.3,173.8L1122.3,174.3L1126.3,174.8L1130.4,175.4L1134.4,176L1138.4,176.6L1142.4,177.3L1146.4,178L1150.5,178.7L1154.5,179.5L1158.5,180.3L1162.5,181.2L1166.6,182L1170.6,183L1174.6,183.9L1178.6,184.9L1182.7,186L1186.7,187.2L1190.7,188.4L1194.7,189.6L1198.8,190.9L1202.8,192.3L1206.8,193.8L1210.8,195.4L1214.9,197L1218.9,198.8L1222.9,200.6L1226.9,202.5L1230.9,204.5L1235,206.6L1239,208.9L1243,211.2L1247,213.6L1251.1,216.2L1255.1,218.8L1259.1,221.5L1263.1,224.3L1267.2,227.1L1271.2,230L1275.2,232.9L1279.2,235.9L1283.3,238.9L1287.3,241.9L1291.3,244.9L1295.3,247.9L1299.4,250.8L1303.4,253.8L1307.4,256.7L1307.4,270.3L1303.4,267.4L1299.4,264.4L1295.3,261.5L1291.3,258.5L1287.3,255.5L1283.3,252.5L1279.2,249.5L1275.2,246.5L1271.2,243.6L1267.2,240.7L1263.1,237.9L1259.1,235.1L1255.1,232.4L1251.1,229.8L1247,227.2L1243,224.8L1239,222.5L1235,220.2L1230.9,218.1L1226.9,216.1L1222.9,214.2L1218.9,212.4L1214.9,210.6L1210.8,209L1206.8,207.4L1202.8,205.9L1198.8,204.5L1194.7,203.2L1190.7,202L1186.7,200.8L1182.7,199.6L1178.6,198.5L1174.6,197.5L1170.6,196.6L1166.6,195.6L1162.5,194.8L1158.5,193.9L1154.5,193.1L1150.5,192.3L1146.4,191.6L1142.4,190.9L1138.4,190.2L1134.4,189.6L1130.4,189L1126.3,188.4L1122.3,187.9L1118.3,187.4L1114.3,186.9L1110.2,186.4L1106.2,186L1102.2,185.6L1098.2,185.2L1094.1,184.8L1090.1,184.5L1086.1,184.2L1082.1,183.9L1078,183.6L1074,183.3L1070,183.1L1066,182.9L1061.9,182.7L1057.9,182.5L1053.9,182.3L1049.9,182.1L1045.9,182L1041.8,181.9L1037.8,181.8L1033.8,181.7L1029.8,181.6L1025.7,181.5L1021.7,181.4L1017.7,181.3L1013.7,181.3L1009.6,181.2L1005.6,181.2L1001.6,181.2L997.6,181.1L993.5,181.1L989.5,181.1L985.5,181.1L981.5,181.1L977.5,181.1L973.4,181.1L969.4,181.1L965.4,181.1L961.4,181.1L957.3,181.1L953.3,181.2L949.3,181.2L945.3,181.2L941.2,181.2L937.2,181.2L933.2,181.2L929.2,181.2L925.1,181.2L921.1,181.3L917.1,181.3L913.1,181.3L909,181.2L905,181.2L901,181.2L897,181.2L893,181.2L888.9,181.1L884.9,181.1L880.9,181L876.9,181L872.8,180.9L868.8,180.8L864.8,180.7L860.8,180.5L856.7,180.3L852.7,180L848.7,179.7L844.7,179.3L840.6,178.9L836.6,178.3L832.6,177.7L828.6,177.1L824.5,176.3L820.5,175.5L816.5,174.7L812.5,173.7L808.5,172.8L804.4,171.7L800.4,170.6L796.4,169.4L792.4,168.2L788.3,167L784.3,165.7L780.3,164.5L776.3,163.2L772.2,161.9L768.2,160.6L764.2,159.4L760.2,158.2L756.1,157L752.1,155.8L748.1,154.8L744.1,153.7L740,152.8L736,152L732,151.2Z" fill="#000" fill-opacity="0.2"/>
<path d="M732,137.6L736,137.8L740.1,138L744.1,138.4L748.1,138.8L752.2,139.4L756.2,140.1L760.2,140.8L764.3,141.7L768.3,142.6L772.3,143.7L776.4,144.8L780.4,146.1L784.4,147.4L788.5,148.7L792.5,150.2L796.5,151.8L800.6,153.4L804.6,155.1L808.6,156.8L812.7,158.7L816.7,160.5L820.7,162.5L824.8,164.5L828.8,166.6L832.8,168.7L836.9,170.9L840.9,173.1L844.9,175.4L849,177.7L853,180.1L857.1,182.5L861.1,185L865.1,187.4L869.2,190L873.2,192.5L877.2,195.1L881.3,197.7L885.3,200.3L889.3,203L893.4,205.6L897.4,208.3L901.4,211L905.5,213.7L909.5,216.4L913.5,219.2L917.6,221.9L921.6,224.6L925.6,227.4L929.7,230.1L933.7,232.8L937.7,235.6L941.8,238.3L945.8,241L949.8,243.7L953.9,246.3L957.9,249L961.9,251.6L966,254.2L970,256.8L970,270.4L966,267.8L961.9,265.2L957.9,262.6L953.9,259.9L949.8,257.3L945.8,254.6L941.8,251.9L937.7,249.2L933.7,246.4L929.7,243.7L925.6,241L921.6,238.2L917.6,235.5L913.5,232.8L909.5,230L905.5,227.3L901.4,224.6L897.4,221.9L893.4,219.2L889.3,216.6L885.3,213.9L881.3,211.3L877.2,208.7L873.2,206.1L869.2,203.6L865.1,201L861.1,198.6L857.1,196.1L853,193.7L849,191.3L844.9,189L840.9,186.7L836.9,184.5L832.8,182.3L828.8,180.2L824.8,178.1L820.7,176.1L816.7,174.1L812.7,172.3L808.6,170.4L804.6,168.7L800.6,167L796.5,165.4L792.5,163.8L788.5,162.3L784.4,161L780.4,159.7L776.4,158.4L772.3,157.3L768.3,156.2L764.3,155.3L760.2,154.4L756.2,153.7L752.2,153L748.1,152.4L744.1,152L740.1,151.6L736,151.4L732,151.2Z" fill="#000" fill-opacity="0.25"/>
<path d="M970,64.1L974,64.3L978,64.5L982.1,64.7L986.1,64.9L990.1,65.2L994.1,65.4L998.1,65.8L1002.2,66.1L1006.2,66.5L1010.2,66.9L1014.2,67.3L1018.2,67.7L1022.2,68.1L1026.3,68.6L1030.3,69.1L1034.3,69.6L1038.3,70.1L1042.3,70.7L1046.4,71.2L1050.4,71.8L1054.4,72.4L1058.4,73L1062.4,73.6L1066.5,74.2L1070.5,74.8L1074.5,75.5L1078.5,76.1L1082.5,76.8L1086.6,77.4L1090.6,78.1L1094.6,78.7L1098.6,79.4L1102.6,80.1L1106.6,80.8L1110.7,81.4L1114.7,82.1L1118.7,82.8L1122.7,83.5L1126.7,84.1L1130.8,84.8L1134.8,85.5L1138.8,86.1L1142.8,86.8L1146.8,87.4L1150.9,88L1154.9,88.7L1158.9,89.3L1162.9,89.9L1166.9,90.5L1171,91.1L1175,91.6L1179,92.2L1183,92.7L1187,93.3L1191,93.8L1195.1,94.3L1199.1,94.8L1203.1,95.3L1207.1,95.7L1211.1,96.1L1215.2,96.6L1219.2,97L1223.2,97.3L1227.2,97.7L1231.2,98L1235.3,98.4L1239.3,98.6L1243.3,98.9L1247.3,99.2L1251.3,99.4L1255.4,99.6L1259.4,99.8L1263.4,99.9L1267.4,100L1271.4,100.1L1275.4,100.2L1279.5,100.2L1283.5,100.2L1287.5,100.2L1291.5,100.1L1295.5,100L1299.6,99.9L1303.6,99.7L1307.6,99.5L1307.6,116.5L1303.6,116.7L1299.6,116.9L1295.5,117L1291.5,117.1L1287.5,117.2L1283.5,117.2L1279.5,117.2L1275.4,117.2L1271.4,117.1L1267.4,117L1263.4,116.9L1259.4,116.8L1255.4,116.6L1251.3,116.4L1247.3,116.2L1243.3,115.9L1239.3,115.6L1235.3,115.4L1231.2,115L1227.2,114.7L1223.2,114.3L1219.2,114L1215.2,113.6L1211.1,113.1L1207.1,112.7L1203.1,112.3L1199.1,111.8L1195.1,111.3L1191,110.8L1187,110.3L1183,109.7L1179,109.2L1175,108.6L1171,108.1L1166.9,107.5L1162.9,106.9L1158.9,106.3L1154.9,105.7L1150.9,105L1146.8,104.4L1142.8,103.8L1138.8,103.1L1134.8,102.5L1130.8,101.8L1126.7,101.1L1122.7,100.5L1118.7,99.8L1114.7,99.1L1110.7,98.4L1106.6,97.8L1102.6,97.1L1098.6,96.4L1094.6,95.7L1090.6,95.1L1086.6,94.4L1082.5,93.8L1078.5,93.1L1074.5,92.5L1070.5,91.8L1066.5,91.2L1062.4,90.6L1058.4,90L1054.4,89.4L1050.4,88.8L1046.4,88.2L1042.3,87.7L1038.3,87.1L1034.3,86.6L1030.3,86.1L1026.3,85.6L1022.2,85.1L1018.2,84.7L1014.2,84.3L1010.2,83.9L1006.2,83.5L1002.2,83.1L998.1,82.8L994.1,82.4L990.1,82.2L986.1,81.9L982.1,81.7L978,81.5L974,81.3L970,81.1Z" fill="#000" fill-opacity="0.35"/>
<path d="M970,65.9L974,65.9L978,65.9L982,66.1L986.1,66.4L990.1,66.7L994.1,67.2L998.1,67.8L1002.1,68.4L1006.1,69.1L1010.2,70L1014.2,70.9L1018.2,71.9L1022.2,72.9L1026.2,74.1L1030.2,75.3L1034.3,76.6L1038.3,78L1042.3,79.5L1046.3,81L1050.3,82.6L1054.3,84.3L1058.4,86.1L1062.4,87.9L1066.4,89.7L1070.4,91.7L1074.4,93.7L1078.5,95.7L1082.5,97.9L1086.5,100L1090.5,102.3L1094.5,104.5L1098.5,106.9L1102.5,109.2L1106.6,111.7L1110.6,114.2L1114.6,116.7L1118.6,119.2L1122.6,121.8L1126.7,124.5L1130.7,127.1L1134.7,129.9L1138.7,132.6L1142.7,135.4L1146.7,138.2L1150.8,141L1154.8,143.9L1158.8,146.8L1162.8,149.7L1166.8,152.7L1170.8,155.6L1174.9,158.6L1178.9,161.6L1182.9,164.6L1186.9,167.6L1190.9,170.7L1194.9,173.7L1199,176.8L1203,179.9L1207,182.9L1211,186L1215,189.1L1219,192.2L1223,195.3L1227.1,198.3L1231.1,201.4L1235.1,204.5L1239.1,207.5L1243.1,210.6L1247.2,213.6L1251.2,216.6L1255.2,219.7L1259.2,222.7L1263.2,225.6L1267.2,228.6L1271.2,231.5L1275.3,234.4L1279.3,237.3L1283.3,240.2L1287.3,243L1291.3,245.8L1295.4,248.6L1299.4,251.4L1303.4,254.1L1307.4,256.7L1307.4,270.3L1303.4,267.7L1299.4,265L1295.4,262.2L1291.3,259.4L1287.3,256.6L1283.3,253.8L1279.3,250.9L1275.3,248L1271.2,245.1L1267.2,242.2L1263.2,239.2L1259.2,236.3L1255.2,233.3L1251.2,230.2L1247.2,227.2L1243.1,224.2L1239.1,221.1L1235.1,218.1L1231.1,215L1227.1,211.9L1223,208.9L1219,205.8L1215,202.7L1211,199.6L1207,196.5L1203,193.5L1199,190.4L1194.9,187.3L1190.9,184.3L1186.9,181.2L1182.9,178.2L1178.9,175.2L1174.9,172.2L1170.8,169.2L1166.8,166.3L1162.8,163.3L1158.8,160.4L1154.8,157.5L1150.8,154.6L1146.7,151.8L1142.7,149L1138.7,146.2L1134.7,143.5L1130.7,140.7L1126.7,138.1L1122.6,135.4L1118.6,132.8L1114.6,130.3L1110.6,127.8L1106.6,125.3L1102.5,122.8L1098.5,120.5L1094.5,118.1L1090.5,115.9L1086.5,113.6L1082.5,111.5L1078.5,109.3L1074.4,107.3L1070.4,105.3L1066.4,103.3L1062.4,101.5L1058.4,99.7L1054.3,97.9L1050.3,96.2L1046.3,94.6L1042.3,93.1L1038.3,91.6L1034.3,90.2L1030.2,88.9L1026.2,87.7L1022.2,86.5L1018.2,85.5L1014.2,84.5L1010.2,83.6L1006.1,82.7L1002.1,82L998.1,81.4L994.1,80.8L990.1,80.3L986.1,80L982,79.7L978,79.5L974,79.5L970,79.5Z" fill="#000" fill-opacity="0.25"/>
<path d="M970,256.8L974,253.6L978,250.4L982.1,247.2L986.1,244.1L990.1,240.9L994.1,237.8L998.1,234.7L1002.2,231.6L1006.2,228.5L1010.2,225.4L1014.2,222.4L1018.2,219.3L1022.2,216.3L1026.3,213.4L1030.3,210.4L1034.3,207.5L1038.3,204.6L1042.3,201.7L1046.4,198.9L1050.4,196L1054.4,193.2L1058.4,190.3L1062.4,187.5L1066.5,184.7L1070.5,181.8L1074.5,179L1078.5,176.1L1082.5,173.2L1086.6,170.4L1090.6,167.5L1094.6,164.6L1098.6,161.7L1102.6,158.8L1106.6,156L1110.7,153.1L1114.7,150.2L1118.7,147.4L1122.7,144.5L1126.7,141.7L1130.8,138.9L1134.8,136.1L1138.8,133.3L1142.8,130.6L1146.8,127.9L1150.9,125.2L1154.9,122.5L1158.9,119.9L1162.9,117.2L1166.9,114.7L1171,112.1L1175,109.6L1179,107.2L1183,104.8L1187,102.4L1191,100.1L1195.1,97.8L1199.1,95.6L1203.1,93.5L1207.1,91.4L1211.1,89.4L1215.2,87.4L1219.2,85.5L1223.2,83.7L1227.2,81.9L1231.2,80.2L1235.3,78.6L1239.3,77.1L1243.3,75.6L1247.3,74.3L1251.3,73L1255.4,71.8L1259.4,70.7L1263.4,69.7L1267.4,68.7L1271.4,67.9L1275.4,67.2L1279.5,66.6L1283.5,66.1L1287.5,65.7L1291.5,65.4L1295.5,65.2L1299.6,65.1L1303.6,65.2L1307.6,65.3L1307.6,78.9L1303.6,78.8L1299.6,78.7L1295.5,78.8L1291.5,79L1287.5,79.3L1283.5,79.7L1279.5,80.2L1275.4,80.8L1271.4,81.5L1267.4,82.3L1263.4,83.3L1259.4,84.3L1255.4,85.4L1251.3,86.6L1247.3,87.9L1243.3,89.2L1239.3,90.7L1235.3,92.2L1231.2,93.8L1227.2,95.5L1223.2,97.3L1219.2,99.1L1215.2,101L1211.1,103L1207.1,105L1203.1,107.1L1199.1,109.2L1195.1,111.4L1191,113.7L1187,116L1183,118.4L1179,120.8L1175,123.2L1171,125.7L1166.9,128.3L1162.9,130.8L1158.9,133.5L1154.9,136.1L1150.9,138.8L1146.8,141.5L1142.8,144.2L1138.8,146.9L1134.8,149.7L1130.8,152.5L1126.7,155.3L1122.7,158.1L1118.7,161L1114.7,163.8L1110.7,166.7L1106.6,169.6L1102.6,172.4L1098.6,175.3L1094.6,178.2L1090.6,181.1L1086.6,184L1082.5,186.8L1078.5,189.7L1074.5,192.6L1070.5,195.4L1066.5,198.3L1062.4,201.1L1058.4,203.9L1054.4,206.8L1050.4,209.6L1046.4,212.5L1042.3,215.3L1038.3,218.2L1034.3,221.1L1030.3,224L1026.3,227L1022.2,229.9L1018.2,232.9L1014.2,236L1010.2,239L1006.2,242.1L1002.2,245.2L998.1,248.3L994.1,251.4L990.1,254.5L986.1,257.7L982.1,260.8L978,264L974,267.2L970,270.4Z" fill="#000" fill-opacity="0.25"/>
<path d="M970,256.8L974,253.8L978,250.8L982.1,247.8L986.1,245L990.1,242.2L994.1,239.4L998.1,236.7L1002.2,234.1L1006.2,231.5L1010.2,229L1014.2,226.6L1018.2,224.2L1022.2,221.8L1026.3,219.6L1030.3,217.3L1034.3,215.2L1038.3,213.1L1042.3,211L1046.4,209L1050.4,207.1L1054.4,205.2L1058.4,203.4L1062.4,201.6L1066.5,199.8L1070.5,198.2L1074.5,196.5L1078.5,195L1082.5,193.5L1086.6,192L1090.6,190.6L1094.6,189.2L1098.6,187.9L1102.6,186.6L1106.6,185.4L1110.7,184.2L1114.7,183.1L1118.7,182L1122.7,181L1126.7,180L1130.8,179.1L1134.8,178.2L1138.8,177.3L1142.8,176.5L1146.8,175.8L1150.9,175.1L1154.9,174.4L1158.9,173.8L1162.9,173.2L1166.9,172.7L1171,172.2L1175,171.7L1179,171.3L1183,170.9L1187,170.5L1191,170.2L1195.1,169.9L1199.1,169.6L1203.1,169.4L1207.1,169.2L1211.1,169L1215.2,168.8L1219.2,168.6L1223.2,168.5L1227.2,168.3L1231.2,168.2L1235.3,168.1L1239.3,168.1L1243.3,168L1247.3,167.9L1251.3,167.8L1255.4,167.8L1259.4,167.7L1263.4,167.7L1267.4,167.6L1271.4,167.6L1275.4,167.5L1279.5,167.5L1283.5,167.4L1287.5,167.3L1291.5,167.3L1295.5,167.2L1299.6,167L1303.6,166.9L1307.6,166.8L1307.6,180.4L1303.6,180.5L1299.6,180.6L1295.5,180.8L1291.5,180.9L1287.5,180.9L1283.5,181L1279.5,181.1L1275.4,181.1L1271.4,181.2L1267.4,181.2L1263.4,181.3L1259.4,181.3L1255.4,181.4L1251.3,181.4L1247.3,181.5L1243.3,181.6L1239.3,181.7L1235.3,181.7L1231.2,181.8L1227.2,181.9L1223.2,182.1L1219.2,182.2L1215.2,182.4L1211.1,182.6L1207.1,182.8L1203.1,183L1199.1,183.2L1195.1,183.5L1191,183.8L1187,184.1L1183,184.5L1179,184.9L1175,185.3L1171,185.8L1166.9,186.3L1162.9,186.8L1158.9,187.4L1154.9,188L1150.9,188.7L1146.8,189.4L1142.8,190.1L1138.8,190.9L1134.8,191.8L1130.8,192.7L1126.7,193.6L1122.7,194.6L1118.7,195.6L1114.7,196.7L1110.7,197.8L1106.6,199L1102.6,200.2L1098.6,201.5L1094.6,202.8L1090.6,204.2L1086.6,205.6L1082.5,207.1L1078.5,208.6L1074.5,210.1L1070.5,211.8L1066.5,213.4L1062.4,215.2L1058.4,217L1054.4,218.8L1050.4,220.7L1046.4,222.6L1042.3,224.6L1038.3,226.7L1034.3,228.8L1030.3,230.9L1026.3,233.2L1022.2,235.4L1018.2,237.8L1014.2,240.2L1010.2,242.6L1006.2,245.1L1002.2,247.7L998.1,250.3L994.1,253L990.1,255.8L986.1,258.6L982.1,261.4L978,264.4L974,267.4L970,270.4Z" fill="#000" fill-opacity="0.25"/>
<path d="M732,272.3L736,272L740.1,271.7L744.1,271.4L748.1,271L752.2,270.7L756.2,270.4L760.2,270.1L764.3,269.7L768.3,269.4L772.3,269L776.4,268.7L780.4,268.4L784.4,268L788.5,267.7L792.5,267.3L796.5,267L800.6,266.6L804.6,266.3L808.6,265.9L812.7,265.6L816.7,265.2L820.7,264.9L824.8,264.5L828.8,264.2L832.8,263.8L836.9,263.5L840.9,263.2L844.9,262.8L849,262.5L853,262.1L857.1,261.8L861.1,261.5L865.1,261.2L869.2,260.9L873.2,260.5L877.2,260.2L881.3,259.9L885.3,259.6L889.3,259.3L893.4,259.1L897.4,258.8L901.4,258.5L905.5,258.2L909.5,258L913.5,257.7L917.6,257.5L921.6,257.2L925.6,257L929.7,256.8L933.7,256.6L937.7,256.4L941.8,256.2L945.8,256L949.8,255.8L953.9,255.7L957.9,255.5L961.9,255.4L966,255.2L970,255.1L970,272.1L966,272.2L961.9,272.4L957.9,272.5L953.9,272.7L949.8,272.8L945.8,273L941.8,273.2L937.7,273.4L933.7,273.6L929.7,273.8L925.6,274L921.6,274.2L917.6,274.5L913.5,274.7L909.5,275L905.5,275.2L901.4,275.5L897.4,275.8L893.4,276.1L889.3,276.3L885.3,276.6L881.3,276.9L877.2,277.2L873.2,277.5L869.2,277.9L865.1,278.2L861.1,278.5L857.1,278.8L853,279.1L849,279.5L844.9,279.8L840.9,280.2L836.9,280.5L832.8,280.8L828.8,281.2L824.8,281.5L820.7,281.9L816.7,282.2L812.7,282.6L808.6,282.9L804.6,283.3L800.6,283.6L796.5,284L792.5,284.3L788.5,284.7L784.4,285L780.4,285.4L776.4,285.7L772.3,286L768.3,286.4L764.3,286.7L760.2,287.1L756.2,287.4L752.2,287.7L748.1,288L744.1,288.4L740.1,288.7L736,289L732,289.3Z" fill="#000" fill-opacity="0.5"/>
<path d="M732,272.3L736,272.3L740.1,272.3L744.1,272.4L748.1,272.5L752.2,272.7L756.2,273L760.2,273.3L764.3,273.7L768.3,274.1L772.3,274.5L776.4,275L780.4,275.6L784.4,276.1L788.5,276.7L792.5,277.4L796.5,278.1L800.6,278.8L804.6,279.5L808.6,280.3L812.7,281L816.7,281.8L820.7,282.7L824.8,283.5L828.8,284.3L832.8,285.2L836.9,286L840.9,286.9L844.9,287.8L849,288.6L853,289.5L857.1,290.4L861.1,291.2L865.1,292.1L869.2,292.9L873.2,293.7L877.2,294.5L881.3,295.3L885.3,296.1L889.3,296.8L893.4,297.6L897.4,298.2L901.4,298.9L905.5,299.5L909.5,300.1L913.5,300.7L917.6,301.2L921.6,301.7L925.6,302.1L929.7,302.5L933.7,302.8L937.7,303.1L941.8,303.3L945.8,303.5L949.8,303.6L953.9,303.7L957.9,303.6L961.9,303.6L966,303.4L970,303.2L970,320.2L966,320.4L961.9,320.6L957.9,320.6L953.9,320.7L949.8,320.6L945.8,320.5L941.8,320.3L937.7,320.1L933.7,319.8L929.7,319.5L925.6,319.1L921.6,318.7L917.6,318.2L913.5,317.7L909.5,317.1L905.5,316.5L901.4,315.9L897.4,315.2L893.4,314.6L889.3,313.8L885.3,313.1L881.3,312.3L877.2,311.5L873.2,310.7L869.2,309.9L865.1,309.1L861.1,308.2L857.1,307.4L853,306.5L849,305.6L844.9,304.8L840.9,303.9L836.9,303L832.8,302.2L828.8,301.3L824.8,300.5L820.7,299.7L816.7,298.8L812.7,298L808.6,297.3L804.6,296.5L800.6,295.8L796.5,295.1L792.5,294.4L788.5,293.7L784.4,293.1L780.4,292.6L776.4,292L772.3,291.5L768.3,291.1L764.3,290.7L760.2,290.3L756.2,290L752.2,289.7L748.1,289.5L744.1,289.4L740.1,289.3L736,289.3L732,289.3Z" fill="#000" fill-opacity="0.5"/>
<path d="M732,275L736,275.5L740.1,276L744.1,276.4L748.1,277L752.2,277.5L756.2,278L760.2,278.5L764.3,279.1L768.3,279.6L772.3,280.2L776.4,280.7L780.4,281.3L784.4,281.9L788.5,282.5L792.5,283.1L796.5,283.7L800.6,284.3L804.6,285L808.6,285.6L812.7,286.3L816.7,287L820.7,287.6L824.8,288.3L828.8,289L832.8,289.7L836.9,290.5L840.9,291.2L844.9,292L849,292.8L853,293.8L857.1,294.7L861.1,295.7L865.1,296.7L869.2,297.7L873.2,298.6L877.2,299.5L881.3,300.3L885.3,301L889.3,301.6L893.4,302L897.4,302.3L901.4,302.6L905.5,302.9L909.5,303.1L913.5,303.4L917.6,303.6L921.6,303.8L925.6,304L929.7,304.2L933.7,304.4L937.7,304.5L941.8,304.7L945.8,304.8L949.8,304.9L953.9,305L957.9,305.1L961.9,305.2L966,305.2L970,305.2L970,318.8L966,318.8L961.9,318.8L957.9,318.7L953.9,318.6L949.8,318.5L945.8,318.4L941.8,318.3L937.7,318.1L933.7,318L929.7,317.8L925.6,317.6L921.6,317.4L917.6,317.2L913.5,317L909.5,316.7L905.5,316.5L901.4,316.2L897.4,315.9L893.4,315.6L889.3,315.2L885.3,314.6L881.3,313.9L877.2,313.1L873.2,312.2L869.2,311.3L865.1,310.3L861.1,309.3L857.1,308.3L853,307.4L849,306.4L844.9,305.6L840.9,304.8L836.9,304.1L832.8,303.3L828.8,302.6L824.8,301.9L820.7,301.2L816.7,300.6L812.7,299.9L808.6,299.2L804.6,298.6L800.6,297.9L796.5,297.3L792.5,296.7L788.5,296.1L784.4,295.5L780.4,294.9L776.4,294.3L772.3,293.8L768.3,293.2L764.3,292.7L760.2,292.1L756.2,291.6L752.2,291.1L748.1,290.6L744.1,290L740.1,289.6L736,289.1L732,288.6Z" fill="#000" fill-opacity="0.3"/>
<path d="M732,369.4L736,365.5L740.1,361.7L744.1,358.1L748.1,354.6L752.2,351.3L756.2,348.1L760.2,345L764.3,342.1L768.3,339.3L772.3,336.7L776.4,334.1L780.4,331.7L784.4,329.4L788.5,327.3L792.5,325.2L796.5,323.3L800.6,321.4L804.6,319.7L808.6,318.1L812.7,316.5L816.7,315.1L820.7,313.8L824.8,312.5L828.8,311.4L832.8,310.3L836.9,309.3L840.9,308.4L844.9,307.6L849,306.9L853,306.2L857.1,305.6L861.1,305L865.1,304.6L869.2,304.1L873.2,303.8L877.2,303.5L881.3,303.2L885.3,303L889.3,302.8L893.4,302.7L897.4,302.6L901.4,302.6L905.5,302.6L909.5,302.6L913.5,302.7L917.6,302.8L921.6,302.9L925.6,303L929.7,303.1L933.7,303.3L937.7,303.4L941.8,303.6L945.8,303.8L949.8,304L953.9,304.2L957.9,304.4L961.9,304.5L966,304.7L970,304.9L970,318.5L966,318.3L961.9,318.1L957.9,318L953.9,317.8L949.8,317.6L945.8,317.4L941.8,317.2L937.7,317L933.7,316.9L929.7,316.7L925.6,316.6L921.6,316.5L917.6,316.4L913.5,316.3L909.5,316.2L905.5,316.2L901.4,316.2L897.4,316.2L893.4,316.3L889.3,316.4L885.3,316.6L881.3,316.8L877.2,317.1L873.2,317.4L869.2,317.7L865.1,318.2L861.1,318.6L857.1,319.2L853,319.8L849,320.5L844.9,321.2L840.9,322L836.9,322.9L832.8,323.9L828.8,325L824.8,326.1L820.7,327.4L816.7,328.7L812.7,330.1L808.6,331.7L804.6,333.3L800.6,335L796.5,336.9L792.5,338.8L788.5,340.9L784.4,343L780.4,345.3L776.4,347.7L772.3,350.3L768.3,352.9L764.3,355.7L760.2,358.6L756.2,361.7L752.2,364.9L748.1,368.2L744.1,371.7L740.1,375.3L736,379.1L732,383Z" fill="#000" fill-opacity="0.35"/>
<path d="M732,369.4L736,369.5L740.1,369.5L744.1,369.4L748.1,369.2L752.2,369L756.2,368.7L760.2,368.3L764.3,367.8L768.3,367.2L772.3,366.5L776.4,365.8L780.4,365L784.4,364.1L788.5,363.1L792.5,362.1L796.5,361L800.6,359.8L804.6,358.6L808.6,357.2L812.7,355.8L816.7,354.4L820.7,352.8L824.8,351.2L828.8,349.6L832.8,347.8L836.9,346L840.9,344.2L844.9,342.2L849,340.3L853,338.2L857.1,336.1L861.1,333.9L865.1,331.7L869.2,329.4L873.2,327.1L877.2,324.7L881.3,322.3L885.3,319.8L889.3,317.2L893.4,314.6L897.4,312L901.4,309.3L905.5,306.5L909.5,303.8L913.5,300.9L917.6,298L921.6,295.1L925.6,292.1L929.7,289.1L933.7,286L937.7,282.9L941.8,279.8L945.8,276.6L949.8,273.4L953.9,270.2L957.9,266.9L961.9,263.5L966,260.2L970,256.8L970,270.4L966,273.8L961.9,277.1L957.9,280.5L953.9,283.8L949.8,287L945.8,290.2L941.8,293.4L937.7,296.5L933.7,299.6L929.7,302.7L925.6,305.7L921.6,308.7L917.6,311.6L913.5,314.5L909.5,317.4L905.5,320.1L901.4,322.9L897.4,325.6L893.4,328.2L889.3,330.8L885.3,333.4L881.3,335.9L877.2,338.3L873.2,340.7L869.2,343L865.1,345.3L861.1,347.5L857.1,349.7L853,351.8L849,353.9L844.9,355.8L840.9,357.8L836.9,359.6L832.8,361.4L828.8,363.2L824.8,364.8L820.7,366.4L816.7,368L812.7,369.4L808.6,370.8L804.6,372.2L800.6,373.4L796.5,374.6L792.5,375.7L788.5,376.7L784.4,377.7L780.4,378.6L776.4,379.4L772.3,380.1L768.3,380.8L764.3,381.4L760.2,381.9L756.2,382.3L752.2,382.6L748.1,382.8L744.1,383L740.1,383.1L736,383.1L732,383Z" fill="#000" fill-opacity="0.35"/>
<path d="M970,256L974,255.8L978,255.6L982,255.4L986.1,255.3L990.1,255.3L994.1,255.2L998.1,255.2L1002.1,255.3L1006.1,255.3L1010.2,255.5L1014.2,255.6L1018.2,255.8L1022.2,256L1026.2,256.2L1030.2,256.5L1034.3,256.8L1038.3,257.2L1042.3,257.5L1046.3,257.9L1050.3,258.4L1054.3,258.8L1058.4,259.3L1062.4,259.8L1066.4,260.4L1070.4,261L1074.4,261.6L1078.5,262.2L1082.5,262.8L1086.5,263.5L1090.5,264.2L1094.5,264.9L1098.5,265.7L1102.5,266.5L1106.6,267.2L1110.6,268.1L1114.6,268.9L1118.6,269.7L1122.6,270.6L1126.7,271.5L1130.7,272.4L1134.7,273.4L1138.7,274.3L1142.7,275.3L1146.7,276.2L1150.8,277.2L1154.8,278.2L1158.8,279.2L1162.8,280.3L1166.8,281.3L1170.8,282.3L1174.9,283.3L1178.9,284.3L1182.9,285.3L1186.9,286.3L1190.9,287.3L1194.9,288.3L1199,289.2L1203,290.2L1207,291.1L1211,292L1215,292.9L1219,293.7L1223,294.6L1227.1,295.4L1231.1,296.1L1235.1,296.9L1239.1,297.6L1243.1,298.3L1247.2,298.9L1251.2,299.5L1255.2,300.1L1259.2,300.6L1263.2,301.2L1267.2,301.6L1271.2,302.1L1275.3,302.5L1279.3,302.9L1283.3,303.3L1287.3,303.6L1291.3,303.9L1295.4,304.1L1299.4,304.3L1303.4,304.5L1307.4,304.6L1307.4,319.9L1303.4,319.8L1299.4,319.6L1295.4,319.4L1291.3,319.2L1287.3,318.9L1283.3,318.6L1279.3,318.2L1275.3,317.8L1271.2,317.4L1267.2,316.9L1263.2,316.5L1259.2,315.9L1255.2,315.4L1251.2,314.8L1247.2,314.2L1243.1,313.6L1239.1,312.9L1235.1,312.2L1231.1,311.4L1227.1,310.7L1223,309.9L1219,309L1215,308.2L1211,307.3L1207,306.4L1203,305.5L1199,304.5L1194.9,303.6L1190.9,302.6L1186.9,301.6L1182.9,300.6L1178.9,299.6L1174.9,298.6L1170.8,297.6L1166.8,296.6L1162.8,295.6L1158.8,294.5L1154.8,293.5L1150.8,292.5L1146.7,291.5L1142.7,290.6L1138.7,289.6L1134.7,288.7L1130.7,287.7L1126.7,286.8L1122.6,285.9L1118.6,285L1114.6,284.2L1110.6,283.4L1106.6,282.5L1102.5,281.8L1098.5,281L1094.5,280.2L1090.5,279.5L1086.5,278.8L1082.5,278.1L1078.5,277.5L1074.4,276.9L1070.4,276.3L1066.4,275.7L1062.4,275.1L1058.4,274.6L1054.3,274.1L1050.3,273.7L1046.3,273.2L1042.3,272.8L1038.3,272.5L1034.3,272.1L1030.2,271.8L1026.2,271.5L1022.2,271.3L1018.2,271.1L1014.2,270.9L1010.2,270.8L1006.1,270.6L1002.1,270.6L998.1,270.5L994.1,270.5L990.1,270.6L986.1,270.6L982,270.7L978,270.9L974,271.1L970,271.3Z" fill="#000" fill-opacity="0.45"/>
<path d="M970,255.9L974,258.2L978,260.4L982,262.6L986.1,264.7L990.1,266.8L994.1,268.8L998.1,270.8L1002.1,272.7L1006.1,274.6L1010.2,276.5L1014.2,278.3L1018.2,280.1L1022.2,281.8L1026.2,283.4L1030.2,285.1L1034.3,286.6L1038.3,288.1L1042.3,289.6L1046.3,291L1050.3,292.4L1054.3,293.7L1058.4,294.9L1062.4,296.1L1066.4,297.3L1070.4,298.3L1074.4,299.4L1078.5,300.3L1082.5,301.3L1086.5,302.1L1090.5,302.9L1094.5,303.7L1098.5,304.4L1102.5,305L1106.6,305.6L1110.6,306.1L1114.6,306.5L1118.6,306.9L1122.6,307.2L1126.7,307.5L1130.7,307.7L1134.7,307.8L1138.7,307.9L1142.7,307.9L1146.7,307.8L1150.8,307.7L1154.8,307.5L1158.8,307.2L1162.8,306.9L1166.8,306.5L1170.8,306.1L1174.9,305.6L1178.9,305L1182.9,304.4L1186.9,303.7L1190.9,302.9L1194.9,302.1L1199,301.2L1203,300.3L1207,299.3L1211,298.2L1215,297.1L1219,295.9L1223,294.7L1227.1,293.4L1231.1,292L1235.1,290.6L1239.1,289.2L1243.1,287.6L1247.2,286L1251.2,284.4L1255.2,282.7L1259.2,281L1263.2,279.2L1267.2,277.3L1271.2,275.4L1275.3,273.4L1279.3,271.4L1283.3,269.3L1287.3,267.2L1291.3,265L1295.4,262.8L1299.4,260.5L1303.4,258.2L1307.4,255.8L1307.4,271.1L1303.4,273.5L1299.4,275.8L1295.4,278.1L1291.3,280.3L1287.3,282.5L1283.3,284.6L1279.3,286.7L1275.3,288.7L1271.2,290.7L1267.2,292.6L1263.2,294.5L1259.2,296.3L1255.2,298L1251.2,299.7L1247.2,301.3L1243.1,302.9L1239.1,304.5L1235.1,305.9L1231.1,307.3L1227.1,308.7L1223,310L1219,311.2L1215,312.4L1211,313.5L1207,314.6L1203,315.6L1199,316.5L1194.9,317.4L1190.9,318.2L1186.9,319L1182.9,319.7L1178.9,320.3L1174.9,320.9L1170.8,321.4L1166.8,321.8L1162.8,322.2L1158.8,322.5L1154.8,322.8L1150.8,323L1146.7,323.1L1142.7,323.2L1138.7,323.2L1134.7,323.1L1130.7,323L1126.7,322.8L1122.6,322.5L1118.6,322.2L1114.6,321.8L1110.6,321.4L1106.6,320.9L1102.5,320.3L1098.5,319.7L1094.5,319L1090.5,318.2L1086.5,317.4L1082.5,316.6L1078.5,315.6L1074.4,314.7L1070.4,313.6L1066.4,312.6L1062.4,311.4L1058.4,310.2L1054.3,309L1050.3,307.7L1046.3,306.3L1042.3,304.9L1038.3,303.4L1034.3,301.9L1030.2,300.4L1026.2,298.7L1022.2,297.1L1018.2,295.4L1014.2,293.6L1010.2,291.8L1006.1,289.9L1002.1,288L998.1,286.1L994.1,284.1L990.1,282.1L986.1,280L982,277.9L978,275.7L974,273.5L970,271.2Z" fill="#000" fill-opacity="0.45"/>
<path d="M970,304.1L974,304.2L978,304.2L982,304.1L986.1,304L990.1,303.8L994.1,303.6L998.1,303.3L1002.1,302.9L1006.1,302.5L1010.2,302L1014.2,301.5L1018.2,300.9L1022.2,300.3L1026.2,299.7L1030.2,299L1034.3,298.3L1038.3,297.5L1042.3,296.7L1046.3,295.9L1050.3,295L1054.3,294.1L1058.4,293.2L1062.4,292.3L1066.4,291.3L1070.4,290.3L1074.4,289.3L1078.5,288.3L1082.5,287.3L1086.5,286.2L1090.5,285.2L1094.5,284.1L1098.5,283.1L1102.5,282L1106.6,281L1110.6,279.9L1114.6,278.9L1118.6,277.8L1122.6,276.8L1126.7,275.8L1130.7,274.8L1134.7,273.8L1138.7,272.8L1142.7,271.8L1146.7,270.9L1150.8,270L1154.8,269.1L1158.8,268.2L1162.8,267.4L1166.8,266.6L1170.8,265.8L1174.9,265.1L1178.9,264.4L1182.9,263.7L1186.9,263L1190.9,262.4L1194.9,261.8L1199,261.2L1203,260.6L1207,260.1L1211,259.6L1215,259.1L1219,258.7L1223,258.2L1227.1,257.9L1231.1,257.5L1235.1,257.2L1239.1,256.9L1243.1,256.6L1247.2,256.3L1251.2,256.1L1255.2,255.9L1259.2,255.7L1263.2,255.6L1267.2,255.5L1271.2,255.4L1275.3,255.4L1279.3,255.3L1283.3,255.3L1287.3,255.4L1291.3,255.4L1295.4,255.5L1299.4,255.6L1303.4,255.7L1307.4,255.9L1307.4,271.2L1303.4,271L1299.4,270.9L1295.4,270.8L1291.3,270.7L1287.3,270.7L1283.3,270.6L1279.3,270.6L1275.3,270.7L1271.2,270.7L1267.2,270.8L1263.2,270.9L1259.2,271L1255.2,271.2L1251.2,271.4L1247.2,271.6L1243.1,271.9L1239.1,272.2L1235.1,272.5L1231.1,272.8L1227.1,273.2L1223,273.5L1219,274L1215,274.4L1211,274.9L1207,275.4L1203,275.9L1199,276.5L1194.9,277.1L1190.9,277.7L1186.9,278.3L1182.9,279L1178.9,279.7L1174.9,280.4L1170.8,281.1L1166.8,281.9L1162.8,282.7L1158.8,283.5L1154.8,284.4L1150.8,285.3L1146.7,286.2L1142.7,287.1L1138.7,288.1L1134.7,289.1L1130.7,290.1L1126.7,291.1L1122.6,292.1L1118.6,293.1L1114.6,294.2L1110.6,295.2L1106.6,296.3L1102.5,297.3L1098.5,298.4L1094.5,299.4L1090.5,300.5L1086.5,301.5L1082.5,302.6L1078.5,303.6L1074.4,304.6L1070.4,305.6L1066.4,306.6L1062.4,307.6L1058.4,308.5L1054.3,309.4L1050.3,310.3L1046.3,311.2L1042.3,312L1038.3,312.8L1034.3,313.6L1030.2,314.3L1026.2,315L1022.2,315.6L1018.2,316.2L1014.2,316.8L1010.2,317.3L1006.1,317.8L1002.1,318.2L998.1,318.6L994.1,318.9L990.1,319.1L986.1,319.3L982,319.4L978,319.5L974,319.5L970,319.4Z" fill="#000" fill-opacity="0.45"/>
<path d="M970,304.1L974,304.1L978,304.2L982,304.2L986.1,304.2L990.1,304.3L994.1,304.3L998.1,304.3L1002.1,304.4L1006.1,304.4L1010.2,304.5L1014.2,304.5L1018.2,304.6L1022.2,304.6L1026.2,304.7L1030.2,304.7L1034.3,304.8L1038.3,304.8L1042.3,304.9L1046.3,304.9L1050.3,305L1054.3,305.1L1058.4,305.1L1062.4,305.2L1066.4,305.3L1070.4,305.4L1074.4,305.5L1078.5,305.6L1082.5,305.7L1086.5,305.8L1090.5,305.9L1094.5,306L1098.5,306.1L1102.5,306.2L1106.6,306.3L1110.6,306.4L1114.6,306.5L1118.6,306.6L1122.6,306.6L1126.7,306.7L1130.7,306.7L1134.7,306.8L1138.7,306.8L1142.7,306.8L1146.7,306.8L1150.8,306.7L1154.8,306.7L1158.8,306.6L1162.8,306.5L1166.8,306.4L1170.8,306.3L1174.9,306.2L1178.9,306.1L1182.9,305.9L1186.9,305.8L1190.9,305.7L1194.9,305.6L1199,305.5L1203,305.4L1207,305.4L1211,305.3L1215,305.2L1219,305.1L1223,305.1L1227.1,305L1231.1,304.9L1235.1,304.9L1239.1,304.8L1243.1,304.7L1247.2,304.7L1251.2,304.6L1255.2,304.5L1259.2,304.5L1263.2,304.4L1267.2,304.3L1271.2,304.3L1275.3,304.2L1279.3,304.2L1283.3,304.1L1287.3,304.1L1291.3,304L1295.4,303.9L1299.4,303.9L1303.4,303.8L1307.4,303.8L1307.4,320.8L1303.4,320.8L1299.4,320.9L1295.4,320.9L1291.3,321L1287.3,321.1L1283.3,321.1L1279.3,321.2L1275.3,321.2L1271.2,321.3L1267.2,321.3L1263.2,321.4L1259.2,321.5L1255.2,321.5L1251.2,321.6L1247.2,321.7L1243.1,321.7L1239.1,321.8L1235.1,321.9L1231.1,321.9L1227.1,322L1223,322.1L1219,322.1L1215,322.2L1211,322.3L1207,322.4L1203,322.4L1199,322.5L1194.9,322.6L1190.9,322.7L1186.9,322.8L1182.9,322.9L1178.9,323.1L1174.9,323.2L1170.8,323.3L1166.8,323.4L1162.8,323.5L1158.8,323.6L1154.8,323.7L1150.8,323.7L1146.7,323.8L1142.7,323.8L1138.7,323.8L1134.7,323.8L1130.7,323.7L1126.7,323.7L1122.6,323.6L1118.6,323.6L1114.6,323.5L1110.6,323.4L1106.6,323.3L1102.5,323.2L1098.5,323.1L1094.5,323L1090.5,322.9L1086.5,322.8L1082.5,322.7L1078.5,322.6L1074.4,322.5L1070.4,322.4L1066.4,322.3L1062.4,322.2L1058.4,322.1L1054.3,322.1L1050.3,322L1046.3,321.9L1042.3,321.9L1038.3,321.8L1034.3,321.8L1030.2,321.7L1026.2,321.7L1022.2,321.6L1018.2,321.6L1014.2,321.5L1010.2,321.5L1006.1,321.4L1002.1,321.4L998.1,321.3L994.1,321.3L990.1,321.3L986.1,321.2L982,321.2L978,321.2L974,321.1L970,321.1Z" fill="#000" fill-opacity="0.6"/>
<path d="M732,367.3L736,370.9L740.1,374.7L744.1,378.7L748.1,382.8L752.2,387.1L756.2,391.5L760.2,396.1L764.3,400.9L768.3,405.8L772.3,410.7L776.4,415.8L780.4,421.1L784.4,426.4L788.5,431.7L792.5,437.2L796.5,442.8L800.6,448.4L804.6,454L808.6,459.8L812.7,465.5L816.7,471.3L820.7,477.1L824.8,483L828.8,488.8L832.8,494.6L836.9,500.5L840.9,506.3L844.9,512.1L849,517.8L853,523.5L857.1,529.2L861.1,534.8L865.1,540.4L869.2,545.9L873.2,551.3L877.2,556.6L881.3,561.8L885.3,566.9L889.3,571.8L893.4,576.7L897.4,581.4L901.4,585.9L905.5,590.3L909.5,594.5L913.5,598.5L917.6,602.3L921.6,605.9L925.6,609.3L929.7,612.4L933.7,615.3L937.7,618L941.8,620.4L945.8,622.5L949.8,624.3L953.9,625.8L957.9,627L961.9,627.8L966,628.4L970,628.6L970,646.4L966,646.2L961.9,645.7L957.9,644.8L953.9,643.6L949.8,642.1L945.8,640.3L941.8,638.2L937.7,635.8L933.7,633.2L929.7,630.3L925.6,627.2L921.6,623.8L917.6,620.2L913.5,616.4L909.5,612.4L905.5,608.2L901.4,603.8L897.4,599.2L893.4,594.5L889.3,589.7L885.3,584.7L881.3,579.6L877.2,574.4L873.2,569.1L869.2,563.7L865.1,558.2L861.1,552.7L857.1,547.1L853,541.4L849,535.7L844.9,529.9L840.9,524.1L836.9,518.3L832.8,512.5L828.8,506.6L824.8,500.8L820.7,495L816.7,489.2L812.7,483.4L808.6,477.6L804.6,471.9L800.6,466.2L796.5,460.6L792.5,455.1L788.5,449.6L784.4,444.2L780.4,438.9L776.4,433.7L772.3,428.6L768.3,423.6L764.3,418.7L760.2,414L756.2,409.4L752.2,404.9L748.1,400.6L744.1,396.5L740.1,392.5L736,388.7L732,385.1Z" fill="url(#gb19)"/>
<path d="M970,628.6L974,627.8L978,626.8L982,625.7L986.1,624.5L990.1,623.1L994.1,621.5L998.1,619.8L1002.1,617.9L1006.1,615.8L1010.2,613.6L1014.2,611.2L1018.2,608.6L1022.2,605.8L1026.2,602.8L1030.2,599.6L1034.3,596.2L1038.3,592.5L1042.3,588.7L1046.3,584.6L1050.3,580.3L1054.3,575.8L1058.4,571L1062.4,566L1066.4,560.8L1070.4,555.3L1074.4,549.7L1078.5,543.9L1082.5,537.8L1086.5,531.7L1090.5,525.4L1094.5,519L1098.5,512.4L1102.5,505.8L1106.6,499.2L1110.6,492.5L1114.6,485.8L1118.6,479.2L1122.6,472.6L1126.7,466.1L1130.7,459.7L1134.7,453.5L1138.7,447.5L1142.7,441.6L1146.7,436L1150.8,430.5L1154.8,425.1L1158.8,419.9L1162.8,414.7L1166.8,409.6L1170.8,404.5L1174.9,399.4L1178.9,394.3L1182.9,389.1L1186.9,383.9L1190.9,378.6L1194.9,373.3L1199,368L1203,362.7L1207,357.5L1211,352.3L1215,347.2L1219,342.3L1223,337.4L1227.1,332.8L1231.1,328.2L1235.1,323.9L1239.1,319.6L1243.1,315.5L1247.2,311.5L1251.2,307.5L1255.2,303.7L1259.2,299.9L1263.2,296.1L1267.2,292.4L1271.2,288.7L1275.3,285.1L1279.3,281.4L1283.3,277.7L1287.3,274L1291.3,270.3L1295.4,266.4L1299.4,262.6L1303.4,258.6L1307.4,254.6L1307.4,272.4L1303.4,276.5L1299.4,280.4L1295.4,284.3L1291.3,288.1L1287.3,291.9L1283.3,295.6L1279.3,299.3L1275.3,302.9L1271.2,306.6L1267.2,310.3L1263.2,314L1259.2,317.7L1255.2,321.5L1251.2,325.4L1247.2,329.3L1243.1,333.3L1239.1,337.5L1235.1,341.7L1231.1,346.1L1227.1,350.6L1223,355.3L1219,360.1L1215,365.1L1211,370.2L1207,375.3L1203,380.6L1199,385.9L1194.9,391.2L1190.9,396.5L1186.9,401.8L1182.9,407L1178.9,412.2L1174.9,417.3L1170.8,422.4L1166.8,427.4L1162.8,432.5L1158.8,437.7L1154.8,443L1150.8,448.3L1146.7,453.8L1142.7,459.5L1138.7,465.3L1134.7,471.4L1130.7,477.6L1126.7,484L1122.6,490.4L1118.6,497L1114.6,503.7L1110.6,510.4L1106.6,517L1102.5,523.7L1098.5,530.3L1094.5,536.8L1090.5,543.2L1086.5,549.5L1082.5,555.7L1078.5,561.7L1074.4,567.5L1070.4,573.2L1066.4,578.7L1062.4,583.9L1058.4,588.9L1054.3,593.7L1050.3,598.2L1046.3,602.5L1042.3,606.5L1038.3,610.4L1034.3,614L1030.2,617.4L1026.2,620.6L1022.2,623.6L1018.2,626.4L1014.2,629L1010.2,631.4L1006.1,633.7L1002.1,635.7L998.1,637.6L994.1,639.4L990.1,640.9L986.1,642.3L982,643.6L978,644.7L974,645.6L970,646.5Z" fill="url(#gb20)"/>
<path d="M970,256.8L974,259.9L978,263.2L982.1,266.6L986.1,270.2L990.1,273.9L994.1,277.7L998.2,281.6L1002.2,285.7L1006.2,289.8L1010.2,294L1014.3,298.4L1018.3,302.7L1022.3,307.2L1026.3,311.7L1030.4,316.2L1034.4,320.8L1038.4,325.3L1042.4,330L1046.5,334.6L1050.5,339.2L1054.5,343.9L1058.5,348.6L1062.5,353.3L1066.6,358.1L1070.6,362.8L1074.6,367.6L1078.6,372.4L1082.7,377.3L1086.7,382.1L1090.7,387L1094.7,391.9L1098.8,396.8L1102.8,401.7L1106.8,406.7L1110.8,411.6L1114.9,416.6L1118.9,421.6L1122.9,426.7L1126.9,431.7L1131,436.8L1135,441.8L1139,446.9L1143,452L1147,457.1L1151.1,462.2L1155.1,467.4L1159.1,472.5L1163.1,477.6L1167.2,482.8L1171.2,487.9L1175.2,493L1179.2,498.2L1183.3,503.3L1187.3,508.4L1191.3,513.6L1195.3,518.7L1199.4,523.8L1203.4,528.9L1207.4,534L1211.4,539.1L1215.5,544.1L1219.5,549.1L1223.5,554L1227.5,558.9L1231.5,563.6L1235.6,568.2L1239.6,572.8L1243.6,577.2L1247.6,581.5L1251.7,585.7L1255.7,589.8L1259.7,593.7L1263.7,597.6L1267.8,601.3L1271.8,604.9L1275.8,608.4L1279.8,611.8L1283.9,615L1287.9,618L1291.9,621L1295.9,623.8L1300,626.4L1304,628.9L1308,631.2L1308,644.8L1304,642.5L1300,640L1295.9,637.4L1291.9,634.6L1287.9,631.6L1283.9,628.6L1279.8,625.4L1275.8,622L1271.8,618.5L1267.8,614.9L1263.7,611.2L1259.7,607.3L1255.7,603.4L1251.7,599.3L1247.6,595.1L1243.6,590.8L1239.6,586.4L1235.6,581.8L1231.5,577.2L1227.5,572.5L1223.5,567.6L1219.5,562.7L1215.5,557.7L1211.4,552.7L1207.4,547.6L1203.4,542.5L1199.4,537.4L1195.3,532.3L1191.3,527.2L1187.3,522L1183.3,516.9L1179.2,511.8L1175.2,506.6L1171.2,501.5L1167.2,496.4L1163.1,491.2L1159.1,486.1L1155.1,481L1151.1,475.8L1147,470.7L1143,465.6L1139,460.5L1135,455.4L1131,450.4L1126.9,445.3L1122.9,440.3L1118.9,435.2L1114.9,430.2L1110.8,425.2L1106.8,420.3L1102.8,415.3L1098.8,410.4L1094.7,405.5L1090.7,400.6L1086.7,395.7L1082.7,390.9L1078.6,386L1074.6,381.2L1070.6,376.4L1066.6,371.7L1062.5,366.9L1058.5,362.2L1054.5,357.5L1050.5,352.8L1046.5,348.2L1042.4,343.6L1038.4,338.9L1034.4,334.4L1030.4,329.8L1026.3,325.3L1022.3,320.8L1018.3,316.3L1014.3,312L1010.2,307.6L1006.2,303.4L1002.2,299.3L998.2,295.2L994.1,291.3L990.1,287.5L986.1,283.8L982.1,280.2L978,276.8L974,273.5L970,270.4Z" fill="url(#gb21)"/>
<ellipse cx="970" cy="603" rx="14" ry="7" fill="#fff" fill-opacity="0.6"/>
<ellipse cx="1308" cy="602" rx="14" ry="7" fill="#fff" fill-opacity="0.6"/>
<ellipse cx="968" cy="643" rx="17" ry="8" fill="#000" fill-opacity="0.55"/>
<ellipse cx="1140" cy="522" rx="28" ry="11" fill="#fff" fill-opacity="0.5"/>
</g>
<g fill="none" stroke="#000" stroke-opacity="0.85" stroke-width="1.65" stroke-linejoin="round">
<path d="M732,110.8L734.5,110.5L737,110.2L739.5,109.9L742,109.6L744.5,109.2L747,108.9L749.5,108.5L752,108.1L754.5,107.8L757.1,107.4L759.6,106.9L762.1,106.5L764.6,106.1L767.1,105.7L769.6,105.2L772.1,104.7L774.6,104.3L777.1,103.8L779.6,103.3L782.1,102.8L784.6,102.3L787.1,101.8L789.6,101.3L792.1,100.8L794.6,100.3L797.1,99.8L799.6,99.2L802.1,98.7L804.7,98.1L807.2,97.6L809.7,97.1L812.2,96.5L814.7,95.9L817.2,95.4L819.7,94.8L822.2,94.3L824.7,93.7L827.2,93.2L829.7,92.6L832.2,92L834.7,91.5L837.2,90.9L839.7,90.4L842.2,89.8L844.7,89.3L847.2,88.7L849.7,88.2L852.3,87.6L854.8,87.1L857.3,86.5L859.8,86L862.3,85.5L864.8,85L867.3,84.4L869.8,83.9L872.3,83.4L874.8,82.9L877.3,82.4L879.8,81.9L882.3,81.5L884.8,81L887.3,80.5L889.8,80.1L892.3,79.6L894.8,79.2L897.3,78.8L899.9,78.4L902.4,78L904.9,77.6L907.4,77.2L909.9,76.9L912.4,76.5L914.9,76.2L917.4,75.8L919.9,75.5L922.4,75.2L924.9,74.9L927.4,74.7L929.9,74.4L932.4,74.2L934.9,74L937.4,73.7L939.9,73.6L942.4,73.4L944.9,73.2L947.5,73.1L950,73L952.5,72.9L955,72.8L957.5,72.7L960,72.7L962.5,72.6L965,72.6L967.5,72.7L970,72.7"/>
<path d="M732,111.8L734.5,112L737,112.2L739.5,112.3L742,112.5L744.5,112.6L747,112.7L749.5,112.8L752,112.8L754.5,112.9L757.1,112.9L759.6,112.8L762.1,112.8L764.6,112.7L767.1,112.6L769.6,112.5L772.1,112.4L774.6,112.2L777.1,112.1L779.6,111.9L782.1,111.6L784.6,111.4L787.1,111.1L789.6,110.9L792.1,110.6L794.6,110.2L797.1,109.9L799.6,109.5L802.1,109.1L804.7,108.7L807.2,108.3L809.7,107.8L812.2,107.4L814.7,106.9L817.2,106.4L819.7,105.9L822.2,105.3L824.7,104.8L827.2,104.2L829.7,103.6L832.2,103L834.7,102.3L837.2,101.7L839.7,101L842.2,100.3L844.7,99.6L847.2,98.9L849.7,98.2L852.3,97.4L854.8,96.6L857.3,95.8L859.8,95L862.3,94.2L864.8,93.4L867.3,92.5L869.8,91.7L872.3,90.8L874.8,90L877.3,89.1L879.8,88.2L882.3,87.3L884.8,86.5L887.3,85.6L889.8,84.8L892.3,83.9L894.8,83.1L897.3,82.2L899.9,81.4L902.4,80.6L904.9,79.8L907.4,79.1L909.9,78.4L912.4,77.6L914.9,77L917.4,76.3L919.9,75.7L922.4,75.1L924.9,74.5L927.4,74L929.9,73.5L932.4,73.1L934.9,72.7L937.4,72.3L939.9,72L942.4,71.8L944.9,71.6L947.5,71.4L950,71.3L952.5,71.3L955,71.3L957.5,71.4L960,71.5L962.5,71.7L965,72L967.5,72.3L970,72.7"/>
<path d="M732,144.4L734.5,143.3L737,142.1L739.6,141L742.1,139.9L744.6,138.7L747.1,137.6L749.7,136.5L752.2,135.3L754.7,134.2L757.2,133.1L759.7,131.9L762.3,130.8L764.8,129.7L767.3,128.5L769.8,127.4L772.4,126.2L774.9,125.1L777.4,123.9L779.9,122.7L782.4,121.4L785,120.2L787.5,119.1L790,117.9L792.5,116.7L795.1,115.6L797.6,114.6L800.1,113.5L802.6,112.6L805.1,111.6L807.7,110.8L810.2,109.9L812.7,109.1L815.2,108.4L817.8,107.7L820.3,107L822.8,106.3"/>
<path d="M732,110.8L734.5,110.7L737,110.5L739.5,110.4L742,110.2L744.5,110.1L747,110L749.5,109.8L752,109.7L754.5,109.6L757,109.5L759.5,109.3L762,109.2L764.5,109.1L767,109L769.5,108.9L772,108.8L774.5,108.7L777,108.6L779.5,108.6L782.1,108.5L784.6,108.4L787.1,108.3L789.6,108.2L792.1,108.2L794.6,108.1L797.1,108.1L799.6,108L802.1,107.9L804.6,107.9L807.1,107.8L809.6,107.8L812.1,107.7L814.6,107.7L817.1,107.7L819.6,107.6L822.1,107.6L824.6,107.6L827.1,107.6L829.6,107.5L832.1,107.5L834.6,107.5L837.1,107.5L839.6,107.5L842.1,107.5L844.6,107.5L847.1,107.5L849.6,107.5L852.1,107.5L854.6,107.5L857.1,107.5L859.6,107.5L862.1,107.5L864.6,107.5L867.1,107.6L869.6,107.6L872.1,107.6L874.6,107.6L877.2,107.7L879.7,107.7L882.2,107.7L884.7,107.8L887.2,107.8L889.7,107.8L892.2,107.9L894.7,107.9L897.2,108L899.7,108L902.2,108.1L904.7,108.1L907.2,108.2L909.7,108.2L912.2,108.3L914.7,108.3L917.2,108.4L919.7,108.4L922.2,108.5L924.7,108.5L927.2,108.5L929.7,108.6L932.2,108.6L934.7,108.7L937.2,108.7L939.7,108.8L942.2,108.8L944.7,108.8L947.2,108.9L949.7,108.9L952.2,108.9L954.7,108.9L957.2,109L959.7,109L962.2,109L964.7,109L967.2,109L969.7,109L972.3,109L974.8,109L977.3,109L979.8,109L982.3,109L984.8,109L987.3,108.9L989.8,108.9L992.3,108.9L994.8,108.8L997.3,108.8L999.8,108.7L1002.3,108.6L1004.8,108.6L1007.3,108.5L1009.8,108.4L1012.3,108.3L1014.8,108.2L1017.3,108.1L1019.8,108L1022.3,107.9L1024.8,107.7L1027.3,107.6L1029.8,107.5L1032.3,107.3L1034.8,107.1L1037.3,107L1039.8,106.8L1042.3,106.6L1044.8,106.4L1047.3,106.2L1049.8,106L1052.3,105.8L1054.8,105.5L1057.3,105.3L1059.8,105.1L1062.3,104.8L1064.8,104.6L1067.3,104.3L1069.9,104L1072.4,103.7L1074.9,103.5L1077.4,103.2L1079.9,102.9L1082.4,102.6L1084.9,102.2L1087.4,101.9L1089.9,101.6L1092.4,101.3L1094.9,100.9L1097.4,100.6L1099.9,100.3L1102.4,99.9L1104.9,99.6L1107.4,99.2L1109.9,98.8L1112.4,98.5L1114.9,98.1L1117.4,97.7L1119.9,97.3L1122.4,97L1124.9,96.6L1127.4,96.2L1129.9,95.8L1132.4,95.4L1134.9,95L1137.4,94.6L1139.9,94.2L1142.4,93.7L1144.9,93.3L1147.4,92.9L1149.9,92.5L1152.4,92.1L1154.9,91.6L1157.4,91.2L1159.9,90.8L1162.4,90.4L1165,89.9L1167.5,89.5L1170,89.1L1172.5,88.6L1175,88.2L1177.5,87.7L1180,87.3L1182.5,86.9L1185,86.4L1187.5,86L1190,85.5L1192.5,85.1L1195,84.7L1197.5,84.2L1200,83.8L1202.5,83.4L1205,82.9L1207.5,82.5L1210,82.1L1212.5,81.7L1215,81.3L1217.5,80.9L1220,80.5L1222.5,80.1L1225,79.7L1227.5,79.3L1230,78.9L1232.5,78.5L1235,78.1L1237.5,77.8L1240,77.4L1242.5,77.1L1245,76.8L1247.5,76.4L1250,76.1L1252.5,75.8L1255,75.5L1257.5,75.2L1260.1,74.9L1262.6,74.7L1265.1,74.4L1267.6,74.2L1270.1,73.9L1272.6,73.7L1275.1,73.5L1277.6,73.3L1280.1,73.1L1282.6,73L1285.1,72.8L1287.6,72.7L1290.1,72.5L1292.6,72.4L1295.1,72.3L1297.6,72.3L1300.1,72.2L1302.6,72.1L1305.1,72.1L1307.6,72.1"/>
<path d="M732,144.4L734.5,144.9L737,145.3L739.5,145.9L742,146.4L744.5,147L747,147.7L749.5,148.3L752,149L754.5,149.7L757,150.4L759.5,151.2L762,151.9L764.5,152.7L767,153.5L769.5,154.2L772,155L774.5,155.8L777,156.6L779.5,157.4L782,158.2L784.5,159L787,159.8L789.5,160.6L792,161.3L794.5,162.1L797,162.8L799.5,163.5L802,164.2L804.6,164.9L807.1,165.6L809.6,166.2L812.1,166.8L814.6,167.4L817.1,168L819.6,168.5L822.1,169.1L824.6,169.5L827.1,170L829.6,170.5L832.1,170.9L834.6,171.2L837.1,171.6L839.6,171.9L842.1,172.2L844.6,172.5L847.1,172.8L849.6,173L852.1,173.2L854.6,173.3L857.1,173.5L859.6,173.6L862.1,173.8L864.6,173.9L867.1,173.9L869.6,174L872.1,174.1L874.6,174.1L877.1,174.2L879.6,174.2L882.1,174.2L884.6,174.3L887.1,174.3L889.6,174.3L892.1,174.4L894.6,174.4L897.1,174.4L899.6,174.4L902.1,174.4L904.6,174.4L907.1,174.4L909.6,174.4L912.1,174.5L914.6,174.5L917.1,174.5L919.6,174.5L922.1,174.5L924.6,174.4L927.1,174.4L929.6,174.4L932.1,174.4L934.6,174.4L937.1,174.4L939.6,174.4L942.1,174.4L944.6,174.4L947.1,174.4L949.7,174.4L952.2,174.4L954.7,174.4L957.2,174.3L959.7,174.3L962.2,174.3L964.7,174.3L967.2,174.3L969.7,174.3L972.2,174.3L974.7,174.3L977.2,174.3L979.7,174.3L982.2,174.3L984.7,174.3L987.2,174.3L989.7,174.3L992.2,174.3L994.7,174.3L997.2,174.3L999.7,174.4L1002.2,174.4L1004.7,174.4L1007.2,174.4L1009.7,174.4L1012.2,174.5L1014.7,174.5L1017.2,174.5L1019.7,174.6L1022.2,174.6L1024.7,174.7L1027.2,174.7L1029.7,174.8L1032.2,174.8L1034.7,174.9L1037.2,174.9L1039.7,175L1042.2,175.1L1044.7,175.2L1047.2,175.3L1049.7,175.3L1052.2,175.4L1054.7,175.5L1057.2,175.6L1059.7,175.8L1062.2,175.9L1064.7,176L1067.2,176.1L1069.7,176.3L1072.2,176.4L1074.7,176.6L1077.2,176.7L1079.7,176.9L1082.2,177.1L1084.7,177.3L1087.2,177.4L1089.7,177.6L1092.3,177.8L1094.8,178.1L1097.3,178.3L1099.8,178.5L1102.3,178.8L1104.8,179L1107.3,179.3L1109.8,179.6L1112.3,179.8L1114.8,180.1L1117.3,180.4L1119.8,180.8L1122.3,181.1L1124.8,181.4L1127.3,181.8L1129.8,182.1L1132.3,182.5L1134.8,182.9L1137.3,183.3L1139.8,183.7L1142.3,184.1L1144.8,184.5L1147.3,185L1149.8,185.4L1152.3,185.9L1154.8,186.4L1157.3,186.9L1159.8,187.4L1162.3,187.9L1164.8,188.4L1167.3,189L1169.8,189.6L1172.3,190.2L1174.8,190.8L1177.3,191.4L1179.8,192.1L1182.3,192.7L1184.8,193.4L1187.3,194.1L1189.8,194.9L1192.3,195.6L1194.8,196.4L1197.3,197.3L1199.8,198.1L1202.3,199L1204.8,199.9L1207.3,200.8L1209.8,201.8L1212.3,202.8L1214.8,203.8L1217.3,204.9L1219.8,206L1222.3,207.1L1224.8,208.3L1227.3,209.5L1229.8,210.8L1232.3,212.1L1234.8,213.4L1237.4,214.7L1239.9,216.2L1242.4,217.6L1244.9,219.1L1247.4,220.6L1249.9,222.2L1252.4,223.8L1254.9,225.5L1257.4,227.1L1259.9,228.8L1262.4,230.5L1264.9,232.3L1267.4,234.1L1269.9,235.8L1272.4,237.7L1274.9,239.5L1277.4,241.3L1279.9,243.2L1282.4,245L1284.9,246.9L1287.4,248.7L1289.9,250.6L1292.4,252.5L1294.9,254.3L1297.4,256.2L1299.9,258L1302.4,259.9L1304.9,261.7L1307.4,263.5"/>
<path d="M732,144.4L734.5,144.5L737,144.6L739.5,144.8L742,145L744.5,145.2L747,145.5L749.5,145.8L752,146.2L754.5,146.6L757.1,147L759.6,147.5L762.1,148L764.6,148.6L767.1,149.1L769.6,149.8L772.1,150.4L774.6,151.1L777.1,151.8L779.6,152.6L782.1,153.4L784.6,154.2L787.1,155.1L789.6,156L792.1,156.9L794.6,157.8L797.1,158.8L799.6,159.8L802.1,160.8L804.7,161.9L807.2,163L809.7,164.1L812.2,165.2L814.7,166.4L817.2,167.6L819.7,168.8L822.2,170L824.7,171.3L827.2,172.6L829.7,173.9L832.2,175.2L834.7,176.5L837.2,177.9L839.7,179.3L842.2,180.7L844.7,182.1L847.2,183.5L849.7,185L852.3,186.4L854.8,187.9L857.3,189.4L859.8,191L862.3,192.5L864.8,194L867.3,195.6L869.8,197.2L872.3,198.7L874.8,200.3L877.3,201.9L879.8,203.5L882.3,205.2L884.8,206.8L887.3,208.4L889.8,210.1L892.3,211.8L894.8,213.4L897.3,215.1L899.9,216.8L902.4,218.4L904.9,220.1L907.4,221.8L909.9,223.5L912.4,225.2L914.9,226.9L917.4,228.6L919.9,230.3L922.4,232L924.9,233.7L927.4,235.4L929.9,237.1L932.4,238.8L934.9,240.5L937.4,242.2L939.9,243.8L942.4,245.5L944.9,247.2L947.5,248.9L950,250.5L952.5,252.2L955,253.9L957.5,255.5L960,257.1L962.5,258.8L965,260.4L967.5,262L970,263.6"/>
<path d="M970,72.6L972.5,72.7L975,72.8L977.5,72.9L980,73.1L982.5,73.2L985,73.3L987.5,73.5L990,73.7L992.5,73.8L995,74L997.5,74.2L1000,74.4L1002.5,74.6L1005,74.9L1007.5,75.1L1010,75.3L1012.5,75.6L1015,75.8L1017.5,76.1L1020,76.4L1022.5,76.7L1025,77L1027.5,77.3L1030,77.6L1032.5,77.9L1035,78.2L1037.5,78.5L1040,78.9L1042.5,79.2L1045,79.5L1047.5,79.9L1050,80.2L1052.5,80.6L1055,81L1057.5,81.3L1060,81.7L1062.5,82.1L1065,82.5L1067.5,82.9L1070,83.3L1072.5,83.7L1075,84.1L1077.5,84.5L1080,84.9L1082.5,85.3L1085,85.7L1087.5,86.1L1090,86.5L1092.5,86.9L1095,87.3L1097.5,87.7L1100,88.2L1102.5,88.6L1105,89L1107.5,89.4L1110,89.8L1112.5,90.3L1115,90.7L1117.5,91.1L1120,91.5L1122.5,91.9L1125,92.3L1127.5,92.8L1130,93.2L1132.5,93.6L1135,94L1137.5,94.4L1140.1,94.8L1142.6,95.2L1145.1,95.6L1147.6,96L1150.1,96.4L1152.6,96.8L1155.1,97.2L1157.6,97.6L1160.1,97.9L1162.6,98.3L1165.1,98.7L1167.6,99.1L1170.1,99.4L1172.6,99.8L1175.1,100.1L1177.6,100.5L1180.1,100.8L1182.6,101.2L1185.1,101.5L1187.6,101.8L1190.1,102.2L1192.6,102.5L1195.1,102.8L1197.6,103.1L1200.1,103.4L1202.6,103.7L1205.1,104L1207.6,104.3L1210.1,104.5L1212.6,104.8L1215.1,105.1L1217.6,105.3L1220.1,105.5L1222.6,105.8L1225.1,106L1227.6,106.2L1230.1,106.4L1232.6,106.6L1235.1,106.8L1237.6,107L1240.1,107.2L1242.6,107.4L1245.1,107.5L1247.6,107.7L1250.1,107.8L1252.6,107.9L1255.1,108.1L1257.6,108.2L1260.1,108.3L1262.6,108.4L1265.1,108.4L1267.6,108.5L1270.1,108.6L1272.6,108.6L1275.1,108.7L1277.6,108.7L1280.1,108.7L1282.6,108.7L1285.1,108.7L1287.6,108.7L1290.1,108.6L1292.6,108.6L1295.1,108.5L1297.6,108.5L1300.1,108.4L1302.6,108.3L1305.1,108.2L1307.6,108"/>
<path d="M970,72.7L972.5,72.7L975,72.7L977.6,72.7L980.1,72.8L982.6,72.9L985.1,73.1L987.6,73.3L990.1,73.6L992.7,73.8L995.2,74.1L997.7,74.5L1000.2,74.9L1002.7,75.3L1005.3,75.8L1007.8,76.3L1010.3,76.8L1012.8,77.3L1015.3,77.9L1017.8,78.6L1020.4,79.2L1022.9,79.9L1025.4,80.6L1027.9,81.4L1030.4,82.2L1032.9,83L1035.5,83.8L1038,84.7L1040.5,85.6L1043,86.6L1045.5,87.5L1048.1,88.5L1050.6,89.5L1053.1,90.6L1055.6,91.7L1058.1,92.8L1060.6,93.9L1063.2,95L1065.7,96.2L1068.2,97.4L1070.7,98.6L1073.2,99.9L1075.8,101.2L1078.3,102.5L1080.8,103.8L1083.3,105.1L1085.8,106.5L1088.3,107.9L1090.9,109.3L1093.4,110.7L1095.9,112.1L1098.4,113.6L1100.9,115.1L1103.4,116.6L1106,118.1L1108.5,119.7L1111,121.2L1113.5,122.8L1116,124.4L1118.6,126L1121.1,127.6L1123.6,129.3L1126.1,130.9L1128.6,132.6L1131.1,134.3L1133.7,136L1136.2,137.7L1138.7,139.4L1141.2,141.1L1143.7,142.9L1146.3,144.7L1148.8,146.4L1151.3,148.2L1153.8,150L1156.3,151.8L1158.8,153.6L1161.4,155.5L1163.9,157.3L1166.4,159.2L1168.9,161L1171.4,162.9L1174,164.7L1176.5,166.6L1179,168.5L1181.5,170.4L1184,172.3L1186.5,174.2L1189.1,176.1L1191.6,178L1194.1,179.9L1196.6,181.8L1199.1,183.7L1201.6,185.7L1204.2,187.6L1206.7,189.5L1209.2,191.4L1211.7,193.4L1214.2,195.3L1216.8,197.2L1219.3,199.2L1221.8,201.1L1224.3,203L1226.8,204.9L1229.3,206.9L1231.9,208.8L1234.4,210.7L1236.9,212.6L1239.4,214.6L1241.9,216.5L1244.5,218.4L1247,220.3L1249.5,222.2L1252,224.1L1254.5,226L1257,227.8L1259.6,229.7L1262.1,231.6L1264.6,233.4L1267.1,235.3L1269.6,237.1L1272.1,239L1274.7,240.8L1277.2,242.6L1279.7,244.4L1282.2,246.2L1284.7,248L1287.3,249.8L1289.8,251.6L1292.3,253.3L1294.8,255L1297.3,256.8L1299.8,258.5L1302.4,260.2L1304.9,261.9L1307.4,263.5"/>
<path d="M970,263.6L972.5,261.6L975,259.6L977.5,257.6L980,255.7L982.5,253.7L985,251.7L987.5,249.7L990,247.8L992.5,245.8L995,243.9L997.5,241.9L1000,240L1002.5,238.1L1005,236.2L1007.5,234.2L1010,232.3L1012.5,230.4L1015,228.6L1017.5,226.7L1020,224.8L1022.5,222.9L1025,221.1L1027.5,219.2L1030,217.4L1032.5,215.6L1035,213.8L1037.5,212L1040,210.2L1042.5,208.4L1045,206.6L1047.5,204.8L1050,203.1L1052.5,201.3L1055,199.5L1057.5,197.8L1060,196L1062.5,194.2L1065,192.5L1067.5,190.7L1070,188.9L1072.5,187.2L1075,185.4L1077.5,183.6L1080,181.8L1082.5,180L1085,178.2L1087.5,176.4L1090,174.7L1092.5,172.9L1095,171.1L1097.5,169.3L1100,167.5L1102.5,165.7L1105,163.9L1107.5,162.1L1110,160.3L1112.5,158.6L1115,156.8L1117.5,155L1120,153.2L1122.5,151.5L1125,149.7L1127.5,148L1130,146.2L1132.5,144.5L1135,142.7L1137.5,141L1140.1,139.3L1142.6,137.6L1145.1,135.9L1147.6,134.2L1150.1,132.5L1152.6,130.8L1155.1,129.2L1157.6,127.5L1160.1,125.9L1162.6,124.3L1165.1,122.7L1167.6,121.1L1170.1,119.5L1172.6,117.9L1175.1,116.4L1177.6,114.8L1180.1,113.3L1182.6,111.8L1185.1,110.4L1187.6,108.9L1190.1,107.5L1192.6,106L1195.1,104.6L1197.6,103.3L1200.1,101.9L1202.6,100.6L1205.1,99.2L1207.6,98L1210.1,96.7L1212.6,95.5L1215.1,94.2L1217.6,93L1220.1,91.9L1222.6,90.7L1225.1,89.6L1227.6,88.6L1230.1,87.5L1232.6,86.5L1235.1,85.5L1237.6,84.5L1240.1,83.6L1242.6,82.7L1245.1,81.8L1247.6,81L1250.1,80.2L1252.6,79.4L1255.1,78.7L1257.6,78L1260.1,77.3L1262.6,76.7L1265.1,76.1L1267.6,75.5L1270.1,75L1272.6,74.5L1275.1,74.1L1277.6,73.7L1280.1,73.3L1282.6,73L1285.1,72.7L1287.6,72.5L1290.1,72.3L1292.6,72.1L1295.1,72L1297.6,71.9L1300.1,71.9L1302.6,71.9L1305.1,72L1307.6,72.1"/>
<path d="M970,263.6L972.5,261.7L975,259.8L977.5,258L980,256.1L982.5,254.3L985,252.5L987.5,250.8L990,249L992.5,247.3L995,245.6L997.5,243.9L1000,242.3L1002.5,240.7L1005,239.1L1007.5,237.5L1010,235.9L1012.5,234.4L1015,232.9L1017.5,231.4L1020,229.9L1022.5,228.5L1025,227.1L1027.5,225.7L1030,224.3L1032.5,222.9L1035,221.6L1037.5,220.3L1040,219L1042.5,217.7L1045,216.5L1047.5,215.2L1050,214L1052.5,212.9L1055,211.7L1057.5,210.6L1060,209.4L1062.5,208.3L1065,207.3L1067.5,206.2L1070,205.2L1072.5,204.1L1075,203.1L1077.5,202.2L1080,201.2L1082.5,200.3L1085,199.3L1087.5,198.4L1090,197.6L1092.5,196.7L1095,195.9L1097.5,195L1100,194.2L1102.5,193.4L1105,192.7L1107.5,191.9L1110,191.2L1112.5,190.5L1115,189.8L1117.5,189.1L1120,188.5L1122.5,187.8L1125,187.2L1127.5,186.6L1130,186L1132.5,185.5L1135,184.9L1137.5,184.4L1140.1,183.9L1142.6,183.4L1145.1,182.9L1147.6,182.5L1150.1,182L1152.6,181.6L1155.1,181.2L1157.6,180.8L1160.1,180.4L1162.6,180.1L1165.1,179.7L1167.6,179.4L1170.1,179.1L1172.6,178.8L1175.1,178.5L1177.6,178.2L1180.1,178L1182.6,177.7L1185.1,177.5L1187.6,177.3L1190.1,177.1L1192.6,176.9L1195.1,176.7L1197.6,176.5L1200.1,176.4L1202.6,176.2L1205.1,176.1L1207.6,175.9L1210.1,175.8L1212.6,175.7L1215.1,175.6L1217.6,175.5L1220.1,175.4L1222.6,175.3L1225.1,175.2L1227.6,175.1L1230.1,175.1L1232.6,175L1235.1,174.9L1237.6,174.9L1240.1,174.8L1242.6,174.8L1245.1,174.7L1247.6,174.7L1250.1,174.7L1252.6,174.6L1255.1,174.6L1257.6,174.6L1260.1,174.5L1262.6,174.5L1265.1,174.5L1267.6,174.4L1270.1,174.4L1272.6,174.4L1275.1,174.3L1277.6,174.3L1280.1,174.3L1282.6,174.2L1285.1,174.2L1287.6,174.1L1290.1,174.1L1292.6,174L1295.1,174L1297.6,173.9L1300.1,173.8L1302.6,173.8L1305.1,173.7L1307.6,173.6"/>
<path d="M732,280.8L734.5,280.6L737,280.4L739.5,280.2L742,280L744.5,279.8L747,279.6L749.5,279.4L752,279.2L754.5,279L757.1,278.8L759.6,278.6L762.1,278.4L764.6,278.2L767.1,278L769.6,277.8L772.1,277.6L774.6,277.4L777.1,277.1L779.6,276.9L782.1,276.7L784.6,276.5L787.1,276.3L789.6,276.1L792.1,275.9L794.6,275.6L797.1,275.4L799.6,275.2L802.1,275L804.7,274.8L807.2,274.6L809.7,274.3L812.2,274.1L814.7,273.9L817.2,273.7L819.7,273.5L822.2,273.2L824.7,273L827.2,272.8L829.7,272.6L832.2,272.4L834.7,272.2L837.2,272L839.7,271.8L842.2,271.5L844.7,271.3L847.2,271.1L849.7,270.9L852.3,270.7L854.8,270.5L857.3,270.3L859.8,270.1L862.3,269.9L864.8,269.7L867.3,269.5L869.8,269.3L872.3,269.1L874.8,268.9L877.3,268.7L879.8,268.5L882.3,268.4L884.8,268.2L887.3,268L889.8,267.8L892.3,267.6L894.8,267.5L897.3,267.3L899.9,267.1L902.4,266.9L904.9,266.8L907.4,266.6L909.9,266.5L912.4,266.3L914.9,266.1L917.4,266L919.9,265.8L922.4,265.7L924.9,265.6L927.4,265.4L929.9,265.3L932.4,265.1L934.9,265L937.4,264.9L939.9,264.8L942.4,264.7L944.9,264.5L947.5,264.4L950,264.3L952.5,264.2L955,264.1L957.5,264L960,263.9L962.5,263.8L965,263.8L967.5,263.7L970,263.6"/>
<path d="M732,280.8L734.5,280.8L737,280.8L739.5,280.8L742,280.8L744.5,280.9L747,281L749.5,281.1L752,281.2L754.5,281.4L757.1,281.6L759.6,281.8L762.1,282L764.6,282.2L767.1,282.4L769.6,282.7L772.1,283L774.6,283.3L777.1,283.6L779.6,283.9L782.1,284.3L784.6,284.7L787.1,285L789.6,285.4L792.1,285.8L794.6,286.2L797.1,286.7L799.6,287.1L802.1,287.6L804.7,288L807.2,288.5L809.7,289L812.2,289.4L814.7,289.9L817.2,290.4L819.7,290.9L822.2,291.4L824.7,292L827.2,292.5L829.7,293L832.2,293.5L834.7,294.1L837.2,294.6L839.7,295.1L842.2,295.7L844.7,296.2L847.2,296.8L849.7,297.3L852.3,297.8L854.8,298.4L857.3,298.9L859.8,299.4L862.3,300L864.8,300.5L867.3,301L869.8,301.5L872.3,302.1L874.8,302.6L877.3,303.1L879.8,303.5L882.3,304L884.8,304.5L887.3,305L889.8,305.4L892.3,305.9L894.8,306.3L897.3,306.7L899.9,307.2L902.4,307.6L904.9,307.9L907.4,308.3L909.9,308.7L912.4,309L914.9,309.4L917.4,309.7L919.9,310L922.4,310.3L924.9,310.5L927.4,310.8L929.9,311L932.4,311.2L934.9,311.4L937.4,311.6L939.9,311.7L942.4,311.9L944.9,312L947.5,312L950,312.1L952.5,312.1L955,312.2L957.5,312.1L960,312.1L962.5,312L965,312L967.5,311.8L970,311.7"/>
<path d="M732,281.8L734.5,282.1L737,282.4L739.5,282.7L742,283L744.5,283.3L747,283.6L749.5,283.9L752,284.2L754.5,284.6L757.1,284.9L759.6,285.2L762.1,285.6L764.6,285.9L767.1,286.2L769.6,286.6L772.1,286.9L774.6,287.3L777.1,287.6L779.6,288L782.1,288.4L784.6,288.7L787.1,289.1L789.6,289.5L792.1,289.8L794.6,290.2L797.1,290.6L799.6,291L802.1,291.4L804.7,291.8L807.2,292.2L809.7,292.6L812.2,293L814.7,293.4L817.2,293.8L819.7,294.3L822.2,294.7L824.7,295.1L827.2,295.5L829.7,296L832.2,296.4L834.7,296.9L837.2,297.3L839.7,297.8L842.2,298.2L844.7,298.7L847.2,299.2L849.7,299.8L852.3,300.4L854.8,301L857.3,301.6L859.8,302.2L862.3,302.8L864.8,303.4L867.3,304L869.8,304.6L872.3,305.2L874.8,305.8L877.3,306.3L879.8,306.8L882.3,307.3L884.8,307.7L887.3,308.1L889.8,308.4L892.3,308.7L894.8,309L897.3,309.1L899.9,309.3L902.4,309.5L904.9,309.6L907.4,309.8L909.9,309.9L912.4,310.1L914.9,310.2L917.4,310.4L919.9,310.5L922.4,310.7L924.9,310.8L927.4,310.9L929.9,311L932.4,311.1L934.9,311.2L937.4,311.3L939.9,311.4L942.4,311.5L944.9,311.6L947.5,311.7L950,311.7L952.5,311.8L955,311.9L957.5,311.9L960,311.9L962.5,312L965,312L967.5,312L970,312"/>
<path d="M732,376.2L734.5,373.7L737,371.3L739.5,369L742,366.7L744.5,364.5L747,362.3L749.5,360.2L752,358.2L754.5,356.2L757.1,354.2L759.6,352.3L762.1,350.5L764.6,348.7L767.1,347L769.6,345.3L772.1,343.6L774.6,342L777.1,340.5L779.6,339L782.1,337.5L784.6,336.1L787.1,334.8L789.6,333.5L792.1,332.2L794.6,331L797.1,329.8L799.6,328.6L802.1,327.5L804.7,326.5L807.2,325.5L809.7,324.5L812.2,323.5L814.7,322.6L817.2,321.8L819.7,320.9L822.2,320.1L824.7,319.4L827.2,318.6L829.7,318L832.2,317.3L834.7,316.7L837.2,316.1L839.7,315.5L842.2,315L844.7,314.5L847.2,314L849.7,313.5L852.3,313.1L854.8,312.7L857.3,312.3L859.8,312L862.3,311.7L864.8,311.4L867.3,311.1L869.8,310.9L872.3,310.6L874.8,310.4L877.3,310.3L879.8,310.1L882.3,310L884.8,309.8L887.3,309.7L889.8,309.6L892.3,309.5L894.8,309.5L897.3,309.4L899.9,309.4L902.4,309.4L904.9,309.4L907.4,309.4L909.9,309.4L912.4,309.5L914.9,309.5L917.4,309.6L919.9,309.6L922.4,309.7L924.9,309.8L927.4,309.8L929.9,309.9L932.4,310L934.9,310.1L937.4,310.2L939.9,310.3L942.4,310.5L944.9,310.6L947.5,310.7L950,310.8L952.5,310.9L955,311L957.5,311.1L960,311.3L962.5,311.4L965,311.5L967.5,311.6L970,311.7"/>
<path d="M732,376.2L734.5,376.3L737,376.3L739.5,376.3L742,376.3L744.5,376.2L747,376.1L749.5,376L752,375.8L754.5,375.6L757.1,375.4L759.6,375.1L762.1,374.8L764.6,374.5L767.1,374.2L769.6,373.8L772.1,373.4L774.6,372.9L777.1,372.5L779.6,372L782.1,371.4L784.6,370.9L787.1,370.3L789.6,369.7L792.1,369L794.6,368.3L797.1,367.6L799.6,366.9L802.1,366.1L804.7,365.3L807.2,364.5L809.7,363.7L812.2,362.8L814.7,361.9L817.2,361L819.7,360L822.2,359.1L824.7,358.1L827.2,357L829.7,356L832.2,354.9L834.7,353.8L837.2,352.7L839.7,351.5L842.2,350.3L844.7,349.1L847.2,347.9L849.7,346.7L852.3,345.4L854.8,344.1L857.3,342.8L859.8,341.5L862.3,340.1L864.8,338.7L867.3,337.3L869.8,335.9L872.3,334.4L874.8,333L877.3,331.5L879.8,330L882.3,328.4L884.8,326.9L887.3,325.3L889.8,323.7L892.3,322.1L894.8,320.5L897.3,318.8L899.9,317.1L902.4,315.5L904.9,313.8L907.4,312L909.9,310.3L912.4,308.5L914.9,306.7L917.4,304.9L919.9,303.1L922.4,301.3L924.9,299.5L927.4,297.6L929.9,295.7L932.4,293.8L934.9,291.9L937.4,290L939.9,288L942.4,286.1L944.9,284.1L947.5,282.1L950,280.1L952.5,278.1L955,276.1L957.5,274L960,272L962.5,269.9L965,267.8L967.5,265.7L970,263.6"/>
<path d="M970,263.6L972.5,263.5L975,263.4L977.6,263.2L980.1,263.1L982.6,263.1L985.1,263L987.6,262.9L990.1,262.9L992.7,262.9L995.2,262.9L997.7,262.9L1000.2,262.9L1002.7,262.9L1005.3,263L1007.8,263L1010.3,263.1L1012.8,263.2L1015.3,263.3L1017.8,263.4L1020.4,263.5L1022.9,263.7L1025.4,263.8L1027.9,264L1030.4,264.2L1032.9,264.4L1035.5,264.6L1038,264.8L1040.5,265L1043,265.3L1045.5,265.5L1048.1,265.8L1050.6,266.1L1053.1,266.3L1055.6,266.6L1058.1,266.9L1060.6,267.3L1063.2,267.6L1065.7,267.9L1068.2,268.3L1070.7,268.7L1073.2,269L1075.8,269.4L1078.3,269.8L1080.8,270.2L1083.3,270.6L1085.8,271.1L1088.3,271.5L1090.9,271.9L1093.4,272.4L1095.9,272.8L1098.4,273.3L1100.9,273.8L1103.4,274.3L1106,274.8L1108.5,275.3L1111,275.8L1113.5,276.3L1116,276.8L1118.6,277.4L1121.1,277.9L1123.6,278.5L1126.1,279L1128.6,279.6L1131.1,280.2L1133.7,280.8L1136.2,281.4L1138.7,282L1141.2,282.6L1143.7,283.2L1146.3,283.8L1148.8,284.4L1151.3,285L1153.8,285.6L1156.3,286.3L1158.8,286.9L1161.4,287.5L1163.9,288.2L1166.4,288.8L1168.9,289.4L1171.4,290.1L1174,290.7L1176.5,291.4L1179,292L1181.5,292.6L1184,293.2L1186.5,293.9L1189.1,294.5L1191.6,295.1L1194.1,295.7L1196.6,296.3L1199.1,296.9L1201.6,297.5L1204.2,298.1L1206.7,298.7L1209.2,299.2L1211.7,299.8L1214.2,300.4L1216.8,300.9L1219.3,301.4L1221.8,302L1224.3,302.5L1226.8,303L1229.3,303.5L1231.9,303.9L1234.4,304.4L1236.9,304.8L1239.4,305.3L1241.9,305.7L1244.5,306.1L1247,306.5L1249.5,306.9L1252,307.3L1254.5,307.7L1257,308L1259.6,308.3L1262.1,308.7L1264.6,309L1267.1,309.3L1269.6,309.6L1272.1,309.8L1274.7,310.1L1277.2,310.4L1279.7,310.6L1282.2,310.8L1284.7,311L1287.3,311.2L1289.8,311.4L1292.3,311.6L1294.8,311.7L1297.3,311.9L1299.8,312L1302.4,312.1L1304.9,312.2L1307.4,312.3"/>
<path d="M970,263.6L972.5,265L975,266.4L977.6,267.8L980.1,269.1L982.6,270.5L985.1,271.8L987.6,273.1L990.1,274.4L992.7,275.7L995.2,277L997.7,278.2L1000.2,279.5L1002.7,280.7L1005.3,281.9L1007.8,283L1010.3,284.2L1012.8,285.3L1015.3,286.5L1017.8,287.6L1020.4,288.6L1022.9,289.7L1025.4,290.7L1027.9,291.8L1030.4,292.8L1032.9,293.8L1035.5,294.7L1038,295.7L1040.5,296.6L1043,297.5L1045.5,298.4L1048.1,299.2L1050.6,300.1L1053.1,300.9L1055.6,301.7L1058.1,302.5L1060.6,303.2L1063.2,304L1065.7,304.7L1068.2,305.4L1070.7,306.1L1073.2,306.7L1075.8,307.4L1078.3,308L1080.8,308.5L1083.3,309.1L1085.8,309.6L1088.3,310.2L1090.9,310.7L1093.4,311.1L1095.9,311.6L1098.4,312L1100.9,312.4L1103.4,312.8L1106,313.1L1108.5,313.5L1111,313.8L1113.5,314.1L1116,314.3L1118.6,314.5L1121.1,314.8L1123.6,314.9L1126.1,315.1L1128.6,315.2L1131.1,315.3L1133.7,315.4L1136.2,315.5L1138.7,315.5L1141.2,315.5L1143.7,315.5L1146.3,315.5L1148.8,315.4L1151.3,315.3L1153.8,315.2L1156.3,315.1L1158.8,314.9L1161.4,314.7L1163.9,314.5L1166.4,314.2L1168.9,314L1171.4,313.7L1174,313.3L1176.5,313L1179,312.6L1181.5,312.2L1184,311.8L1186.5,311.4L1189.1,310.9L1191.6,310.4L1194.1,309.9L1196.6,309.4L1199.1,308.8L1201.6,308.2L1204.2,307.6L1206.7,307L1209.2,306.3L1211.7,305.7L1214.2,305L1216.8,304.2L1219.3,303.5L1221.8,302.7L1224.3,301.9L1226.8,301.1L1229.3,300.3L1231.9,299.4L1234.4,298.5L1236.9,297.6L1239.4,296.7L1241.9,295.7L1244.5,294.8L1247,293.8L1249.5,292.7L1252,291.7L1254.5,290.6L1257,289.6L1259.6,288.5L1262.1,287.3L1264.6,286.2L1267.1,285L1269.6,283.8L1272.1,282.6L1274.7,281.4L1277.2,280.1L1279.7,278.8L1282.2,277.5L1284.7,276.2L1287.3,274.9L1289.8,273.5L1292.3,272.1L1294.8,270.7L1297.3,269.3L1299.8,267.9L1302.4,266.4L1304.9,264.9L1307.4,263.4"/>
<path d="M970,311.7L972.5,311.8L975,311.8L977.6,311.8L980.1,311.8L982.6,311.7L985.1,311.7L987.6,311.6L990.1,311.4L992.7,311.3L995.2,311.1L997.7,310.9L1000.2,310.7L1002.7,310.5L1005.3,310.2L1007.8,309.9L1010.3,309.7L1012.8,309.3L1015.3,309L1017.8,308.6L1020.4,308.3L1022.9,307.9L1025.4,307.5L1027.9,307.1L1030.4,306.6L1032.9,306.2L1035.5,305.7L1038,305.2L1040.5,304.7L1043,304.2L1045.5,303.7L1048.1,303.1L1050.6,302.6L1053.1,302L1055.6,301.5L1058.1,300.9L1060.6,300.3L1063.2,299.7L1065.7,299.1L1068.2,298.5L1070.7,297.9L1073.2,297.3L1075.8,296.6L1078.3,296L1080.8,295.4L1083.3,294.7L1085.8,294.1L1088.3,293.4L1090.9,292.8L1093.4,292.1L1095.9,291.4L1098.4,290.8L1100.9,290.1L1103.4,289.5L1106,288.8L1108.5,288.1L1111,287.5L1113.5,286.8L1116,286.2L1118.6,285.5L1121.1,284.9L1123.6,284.2L1126.1,283.6L1128.6,282.9L1131.1,282.3L1133.7,281.7L1136.2,281.1L1138.7,280.4L1141.2,279.8L1143.7,279.2L1146.3,278.7L1148.8,278.1L1151.3,277.5L1153.8,277L1156.3,276.4L1158.8,275.9L1161.4,275.4L1163.9,274.8L1166.4,274.3L1168.9,273.8L1171.4,273.4L1174,272.9L1176.5,272.4L1179,272L1181.5,271.6L1184,271.1L1186.5,270.7L1189.1,270.3L1191.6,269.9L1194.1,269.5L1196.6,269.2L1199.1,268.8L1201.6,268.4L1204.2,268.1L1206.7,267.8L1209.2,267.5L1211.7,267.1L1214.2,266.9L1216.8,266.6L1219.3,266.3L1221.8,266L1224.3,265.8L1226.8,265.5L1229.3,265.3L1231.9,265.1L1234.4,264.9L1236.9,264.7L1239.4,264.5L1241.9,264.3L1244.5,264.1L1247,264L1249.5,263.8L1252,263.7L1254.5,263.6L1257,263.5L1259.6,263.4L1262.1,263.3L1264.6,263.2L1267.1,263.1L1269.6,263.1L1272.1,263L1274.7,263L1277.2,263L1279.7,263L1282.2,263L1284.7,263L1287.3,263L1289.8,263L1292.3,263.1L1294.8,263.1L1297.3,263.2L1299.8,263.3L1302.4,263.4L1304.9,263.5L1307.4,263.6"/>
<path d="M970,312.6L972.5,312.6L975,312.6L977.6,312.7L980.1,312.7L982.6,312.7L985.1,312.7L987.6,312.7L990.1,312.8L992.7,312.8L995.2,312.8L997.7,312.8L1000.2,312.9L1002.7,312.9L1005.3,312.9L1007.8,312.9L1010.3,313L1012.8,313L1015.3,313L1017.8,313.1L1020.4,313.1L1022.9,313.1L1025.4,313.2L1027.9,313.2L1030.4,313.2L1032.9,313.3L1035.5,313.3L1038,313.3L1040.5,313.4L1043,313.4L1045.5,313.4L1048.1,313.5L1050.6,313.5L1053.1,313.5L1055.6,313.6L1058.1,313.6L1060.6,313.7L1063.2,313.7L1065.7,313.8L1068.2,313.8L1070.7,313.9L1073.2,314L1075.8,314L1078.3,314.1L1080.8,314.1L1083.3,314.2L1085.8,314.3L1088.3,314.4L1090.9,314.4L1093.4,314.5L1095.9,314.6L1098.4,314.6L1100.9,314.7L1103.4,314.7L1106,314.8L1108.5,314.9L1111,314.9L1113.5,315L1116,315L1118.6,315.1L1121.1,315.1L1123.6,315.2L1126.1,315.2L1128.6,315.2L1131.1,315.2L1133.7,315.3L1136.2,315.3L1138.7,315.3L1141.2,315.3L1143.7,315.3L1146.3,315.3L1148.8,315.3L1151.3,315.2L1153.8,315.2L1156.3,315.1L1158.8,315.1L1161.4,315L1163.9,315L1166.4,314.9L1168.9,314.8L1171.4,314.8L1174,314.7L1176.5,314.6L1179,314.5L1181.5,314.5L1184,314.4L1186.5,314.3L1189.1,314.3L1191.6,314.2L1194.1,314.1L1196.6,314.1L1199.1,314L1201.6,314L1204.2,313.9L1206.7,313.9L1209.2,313.8L1211.7,313.8L1214.2,313.7L1216.8,313.7L1219.3,313.6L1221.8,313.6L1224.3,313.6L1226.8,313.5L1229.3,313.5L1231.9,313.4L1234.4,313.4L1236.9,313.3L1239.4,313.3L1241.9,313.2L1244.5,313.2L1247,313.2L1249.5,313.1L1252,313.1L1254.5,313L1257,313L1259.6,313L1262.1,312.9L1264.6,312.9L1267.1,312.8L1269.6,312.8L1272.1,312.8L1274.7,312.7L1277.2,312.7L1279.7,312.7L1282.2,312.6L1284.7,312.6L1287.3,312.6L1289.8,312.5L1292.3,312.5L1294.8,312.5L1297.3,312.4L1299.8,312.4L1302.4,312.4L1304.9,312.3L1307.4,312.3"/>
<path d="M732,376.2L734.5,378.4L737,380.7L739.5,383.1L742,385.5L744.5,388L747,390.6L749.5,393.2L752,395.9L754.5,398.6L757.1,401.4L759.6,404.3L762.1,407.2L764.6,410.2L767.1,413.2L769.6,416.2L772.1,419.3L774.6,422.5L777.1,425.7L779.6,428.9L782.1,432.2L784.6,435.5L787.1,438.8L789.6,442.2L792.1,445.6L794.6,449.1L797.1,452.5L799.6,456L802.1,459.5L804.7,463L807.2,466.6L809.7,470.1L812.2,473.7L814.7,477.3L817.2,480.9L819.7,484.5L822.2,488.1L824.7,491.8L827.2,495.4L829.7,499L832.2,502.6L834.7,506.3L837.2,509.9L839.7,513.5L842.2,517.1L844.7,520.7L847.2,524.3L849.7,527.8L852.3,531.4L854.8,534.9L857.3,538.4L859.8,541.9L862.3,545.4L864.8,548.8L867.3,552.3L869.8,555.6L872.3,559L874.8,562.3L877.3,565.6L879.8,568.8L882.3,572L884.8,575.2L887.3,578.3L889.8,581.4L892.3,584.4L894.8,587.4L897.3,590.3L899.9,593.1L902.4,595.9L904.9,598.6L907.4,601.2L909.9,603.8L912.4,606.3L914.9,608.7L917.4,611.1L919.9,613.4L922.4,615.5L924.9,617.6L927.4,619.6L929.9,621.6L932.4,623.4L934.9,625.1L937.4,626.7L939.9,628.2L942.4,629.7L944.9,631L947.5,632.2L950,633.2L952.5,634.2L955,635.1L957.5,635.8L960,636.4L962.5,636.9L965,637.2L967.5,637.4L970,637.5"/>
<path d="M970,637.5L972.5,637L975,636.5L977.6,635.9L980.1,635.2L982.6,634.5L985.1,633.7L987.6,632.9L990.1,632L992.7,631L995.2,630L997.7,628.9L1000.2,627.7L1002.7,626.5L1005.3,625.2L1007.8,623.9L1010.3,622.4L1012.8,620.9L1015.3,619.4L1017.8,617.7L1020.4,616L1022.9,614.2L1025.4,612.3L1027.9,610.4L1030.4,608.3L1032.9,606.2L1035.5,604L1038,601.7L1040.5,599.4L1043,596.9L1045.5,594.4L1048.1,591.7L1050.6,589L1053.1,586.2L1055.6,583.3L1058.1,580.3L1060.6,577.2L1063.2,574L1065.7,570.7L1068.2,567.3L1070.7,563.9L1073.2,560.3L1075.8,556.7L1078.3,553L1080.8,549.3L1083.3,545.5L1085.8,541.6L1088.3,537.7L1090.9,533.7L1093.4,529.7L1095.9,525.7L1098.4,521.6L1100.9,517.4L1103.4,513.3L1106,509.1L1108.5,504.9L1111,500.7L1113.5,496.5L1116,492.4L1118.6,488.2L1121.1,484.1L1123.6,480L1126.1,475.9L1128.6,471.9L1131.1,467.9L1133.7,464L1136.2,460.1L1138.7,456.4L1141.2,452.7L1143.7,449.1L1146.3,445.5L1148.8,442.1L1151.3,438.7L1153.8,435.3L1156.3,432L1158.8,428.7L1161.4,425.5L1163.9,422.2L1166.4,419L1168.9,415.9L1171.4,412.7L1174,409.5L1176.5,406.3L1179,403.1L1181.5,399.8L1184,396.6L1186.5,393.3L1189.1,390L1191.6,386.7L1194.1,383.4L1196.6,380L1199.1,376.7L1201.6,373.4L1204.2,370.1L1206.7,366.8L1209.2,363.6L1211.7,360.3L1214.2,357.1L1216.8,354L1219.3,350.9L1221.8,347.9L1224.3,344.9L1226.8,342L1229.3,339.1L1231.9,336.3L1234.4,333.6L1236.9,330.9L1239.4,328.2L1241.9,325.6L1244.5,323.1L1247,320.6L1249.5,318.1L1252,315.6L1254.5,313.2L1257,310.8L1259.6,308.5L1262.1,306.1L1264.6,303.8L1267.1,301.5L1269.6,299.1L1272.1,296.8L1274.7,294.5L1277.2,292.2L1279.7,289.9L1282.2,287.6L1284.7,285.3L1287.3,283L1289.8,280.6L1292.3,278.3L1294.8,275.9L1297.3,273.5L1299.8,271L1302.4,268.6L1304.9,266L1307.4,263.5"/>
<path d="M970,263.6L972.5,265.5L975,267.5L977.5,269.5L980,271.6L982.5,273.8L985,276L987.5,278.3L990,280.6L992.5,282.9L995,285.4L997.5,287.8L1000,290.3L1002.5,292.8L1005.1,295.4L1007.6,298L1010.1,300.7L1012.6,303.3L1015.1,306L1017.6,308.7L1020.1,311.5L1022.6,314.3L1025.1,317.1L1027.6,319.9L1030.1,322.7L1032.6,325.5L1035.1,328.4L1037.6,331.2L1040.1,334.1L1042.6,337L1045.1,339.8L1047.6,342.7L1050.1,345.6L1052.6,348.5L1055.1,351.5L1057.6,354.4L1060.1,357.3L1062.6,360.2L1065.1,363.2L1067.6,366.2L1070.1,369.1L1072.7,372.1L1075.2,375.1L1077.7,378.1L1080.2,381.1L1082.7,384.1L1085.2,387.1L1087.7,390.1L1090.2,393.1L1092.7,396.2L1095.2,399.2L1097.7,402.3L1100.2,405.3L1102.7,408.4L1105.2,411.5L1107.7,414.6L1110.2,417.7L1112.7,420.8L1115.2,423.9L1117.7,427L1120.2,430.1L1122.7,433.2L1125.2,436.4L1127.7,439.5L1130.2,442.7L1132.7,445.8L1135.2,449L1137.7,452.1L1140.3,455.3L1142.8,458.5L1145.3,461.6L1147.8,464.8L1150.3,468L1152.8,471.2L1155.3,474.4L1157.8,477.6L1160.3,480.8L1162.8,484L1165.3,487.2L1167.8,490.4L1170.3,493.5L1172.8,496.7L1175.3,499.9L1177.8,503.1L1180.3,506.3L1182.8,509.5L1185.3,512.7L1187.8,515.9L1190.3,519.1L1192.8,522.3L1195.3,525.5L1197.8,528.7L1200.3,531.8L1202.8,535L1205.3,538.2L1207.9,541.4L1210.4,544.5L1212.9,547.7L1215.4,550.8L1217.9,553.9L1220.4,557L1222.9,560.1L1225.4,563.1L1227.9,566.1L1230.4,569L1232.9,571.9L1235.4,574.8L1237.9,577.7L1240.4,580.4L1242.9,583.2L1245.4,585.9L1247.9,588.6L1250.4,591.2L1252.9,593.8L1255.4,596.3L1257.9,598.8L1260.4,601.2L1262.9,603.6L1265.4,606L1267.9,608.3L1270.4,610.5L1272.9,612.8L1275.5,614.9L1278,617L1280.5,619.1L1283,621.1L1285.5,623L1288,624.9L1290.5,626.7L1293,628.5L1295.5,630.3L1298,631.9L1300.5,633.5L1303,635.1L1305.5,636.6L1308,638"/>
<path d="M732,489.2L734.5,488.4L737,487.6L739.5,486.9L742,486.2L744.5,485.4L747,484.7L749.5,484L752,483.2L754.5,482.5L757,481.8L759.5,481.1L762.1,480.4L764.6,479.7L767.1,479.1L769.6,478.4L772.1,477.7L774.6,477L777.1,476.4L779.6,475.7L782.1,475.1L784.6,474.5L787.1,473.8L789.6,473.2L792.1,472.6L794.6,472L797.1,471.4L799.6,470.8L802.1,470.2L804.6,469.7L807.1,469.1L809.6,468.5L812.1,468L814.6,467.4L817.1,466.9L819.7,466.3L822.2,465.8L824.7,465.3L827.2,464.8L829.7,464.3L832.2,463.8L834.7,463.3L837.2,462.8L839.7,462.3L842.2,461.9L844.7,461.4L847.2,461L849.7,460.5L852.2,460.1L854.7,459.6L857.2,459.2L859.7,458.8L862.2,458.4L864.7,458L867.2,457.6L869.7,457.2L872.2,456.9L874.7,456.5L877.3,456.2L879.8,455.8L882.3,455.5L884.8,455.1L887.3,454.8L889.8,454.5L892.3,454.2L894.8,453.9L897.3,453.6L899.8,453.3L902.3,453.1L904.8,452.8L907.3,452.5L909.8,452.3L912.3,452.1L914.8,451.8L917.3,451.6L919.8,451.4L922.3,451.2L924.8,451L927.3,450.8L929.8,450.6L932.3,450.5L934.9,450.3L937.4,450.2L939.9,450L942.4,449.9L944.9,449.8L947.4,449.7L949.9,449.6L952.4,449.5L954.9,449.4L957.4,449.3L959.9,449.2L962.4,449.2L964.9,449.1L967.4,449.1L969.9,449.1L972.4,449.1L974.9,449L977.4,449L979.9,449.1L982.4,449.1L984.9,449.1L987.4,449.1L989.9,449.2L992.5,449.3L995,449.3L997.5,449.4L1000,449.5L1002.5,449.6L1005,449.7L1007.5,449.8L1010,449.9L1012.5,450.1L1015,450.2L1017.5,450.4L1020,450.6L1022.5,450.7L1025,450.9L1027.5,451.1L1030,451.4L1032.5,451.6L1035,451.8L1037.5,452L1040,452.3L1042.5,452.6L1045,452.8L1047.5,453.1L1050.1,453.4L1052.6,453.7L1055.1,454L1057.6,454.4L1060.1,454.7L1062.6,455L1065.1,455.4L1067.6,455.8L1070.1,456.1L1072.6,456.5L1075.1,456.9L1077.6,457.3L1080.1,457.7L1082.6,458.1L1085.1,458.5L1087.6,458.9L1090.1,459.4L1092.6,459.8L1095.1,460.2L1097.6,460.7L1100.1,461.1L1102.6,461.6L1105.1,462.1L1107.7,462.5L1110.2,463L1112.7,463.5L1115.2,464L1117.7,464.5L1120.2,465L1122.7,465.5L1125.2,466L1127.7,466.5L1130.2,467L1132.7,467.5L1135.2,468L1137.7,468.5L1140.2,469L1142.7,469.5L1145.2,470.1L1147.7,470.6L1150.2,471.1L1152.7,471.7L1155.2,472.2L1157.7,472.7L1160.2,473.2L1162.7,473.8L1165.3,474.3L1167.8,474.8L1170.3,475.4L1172.8,475.9L1175.3,476.4L1177.8,477L1180.3,477.5L1182.8,478L1185.3,478.5L1187.8,479.1L1190.3,479.6L1192.8,480.1L1195.3,480.6L1197.8,481.1L1200.3,481.7L1202.8,482.2L1205.3,482.7L1207.8,483.2L1210.3,483.7L1212.8,484.2L1215.3,484.7L1217.8,485.1L1220.3,485.6L1222.9,486.1L1225.4,486.6L1227.9,487L1230.4,487.5L1232.9,488L1235.4,488.4L1237.9,488.9L1240.4,489.3L1242.9,489.7L1245.4,490.2L1247.9,490.6L1250.4,491L1252.9,491.4L1255.4,491.8L1257.9,492.2L1260.4,492.6L1262.9,492.9L1265.4,493.3L1267.9,493.7L1270.4,494L1272.9,494.3L1275.4,494.7L1277.9,495L1280.5,495.3L1283,495.6L1285.5,495.9L1288,496.2L1290.5,496.4L1293,496.7L1295.5,496.9L1298,497.2L1300.5,497.4L1303,497.6L1305.5,497.8L1308,498"/>
<path d="M970,498L972.5,497.8L975,497.6L977.5,497.4L980,497.2L982.5,497L985,496.8L987.5,496.5L990,496.3L992.5,496L995,495.8L997.5,495.5L1000,495.2L1002.5,494.9L1005.1,494.6L1007.6,494.2L1010.1,493.9L1012.6,493.6L1015.1,493.2L1017.6,492.9L1020.1,492.5L1022.6,492.1L1025.1,491.8L1027.6,491.4L1030.1,491L1032.6,490.6L1035.1,490.2L1037.6,489.8L1040.1,489.3L1042.6,488.9L1045.1,488.5L1047.6,488L1050.1,487.6L1052.6,487.1L1055.1,486.7L1057.6,486.2L1060.1,485.7L1062.6,485.2L1065.1,484.8L1067.6,484.3L1070.1,483.8L1072.7,483.3L1075.2,482.8L1077.7,482.3L1080.2,481.8L1082.7,481.3L1085.2,480.8L1087.7,480.3L1090.2,479.8L1092.7,479.2L1095.2,478.7L1097.7,478.2L1100.2,477.7L1102.7,477.1L1105.2,476.6L1107.7,476.1L1110.2,475.6L1112.7,475L1115.2,474.5L1117.7,474L1120.2,473.4L1122.7,472.9L1125.2,472.4L1127.7,471.9L1130.2,471.3L1132.7,470.8L1135.2,470.3L1137.7,469.7L1140.3,469.2L1142.8,468.7L1145.3,468.2L1147.8,467.7L1150.3,467.1L1152.8,466.6L1155.3,466.1L1157.8,465.6L1160.3,465.1L1162.8,464.6L1165.3,464.1L1167.8,463.6L1170.3,463.1L1172.8,462.6L1175.3,462.1L1177.8,461.7L1180.3,461.2L1182.8,460.7L1185.3,460.3L1187.8,459.8L1190.3,459.4L1192.8,458.9L1195.3,458.5L1197.8,458L1200.3,457.6L1202.8,457.2L1205.3,456.8L1207.9,456.4L1210.4,456L1212.9,455.6L1215.4,455.2L1217.9,454.8L1220.4,454.5L1222.9,454.1L1225.4,453.8L1227.9,453.4L1230.4,453.1L1232.9,452.8L1235.4,452.4L1237.9,452.1L1240.4,451.8L1242.9,451.6L1245.4,451.3L1247.9,451L1250.4,450.8L1252.9,450.5L1255.4,450.3L1257.9,450.1L1260.4,449.8L1262.9,449.7L1265.4,449.5L1267.9,449.3L1270.4,449.1L1272.9,449L1275.5,448.8L1278,448.7L1280.5,448.6L1283,448.5L1285.5,448.4L1288,448.4L1290.5,448.3L1293,448.3L1295.5,448.2L1298,448.2L1300.5,448.2L1303,448.2L1305.5,448.3L1308,448.3"/>
<path d="M732,489.1L734.5,489.3L737,489.5L739.5,489.7L742,489.8L744.5,490L747,490.1L749.5,490.2L752,490.3L754.5,490.5L757,490.6L759.5,490.7L762.1,490.7L764.6,490.8L767.1,490.9L769.6,491L772.1,491L774.6,491.1L777.1,491.1L779.6,491.1L782.1,491.2L784.6,491.2L787.1,491.2L789.6,491.2L792.1,491.2L794.6,491.2L797.1,491.2L799.6,491.2L802.1,491.2L804.6,491.2L807.1,491.1L809.6,491.1L812.1,491L814.6,491L817.1,490.9L819.7,490.9L822.2,490.8L824.7,490.8L827.2,490.7L829.7,490.6L832.2,490.5L834.7,490.4L837.2,490.4L839.7,490.3L842.2,490.2L844.7,490.1L847.2,490L849.7,489.9L852.2,489.8L854.7,489.7L857.2,489.5L859.7,489.4L862.2,489.3L864.7,489.2L867.2,489.1L869.7,488.9L872.2,488.8L874.7,488.7L877.3,488.6L879.8,488.4L882.3,488.3L884.8,488.2L887.3,488L889.8,487.9L892.3,487.8L894.8,487.6L897.3,487.5L899.8,487.4L902.3,487.2L904.8,487.1L907.3,487L909.8,486.8L912.3,486.7L914.8,486.5L917.3,486.4L919.8,486.3L922.3,486.1L924.8,486L927.3,485.9L929.8,485.7L932.3,485.6L934.9,485.5L937.4,485.4L939.9,485.2L942.4,485.1L944.9,485L947.4,484.9L949.9,484.8L952.4,484.7L954.9,484.6L957.4,484.5L959.9,484.4L962.4,484.3L964.9,484.2L967.4,484.1L969.9,484L972.4,483.9L974.9,483.8L977.4,483.7L979.9,483.7L982.4,483.6L984.9,483.5L987.4,483.5L989.9,483.4L992.5,483.4L995,483.3L997.5,483.3L1000,483.2L1002.5,483.2L1005,483.2L1007.5,483.2L1010,483.2L1012.5,483.1L1015,483.1L1017.5,483.2L1020,483.2L1022.5,483.2L1025,483.2L1027.5,483.2L1030,483.3L1032.5,483.3L1035,483.4L1037.5,483.4L1040,483.5L1042.5,483.6L1045,483.6L1047.5,483.7L1050.1,483.8L1052.6,483.9L1055.1,484L1057.6,484.1L1060.1,484.2L1062.6,484.3L1065.1,484.4L1067.6,484.5L1070.1,484.6L1072.6,484.8L1075.1,484.9L1077.6,485L1080.1,485.1L1082.6,485.2L1085.1,485.3L1087.6,485.5L1090.1,485.6L1092.6,485.7L1095.1,485.8L1097.6,485.9L1100.1,486.1L1102.6,486.2L1105.1,486.3L1107.7,486.4L1110.2,486.5L1112.7,486.6L1115.2,486.7L1117.7,486.8L1120.2,486.9L1122.7,487L1125.2,487L1127.7,487.1L1130.2,487.2L1132.7,487.3L1135.2,487.3L1137.7,487.4L1140.2,487.4L1142.7,487.5L1145.2,487.5L1147.7,487.5L1150.2,487.5L1152.7,487.5L1155.2,487.5L1157.7,487.5L1160.2,487.5L1162.7,487.5L1165.3,487.4L1167.8,487.4L1170.3,487.3L1172.8,487.3L1175.3,487.2L1177.8,487.1L1180.3,487L1182.8,486.9L1185.3,486.7L1187.8,486.6L1190.3,486.4L1192.8,486.3L1195.3,486.1L1197.8,486L1200.3,485.8L1202.8,485.6L1205.3,485.4L1207.8,485.3L1210.3,485.1L1212.8,484.9L1215.3,484.7L1217.8,484.6L1220.3,484.4L1222.9,484.2L1225.4,484.1L1227.9,483.9L1230.4,483.8L1232.9,483.7L1235.4,483.5L1237.9,483.4L1240.4,483.3L1242.9,483.3L1245.4,483.2L1247.9,483.1L1250.4,483.1L1252.9,483.1L1255.4,483.1L1257.9,483L1260.4,483L1262.9,483.1L1265.4,483.1L1267.9,483.1L1270.4,483.1L1272.9,483.2L1275.4,483.2L1277.9,483.2L1280.5,483.3L1283,483.3L1285.5,483.4L1288,483.4L1290.5,483.4L1293,483.5L1295.5,483.5L1298,483.6L1300.5,483.6L1303,483.6L1305.5,483.6L1308,483.6"/>
<path d="M732,492L734.5,492.2L737,492.4L739.5,492.7L742,492.9L744.5,493.1L747,493.3L749.5,493.5L752,493.7L754.5,493.9L757,494.1L759.5,494.3L762.1,494.5L764.6,494.7L767.1,494.9L769.6,495.1L772.1,495.2L774.6,495.4L777.1,495.6L779.6,495.8L782.1,496L784.6,496.1L787.1,496.3L789.6,496.5L792.1,496.6L794.6,496.8L797.1,497L799.6,497.1L802.1,497.3L804.6,497.5L807.1,497.6L809.6,497.8L812.1,497.9L814.6,498.1L817.1,498.2L819.7,498.4L822.2,498.5L824.7,498.6L827.2,498.8L829.7,498.9L832.2,499.1L834.7,499.2L837.2,499.3L839.7,499.5L842.2,499.6L844.7,499.7L847.2,499.8L849.7,500L852.2,500.1L854.7,500.2L857.2,500.3L859.7,500.4L862.2,500.5L864.7,500.7L867.2,500.8L869.7,500.9L872.2,501L874.7,501.1L877.3,501.2L879.8,501.3L882.3,501.4L884.8,501.5L887.3,501.6L889.8,501.7L892.3,501.8L894.8,501.9L897.3,502L899.8,502.1L902.3,502.1L904.8,502.2L907.3,502.3L909.8,502.4L912.3,502.5L914.8,502.6L917.3,502.6L919.8,502.7L922.3,502.8L924.8,502.9L927.3,502.9L929.8,503L932.3,503.1L934.9,503.1L937.4,503.2L939.9,503.3L942.4,503.3L944.9,503.4L947.4,503.4L949.9,503.5L952.4,503.6L954.9,503.6L957.4,503.7L959.9,503.7L962.4,503.8L964.9,503.8L967.4,503.9L969.9,503.9L972.4,504L974.9,504L977.4,504.1L979.9,504.1L982.4,504.2L984.9,504.2L987.4,504.2L989.9,504.3L992.5,504.3L995,504.4L997.5,504.4L1000,504.4L1002.5,504.5L1005,504.5L1007.5,504.5L1010,504.5L1012.5,504.6L1015,504.6L1017.5,504.6L1020,504.7L1022.5,504.7L1025,504.7L1027.5,504.7L1030,504.7L1032.5,504.8L1035,504.8L1037.5,504.8L1040,504.8L1042.5,504.8L1045,504.9L1047.5,504.9L1050.1,504.9L1052.6,504.9L1055.1,504.9L1057.6,504.9L1060.1,504.9L1062.6,504.9L1065.1,504.9L1067.6,505L1070.1,505L1072.6,505L1075.1,505L1077.6,505L1080.1,505L1082.6,505L1085.1,505L1087.6,505L1090.1,505L1092.6,505L1095.1,505L1097.6,505L1100.1,505L1102.6,505L1105.1,505L1107.7,505L1110.2,505L1112.7,505L1115.2,505L1117.7,505L1120.2,504.9L1122.7,504.9L1125.2,504.9L1127.7,504.9L1130.2,504.9L1132.7,504.9L1135.2,504.9L1137.7,504.9L1140.2,504.9L1142.7,504.9L1145.2,504.8L1147.7,504.8L1150.2,504.8L1152.7,504.8L1155.2,504.8L1157.7,504.8L1160.2,504.8L1162.7,504.8L1165.3,504.7L1167.8,504.7L1170.3,504.7L1172.8,504.7L1175.3,504.7L1177.8,504.7L1180.3,504.6L1182.8,504.6L1185.3,504.6L1187.8,504.6L1190.3,504.6L1192.8,504.5L1195.3,504.5L1197.8,504.5L1200.3,504.5L1202.8,504.5L1205.3,504.4L1207.8,504.4L1210.3,504.4L1212.8,504.4L1215.3,504.4L1217.8,504.3L1220.3,504.3L1222.9,504.3L1225.4,504.3L1227.9,504.3L1230.4,504.2L1232.9,504.2L1235.4,504.2L1237.9,504.2L1240.4,504.2L1242.9,504.1L1245.4,504.1L1247.9,504.1L1250.4,504.1L1252.9,504L1255.4,504L1257.9,504L1260.4,504L1262.9,504L1265.4,503.9L1267.9,503.9L1270.4,503.9L1272.9,503.9L1275.4,503.9L1277.9,503.8L1280.5,503.8L1283,503.8L1285.5,503.8L1288,503.8L1290.5,503.7L1293,503.7L1295.5,503.7L1298,503.7L1300.5,503.7L1303,503.6L1305.5,503.6L1308,503.6"/>
<path d="M732,536.4L734.5,535.8L737,535.2L739.5,534.6L742,534.1L744.5,533.5L747,533L749.5,532.5L752,531.9L754.5,531.4L757,531L759.5,530.5L762.1,530L764.6,529.5L767.1,529.1L769.6,528.6L772.1,528.2L774.6,527.8L777.1,527.4L779.6,526.9L782.1,526.5L784.6,526.2L787.1,525.8L789.6,525.4L792.1,525L794.6,524.7L797.1,524.3L799.6,524L802.1,523.7L804.6,523.4L807.1,523L809.6,522.7L812.1,522.4L814.6,522.2L817.1,521.9L819.7,521.6L822.2,521.3L824.7,521.1L827.2,520.8L829.7,520.6L832.2,520.3L834.7,520.1L837.2,519.9L839.7,519.7L842.2,519.4L844.7,519.2L847.2,519L849.7,518.9L852.2,518.7L854.7,518.5L857.2,518.3L859.7,518.2L862.2,518L864.7,517.8L867.2,517.7L869.7,517.5L872.2,517.4L874.7,517.3L877.3,517.1L879.8,517L882.3,516.9L884.8,516.8L887.3,516.7L889.8,516.6L892.3,516.5L894.8,516.4L897.3,516.3L899.8,516.2L902.3,516.1L904.8,516.1L907.3,516L909.8,515.9L912.3,515.8L914.8,515.8L917.3,515.7L919.8,515.7L922.3,515.6L924.8,515.6L927.3,515.5L929.8,515.5L932.3,515.5L934.9,515.4L937.4,515.4L939.9,515.4L942.4,515.3L944.9,515.3L947.4,515.3L949.9,515.3L952.4,515.3L954.9,515.2L957.4,515.2L959.9,515.2L962.4,515.2L964.9,515.2L967.4,515.2L969.9,515.2L972.4,515.2L974.9,515.2L977.4,515.2L979.9,515.2L982.4,515.2L984.9,515.2L987.4,515.2L989.9,515.2L992.5,515.2L995,515.2L997.5,515.2L1000,515.2L1002.5,515.2L1005,515.3L1007.5,515.3L1010,515.3L1012.5,515.3L1015,515.3L1017.5,515.3L1020,515.3L1022.5,515.3L1025,515.3L1027.5,515.3L1030,515.3L1032.5,515.3L1035,515.3L1037.5,515.3L1040,515.3L1042.5,515.3L1045,515.3L1047.5,515.3L1050.1,515.3L1052.6,515.3L1055.1,515.3L1057.6,515.3L1060.1,515.3L1062.6,515.3L1065.1,515.3L1067.6,515.3L1070.1,515.3L1072.6,515.3L1075.1,515.3L1077.6,515.3L1080.1,515.2L1082.6,515.2L1085.1,515.2L1087.6,515.2L1090.1,515.2L1092.6,515.2L1095.1,515.2L1097.6,515.2L1100.1,515.1L1102.6,515.1L1105.1,515.1L1107.7,515.1L1110.2,515.1L1112.7,515.1L1115.2,515.1L1117.7,515L1120.2,515L1122.7,515L1125.2,515L1127.7,515L1130.2,515L1132.7,514.9L1135.2,514.9L1137.7,514.9L1140.2,514.9L1142.7,514.9L1145.2,514.9L1147.7,514.9L1150.2,514.8L1152.7,514.8L1155.2,514.8L1157.7,514.8L1160.2,514.8L1162.7,514.8L1165.3,514.7L1167.8,514.7L1170.3,514.7L1172.8,514.7L1175.3,514.7L1177.8,514.7L1180.3,514.7L1182.8,514.7L1185.3,514.6L1187.8,514.6L1190.3,514.6L1192.8,514.6L1195.3,514.6L1197.8,514.6L1200.3,514.6L1202.8,514.6L1205.3,514.6L1207.8,514.5L1210.3,514.5L1212.8,514.5L1215.3,514.5L1217.8,514.5L1220.3,514.5L1222.9,514.5L1225.4,514.5L1227.9,514.5L1230.4,514.5L1232.9,514.5L1235.4,514.5L1237.9,514.5L1240.4,514.5L1242.9,514.5L1245.4,514.5L1247.9,514.5L1250.4,514.5L1252.9,514.5L1255.4,514.5L1257.9,514.5L1260.4,514.6L1262.9,514.6L1265.4,514.6L1267.9,514.6L1270.4,514.6L1272.9,514.6L1275.4,514.6L1277.9,514.7L1280.5,514.7L1283,514.7L1285.5,514.7L1288,514.7L1290.5,514.8L1293,514.8L1295.5,514.8L1298,514.8L1300.5,514.9L1303,514.9L1305.5,514.9L1308,515"/>
<path d="M732,520L734.5,519.7L737,519.3L739.5,519L742,518.6L744.5,518.3L747,518L749.5,517.7L752,517.3L754.5,517L757.1,516.7L759.6,516.4L762.1,516.1L764.6,515.8L767.1,515.5L769.6,515.2L772.1,514.9L774.6,514.6L777.1,514.3L779.6,514.1L782.1,513.8L784.6,513.5L787.1,513.3L789.6,513L792.1,512.8L794.6,512.5L797.1,512.3L799.6,512L802.1,511.8L804.7,511.6L807.2,511.3L809.7,511.1L812.2,510.9L814.7,510.7L817.2,510.4L819.7,510.2L822.2,510L824.7,509.8L827.2,509.5L829.7,509.3L832.2,509.1L834.7,508.9L837.2,508.7L839.7,508.5L842.2,508.3L844.7,508.1L847.2,507.9L849.7,507.7L852.3,507.6L854.8,507.4L857.3,507.2L859.8,507.1L862.3,506.9L864.8,506.7L867.3,506.6L869.8,506.5L872.3,506.3L874.8,506.2L877.3,506.1L879.8,506L882.3,505.9L884.8,505.8L887.3,505.7L889.8,505.6L892.3,505.5L894.8,505.4L897.3,505.3L899.9,505.2L902.4,505.1L904.9,505L907.4,504.9L909.9,504.9L912.4,504.8L914.9,504.7L917.4,504.6L919.9,504.5L922.4,504.4L924.9,504.4L927.4,504.3L929.9,504.2L932.4,504.2L934.9,504.1L937.4,504L939.9,504L942.4,503.9L944.9,503.9L947.5,503.8L950,503.8L952.5,503.7L955,503.7L957.5,503.7L960,503.7L962.5,503.6L965,503.6L967.5,503.6L970,503.6"/>
<path d="M732,536.3L734.5,536.3L737,536.3L739.5,536.3L742,536.3L744.5,536.3L747,536.3L749.5,536.3L752,536.4L754.5,536.4L757,536.4L759.5,536.4L762.1,536.4L764.6,536.5L767.1,536.5L769.6,536.5L772.1,536.5L774.6,536.6L777.1,536.6L779.6,536.6L782.1,536.6L784.6,536.7L787.1,536.7L789.6,536.7L792.1,536.8L794.6,536.8L797.1,536.9L799.6,536.9L802.1,536.9L804.6,537L807.1,537L809.6,537.1L812.1,537.1L814.6,537.2L817.1,537.2L819.7,537.3L822.2,537.3L824.7,537.4L827.2,537.4L829.7,537.5L832.2,537.5L834.7,537.6L837.2,537.6L839.7,537.7L842.2,537.7L844.7,537.8L847.2,537.8L849.7,537.9L852.2,537.9L854.7,538L857.2,538.1L859.7,538.1L862.2,538.2L864.7,538.3L867.2,538.4L869.7,538.5L872.2,538.6L874.7,538.7L877.3,538.8L879.8,539L882.3,539.1L884.8,539.3L887.3,539.5L889.8,539.6L892.3,539.8L894.8,540L897.3,540.2L899.8,540.4L902.3,540.6L904.8,540.8L907.3,541L909.8,541.2L912.3,541.4L914.8,541.6L917.3,541.8L919.8,542L922.3,542.2L924.8,542.3L927.3,542.5L929.8,542.7L932.3,542.9L934.9,543.1L937.4,543.2L939.9,543.4L942.4,543.5L944.9,543.7L947.4,543.8L949.9,543.9L952.4,544.1L954.9,544.2L957.4,544.2L959.9,544.3L962.4,544.4L964.9,544.4L967.4,544.5L969.9,544.5L972.4,544.5L974.9,544.5L977.4,544.5L979.9,544.5L982.4,544.5L984.9,544.5L987.4,544.5L989.9,544.5L992.5,544.4L995,544.4L997.5,544.4L1000,544.4L1002.5,544.4L1005,544.3L1007.5,544.3L1010,544.3L1012.5,544.3L1015,544.3L1017.5,544.2L1020,544.2L1022.5,544.2L1025,544.1L1027.5,544.1L1030,544.1L1032.5,544.1L1035,544L1037.5,544L1040,544L1042.5,543.9L1045,543.9L1047.5,543.9L1050.1,543.8L1052.6,543.8L1055.1,543.8L1057.6,543.7L1060.1,543.7L1062.6,543.7L1065.1,543.6L1067.6,543.6L1070.1,543.6L1072.6,543.5L1075.1,543.5L1077.6,543.5L1080.1,543.4L1082.6,543.4L1085.1,543.4L1087.6,543.3L1090.1,543.3L1092.6,543.3L1095.1,543.3L1097.6,543.2L1100.1,543.2L1102.6,543.2L1105.1,543.2L1107.7,543.1L1110.2,543.1L1112.7,543.1L1115.2,543.1L1117.7,543.1L1120.2,543.1L1122.7,543L1125.2,543L1127.7,543L1130.2,543L1132.7,543L1135.2,543L1137.7,543L1140.2,543L1142.7,543L1145.2,543L1147.7,543L1150.2,543L1152.7,543L1155.2,543L1157.7,543L1160.2,543L1162.7,543L1165.3,543L1167.8,543L1170.3,543L1172.8,543L1175.3,543L1177.8,543L1180.3,543L1182.8,543.1L1185.3,543.1L1187.8,543.1L1190.3,543.1L1192.8,543.1L1195.3,543.1L1197.8,543.1L1200.3,543.1L1202.8,543.1L1205.3,543.1L1207.8,543.1L1210.3,543.2L1212.8,543.2L1215.3,543.2L1217.8,543.2L1220.3,543.2L1222.9,543.2L1225.4,543.2L1227.9,543.2L1230.4,543.3L1232.9,543.3L1235.4,543.3L1237.9,543.3L1240.4,543.3L1242.9,543.3L1245.4,543.4L1247.9,543.4L1250.4,543.4L1252.9,543.4L1255.4,543.4L1257.9,543.5L1260.4,543.5L1262.9,543.5L1265.4,543.5L1267.9,543.5L1270.4,543.6L1272.9,543.6L1275.4,543.6L1277.9,543.6L1280.5,543.7L1283,543.7L1285.5,543.7L1288,543.8L1290.5,543.8L1293,543.8L1295.5,543.8L1298,543.9L1300.5,543.9L1303,543.9L1305.5,544L1308,544"/>
<path d="M732,536.3L734.5,536.3L737,536.3L739.5,536.4L742,536.4L744.5,536.4L747,536.5L749.5,536.6L752,536.7L754.5,536.7L757.1,536.8L759.6,537L762.1,537.1L764.6,537.2L767.1,537.3L769.6,537.5L772.1,537.6L774.6,537.8L777.1,537.9L779.6,538.1L782.1,538.3L784.6,538.4L787.1,538.6L789.6,538.8L792.1,539L794.6,539.2L797.1,539.4L799.6,539.6L802.1,539.8L804.7,540L807.2,540.2L809.7,540.5L812.2,540.8L814.7,541.1L817.2,541.4L819.7,541.8L822.2,542.2L824.7,542.7L827.2,543.1L829.7,543.6L832.2,544.2L834.7,544.7L837.2,545.3L839.7,545.8L842.2,546.4L844.7,547.1L847.2,547.7L849.7,548.3L852.3,549L854.8,549.7L857.3,550.4L859.8,551.1L862.3,551.8L864.8,552.5L867.3,553.3L869.8,554L872.3,554.8L874.8,555.5L877.3,556.3L879.8,557.1L882.3,557.9L884.8,558.8L887.3,559.8L889.8,560.8L892.3,561.8L894.8,562.9L897.3,564L899.9,565.1L902.4,566.3L904.9,567.5L907.4,568.7L909.9,569.9L912.4,571.2L914.9,572.4L917.4,573.7L919.9,574.9L922.4,576.2L924.9,577.5L927.4,578.7L929.9,580L932.4,581.2L934.9,582.5L937.4,583.7L939.9,585L942.4,586.4L944.9,587.7L947.5,589L950,590.4L952.5,591.8L955,593.1L957.5,594.5L960,595.9L962.5,597.4L965,598.8L967.5,600.2L970,601.7"/>
<path d="M732,585.2L734.5,585.5L737,585.8L739.5,586.1L742,586.4L744.5,586.6L747,586.9L749.5,587.2L752,587.4L754.5,587.7L757,588L759.5,588.2L762.1,588.5L764.6,588.8L767.1,589L769.6,589.3L772.1,589.5L774.6,589.8L777.1,590L779.6,590.3L782.1,590.5L784.6,590.8L787.1,591L789.6,591.2L792.1,591.5L794.6,591.7L797.1,591.9L799.6,592.2L802.1,592.4L804.6,592.6L807.1,592.8L809.6,593.1L812.1,593.3L814.6,593.5L817.1,593.7L819.7,593.9L822.2,594.1L824.7,594.3L827.2,594.5L829.7,594.7L832.2,594.9L834.7,595.1L837.2,595.3L839.7,595.5L842.2,595.7L844.7,595.9L847.2,596.1L849.7,596.3L852.2,596.5L854.7,596.7L857.2,596.8L859.7,597L862.2,597.2L864.7,597.4L867.2,597.5L869.7,597.7L872.2,597.9L874.7,598L877.3,598.2L879.8,598.4L882.3,598.5L884.8,598.7L887.3,598.8L889.8,599L892.3,599.1L894.8,599.3L897.3,599.4L899.8,599.6L902.3,599.7L904.8,599.9L907.3,600L909.8,600.2L912.3,600.3L914.8,600.4L917.3,600.6L919.8,600.7L922.3,600.8L924.8,601L927.3,601.1L929.8,601.2L932.3,601.3L934.9,601.4L937.4,601.6L939.9,601.7L942.4,601.8L944.9,601.9L947.4,602L949.9,602.1L952.4,602.2L954.9,602.3L957.4,602.5L959.9,602.6L962.4,602.7L964.9,602.8L967.4,602.8L969.9,602.9L972.4,603L974.9,603.1L977.4,603.2L979.9,603.3L982.4,603.4L984.9,603.5L987.4,603.6L989.9,603.6L992.5,603.7L995,603.8L997.5,603.9L1000,604L1002.5,604L1005,604.1L1007.5,604.2L1010,604.2L1012.5,604.3L1015,604.4L1017.5,604.4L1020,604.5L1022.5,604.6L1025,604.6L1027.5,604.7L1030,604.7L1032.5,604.8L1035,604.8L1037.5,604.9L1040,604.9L1042.5,605L1045,605L1047.5,605.1L1050.1,605.1L1052.6,605.1L1055.1,605.2L1057.6,605.2L1060.1,605.3L1062.6,605.3L1065.1,605.3L1067.6,605.4L1070.1,605.4L1072.6,605.4L1075.1,605.4L1077.6,605.5L1080.1,605.5L1082.6,605.5L1085.1,605.5L1087.6,605.6L1090.1,605.6L1092.6,605.6L1095.1,605.6L1097.6,605.6L1100.1,605.6L1102.6,605.7L1105.1,605.7L1107.7,605.7L1110.2,605.7L1112.7,605.7L1115.2,605.7L1117.7,605.7L1120.2,605.7L1122.7,605.7L1125.2,605.7L1127.7,605.7L1130.2,605.7L1132.7,605.7L1135.2,605.7L1137.7,605.7L1140.2,605.7L1142.7,605.6L1145.2,605.6L1147.7,605.6L1150.2,605.6L1152.7,605.6L1155.2,605.6L1157.7,605.6L1160.2,605.5L1162.7,605.5L1165.3,605.5L1167.8,605.5L1170.3,605.4L1172.8,605.4L1175.3,605.4L1177.8,605.4L1180.3,605.3L1182.8,605.3L1185.3,605.3L1187.8,605.2L1190.3,605.2L1192.8,605.2L1195.3,605.1L1197.8,605.1L1200.3,605.1L1202.8,605L1205.3,605L1207.8,604.9L1210.3,604.9L1212.8,604.8L1215.3,604.8L1217.8,604.7L1220.3,604.7L1222.9,604.6L1225.4,604.6L1227.9,604.5L1230.4,604.5L1232.9,604.4L1235.4,604.4L1237.9,604.3L1240.4,604.3L1242.9,604.2L1245.4,604.2L1247.9,604.1L1250.4,604L1252.9,604L1255.4,603.9L1257.9,603.8L1260.4,603.8L1262.9,603.7L1265.4,603.6L1267.9,603.6L1270.4,603.5L1272.9,603.4L1275.4,603.4L1277.9,603.3L1280.5,603.2L1283,603.1L1285.5,603.1L1288,603L1290.5,602.9L1293,602.8L1295.5,602.7L1298,602.7L1300.5,602.6L1303,602.5L1305.5,602.4L1308,602.3"/>
<path d="M732,587L734.5,587.3L737,587.6L739.5,587.8L742,588.1L744.5,588.5L747,588.8L749.5,589.1L752,589.4L754.5,589.8L757.1,590.1L759.6,590.5L762.1,590.9L764.6,591.2L767.1,591.6L769.6,592L772.1,592.4L774.6,592.8L777.1,593.2L779.6,593.6L782.1,594.1L784.6,594.5L787.1,594.9L789.6,595.4L792.1,595.8L794.6,596.3L797.1,596.7L799.6,597.2L802.1,597.7L804.7,598.1L807.2,598.6L809.7,599.1L812.2,599.6L814.7,600.2L817.2,600.7L819.7,601.3L822.2,601.8L824.7,602.4L827.2,603L829.7,603.6L832.2,604.3L834.7,604.9L837.2,605.5L839.7,606.2L842.2,606.8L844.7,607.4L847.2,608.1L849.7,608.8L852.3,609.4L854.8,610.1L857.3,610.8L859.8,611.4L862.3,612.1L864.8,612.8L867.3,613.4L869.8,614.1L872.3,614.8L874.8,615.4L877.3,616.1L879.8,616.7L882.3,617.4L884.8,618.1L887.3,618.8L889.8,619.6L892.3,620.3L894.8,621L897.3,621.8L899.9,622.5L902.4,623.2L904.9,624L907.4,624.7L909.9,625.4L912.4,626.1L914.9,626.8L917.4,627.5L919.9,628.2L922.4,628.8L924.9,629.4L927.4,630L929.9,630.6L932.4,631.1L934.9,631.6L937.4,632.1L939.9,632.6L942.4,633.1L944.9,633.6L947.5,634L950,634.5L952.5,634.9L955,635.3L957.5,635.7L960,636.1L962.5,636.5L965,636.8L967.5,637.2L970,637.5"/>
<path d="M970,602.4L972.5,602.8L975,603.3L977.5,603.7L980,604.2L982.5,604.6L985,605L987.5,605.5L990,605.9L992.5,606.3L995,606.7L997.5,607.2L1000,607.6L1002.5,608L1005.1,608.4L1007.6,608.8L1010.1,609.2L1012.6,609.6L1015.1,610L1017.6,610.4L1020.1,610.7L1022.6,611.1L1025.1,611.5L1027.6,611.9L1030.1,612.2L1032.6,612.6L1035.1,613L1037.6,613.3L1040.1,613.7L1042.6,614L1045.1,614.4L1047.6,614.7L1050.1,615L1052.6,615.3L1055.1,615.7L1057.6,616L1060.1,616.3L1062.6,616.6L1065.1,616.9L1067.6,617.2L1070.1,617.5L1072.7,617.8L1075.2,618.1L1077.7,618.4L1080.2,618.7L1082.7,619L1085.2,619.3L1087.7,619.6L1090.2,619.9L1092.7,620.1L1095.2,620.4L1097.7,620.7L1100.2,621L1102.7,621.2L1105.2,621.5L1107.7,621.8L1110.2,622L1112.7,622.3L1115.2,622.5L1117.7,622.8L1120.2,623.1L1122.7,623.3L1125.2,623.6L1127.7,623.8L1130.2,624.1L1132.7,624.3L1135.2,624.6L1137.7,624.8L1140.3,625.1L1142.8,625.3L1145.3,625.6L1147.8,625.8L1150.3,626.1L1152.8,626.3L1155.3,626.6L1157.8,626.8L1160.3,627.1L1162.8,627.4L1165.3,627.6L1167.8,627.9L1170.3,628.2L1172.8,628.4L1175.3,628.7L1177.8,628.9L1180.3,629.2L1182.8,629.4L1185.3,629.6L1187.8,629.9L1190.3,630.1L1192.8,630.3L1195.3,630.5L1197.8,630.7L1200.3,630.9L1202.8,631.1L1205.3,631.2L1207.9,631.4L1210.4,631.5L1212.9,631.7L1215.4,631.8L1217.9,631.9L1220.4,632L1222.9,632.1L1225.4,632.2L1227.9,632.3L1230.4,632.4L1232.9,632.5L1235.4,632.5L1237.9,632.6L1240.4,632.7L1242.9,632.8L1245.4,632.9L1247.9,632.9L1250.4,633L1252.9,633.1L1255.4,633.2L1257.9,633.2L1260.4,633.3L1262.9,633.4L1265.4,633.4L1267.9,633.5L1270.4,633.6L1272.9,633.6L1275.5,633.7L1278,633.7L1280.5,633.8L1283,633.8L1285.5,633.8L1288,633.9L1290.5,633.9L1293,633.9L1295.5,633.9L1298,634L1300.5,634L1303,634L1305.5,634L1308,634"/>
<path d="M970,637.5L972.5,637.3L975,637.1L977.5,636.8L980,636.6L982.5,636.4L985,636.2L987.5,636L990,635.8L992.5,635.6L995,635.3L997.5,635.1L1000,634.9L1002.5,634.7L1005.1,634.5L1007.6,634.3L1010.1,634.1L1012.6,633.9L1015.1,633.7L1017.6,633.5L1020.1,633.3L1022.6,633.1L1025.1,632.9L1027.6,632.7L1030.1,632.5L1032.6,632.3L1035.1,632.1L1037.6,631.9L1040.1,631.7L1042.6,631.5L1045.1,631.4L1047.6,631.2L1050.1,631L1052.6,630.8L1055.1,630.6L1057.6,630.5L1060.1,630.3L1062.6,630.1L1065.1,630L1067.6,629.8L1070.1,629.7L1072.7,629.5L1075.2,629.4L1077.7,629.2L1080.2,629.1L1082.7,628.9L1085.2,628.8L1087.7,628.6L1090.2,628.5L1092.7,628.3L1095.2,628.2L1097.7,628L1100.2,627.9L1102.7,627.7L1105.2,627.6L1107.7,627.4L1110.2,627.2L1112.7,627.1L1115.2,626.9L1117.7,626.7L1120.2,626.6L1122.7,626.4L1125.2,626.2L1127.7,626L1130.2,625.8L1132.7,625.6L1135.2,625.4L1137.7,625.2L1140.3,624.9L1142.8,624.7L1145.3,624.5L1147.8,624.2L1150.3,623.9L1152.8,623.6L1155.3,623.3L1157.8,623L1160.3,622.7L1162.8,622.4L1165.3,622L1167.8,621.7L1170.3,621.3L1172.8,621L1175.3,620.6L1177.8,620.2L1180.3,619.9L1182.8,619.5L1185.3,619.1L1187.8,618.7L1190.3,618.4L1192.8,618L1195.3,617.6L1197.8,617.2L1200.3,616.8L1202.8,616.5L1205.3,616.1L1207.9,615.7L1210.4,615.3L1212.9,615L1215.4,614.6L1217.9,614.3L1220.4,614L1222.9,613.6L1225.4,613.3L1227.9,612.9L1230.4,612.6L1232.9,612.3L1235.4,611.9L1237.9,611.6L1240.4,611.3L1242.9,610.9L1245.4,610.6L1247.9,610.3L1250.4,609.9L1252.9,609.6L1255.4,609.3L1257.9,608.9L1260.4,608.6L1262.9,608.3L1265.4,608L1267.9,607.6L1270.4,607.3L1272.9,607L1275.5,606.6L1278,606.3L1280.5,606L1283,605.7L1285.5,605.3L1288,605L1290.5,604.7L1293,604.3L1295.5,604L1298,603.7L1300.5,603.4L1303,603L1305.5,602.7L1308,602.4"/>
<path d="M970,602.4L972.5,601.9L975,601.4L977.5,600.9L980,600.4L982.5,599.9L985,599.4L987.5,599L990,598.5L992.5,598L995,597.6L997.5,597.1L1000,596.7L1002.5,596.3L1005.1,595.8L1007.6,595.4L1010.1,595L1012.6,594.6L1015.1,594.2L1017.6,593.8L1020.1,593.5L1022.6,593.1L1025.1,592.8L1027.6,592.4L1030.1,592.1L1032.6,591.8L1035.1,591.5L1037.6,591.2L1040.1,590.9L1042.6,590.7L1045.1,590.4L1047.6,590.2L1050.1,590L1052.6,589.8L1055.1,589.6L1057.6,589.4L1060.1,589.2L1062.6,589L1065.1,588.8L1067.6,588.6L1070.1,588.4L1072.7,588.2L1075.2,588L1077.7,587.8L1080.2,587.6L1082.7,587.4L1085.2,587.2L1087.7,587L1090.2,586.9L1092.7,586.7L1095.2,586.6L1097.7,586.4L1100.2,586.2L1102.7,586.1L1105.2,586L1107.7,585.8L1110.2,585.7L1112.7,585.6L1115.2,585.5L1117.7,585.4L1120.2,585.3L1122.7,585.3L1125.2,585.2L1127.7,585.1L1130.2,585.1L1132.7,585L1135.2,585L1137.7,585L1140.3,585L1142.8,585L1145.3,585L1147.8,585.1L1150.3,585.1L1152.8,585.2L1155.3,585.3L1157.8,585.4L1160.3,585.5L1162.8,585.6L1165.3,585.7L1167.8,585.9L1170.3,586L1172.8,586.2L1175.3,586.3L1177.8,586.5L1180.3,586.7L1182.8,586.9L1185.3,587L1187.8,587.2L1190.3,587.4L1192.8,587.6L1195.3,587.9L1197.8,588.1L1200.3,588.3L1202.8,588.5L1205.3,588.7L1207.9,588.9L1210.4,589.2L1212.9,589.4L1215.4,589.6L1217.9,589.8L1220.4,590L1222.9,590.3L1225.4,590.5L1227.9,590.7L1230.4,591L1232.9,591.2L1235.4,591.5L1237.9,591.8L1240.4,592.1L1242.9,592.4L1245.4,592.7L1247.9,593L1250.4,593.3L1252.9,593.6L1255.4,593.9L1257.9,594.3L1260.4,594.6L1262.9,595L1265.4,595.4L1267.9,595.7L1270.4,596.1L1272.9,596.5L1275.5,596.9L1278,597.3L1280.5,597.7L1283,598.1L1285.5,598.5L1288,598.9L1290.5,599.3L1293,599.7L1295.5,600.2L1298,600.6L1300.5,601.1L1303,601.5L1305.5,601.9L1308,602.4"/>
<path d="M970,602.4L972.5,600.8L975,599.1L977.5,597.5L980,595.9L982.5,594.4L985,592.8L987.5,591.3L990,589.7L992.5,588.2L995,586.7L997.5,585.3L1000,583.8L1002.5,582.4L1005.1,581L1007.6,579.6L1010.1,578.2L1012.6,576.9L1015.1,575.6L1017.6,574.3L1020.1,573L1022.6,571.7L1025.1,570.5L1027.6,569.3L1030.1,568.2L1032.6,567L1035.1,565.9L1037.6,564.9L1040.1,563.8L1042.6,562.8L1045.1,561.8L1047.6,560.9L1050.1,560L1052.6,559.1L1055.1,558.2L1057.6,557.3L1060.1,556.5L1062.6,555.7L1065.1,554.9L1067.6,554.1L1070.1,553.3L1072.7,552.6L1075.2,551.9L1077.7,551.1L1080.2,550.4L1082.7,549.7L1085.2,549L1087.7,548.4L1090.2,547.7L1092.7,547L1095.2,546.4L1097.7,545.8L1100.2,545.1L1102.7,544.5L1105.2,543.9L1107.7,543.3L1110.2,542.7L1112.7,542.1L1115.2,541.5L1117.7,540.9L1120.2,540.4L1122.7,539.8L1125.2,539.2L1127.7,538.6L1130.2,538L1132.7,537.5L1135.2,536.9L1137.7,536.3L1140.3,535.7L1142.8,535.2L1145.3,534.6L1147.8,534L1150.3,533.5L1152.8,532.9L1155.3,532.4L1157.8,531.8L1160.3,531.2L1162.8,530.7L1165.3,530.2L1167.8,529.6L1170.3,529.1L1172.8,528.6L1175.3,528L1177.8,527.5L1180.3,527L1182.8,526.5L1185.3,526L1187.8,525.5L1190.3,525L1192.8,524.6L1195.3,524.1L1197.8,523.6L1200.3,523.2L1202.8,522.7L1205.3,522.3L1207.9,521.9L1210.4,521.5L1212.9,521.1L1215.4,520.7L1217.9,520.3L1220.4,519.9L1222.9,519.6L1225.4,519.2L1227.9,518.9L1230.4,518.5L1232.9,518.2L1235.4,517.8L1237.9,517.5L1240.4,517.1L1242.9,516.8L1245.4,516.5L1247.9,516.2L1250.4,515.8L1252.9,515.5L1255.4,515.2L1257.9,514.9L1260.4,514.6L1262.9,514.3L1265.4,514L1267.9,513.7L1270.4,513.4L1272.9,513.2L1275.5,512.9L1278,512.6L1280.5,512.4L1283,512.1L1285.5,511.9L1288,511.6L1290.5,511.4L1293,511.2L1295.5,511L1298,510.8L1300.5,510.6L1303,510.4L1305.5,510.2L1308,510"/>
<path d="M970,510L972.5,510.2L975,510.5L977.5,510.7L980,510.9L982.5,511.2L985,511.4L987.5,511.7L990,512L992.5,512.3L995,512.5L997.5,512.8L1000,513.1L1002.5,513.4L1005.1,513.7L1007.6,514L1010.1,514.4L1012.6,514.7L1015.1,515L1017.6,515.3L1020.1,515.7L1022.6,516L1025.1,516.4L1027.6,516.7L1030.1,517.1L1032.6,517.4L1035.1,517.8L1037.6,518.1L1040.1,518.5L1042.6,518.9L1045.1,519.3L1047.6,519.6L1050.1,520L1052.6,520.4L1055.1,520.8L1057.6,521.2L1060.1,521.6L1062.6,522L1065.1,522.4L1067.6,522.8L1070.1,523.3L1072.7,523.7L1075.2,524.1L1077.7,524.6L1080.2,525L1082.7,525.5L1085.2,525.9L1087.7,526.4L1090.2,526.9L1092.7,527.4L1095.2,527.9L1097.7,528.4L1100.2,528.9L1102.7,529.4L1105.2,530L1107.7,530.5L1110.2,531L1112.7,531.6L1115.2,532.2L1117.7,532.8L1120.2,533.3L1122.7,533.9L1125.2,534.6L1127.7,535.2L1130.2,535.8L1132.7,536.5L1135.2,537.1L1137.7,537.8L1140.3,538.5L1142.8,539.3L1145.3,540.1L1147.8,540.9L1150.3,541.7L1152.8,542.6L1155.3,543.5L1157.8,544.4L1160.3,545.4L1162.8,546.3L1165.3,547.3L1167.8,548.3L1170.3,549.3L1172.8,550.4L1175.3,551.4L1177.8,552.5L1180.3,553.5L1182.8,554.6L1185.3,555.7L1187.8,556.7L1190.3,557.8L1192.8,558.9L1195.3,559.9L1197.8,561L1200.3,562.1L1202.8,563.1L1205.3,564.2L1207.9,565.2L1210.4,566.2L1212.9,567.2L1215.4,568.2L1217.9,569.2L1220.4,570.1L1222.9,571.1L1225.4,572L1227.9,573L1230.4,573.9L1232.9,574.8L1235.4,575.8L1237.9,576.7L1240.4,577.7L1242.9,578.6L1245.4,579.5L1247.9,580.5L1250.4,581.4L1252.9,582.3L1255.4,583.2L1257.9,584.2L1260.4,585.1L1262.9,586L1265.4,586.9L1267.9,587.9L1270.4,588.8L1272.9,589.7L1275.5,590.6L1278,591.5L1280.5,592.4L1283,593.4L1285.5,594.3L1288,595.2L1290.5,596.1L1293,597L1295.5,597.9L1298,598.8L1300.5,599.7L1303,600.6L1305.5,601.5L1308,602.4"/>
<path d="M732,684.6L734.5,682.7L737,680.9L739.5,679.1L742,677.4L744.5,675.7L747,674L749.5,672.4L752,670.9L754.5,669.4L757.1,667.9L759.6,666.5L762.1,665.1L764.6,663.8L767.1,662.5L769.6,661.2L772.1,660L774.6,658.8L777.1,657.6L779.6,656.5L782.1,655.5L784.6,654.4L787.1,653.4L789.6,652.5L792.1,651.5L794.6,650.6L797.1,649.8L799.6,649L802.1,648.2L804.7,647.4L807.2,646.7L809.7,646L812.2,645.3L814.7,644.6L817.2,644L819.7,643.4L822.2,642.9L824.7,642.3L827.2,641.8L829.7,641.4L832.2,640.9L834.7,640.5L837.2,640.1L839.7,639.7L842.2,639.3L844.7,639L847.2,638.7L849.7,638.4L852.3,638.1L854.8,637.9L857.3,637.6L859.8,637.4L862.3,637.2L864.8,637L867.3,636.9L869.8,636.7L872.3,636.6L874.8,636.5L877.3,636.4L879.8,636.3L882.3,636.2L884.8,636.2L887.3,636.1L889.8,636.1L892.3,636L894.8,636L897.3,636L899.9,636L902.4,636L904.9,636.1L907.4,636.1L909.9,636.1L912.4,636.2L914.9,636.2L917.4,636.3L919.9,636.3L922.4,636.4L924.9,636.4L927.4,636.5L929.9,636.6L932.4,636.7L934.9,636.7L937.4,636.8L939.9,636.9L942.4,636.9L944.9,637L947.5,637.1L950,637.1L952.5,637.2L955,637.3L957.5,637.3L960,637.4L962.5,637.4L965,637.4L967.5,637.5L970,637.5"/>
<path d="M970,637.5L972.5,637.5L975,637.5L977.5,637.4L980,637.4L982.5,637.4L985,637.4L987.5,637.3L990,637.3L992.5,637.3L995,637.3L997.5,637.3L1000,637.2L1002.5,637.2L1005.1,637.2L1007.6,637.2L1010.1,637.2L1012.6,637.1L1015.1,637.1L1017.6,637.1L1020.1,637.1L1022.6,637.1L1025.1,637.1L1027.6,637.1L1030.1,637L1032.6,637L1035.1,637L1037.6,637L1040.1,637L1042.6,637L1045.1,637L1047.6,637L1050.1,637L1052.6,637L1055.1,637L1057.6,637L1060.1,637L1062.6,637L1065.1,637L1067.6,637L1070.1,637L1072.7,637L1075.2,637L1077.7,637L1080.2,637L1082.7,637L1085.2,637L1087.7,637L1090.2,637L1092.7,637L1095.2,637L1097.7,637L1100.2,637L1102.7,637L1105.2,637L1107.7,637L1110.2,637L1112.7,637L1115.2,637L1117.7,637L1120.2,637L1122.7,637L1125.2,637L1127.7,637L1130.2,637L1132.7,637L1135.2,637L1137.7,637L1140.3,637L1142.8,637L1145.3,637L1147.8,637L1150.3,637L1152.8,637L1155.3,637L1157.8,637L1160.3,637L1162.8,637L1165.3,637L1167.8,637L1170.3,637L1172.8,637L1175.3,637L1177.8,637L1180.3,637L1182.8,637L1185.3,637L1187.8,637L1190.3,637L1192.8,637L1195.3,637L1197.8,637L1200.3,637L1202.8,637L1205.3,637L1207.9,637L1210.4,637L1212.9,637L1215.4,637L1217.9,637L1220.4,637L1222.9,637L1225.4,637L1227.9,637L1230.4,637L1232.9,637L1235.4,637L1237.9,637L1240.4,637L1242.9,637L1245.4,637L1247.9,637L1250.4,637L1252.9,637.1L1255.4,637.1L1257.9,637.1L1260.4,637.1L1262.9,637.1L1265.4,637.1L1267.9,637.2L1270.4,637.2L1272.9,637.2L1275.5,637.2L1278,637.2L1280.5,637.2L1283,637.3L1285.5,637.3L1288,637.3L1290.5,637.3L1293,637.4L1295.5,637.4L1298,637.4L1300.5,637.4L1303,637.5L1305.5,637.5L1308,637.5"/>
<path d="M732,684.6L734.5,684.4L737,684.2L739.5,684.1L742,683.9L744.5,683.7L747,683.4L749.5,683.2L752,682.9L754.5,682.7L757.1,682.4L759.6,682.1L762.1,681.8L764.6,681.5L767.1,681.1L769.6,680.8L772.1,680.4L774.6,680L777.1,679.7L779.6,679.2L782.1,678.8L784.6,678.4L787.1,677.9L789.6,677.5L792.1,677L794.6,676.5L797.1,676L799.6,675.4L802.1,674.9L804.7,674.3L807.2,673.8L809.7,673.2L812.2,672.6L814.7,671.9L817.2,671.3L819.7,670.6L822.2,670L824.7,669.3L827.2,668.6L829.7,667.9L832.2,667.1L834.7,666.4L837.2,665.6L839.7,664.9L842.2,664.1L844.7,663.2L847.2,662.4L849.7,661.6L852.3,660.7L854.8,659.8L857.3,658.9L859.8,658L862.3,657.1L864.8,656.1L867.3,655.2L869.8,654.2L872.3,653.2L874.8,652.2L877.3,651.2L879.8,650.1L882.3,649.1L884.8,648L887.3,646.9L889.8,645.8L892.3,644.7L894.8,643.5L897.3,642.4L899.9,641.2L902.4,640L904.9,638.8L907.4,637.6L909.9,636.4L912.4,635.1L914.9,633.8L917.4,632.6L919.9,631.3L922.4,629.9L924.9,628.6L927.4,627.3L929.9,625.9L932.4,624.5L934.9,623.1L937.4,621.7L939.9,620.3L942.4,618.8L944.9,617.4L947.5,615.9L950,614.4L952.5,612.9L955,611.4L957.5,609.9L960,608.3L962.5,606.8L965,605.2L967.5,603.6L970,602"/>
<path d="M732,698.9L734.5,699.6L737,700.4L739.5,701.4L742,702.6L744.6,703.9L747.1,705.3L749.6,706.9L752.1,708.6L754.6,710.4L757.1,712.3L759.6,714.3L762.1,716.4L764.6,718.6L767.2,720.9L769.7,723.2L772.2,725.6L774.7,728L777.2,730.5L779.7,733L782.2,735.5L784.7,738.1L787.2,740.7L789.8,743.3L792.3,746L794.8,748.7L797.3,751.4L799.8,754.2L802.3,756.9L804.8,759.7L807.3,762.5L809.8,765.4L812.3,768.2L814.9,771.1L817.4,773.9L819.9,776.8L822.4,779.7L824.9,782.6L827.4,785.5L829.9,788.4L832.4,791.3L834.9,794.2L837.5,797.2L840,800.1L842.5,803L845,805.9L847.5,808.8L850,811.7L852.5,814.6L855,817.4L857.5,820.3L860.1,823.1L862.6,826L865.1,828.8L867.6,831.5L870.1,834.3L872.6,837.1L875.1,839.8L877.6,842.5L880.1,845.1L882.7,847.8L885.2,850.4L887.7,853L890.2,855.5L892.7,858L895.2,860.5L897.7,862.9L900.2,865.3L902.7,867.6L905.2,869.9L907.8,872.1L910.3,874.3L912.8,876.5L915.3,878.6L917.8,880.6L920.3,882.6L922.8,884.6L925.3,886.4L927.8,888.3L930.4,890L932.9,891.7L935.4,893.3L937.9,894.9L940.4,896.4L942.9,897.8L945.4,899.2L947.9,900.5L950.4,901.7L953,902.8L955.5,903.8L958,904.8L960.5,905.7L963,906.5"/>
<path d="M977.5,908L980,907.4L982.5,906.7L985,905.8L987.5,904.9L990,903.8L992.5,902.7L995,901.4L997.5,900L1000,898.6L1002.5,897L1005,895.4L1007.5,893.7L1010,891.9L1012.6,890L1015.1,888L1017.6,886L1020.1,883.9L1022.6,881.7L1025.1,879.4L1027.6,877.1L1030.1,874.8L1032.6,872.4L1035.1,869.9L1037.6,867.4L1040.1,864.8L1042.6,862.2L1045.1,859.6L1047.6,856.9L1050.1,854.2L1052.6,851.5L1055.1,848.7L1057.6,845.9L1060.1,843.1L1062.6,840.3L1065.1,837.4L1067.6,834.6L1070.1,831.7L1072.6,828.8L1075.1,826L1077.7,823.1L1080.2,820.2L1082.7,817.4L1085.2,814.5L1087.7,811.7L1090.2,808.9L1092.7,806.1L1095.2,803.3L1097.7,800.6L1100.2,797.8L1102.7,795.1L1105.2,792.4L1107.7,789.7L1110.2,787L1112.7,784.4L1115.2,781.7L1117.7,779.1L1120.2,776.5L1122.7,773.9L1125.2,771.3L1127.7,768.7L1130.2,766.1L1132.7,763.5L1135.2,761L1137.7,758.4L1140.2,755.9L1142.8,753.3L1145.3,750.8L1147.8,748.2L1150.3,745.7L1152.8,743.2L1155.3,740.6L1157.8,738.1L1160.3,735.6L1162.8,733L1165.3,730.5L1167.8,728L1170.3,725.4L1172.8,722.9L1175.3,720.3L1177.8,717.8L1180.3,715.3L1182.8,712.7L1185.3,710.2L1187.8,707.7L1190.3,705.2L1192.8,702.7L1195.3,700.1L1197.8,697.6L1200.3,695.2L1202.8,692.7L1205.3,690.2L1207.8,687.7L1210.4,685.3L1212.9,682.8L1215.4,680.4L1217.9,678L1220.4,675.6L1222.9,673.2L1225.4,670.8L1227.9,668.5L1230.4,666.2L1232.9,663.8L1235.4,661.5L1237.9,659.3L1240.4,657L1242.9,654.8L1245.4,652.5L1247.9,650.4L1250.4,648.2L1252.9,646L1255.4,643.9L1257.9,641.8L1260.4,639.7L1262.9,637.7L1265.4,635.6L1267.9,633.6L1270.4,631.6L1272.9,629.6L1275.5,627.7L1278,625.7L1280.5,623.8L1283,621.8L1285.5,619.9L1288,618L1290.5,616.1L1293,614.2L1295.5,612.3L1298,610.5L1300.5,608.6L1303,606.7L1305.5,604.9L1308,603"/>
<path d="M970,637.5L972.5,637.4L975,637.3L977.5,637.3L980,637.4L982.5,637.5L985,637.8L987.5,638.1L990,638.6L992.6,639.1L995.1,639.7L997.6,640.4L1000.1,641.1L1002.6,642L1005.1,642.9L1007.6,643.9L1010.1,645L1012.6,646.2L1015.1,647.4L1017.6,648.7L1020.1,650.2L1022.6,651.6L1025.1,653.2L1027.6,654.9L1030.1,656.6L1032.7,658.4L1035.2,660.3L1037.7,662.3L1040.2,664.3L1042.7,666.4L1045.2,668.6L1047.7,670.9L1050.2,673.3L1052.7,675.7L1055.2,678.1L1057.7,680.7L1060.2,683.2L1062.7,685.8L1065.2,688.4L1067.7,691.1L1070.2,693.7L1072.7,696.4L1075.3,699L1077.8,701.6L1080.3,704.2L1082.8,706.7L1085.3,709.2L1087.8,711.7L1090.3,714.1L1092.8,716.5L1095.3,718.8L1097.8,721.2L1100.3,723.5L1102.8,725.8L1105.3,728L1107.8,730.3L1110.3,732.5L1112.8,734.7L1115.3,736.9L1117.9,739.1L1120.4,741.3L1122.9,743.5L1125.4,745.7L1127.9,747.9L1130.4,750.2L1132.9,752.4L1135.4,754.7L1137.9,757L1140.4,759.3L1142.9,761.6L1145.4,764L1147.9,766.4L1150.4,768.8L1152.9,771.3L1155.4,773.8L1158,776.4L1160.5,779L1163,781.7L1165.5,784.4L1168,787.2L1170.5,790L1173,792.9L1175.5,795.8L1178,798.8L1180.5,801.8L1183,804.8L1185.5,807.8L1188,810.8L1190.5,813.9L1193,816.9L1195.5,819.9L1198,823L1200.6,826L1203.1,829L1205.6,831.9L1208.1,834.8L1210.6,837.7L1213.1,840.6L1215.6,843.4L1218.1,846.1L1220.6,848.8L1223.1,851.4L1225.6,854L1228.1,856.4L1230.6,858.9L1233.1,861.2L1235.6,863.5L1238.1,865.8L1240.6,867.9L1243.2,870.1L1245.7,872.1L1248.2,874.2L1250.7,876.1L1253.2,878.1L1255.7,880L1258.2,881.8L1260.7,883.6L1263.2,885.3L1265.7,887.1L1268.2,888.7L1270.7,890.4L1273.2,892L1275.7,893.6L1278.2,895.2L1280.7,896.7L1283.3,898.2L1285.8,899.7L1288.3,901.1L1290.8,902.6L1293.3,904L1295.8,905.4L1298.3,906.8L1300.8,908.1L1303.3,909.5"/>
</g></g>
<path d="M116,702.7H691" stroke="#000" stroke-width="6.4" stroke-dasharray="26.5 27.1" fill="none"/><path d="M732,703H1307" stroke="#000" stroke-width="6.4" stroke-dasharray="26.3 27.8" fill="none"/><rect x="347.2" y="896" width="14.2" height="17" fill="#fcfbfb"/><rect x="963.5" y="896" width="13.8" height="17" fill="#fcfbfb"/>
<rect x="115.5" y="9.5" width="576" height="904" fill="none" stroke="#303030" stroke-width="1.8"/>
<path d="M115.5,832.4h8.5M691.5,832.4h-8.5M115.5,750.0h8.5M691.5,750.0h-8.5M115.5,667.5h8.5M691.5,667.5h-8.5M115.5,585.1h8.5M691.5,585.1h-8.5M115.5,502.6h8.5M691.5,502.6h-8.5M115.5,420.2h8.5M691.5,420.2h-8.5M115.5,337.8h8.5M691.5,337.8h-8.5M115.5,255.3h8.5M691.5,255.3h-8.5M115.5,172.9h8.5M691.5,172.9h-8.5M115.5,90.4h8.5M691.5,90.4h-8.5M354,9.5v8.5M354,913.5v-8.5" stroke="#262626" stroke-width="1.4" fill="none"/>
<rect x="732.1" y="9.5" width="575.6" height="904" fill="none" stroke="#303030" stroke-width="1.8"/>
<path d="M732.1,832.4h8.5M1307.7,832.4h-8.5M732.1,750.0h8.5M1307.7,750.0h-8.5M732.1,667.5h8.5M1307.7,667.5h-8.5M732.1,585.1h8.5M1307.7,585.1h-8.5M732.1,502.6h8.5M1307.7,502.6h-8.5M732.1,420.2h8.5M1307.7,420.2h-8.5M732.1,337.8h8.5M1307.7,337.8h-8.5M732.1,255.3h8.5M1307.7,255.3h-8.5M732.1,172.9h8.5M1307.7,172.9h-8.5M732.1,90.4h8.5M1307.7,90.4h-8.5M970,9.5v8.5M970,913.5v-8.5" stroke="#262626" stroke-width="1.4" fill="none"/>
<g font-family="Liberation Sans, sans-serif" font-size="31.5" fill="#000" text-anchor="end">
<text x="101.8" y="844.6">10</text>
<text x="101.8" y="762.2">20</text>
<text x="101.8" y="679.7">30</text>
<text x="101.8" y="597.3">40</text>
<text x="101.8" y="514.8">50</text>
<text x="101.8" y="432.4">60</text>
<text x="101.8" y="350.0">70</text>
<text x="101.8" y="267.5">80</text>
<text x="101.8" y="185.1">90</text>
<text x="101.8" y="102.6">100</text>
</g>
<g font-family="Liberation Sans, sans-serif" font-size="32" fill="#000" text-anchor="middle">
<text x="115.65" y="954.3">N</text><text x="692.85" y="954.4">H</text><text x="731.9" y="954.4">N</text><text x="1309.2" y="954.5">H</text>
</g>
<g font-family="Liberation Serif, serif" font-size="32.5" fill="#000" text-anchor="middle">
<text x="353.15" y="954.6">&#915;</text><text x="969.3" y="954.6">&#915;</text>
</g>
<text font-family="Liberation Serif, serif" font-size="38.4" x="544.6" y="1004.1" textLength="283.7" lengthAdjust="spacingAndGlyphs">Momentum (r.l.u.)</text>
<text font-family="Liberation Serif, serif" font-size="38.5" transform="translate(31.4,579) rotate(-90)" x="0" y="0" textLength="225.5" lengthAdjust="spacingAndGlyphs">Energy (meV)</text>
<g font-family="Liberation Sans, sans-serif" fill="#000" stroke="#000" stroke-width="0.9">
<text font-size="46.5" transform="translate(141.9,79.9) scale(0.81,1)">a</text>
<text font-size="50.3" transform="translate(169.1,79.3) scale(0.78,1)">)</text>
<text font-size="49.5" x="745.6" y="77.1">b</text>
<text font-size="50.4" transform="translate(776.2,76.5) scale(0.72,1)">)</text>
</g>
</svg></body></html>
